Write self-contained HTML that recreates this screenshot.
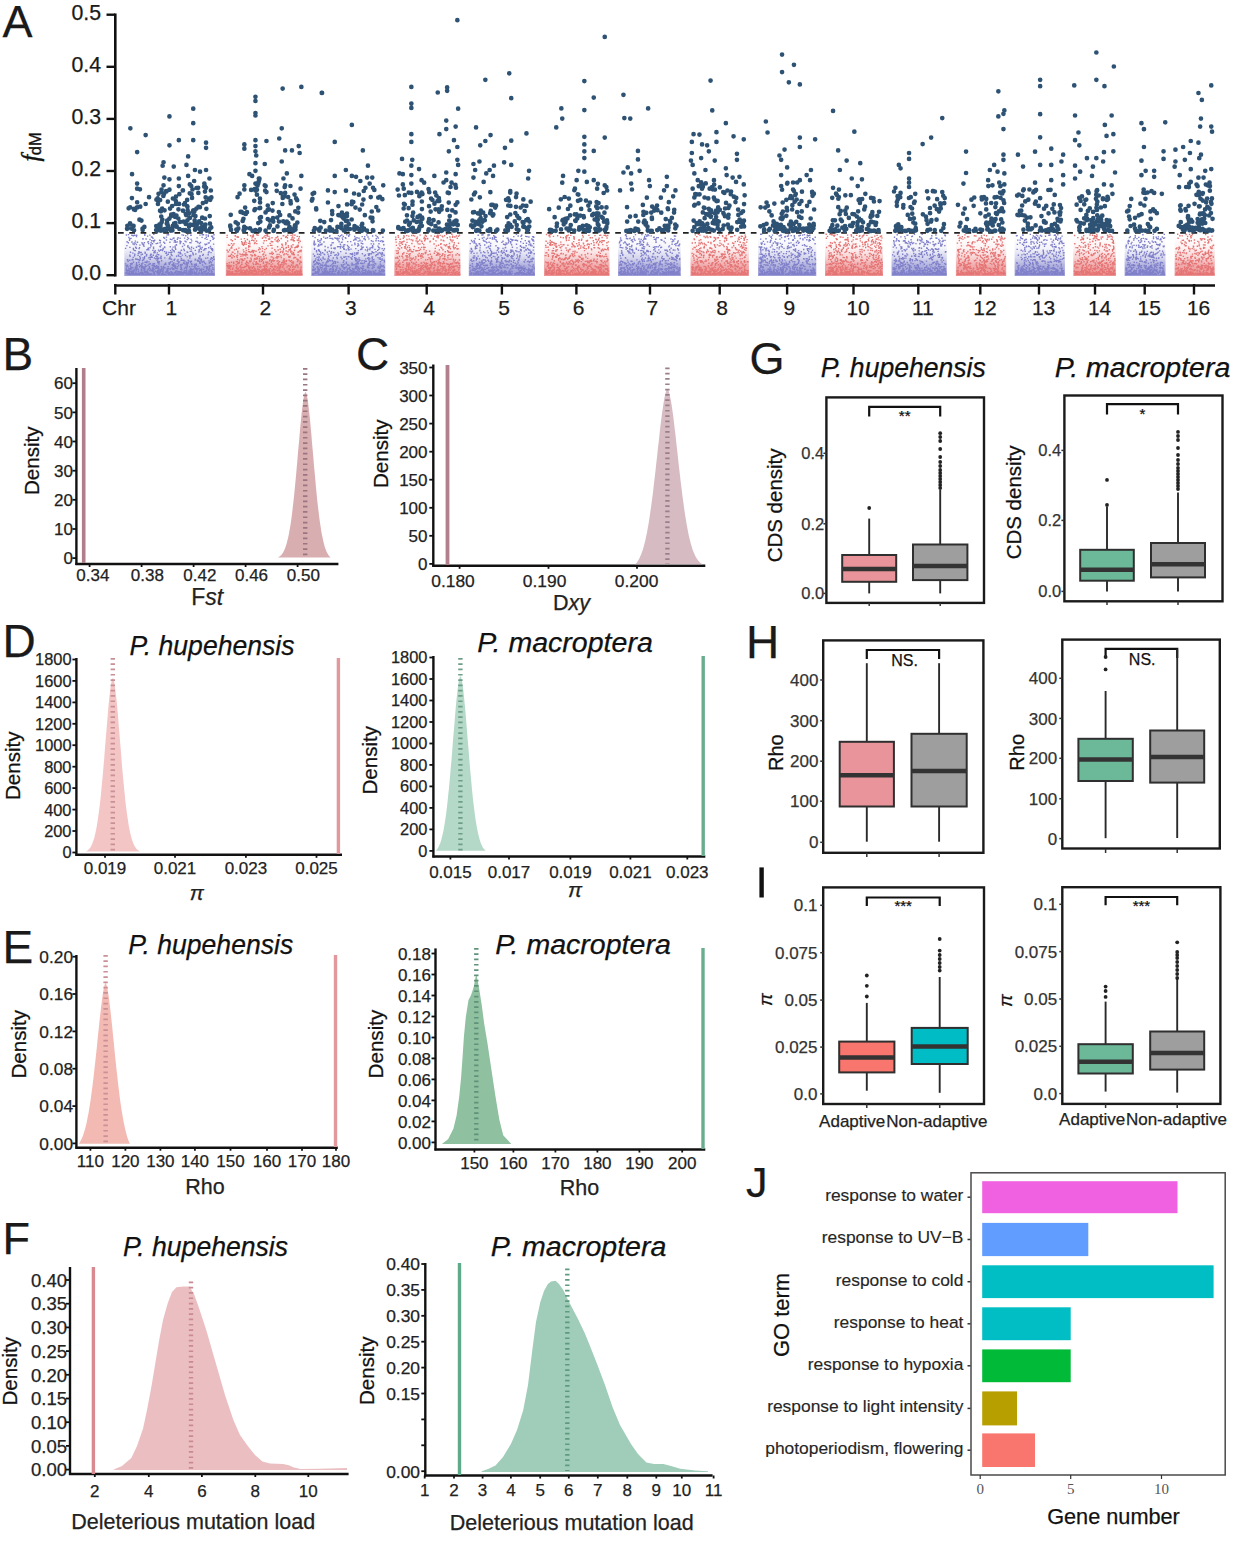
<!DOCTYPE html>
<html><head><meta charset="utf-8"><title>figure</title>
<style>html,body{margin:0;padding:0;background:#fff;width:1234px;height:1563px;overflow:hidden}svg{display:block}text{font-family:"Liberation Sans",sans-serif}</style>
</head><body><svg width="1234" height="1563" viewBox="0 0 1234 1563">
<rect width="1234" height="1563" fill="#fff"/>
<text x="2.5" y="37.0" font-size="45" text-anchor="start" fill="#1a1a1a" stroke="#1a1a1a" stroke-width="0.25">A</text>
<line x1="115.3" y1="13.5" x2="115.3" y2="276.5" stroke="#111" stroke-width="2.6"/>
<line x1="106.5" y1="275.2" x2="115.3" y2="275.2" stroke="#111" stroke-width="2.4"/>
<text x="101.0" y="280.0" font-size="21.3" text-anchor="end" fill="#1a1a1a" stroke="#1a1a1a" stroke-width="0.25">0.0</text>
<line x1="106.5" y1="223.1" x2="115.3" y2="223.1" stroke="#111" stroke-width="2.4"/>
<text x="101.0" y="227.9" font-size="21.3" text-anchor="end" fill="#1a1a1a" stroke="#1a1a1a" stroke-width="0.25">0.1</text>
<line x1="106.5" y1="171.0" x2="115.3" y2="171.0" stroke="#111" stroke-width="2.4"/>
<text x="101.0" y="175.8" font-size="21.3" text-anchor="end" fill="#1a1a1a" stroke="#1a1a1a" stroke-width="0.25">0.2</text>
<line x1="106.5" y1="118.9" x2="115.3" y2="118.9" stroke="#111" stroke-width="2.4"/>
<text x="101.0" y="123.7" font-size="21.3" text-anchor="end" fill="#1a1a1a" stroke="#1a1a1a" stroke-width="0.25">0.3</text>
<line x1="106.5" y1="66.8" x2="115.3" y2="66.8" stroke="#111" stroke-width="2.4"/>
<text x="101.0" y="71.6" font-size="21.3" text-anchor="end" fill="#1a1a1a" stroke="#1a1a1a" stroke-width="0.25">0.4</text>
<line x1="106.5" y1="14.7" x2="115.3" y2="14.7" stroke="#111" stroke-width="2.4"/>
<text x="101.0" y="19.5" font-size="21.3" text-anchor="end" fill="#1a1a1a" stroke="#1a1a1a" stroke-width="0.25">0.5</text>
<text transform="translate(38.5 161.5) rotate(-90)" font-size="25" fill="#111" stroke="#111" stroke-width="0.4"><tspan font-style="italic" font-size="24.5" style='font-family:"Liberation Serif",serif'>f</tspan><tspan font-size="16.5" dy="2" dx="-0.6">dM</tspan></text>
<line x1="114.0" y1="285.5" x2="1215.0" y2="285.5" stroke="#111" stroke-width="2.6"/>
<line x1="115.3" y1="284.0" x2="115.3" y2="294.5" stroke="#111" stroke-width="2.4"/>
<text x="119.0" y="314.8" font-size="21" text-anchor="middle" fill="#1a1a1a" stroke="#1a1a1a" stroke-width="0.25">Chr</text>
<line x1="169.0" y1="284.0" x2="169.0" y2="294.5" stroke="#111" stroke-width="2.4"/>
<text x="171.3" y="314.8" font-size="21" text-anchor="middle" fill="#1a1a1a" stroke="#1a1a1a" stroke-width="0.25">1</text>
<line x1="263.0" y1="284.0" x2="263.0" y2="294.5" stroke="#111" stroke-width="2.4"/>
<text x="265.3" y="314.8" font-size="21" text-anchor="middle" fill="#1a1a1a" stroke="#1a1a1a" stroke-width="0.25">2</text>
<line x1="348.6" y1="284.0" x2="348.6" y2="294.5" stroke="#111" stroke-width="2.4"/>
<text x="350.9" y="314.8" font-size="21" text-anchor="middle" fill="#1a1a1a" stroke="#1a1a1a" stroke-width="0.25">3</text>
<line x1="426.7" y1="284.0" x2="426.7" y2="294.5" stroke="#111" stroke-width="2.4"/>
<text x="429.0" y="314.8" font-size="21" text-anchor="middle" fill="#1a1a1a" stroke="#1a1a1a" stroke-width="0.25">4</text>
<line x1="501.9" y1="284.0" x2="501.9" y2="294.5" stroke="#111" stroke-width="2.4"/>
<text x="504.2" y="314.8" font-size="21" text-anchor="middle" fill="#1a1a1a" stroke="#1a1a1a" stroke-width="0.25">5</text>
<line x1="576.4" y1="284.0" x2="576.4" y2="294.5" stroke="#111" stroke-width="2.4"/>
<text x="578.7" y="314.8" font-size="21" text-anchor="middle" fill="#1a1a1a" stroke="#1a1a1a" stroke-width="0.25">6</text>
<line x1="650.0" y1="284.0" x2="650.0" y2="294.5" stroke="#111" stroke-width="2.4"/>
<text x="652.3" y="314.8" font-size="21" text-anchor="middle" fill="#1a1a1a" stroke="#1a1a1a" stroke-width="0.25">7</text>
<line x1="719.7" y1="284.0" x2="719.7" y2="294.5" stroke="#111" stroke-width="2.4"/>
<text x="722.0" y="314.8" font-size="21" text-anchor="middle" fill="#1a1a1a" stroke="#1a1a1a" stroke-width="0.25">8</text>
<line x1="787.1" y1="284.0" x2="787.1" y2="294.5" stroke="#111" stroke-width="2.4"/>
<text x="789.4" y="314.8" font-size="21" text-anchor="middle" fill="#1a1a1a" stroke="#1a1a1a" stroke-width="0.25">9</text>
<line x1="853.5" y1="284.0" x2="853.5" y2="294.5" stroke="#111" stroke-width="2.4"/>
<text x="858.1" y="314.8" font-size="21" text-anchor="middle" fill="#1a1a1a" stroke="#1a1a1a" stroke-width="0.25">10</text>
<line x1="918.3" y1="284.0" x2="918.3" y2="294.5" stroke="#111" stroke-width="2.4"/>
<text x="922.9" y="314.8" font-size="21" text-anchor="middle" fill="#1a1a1a" stroke="#1a1a1a" stroke-width="0.25">11</text>
<line x1="980.3" y1="284.0" x2="980.3" y2="294.5" stroke="#111" stroke-width="2.4"/>
<text x="984.9" y="314.8" font-size="21" text-anchor="middle" fill="#1a1a1a" stroke="#1a1a1a" stroke-width="0.25">12</text>
<line x1="1039.0" y1="284.0" x2="1039.0" y2="294.5" stroke="#111" stroke-width="2.4"/>
<text x="1043.6" y="314.8" font-size="21" text-anchor="middle" fill="#1a1a1a" stroke="#1a1a1a" stroke-width="0.25">13</text>
<line x1="1095.0" y1="284.0" x2="1095.0" y2="294.5" stroke="#111" stroke-width="2.4"/>
<text x="1099.6" y="314.8" font-size="21" text-anchor="middle" fill="#1a1a1a" stroke="#1a1a1a" stroke-width="0.25">14</text>
<line x1="1144.7" y1="284.0" x2="1144.7" y2="294.5" stroke="#111" stroke-width="2.4"/>
<text x="1149.3" y="314.8" font-size="21" text-anchor="middle" fill="#1a1a1a" stroke="#1a1a1a" stroke-width="0.25">15</text>
<line x1="1194.0" y1="284.0" x2="1194.0" y2="294.5" stroke="#111" stroke-width="2.4"/>
<text x="1198.6" y="314.8" font-size="21" text-anchor="middle" fill="#1a1a1a" stroke="#1a1a1a" stroke-width="0.25">16</text>
<defs><linearGradient id="gb" x1="0" y1="0" x2="0" y2="1"><stop offset="0" stop-color="#8585cc" stop-opacity="0.0"/><stop offset="0.3" stop-color="#8585cc" stop-opacity="0.1"/><stop offset="0.55" stop-color="#8585cc" stop-opacity="0.35"/><stop offset="0.72" stop-color="#8585cc" stop-opacity="0.62"/><stop offset="1" stop-color="#8585cc" stop-opacity="0.82"/></linearGradient><linearGradient id="gr" x1="0" y1="0" x2="0" y2="1"><stop offset="0" stop-color="#e87a7c" stop-opacity="0.0"/><stop offset="0.3" stop-color="#e87a7c" stop-opacity="0.1"/><stop offset="0.55" stop-color="#e87a7c" stop-opacity="0.35"/><stop offset="0.72" stop-color="#e87a7c" stop-opacity="0.62"/><stop offset="1" stop-color="#e87a7c" stop-opacity="0.82"/></linearGradient></defs>
<rect x="124.3" y="236.5" width="90.7" height="39.5" fill="url(#gb)"/>
<path stroke="#7f7fca" stroke-width="1.4" d="M164.9 263.2h1.4M206.8 266.9h1.4M169.8 262h1.4M141.2 265.2h1.4M180.7 250.3h1.4M133.1 271.5h1.4M132.8 249.2h1.4M186.3 274.4h1.4M211.9 237.3h1.4M182.8 260.6h1.4M138.8 274.4h1.4M171.7 274.3h1.4M141.7 272.6h1.4M127.5 267h1.4M163.9 246.9h1.4M170.8 259.4h1.4M169.1 258.2h1.4M165.4 272h1.4M213.3 234.7h1.4M199.3 255.6h1.4M152.8 272.8h1.4M150.4 274.3h1.4M192.8 269h1.4M199.9 269.4h1.4M209.8 246.5h1.4M124.8 273.1h1.4M205.5 266.8h1.4M211.8 269.1h1.4M131.3 259.9h1.4M193.9 272.2h1.4M132.5 270.8h1.4M210.3 252.6h1.4M135.3 272.6h1.4M133.8 274.3h1.4M195.5 273.5h1.4M174.4 267.6h1.4M141.7 254.2h1.4M136.4 259.2h1.4M135.1 268.4h1.4M143.7 272.2h1.4M210.9 249.6h1.4M151.8 243.7h1.4M143.5 269.2h1.4M200.6 259.3h1.4M133.7 235.2h1.4M143.7 272.4h1.4M193.3 270.9h1.4M151.1 274.3h1.4M132.8 262.2h1.4M146.4 261.3h1.4M157.8 267.4h1.4M209.9 266.3h1.4M175.8 245.1h1.4M141 273.7h1.4M205.4 248.6h1.4M146.9 273.4h1.4M190.4 239.4h1.4M142.2 238.6h1.4M203.1 261.2h1.4M162.2 274.1h1.4M128.2 237.5h1.4M145.9 255.8h1.4M147.6 248.2h1.4M177.7 271.7h1.4M140.4 254.9h1.4M130.9 272.8h1.4M174.4 246.2h1.4M179.3 272h1.4M206.2 273.2h1.4M126.3 272.2h1.4M164.3 274.3h1.4M140.4 269.9h1.4M175.6 273.9h1.4M156.9 243.3h1.4M211.8 258.5h1.4M186.1 262.1h1.4M137.2 274.4h1.4M126.4 241.8h1.4M187 237.5h1.4M126.7 259.6h1.4M167.6 254.3h1.4M153.1 234.3h1.4M131.5 263.8h1.4M190.2 242.6h1.4M190.2 255.9h1.4M195.2 241.4h1.4M156 256.9h1.4M204.7 244.8h1.4M161.8 250.5h1.4M201.4 262.6h1.4M180.2 269.6h1.4M176.5 260.9h1.4M131.9 259.4h1.4M212.9 244.1h1.4M189.4 269.4h1.4M190 262.3h1.4M163.9 247.2h1.4M132.2 253.1h1.4M127.4 261.3h1.4M167.5 272.8h1.4M186.7 265.8h1.4M179.3 241h1.4M147.5 274.4h1.4M151.5 257.3h1.4M142.8 273.6h1.4M205.1 258.3h1.4M164 243.2h1.4M153.8 258h1.4M142.4 268.1h1.4M196.3 241.5h1.4M202.9 269.5h1.4M176.5 271.2h1.4M136.9 265.8h1.4M199.1 246.4h1.4M187.9 238.6h1.4M149.4 273.6h1.4M164.8 272.1h1.4M143.8 268.6h1.4M180.3 265.9h1.4M152.8 247.1h1.4M211.9 267.4h1.4M131.4 274.4h1.4M202.2 274.4h1.4M187.7 262.7h1.4M152.2 250.4h1.4M126.5 273.9h1.4M165.1 274.4h1.4M198.4 272.7h1.4M137.3 274.4h1.4M180.6 267.6h1.4M180.7 258.6h1.4M196.4 237.9h1.4M185.5 273.2h1.4M166.9 273.5h1.4M125.8 266.7h1.4M188.1 273.5h1.4M149 270.5h1.4M186.7 264.9h1.4M179.3 252.7h1.4M159.7 250.4h1.4M205.2 274.2h1.4M207.5 254.8h1.4M136.3 267.4h1.4M180.3 241.8h1.4M158.2 262.8h1.4M202.8 250.1h1.4M208.6 267h1.4M182.6 273.2h1.4M188.8 248.6h1.4M181.7 255.1h1.4M143.7 242.6h1.4M211.8 236.3h1.4M172.4 250.5h1.4M153.2 241.8h1.4M200.7 270.5h1.4M132.1 267.8h1.4M173.6 251.9h1.4M168 274.4h1.4M196.6 274.3h1.4M195.7 273.6h1.4M154.5 250.7h1.4M137.3 273.8h1.4M170.6 254.7h1.4M199.3 256.7h1.4M208.7 266h1.4M209 274.2h1.4M144.4 264.6h1.4M150.5 254.4h1.4M181.5 264.8h1.4M199.6 263.2h1.4M152.4 269.6h1.4M199.8 242.5h1.4M143.3 246.3h1.4M210.7 264.7h1.4M175.6 273.2h1.4M172.3 265.5h1.4M178.5 274.4h1.4M210.8 265h1.4M160.3 249.8h1.4M174.7 266h1.4M186.1 274.3h1.4M172.6 268.6h1.4M209.7 240.7h1.4M148.7 266.7h1.4M136.1 268h1.4M197.2 242.5h1.4M167.1 271.2h1.4M141.8 260.5h1.4M206.9 274h1.4M193.9 274.4h1.4M142 272.9h1.4M185.7 271.1h1.4M156.3 260.4h1.4M134.1 254.3h1.4M135.7 265.3h1.4M147 273.3h1.4M171.8 267.9h1.4M158.1 268.7h1.4M171.8 273.7h1.4M142.9 259.8h1.4M181.4 264.5h1.4M200.3 260.8h1.4M200.8 272.8h1.4M190.5 249.1h1.4M204.9 271.2h1.4M152.7 240.8h1.4M144.1 234.4h1.4M203.5 273.9h1.4M146 254.5h1.4M147.8 274.2h1.4M198.6 268.4h1.4M194.9 274h1.4M160.5 256.9h1.4M126.4 273.2h1.4M185.3 241.7h1.4M210.7 274.1h1.4M169.7 252.6h1.4M169.4 256.9h1.4M141.6 274.3h1.4M134.2 274.4h1.4M173.7 265.1h1.4M175.2 273.8h1.4M141.2 273.2h1.4M199.3 235.1h1.4M207 274.2h1.4M130.3 238.4h1.4M165.8 252.2h1.4M153.8 266.9h1.4M170.5 268.1h1.4M178.1 274.4h1.4M187 246.8h1.4M140.9 267.3h1.4M190.4 268.9h1.4M142.1 273.6h1.4M170.3 274.4h1.4M204 249.7h1.4M187.3 245.6h1.4M180.6 268.9h1.4M178 265.5h1.4M212 249.5h1.4M147.7 241.7h1.4M190.8 251.3h1.4M197.1 268.9h1.4M204.3 244.1h1.4M186.4 252h1.4M192.7 268.9h1.4M188.9 274.3h1.4M155.1 266.8h1.4M125.7 270.3h1.4M181.5 260.2h1.4M145.4 239h1.4M183.9 270.7h1.4M183.3 262.8h1.4M172.1 269.4h1.4M213.5 259.3h1.4M187 252.4h1.4M211.7 274.4h1.4M179.4 253.8h1.4M147.6 269h1.4M129.3 273.3h1.4M158.1 274.2h1.4M147.1 242.1h1.4M173.6 265.4h1.4M210.6 262.8h1.4M213.1 259.5h1.4M196.6 274.3h1.4M177.8 252.5h1.4M128.8 240.2h1.4M139 266.7h1.4M139.8 265.8h1.4M179 274.3h1.4M208.6 268.4h1.4M171.5 261.5h1.4M157.2 271.9h1.4M182.9 263.2h1.4M149.9 255.1h1.4M151.1 274.4h1.4M146.5 274.4h1.4M138.7 252.8h1.4M159.4 242.8h1.4M191.2 274.3h1.4M212.5 239h1.4M131.3 242.1h1.4M162.9 266.5h1.4M211.1 272.6h1.4M171.2 239.6h1.4M188.9 266.8h1.4M211.6 248.7h1.4M178.3 274.1h1.4M180.2 267.3h1.4M142.9 274.3h1.4M171.6 274h1.4M164.1 257.9h1.4M165.2 272.3h1.4M176.4 268.5h1.4M193.8 264.4h1.4M213.3 238.3h1.4M189.9 272.7h1.4M134.9 243.1h1.4M194.4 260.1h1.4M156.7 272.1h1.4M185.6 263h1.4M177.3 259.7h1.4M191.6 273.4h1.4M146.9 236.1h1.4M206 244.2h1.4M128.3 274.3h1.4M148.8 268.3h1.4M180.1 274.1h1.4M172.8 274.3h1.4M132.5 257.4h1.4M173.6 259.8h1.4M157.9 266.5h1.4M143.5 270.6h1.4M190.9 247.2h1.4M131.4 274h1.4M196.6 260.2h1.4M193 273.1h1.4M162.4 272.4h1.4M196.6 269.9h1.4M182.8 235.2h1.4M153.7 263.7h1.4M191 240.9h1.4M162.7 269.9h1.4M133.4 244.5h1.4M131.8 274.2h1.4M174.8 266.2h1.4M185.6 271.6h1.4M193.6 274.3h1.4M143.7 258.2h1.4M132 271.5h1.4M189.1 256.4h1.4M149.9 273.8h1.4M156.5 254.6h1.4M157.3 274h1.4M187.7 262.8h1.4M206.3 239.4h1.4M205.8 267.9h1.4M196 271.5h1.4M153 269.1h1.4M207.7 243h1.4M146.8 270.1h1.4M157.2 270.1h1.4M159.9 269.4h1.4M142.1 263h1.4M195.5 264h1.4M199 263.1h1.4M140.5 252.5h1.4M202.9 271.9h1.4M126.8 265.1h1.4M173.1 262.9h1.4M210.5 258.8h1.4M196.1 274.3h1.4M173.3 250.6h1.4M132.3 274.2h1.4M190.2 242.7h1.4M132.3 259.7h1.4M137.6 253.4h1.4M182.4 272.6h1.4M144.4 252.1h1.4M171.1 252.2h1.4M159.8 270.7h1.4M210.7 257.6h1.4M168.6 264.2h1.4M188.7 255.6h1.4M206 268.7h1.4M198.1 258h1.4M200.5 249.4h1.4M198.8 243.5h1.4M209.8 259.4h1.4M171.3 255.5h1.4M196 268.4h1.4M162.1 273.8h1.4M190.5 235.1h1.4M158.1 273.6h1.4M142.9 268.3h1.4M150.7 236.9h1.4M130.1 271.4h1.4M135 259h1.4M193.6 273.5h1.4M130.3 267.2h1.4M176.6 241.9h1.4M128 274.1h1.4M141.2 273h1.4M145.7 255.1h1.4M177.6 272.9h1.4M141.2 271.9h1.4M140.1 252.6h1.4M152.5 263.7h1.4M197.3 266.4h1.4M147.9 243.6h1.4M205.9 270.6h1.4M173.3 238h1.4M167.6 273h1.4M129.2 238.8h1.4M195.9 269.5h1.4M171.6 265h1.4M149.2 235.1h1.4M183.1 272.7h1.4M125.8 266.7h1.4M157.8 250.1h1.4M188.1 261.1h1.4M138.8 273.7h1.4M153.3 272.3h1.4M201.9 265h1.4M181.3 234.9h1.4M148.4 264.3h1.4M138.2 251.8h1.4M124.9 248.4h1.4M199.9 248.3h1.4M132.1 272.2h1.4M188.4 274.2h1.4M167.4 266.8h1.4M209.6 262h1.4M200.8 271.5h1.4M194.8 268.5h1.4M206.1 274.2h1.4M198.1 273.1h1.4M173 264.7h1.4M138.8 247.6h1.4M152.4 271.3h1.4M131.5 271.4h1.4M166.2 255.2h1.4M156.7 256.8h1.4M134.2 269.2h1.4M165.8 237.1h1.4M198.4 258.6h1.4M125.9 269.7h1.4M187.8 272.7h1.4M174.8 267.2h1.4M125.7 235h1.4M195.7 273.1h1.4M179.4 271.8h1.4M158.2 264.1h1.4M151.3 270.7h1.4M159.6 258h1.4M147.5 273.2h1.4M189.7 270.9h1.4M208.6 263.1h1.4M189 270.9h1.4M198.1 274.2h1.4M137.3 274.2h1.4M184.9 255.6h1.4M140.8 269h1.4M199 261.7h1.4M132.8 272.9h1.4M138.7 274h1.4M160.9 274.3h1.4M206.5 268.2h1.4M170.2 259h1.4M192.8 248.4h1.4M159 270.9h1.4M161.4 274.4h1.4M160.3 256.1h1.4M211.9 250.5h1.4M183.4 260.9h1.4M126.4 270.9h1.4M155.2 258.8h1.4M134.2 269.7h1.4M170 250.6h1.4M198 260.8h1.4M138.8 252.1h1.4M204.9 263.7h1.4M156.1 265.7h1.4M137.4 255.3h1.4M212.3 265h1.4M188.3 247.4h1.4M142.3 239h1.4M180.4 273.3h1.4M132.2 272.6h1.4M175.9 256.3h1.4M154 240.3h1.4M156.8 267h1.4M135.8 236.6h1.4M136.8 242.3h1.4M173 263.2h1.4M174.5 272.3h1.4M205.5 235h1.4M197.3 261.3h1.4M135.7 248.2h1.4M150.4 242.8h1.4M146.2 262.6h1.4M198.5 273.4h1.4M173.4 274.3h1.4M127.6 273.5h1.4M212.3 239.4h1.4M183.2 271.4h1.4M184.3 253.9h1.4M158.7 261.7h1.4M196.1 274.4h1.4M142.5 266.9h1.4M137.5 269.4h1.4M175.3 273.5h1.4M170.9 272.3h1.4M175.2 270.9h1.4M181.7 274.4h1.4M184.3 273.8h1.4M209.9 261.4h1.4M166.5 268.7h1.4M180.1 256.7h1.4M192 253h1.4M167.9 234.8h1.4M199.2 246h1.4M161.1 268h1.4M175 242.2h1.4M171.5 264.7h1.4M163.1 242.2h1.4M153.2 274.3h1.4M189.2 242.6h1.4M189.7 261.5h1.4M191.5 271.5h1.4M177.4 274.3h1.4M135.8 267.6h1.4M169.4 269.2h1.4M129.4 256.4h1.4M171.5 272.7h1.4M152 269.2h1.4M145.7 274.3h1.4M205.6 237.2h1.4M183.8 245.1h1.4M162.2 249.5h1.4M144.5 253.3h1.4M175.1 242.3h1.4M133.5 250.4h1.4M135.8 264.2h1.4M209.2 274.4h1.4M146.4 271.6h1.4M153.6 274.3h1.4M204.2 248.8h1.4M160 270.3h1.4M176.7 274.4h1.4M127.6 242.7h1.4M152.1 265.7h1.4M207.6 236.3h1.4M166.7 273.2h1.4M151 240.8h1.4M204.3 273.3h1.4M199.1 270.3h1.4M166.7 273.6h1.4M202.8 234.7h1.4M142.7 259.8h1.4M141.8 244.1h1.4M129.2 274.1h1.4M189.2 271.3h1.4M204.7 244.9h1.4M188.1 273.9h1.4M186.5 239.6h1.4M164.3 274.2h1.4M144.6 271.4h1.4M187.8 273.3h1.4M140.9 272.7h1.4M183.7 250.5h1.4M157.8 258.2h1.4M203.2 261.8h1.4M145.1 271.5h1.4M207 257.9h1.4M149.4 259.4h1.4M132.8 235.8h1.4M163.9 264.5h1.4M171.9 274.4h1.4M178 271.9h1.4M147.1 249.6h1.4M132.5 271.9h1.4M191.8 272.6h1.4M149.6 263.7h1.4M141.3 242.8h1.4M212.4 274.4h1.4M165.7 253.1h1.4M158.9 240.3h1.4M169.1 273.5h1.4M174.1 259.1h1.4M156.7 258.4h1.4M194.3 265h1.4M169.6 246.7h1.4M185.5 264.9h1.4M209.2 273.5h1.4M194 273.6h1.4M178.7 272.7h1.4M163.9 251.6h1.4M194.6 250.4h1.4M145.7 266.1h1.4M144.4 262.3h1.4M169.1 274.4h1.4M177.7 255.2h1.4M175.6 244.7h1.4M140.8 273.8h1.4M126.4 265.8h1.4M163.4 267.8h1.4M148.1 249.9h1.4M131.2 242h1.4M175.3 263.9h1.4M195 272.7h1.4M137.8 271.3h1.4M128.6 271.3h1.4M179.9 264.7h1.4M148.3 261.9h1.4M132.6 248.4h1.4M140 272.4h1.4M139 256.6h1.4M198.5 250.7h1.4M130.2 268.7h1.4M157.1 273h1.4M210.9 274.4h1.4M168.2 252.4h1.4M212.3 273.8h1.4M165.2 253.4h1.4M128.3 272.7h1.4M203.8 273.9h1.4M159.7 271.6h1.4M162.4 274.3h1.4M127.8 234.6h1.4M192.5 254.1h1.4M145.2 272.4h1.4M173.8 272.6h1.4M165.7 240h1.4M157.1 270.7h1.4M211.8 260.8h1.4M128.3 269h1.4M182.4 274.3h1.4M155.2 256.4h1.4M201.5 261.8h1.4M203.4 267h1.4M159.7 246.8h1.4M158.6 251.1h1.4M143.9 270.5h1.4M141.1 263.7h1.4M139.3 273.2h1.4M143.8 266.9h1.4M152.2 267.6h1.4M212.9 257.3h1.4M201.3 273.2h1.4M158.8 274.3h1.4M186.1 270.1h1.4M149.1 274.4h1.4M140.9 272.3h1.4M159.7 240.7h1.4M188.2 272.2h1.4M156.8 273.8h1.4M207.9 270.2h1.4M192.7 254.7h1.4M205.3 274.4h1.4M153.4 269.5h1.4M132.2 243.9h1.4M153.6 251.8h1.4M170.9 274.3h1.4M159.7 272.7h1.4M128.4 273.8h1.4M177.6 274.4h1.4M152.5 268.3h1.4M173.1 273.9h1.4M187.5 272.3h1.4M189.2 258h1.4M137.9 273.2h1.4M149.7 255.4h1.4M160.8 269.4h1.4M201.6 272.9h1.4M150.7 270.5h1.4M143.9 274.4h1.4M127 259.9h1.4M175 249.2h1.4M211.3 271.6h1.4M184.3 241.1h1.4M144 256.7h1.4M183.9 238.1h1.4M201.8 272.7h1.4M180.9 274.2h1.4M162.7 269.3h1.4M130.1 269.5h1.4M153.9 265.8h1.4M149.6 273.7h1.4M160.5 266.6h1.4M139.6 258h1.4M146.1 274.2h1.4M155.1 268.4h1.4M138.2 262.2h1.4M187 263.5h1.4M186.9 274.4h1.4M159.5 270h1.4M130.4 268.9h1.4M129.6 265.8h1.4M176.8 266.8h1.4M153.7 272.4h1.4M126.9 270.5h1.4M203.9 262.9h1.4M148 257.9h1.4M141.3 266.8h1.4M179.4 238.2h1.4M157 262.5h1.4M208.4 251.7h1.4M180.4 260.3h1.4M161.3 268.6h1.4M149.3 247.8h1.4M202.8 269.6h1.4M205.5 274.4h1.4M136.8 265.4h1.4M152.2 270.2h1.4M211.5 273.8h1.4M141.9 272.8h1.4M185.1 272.7h1.4M124.9 263.9h1.4M159.7 272.7h1.4M168.6 258.8h1.4M173.4 260.2h1.4M174.5 247.7h1.4M210.7 270.8h1.4M155.5 243.6h1.4M152.6 255.2h1.4M186.5 256.9h1.4M210.3 248.2h1.4M138.9 260.3h1.4M168.3 263h1.4M157.6 271.9h1.4M191.2 264.3h1.4M145.8 272.5h1.4M153.6 273.5h1.4M170.4 274h1.4M130.4 274.3h1.4M133.9 255.8h1.4M134.8 267.4h1.4M193.3 266.4h1.4M139.2 245.1h1.4M202 274.3h1.4M147.3 265.4h1.4M195.4 269.3h1.4M188.3 272.5h1.4M188.3 271h1.4M154.4 252.5h1.4M199.5 247.9h1.4M175.1 268.4h1.4M187.5 260.2h1.4M198.5 249.8h1.4M135.9 269.7h1.4M184.2 272.8h1.4M141.2 274.4h1.4M176.7 239.3h1.4M210.9 273.9h1.4M185.8 268.5h1.4M180.8 269.2h1.4M207.6 235.3h1.4M129.1 255.3h1.4M135.3 274.4h1.4M150.2 254.3h1.4M212.9 274h1.4M154.1 274.4h1.4M172.9 266.3h1.4M157.9 271.4h1.4M195.8 247.2h1.4M150 269.3h1.4M179.6 252.1h1.4M211.8 269.4h1.4M186.4 263.8h1.4M195.8 273.8h1.4M140.3 274.1h1.4M207.6 272.5h1.4M168.1 274h1.4M153.5 274.4h1.4M175 273.8h1.4M180.3 272.1h1.4M145 266.3h1.4M157.3 272.3h1.4M129.3 274.3h1.4M204 271.4h1.4M131.8 273.4h1.4M167.7 234.5h1.4M142.7 245.1h1.4M167.8 268.6h1.4M196.4 269.2h1.4M129.9 263.6h1.4M183.1 260.2h1.4M149.4 239.5h1.4M201.5 234.8h1.4M164.1 247.5h1.4M189.1 273.5h1.4M127.2 273.6h1.4M135.3 274.3h1.4M156.6 252.9h1.4M152.3 265.1h1.4M125.7 273.1h1.4M209.9 274.4h1.4M171.6 249.2h1.4M195.1 254h1.4M160.2 249.6h1.4M198.2 252h1.4M212.3 274.1h1.4M209.1 269h1.4M187.4 272.5h1.4M205.5 274.4h1.4M176 272.9h1.4M159.3 269.9h1.4M183.1 249.1h1.4M157.1 259.5h1.4M156.2 272h1.4M205.1 271.1h1.4M133.2 270.8h1.4M190.6 273.1h1.4M190.7 263.8h1.4M185.1 273.5h1.4M134.2 273.8h1.4M155.9 268.1h1.4M125.6 265.6h1.4M160.6 271.1h1.4M172.4 238.4h1.4M143 244.1h1.4M153.3 252.8h1.4M134.4 235.4h1.4M163 237.5h1.4M144.3 268.8h1.4M187.4 273.5h1.4M149 257.4h1.4M208.9 271.1h1.4M141.1 270.2h1.4M212.6 273.8h1.4M181.1 269.7h1.4M181.9 273.1h1.4M179.5 243.5h1.4M200.8 260h1.4M169.6 262.9h1.4M134.9 247.2h1.4M186 267.4h1.4M183.8 268.5h1.4M158.9 272.8h1.4M178.1 262.6h1.4M170.5 274.4h1.4M180.4 267.6h1.4M177.4 261.6h1.4M207.4 273.8h1.4M166.4 234.9h1.4M190.3 271.3h1.4M190.1 235.2h1.4M160.5 245.1h1.4M136 235.2h1.4M168.4 272.8h1.4M199.3 258.9h1.4M208 247.8h1.4M195.6 265.2h1.4M212.9 274.3h1.4M202 255.4h1.4M147 249.4h1.4M165.1 264.2h1.4M201.6 273.3h1.4M149.6 259.2h1.4M131.3 263.4h1.4M194.6 266h1.4M146.2 249.8h1.4M200.6 251.8h1.4M173.5 242.1h1.4M195.5 273.8h1.4M157.3 274.1h1.4M128.1 270.5h1.4M201.5 247.5h1.4M135.2 273.5h1.4M159.3 246.4h1.4M179.5 242.4h1.4M131.2 235.3h1.4M143.1 259.9h1.4M202.6 254.5h1.4M142.3 257.9h1.4M163 274.4h1.4M154.9 271.2h1.4M180.7 272h1.4M178.3 256.4h1.4M140.8 274h1.4M186.3 266.9h1.4M136.3 274h1.4M208.3 260.9h1.4M156.5 273.3h1.4M213 256.6h1.4M190.1 270.2h1.4M152.3 268.8h1.4M137.8 259.8h1.4M162.5 248.5h1.4M161.1 267.2h1.4M169.7 239.3h1.4M155.5 255.9h1.4M145.6 262.3h1.4M150.1 244.7h1.4M150.2 246h1.4M184.8 267.3h1.4M207.6 269.4h1.4M190.7 261.3h1.4M164.6 274.3h1.4M162 271.9h1.4M163.9 238.2h1.4M150.8 256.4h1.4M184.4 272.6h1.4M161.3 273.9h1.4M204.2 272.5h1.4M162.1 270.6h1.4M197.6 246.3h1.4M177.2 263.8h1.4M133.6 242.9h1.4M132.6 270.1h1.4M158 254.7h1.4M184.2 270.6h1.4M204.4 238.6h1.4M126.9 259.7h1.4M166.4 270.1h1.4M166 271.2h1.4M184.3 261.1h1.4M210.9 236.3h1.4M212.8 269.2h1.4M198.3 258.9h1.4M187 234.5h1.4M130.7 267.1h1.4M160.4 258.5h1.4M144.1 235.2h1.4M143.4 269.9h1.4M137.5 269.2h1.4M190.6 274.2h1.4M139.6 258.9h1.4M180.1 253.6h1.4M147.3 249.1h1.4M189.6 251.4h1.4M135.4 266.8h1.4M126.2 245.6h1.4M208.6 242.9h1.4M126.9 270.4h1.4M172.3 264.3h1.4M134.7 250.6h1.4M151.5 265.4h1.4M135.9 262.8h1.4M136.3 274.2h1.4M170.2 271.7h1.4M193.8 272.6h1.4M161.5 274.3h1.4M144.1 267.4h1.4M174.3 267.2h1.4M200.3 274.1h1.4M200.2 273.7h1.4M210.9 264.7h1.4M160.9 260.8h1.4M201.4 237.4h1.4M161.5 274.4h1.4M138.4 248.6h1.4M189.9 255.4h1.4M138.7 264.4h1.4M127.3 274.1h1.4M151.5 237.2h1.4M181.8 246.5h1.4M128.9 268.6h1.4M131.7 272.3h1.4M134.7 241.1h1.4M154 266.1h1.4M182.8 243.6h1.4M208.7 262.8h1.4M169.2 242.3h1.4M159.8 271.6h1.4M190.4 272.4h1.4M157.4 268.2h1.4M167.1 270.2h1.4M163 267.4h1.4M129.2 247.4h1.4M130.3 264.6h1.4M173.4 269.1h1.4M144.6 274.2h1.4M157.8 271.3h1.4M167.7 272.8h1.4M191.3 266.1h1.4M125.6 268.9h1.4M210.5 274.4h1.4M177.4 237.7h1.4M157.2 261.5h1.4M157.5 271.5h1.4M178.8 261.9h1.4M152.8 265.8h1.4M170.6 252.9h1.4M129.5 274.2h1.4M147.1 272.1h1.4M195.4 268.3h1.4M201.1 269h1.4M150.1 257.2h1.4M132.4 235.7h1.4M198.6 270.9h1.4M152.9 248.5h1.4M194.7 259.3h1.4M129.8 252.2h1.4M129.1 260.2h1.4M173.8 240.4h1.4M181.5 274.4h1.4M207.7 252.9h1.4M176.2 274.4h1.4M190.2 268.5h1.4M185.1 235.7h1.4M206.1 274.3h1.4M194.1 267.8h1.4M191.5 269.7h1.4M164.5 267.9h1.4M135.3 271.1h1.4M190 274.3h1.4M135.1 247.5h1.4M183.9 263.7h1.4M134.8 274h1.4M152.3 238.2h1.4M174.5 240.8h1.4M143.5 268.6h1.4M172.4 247.1h1.4M135.7 244.6h1.4"/>
<rect x="225.8" y="236.5" width="76.8" height="39.5" fill="url(#gr)"/>
<path stroke="#e57474" stroke-width="1.4" d="M261.6 274.4h1.4M258.6 269.7h1.4M276.7 240.4h1.4M263.2 256.7h1.4M255.3 251.3h1.4M234.2 253.6h1.4M238.8 262h1.4M241.4 270.5h1.4M238.6 270.4h1.4M270.5 264.9h1.4M255.4 262.6h1.4M289.3 270.2h1.4M270 266.4h1.4M299.6 270.9h1.4M278.5 272.8h1.4M245.8 254.3h1.4M269.3 272.4h1.4M231.1 248.1h1.4M254.5 255.1h1.4M258.7 260.5h1.4M268.2 236.4h1.4M294.3 267.3h1.4M262.7 272.8h1.4M282.6 274.1h1.4M249.2 246.5h1.4M228.9 256.2h1.4M268.8 263.6h1.4M251.2 273.8h1.4M297.4 252.2h1.4M286.6 274.2h1.4M284.9 273h1.4M241.2 264.3h1.4M271.9 274h1.4M283.5 262.2h1.4M293.6 240.7h1.4M277.9 270.1h1.4M297.4 255h1.4M248.1 245.8h1.4M280.7 272.2h1.4M244.9 274.4h1.4M266.5 272.4h1.4M248.2 272.5h1.4M236.1 266.2h1.4M246.7 271.9h1.4M247.1 265.3h1.4M291.7 273.7h1.4M290.6 246h1.4M271.9 263.9h1.4M281.2 264.3h1.4M275.7 241.1h1.4M284.3 272.3h1.4M230.4 239.7h1.4M253.4 250.7h1.4M243.8 267.4h1.4M254 254.4h1.4M296.9 265.5h1.4M268.6 270.4h1.4M243.7 238.6h1.4M234.5 239.3h1.4M275.5 274.3h1.4M293.7 274.1h1.4M268.6 274h1.4M300.3 271.4h1.4M291.5 274.3h1.4M276.1 274.3h1.4M228.5 262.7h1.4M299.8 256.9h1.4M290.3 250.9h1.4M265.3 274.3h1.4M265.7 273.4h1.4M265.7 270.3h1.4M263.6 273.3h1.4M279 268.5h1.4M262.6 274.3h1.4M262.7 263.3h1.4M299 263.1h1.4M236.4 271.6h1.4M251.4 256h1.4M296.5 236.4h1.4M297.4 240.6h1.4M290.5 239.8h1.4M227.8 266.1h1.4M270.5 256.9h1.4M272.1 260.7h1.4M296.1 274.2h1.4M265.1 237.8h1.4M228.7 274.1h1.4M291.3 238h1.4M228.1 274.4h1.4M288.4 256.8h1.4M265.2 262.3h1.4M283 249.3h1.4M226.4 274.3h1.4M285.7 236.4h1.4M288.6 268.8h1.4M251.4 270.5h1.4M227.4 251.8h1.4M245.9 262h1.4M265.7 270.8h1.4M276.8 267.3h1.4M243.8 244h1.4M239.4 273.8h1.4M245.3 266.5h1.4M284.9 270.8h1.4M244.1 258.6h1.4M245.8 264.8h1.4M245.4 244.3h1.4M240.1 272.8h1.4M248.9 270.9h1.4M280.6 257.6h1.4M285.4 264.1h1.4M232.2 252.2h1.4M244.6 273h1.4M257.3 235.2h1.4M254 270.3h1.4M294.4 235.1h1.4M255.3 273.9h1.4M285.4 251h1.4M251.6 250.5h1.4M254.7 271.8h1.4M270.7 253.6h1.4M261.9 248.6h1.4M227.3 265.7h1.4M254.8 274.3h1.4M294.7 273.8h1.4M241.7 244.3h1.4M298.1 240.1h1.4M251.9 240.1h1.4M236.9 255.3h1.4M297 273.3h1.4M236.5 257.3h1.4M292.3 254.5h1.4M297.3 267.3h1.4M254.1 274h1.4M246.7 239.5h1.4M231.7 273.4h1.4M252.3 274.3h1.4M249.3 273.4h1.4M235.5 264.6h1.4M266.7 262.9h1.4M283.3 264.6h1.4M297.1 274.2h1.4M243 274.3h1.4M249.4 252.4h1.4M295.4 265.5h1.4M238.3 270.9h1.4M268.8 271.7h1.4M285.6 236.7h1.4M260.7 261.2h1.4M289.6 267h1.4M240.6 239.1h1.4M299.4 274.4h1.4M283.4 269h1.4M230.2 273.7h1.4M239.2 253.9h1.4M242.1 274.4h1.4M242.7 249.9h1.4M263.6 258.7h1.4M261.1 273.4h1.4M227.4 271.5h1.4M229.4 272.3h1.4M272.6 269.9h1.4M261.7 260.2h1.4M250 270.2h1.4M292.4 262.3h1.4M257.5 264.1h1.4M260.7 270.8h1.4M294.6 272.8h1.4M296.3 246.1h1.4M292.3 273.7h1.4M264.4 235.6h1.4M247.9 273.6h1.4M280.4 272.7h1.4M270 273.7h1.4M297.2 271.9h1.4M233.6 256.8h1.4M252.3 263.2h1.4M263.5 240.8h1.4M264.8 269.7h1.4M226.4 265.8h1.4M246.4 262.6h1.4M273.6 267.1h1.4M233 265.8h1.4M262.3 259.3h1.4M298.9 272h1.4M259.4 274.2h1.4M286.1 272.7h1.4M288.3 250h1.4M245.3 242.4h1.4M264 268.3h1.4M267.8 238.9h1.4M262.9 266.3h1.4M248 247h1.4M263.9 270.6h1.4M241 273h1.4M288.7 249.6h1.4M299.5 241.2h1.4M277.5 250h1.4M279.5 249.2h1.4M286.2 273.5h1.4M287.2 271.5h1.4M244.6 241h1.4M228 265.2h1.4M252 250.4h1.4M272 241.7h1.4M296.1 259.1h1.4M231.1 257.9h1.4M234.5 235.8h1.4M291.5 271.3h1.4M240.2 256.4h1.4M283 235.6h1.4M272.9 274h1.4M280.7 274.3h1.4M291.2 251.9h1.4M285 244.6h1.4M268.9 239.1h1.4M274.1 266h1.4M255.1 270.3h1.4M228 273.7h1.4M285.8 272.8h1.4M275.2 251.5h1.4M278.2 265h1.4M249.9 272.1h1.4M240.3 259h1.4M277.6 239.2h1.4M251 240.4h1.4M294.5 271.8h1.4M297.5 260.4h1.4M298.3 251.6h1.4M251.2 272h1.4M265.4 266.1h1.4M228.9 245.4h1.4M266.4 266.7h1.4M282 272.5h1.4M241.2 262.3h1.4M244.4 271h1.4M231.5 274.3h1.4M252.9 264.6h1.4M297.3 259.4h1.4M257.3 268.9h1.4M243.9 266.6h1.4M298 274h1.4M258.7 256.9h1.4M283.3 263.4h1.4M274.3 239.5h1.4M293.8 272.5h1.4M266.8 234.5h1.4M265.8 273.4h1.4M283.6 274.3h1.4M237.5 263.6h1.4M246.7 254.9h1.4M280.7 271.1h1.4M283.7 259h1.4M279.1 267.2h1.4M258.6 274.1h1.4M261.8 238.2h1.4M292.8 274.3h1.4M231.6 272.2h1.4M278.2 267.9h1.4M235.9 268.3h1.4M269.2 253.5h1.4M256.4 258.9h1.4M277.3 260.6h1.4M229.8 255.5h1.4M235.9 274.3h1.4M261.7 274.4h1.4M231.8 269.3h1.4M261.3 274.1h1.4M297.6 246.2h1.4M262.7 261.9h1.4M249.9 235.7h1.4M235.3 271.5h1.4M242.8 245.2h1.4M264.4 268.7h1.4M256.1 243.6h1.4M245.6 250.4h1.4M279.3 267.5h1.4M253.7 267.9h1.4M260.2 271.2h1.4M273 268.7h1.4M249 251.6h1.4M260.3 266.7h1.4M292.1 267.3h1.4M254.4 242.7h1.4M299.3 250.8h1.4M256.3 257.7h1.4M281.7 271.6h1.4M280.5 238.6h1.4M275.4 257.8h1.4M258.8 258.7h1.4M243.2 251.8h1.4M266.6 236h1.4M251.9 255.4h1.4M227.6 268.6h1.4M283.6 272.3h1.4M272.2 273h1.4M256.1 234.8h1.4M241 241.6h1.4M230.8 262.2h1.4M287.7 247.3h1.4M255.6 261.8h1.4M279.6 252.4h1.4M282.1 262.3h1.4M245.1 255.8h1.4M268.3 263.9h1.4M300.1 273.9h1.4M284.7 271h1.4M280.6 238.5h1.4M246.8 262.9h1.4M265.8 265.9h1.4M238.8 260.1h1.4M293.1 258.1h1.4M247.9 249.4h1.4M257.7 273.8h1.4M271.6 267.1h1.4M265.9 235.1h1.4M268.9 238.3h1.4M252.7 252.5h1.4M231.9 271.6h1.4M278.1 256.7h1.4M288.3 269.6h1.4M246.8 270.2h1.4M266.5 274.4h1.4M254.3 258.5h1.4M237.4 271.3h1.4M291.6 239.9h1.4M245 273.5h1.4M235.1 274.2h1.4M285.7 253.8h1.4M246.1 266.1h1.4M278.3 274.4h1.4M287.6 245.6h1.4M242.1 255.9h1.4M278.6 270.7h1.4M292 273h1.4M261.7 271.3h1.4M259.4 249h1.4M268.9 260.9h1.4M300.1 272.9h1.4M243 260.4h1.4M237.5 237.4h1.4M251.8 267.8h1.4M258.6 247.9h1.4M294.8 257.4h1.4M239.1 270.3h1.4M279.1 273h1.4M292.3 244.7h1.4M243.2 270.1h1.4M243.4 255h1.4M229.8 256.3h1.4M231 247h1.4M266.9 262.2h1.4M233.4 274.4h1.4M252.7 235.6h1.4M271.2 245.4h1.4M231 274.1h1.4M227.9 256.3h1.4M239.5 272.1h1.4M276.2 256.4h1.4M250.4 266.9h1.4M247.9 263.1h1.4M252.9 270.2h1.4M244.9 271.7h1.4M245.8 274.4h1.4M249.5 261.7h1.4M246.4 274.1h1.4M289.6 266.8h1.4M264.6 271.3h1.4M292.7 252.8h1.4M272.9 258.3h1.4M278.1 265.7h1.4M257.2 269.3h1.4M264 266.8h1.4M265.9 264.3h1.4M285.3 243.2h1.4M243.1 274.4h1.4M248.8 274.4h1.4M285.9 260.4h1.4M247.7 273.3h1.4M291.3 247.3h1.4M277.4 256.6h1.4M282 267.3h1.4M256 263.5h1.4M292.2 235h1.4M294.9 247.4h1.4M231.9 272.6h1.4M298.9 263.9h1.4M264.8 271.4h1.4M290.8 265h1.4M300.4 274.3h1.4M300.6 274.4h1.4M237.4 269.4h1.4M274.1 274.1h1.4M268.4 239.4h1.4M258.9 252.3h1.4M270.6 262.2h1.4M239.3 267h1.4M293.6 257.5h1.4M242.5 267.6h1.4M267 270.7h1.4M269.5 259.8h1.4M227.6 273h1.4M275.4 273h1.4M231.7 252.3h1.4M251.3 237.9h1.4M268.1 274.1h1.4M273.9 272.3h1.4M287.2 254.7h1.4M283 274.3h1.4M228.9 250h1.4M236.8 273.2h1.4M228.5 273.7h1.4M261.7 237.9h1.4M250.3 272.3h1.4M288.2 273.4h1.4M273.8 260.6h1.4M296.3 274.4h1.4M268.4 269.5h1.4M287.9 272.5h1.4M279.8 273.4h1.4M263.3 237h1.4M244.2 272h1.4M294.9 257.5h1.4M231.2 273.4h1.4M244 271.8h1.4M289.5 256.1h1.4M299.6 257.8h1.4M273.3 269.5h1.4M280 265.9h1.4M230.7 266h1.4M255 264.4h1.4M229.9 274.4h1.4M299.8 269.9h1.4M251 273.8h1.4M270.6 241.4h1.4M239.8 265.7h1.4M263.7 252.1h1.4M268.6 272.7h1.4M240.5 254.6h1.4M232.1 245.3h1.4M228.8 273.4h1.4M261.3 246.8h1.4M272.6 253.4h1.4M283.2 254.8h1.4M230.2 248.1h1.4M237.3 273.7h1.4M229.1 274.4h1.4M291.9 269.6h1.4M232.8 274.4h1.4M289.6 261.3h1.4M294.8 274.4h1.4M234.7 271.8h1.4M240.6 274.1h1.4M241.3 259.4h1.4M238.9 273.6h1.4M266.4 269.7h1.4M237.5 262.8h1.4M264.3 269.4h1.4M261.8 274.4h1.4M272.3 273.3h1.4M251.4 274.4h1.4M292.7 261.9h1.4M255.6 264h1.4M296.6 273.9h1.4M255 255.6h1.4M254.1 255.7h1.4M294.2 274.4h1.4M247.6 271.7h1.4M282.4 250.9h1.4M278.6 240.6h1.4M240.2 269.2h1.4M290.1 252.1h1.4M234.7 236h1.4M281.7 245.2h1.4M253.4 261.1h1.4M298 242.7h1.4M269.5 243.4h1.4M301 247.1h1.4M275.4 237.7h1.4M237.1 268.9h1.4M268.5 273.9h1.4M284.7 274.3h1.4M273.3 272h1.4M250.4 261h1.4M240.6 267.6h1.4M290.4 235.4h1.4M245.9 270h1.4M278.2 273.4h1.4M289.8 273.3h1.4M267.9 270.7h1.4M226.4 274.4h1.4M226.4 270.9h1.4M246.9 235h1.4M274 274.3h1.4M279.9 272.8h1.4M262.3 254.8h1.4M290.4 239.8h1.4M257.8 271.2h1.4M256 271.3h1.4M281.8 267h1.4M277.6 273.8h1.4M284.9 237.2h1.4M241.5 260.6h1.4M238.4 274.4h1.4M257.3 273.4h1.4M281 262.6h1.4M276.8 237.1h1.4M230.7 274.2h1.4M229 267.2h1.4M288 257h1.4M267.3 245.9h1.4M254.1 274.1h1.4M274.3 274.4h1.4M243.5 274.4h1.4M238.4 274.3h1.4M266.1 274h1.4M271.4 248.2h1.4M252.1 274h1.4M276.5 254.4h1.4M292.4 263.5h1.4M269.8 245.4h1.4M277 236.5h1.4M247.8 251.5h1.4M273.6 266.8h1.4M227.1 266.5h1.4M246 261.3h1.4M264.4 265.3h1.4M230.7 273.9h1.4M271.7 257.1h1.4M300.4 250.3h1.4M248 267.3h1.4M264.1 249.6h1.4M255.8 241h1.4M262.5 269.1h1.4M262.2 270.2h1.4M301.1 274.4h1.4M256.2 274.2h1.4M277 273.8h1.4M237.5 268.3h1.4M271.3 252.2h1.4M259.5 271.7h1.4M253.8 243.5h1.4M242.3 274.4h1.4M292.6 266.3h1.4M236.2 273.9h1.4M292.9 253.2h1.4M231.1 257.5h1.4M242.3 267.6h1.4M271.6 274.3h1.4M296.3 270.8h1.4M237.1 251.2h1.4M234.5 274.4h1.4M275.1 266.8h1.4M293.7 250.5h1.4M241.7 274.4h1.4M271.4 266.8h1.4M248.8 241.3h1.4M241.9 259.2h1.4M231.8 240.7h1.4M297.3 260.5h1.4M250.3 254.7h1.4M293.9 250.2h1.4M229.3 265.5h1.4M236.8 263.8h1.4M297.4 245.2h1.4M244.9 263.5h1.4M250 273.6h1.4M281.9 252.5h1.4M251.5 268.4h1.4M278.4 254.5h1.4M261 274h1.4M233.5 273.6h1.4M288.1 265.8h1.4M274.5 270h1.4M253.9 273.5h1.4M299.2 261.1h1.4M235.9 255.9h1.4M271 260.7h1.4M283.9 261h1.4M291.9 236.9h1.4M256.7 258.9h1.4M254.3 268.7h1.4M253.7 259h1.4M252.7 270.4h1.4M289.6 249.9h1.4M276.9 246.8h1.4M255.2 259.2h1.4M245.1 271.2h1.4M233.8 249.9h1.4M295.2 271.5h1.4M254.6 274h1.4M236.9 259.5h1.4M293 274.2h1.4M245.3 252.5h1.4M243.2 244.3h1.4M252.7 266.7h1.4M241.4 271.8h1.4M258.1 272h1.4M280.8 274.4h1.4M274.1 249.7h1.4M250.7 273.3h1.4M235.3 274.3h1.4M285.6 261.2h1.4M227.4 267.4h1.4M271.1 271.1h1.4M228.9 268.4h1.4M252.7 236.7h1.4M253.2 240.8h1.4M291.2 262.6h1.4M235.7 249.3h1.4M233 263.3h1.4M233.6 274.2h1.4M257 273.7h1.4M300.5 262.4h1.4M293.4 238h1.4M283 259.1h1.4M261.7 251.3h1.4M276.4 273.7h1.4M265.9 268.7h1.4M264.9 255.3h1.4M277.8 262.8h1.4M285.3 248.1h1.4M233.2 273.8h1.4M229.8 273.7h1.4M298 271.4h1.4M259.1 266.9h1.4M268.5 272h1.4M284.5 270.9h1.4M289.6 249.6h1.4M226.4 263.7h1.4M233.3 243.8h1.4M231.5 272.2h1.4M283.8 261.8h1.4M276.2 268.7h1.4M265.2 273.2h1.4M260.9 272.4h1.4M276.8 274.1h1.4M236.6 273.3h1.4M266.2 262.2h1.4M226.5 235.4h1.4M288.8 269.6h1.4M238.2 248.1h1.4M299.4 273.5h1.4M282.9 248.6h1.4M296.4 273.1h1.4M235.3 273.6h1.4M243.6 242.6h1.4M294.4 266.6h1.4M235.8 270.4h1.4M244.3 258.9h1.4M280.2 251.4h1.4M259 267.2h1.4M261.3 269.9h1.4M260.3 256.9h1.4M279.5 271h1.4M268.7 273.8h1.4M229.7 269.4h1.4M253.2 274.4h1.4M232.2 268.3h1.4M296.8 247.2h1.4M228.6 271.2h1.4M253.9 271.3h1.4M236.6 261.8h1.4M289.1 269.6h1.4M239.5 274.1h1.4M227.4 252.1h1.4M243.6 254.7h1.4M285.4 274.2h1.4M240.4 271.2h1.4M283.8 253.9h1.4M249 267.4h1.4M252.9 266.7h1.4M285.7 272.3h1.4M286.9 241h1.4M271.3 237.8h1.4M296.5 273.6h1.4M300.5 273.2h1.4M286.5 274h1.4M248.9 267.7h1.4M289.1 257.2h1.4M241.5 242.8h1.4M291 265.3h1.4M230.1 271.9h1.4M248.2 268.5h1.4M296.8 261.6h1.4M287.6 274.3h1.4M244.7 254.2h1.4M251.8 272.9h1.4M231 274.3h1.4M257.1 263.8h1.4M256.2 263h1.4M248.1 274.4h1.4M276.7 270.8h1.4M263.1 269.7h1.4M246.5 274.3h1.4M248.5 271.6h1.4M234.9 274.4h1.4M262.3 274.4h1.4M292 270.2h1.4M259.5 264.7h1.4M228.1 274.1h1.4M285 263.4h1.4M263.2 270.6h1.4M282.5 265.5h1.4M285.6 247.4h1.4M293.2 254.6h1.4M276.7 267.1h1.4M266.2 262.3h1.4M265.6 248.5h1.4M290.5 274.3h1.4M282.6 260.6h1.4M271.1 241.9h1.4M230 266.6h1.4M254.4 238.7h1.4M238.6 263.1h1.4M237.1 252.9h1.4M262.9 254h1.4M249.3 243.9h1.4M226.8 272.9h1.4M281.2 244.2h1.4M284.4 272.1h1.4M232.4 255.6h1.4M281 274.3h1.4M296.2 264.6h1.4M228.8 266.4h1.4M251.6 274.1h1.4M292.5 239.8h1.4M235.6 267.6h1.4M246.8 257.7h1.4M234.5 270.8h1.4M257 266.7h1.4M258.9 261.5h1.4M296.6 240.1h1.4M294.2 247.8h1.4M243.4 272.6h1.4M260.7 259.2h1.4M271.7 270.4h1.4M300.5 271.3h1.4M227.8 274.2h1.4M242 254.3h1.4M289.2 274.4h1.4M244 272.6h1.4M285.1 242.8h1.4M246 274.1h1.4M298.6 236.8h1.4M279.9 266.7h1.4M282.2 252h1.4M264.4 272.1h1.4M265.6 258.2h1.4M250.6 259.4h1.4M237.3 236.8h1.4M242.1 272.9h1.4M298.1 238.6h1.4M295.5 247h1.4M289.8 248.4h1.4M268.7 274.3h1.4M281 247.4h1.4M289 274.4h1.4M230.9 254.3h1.4M262.8 243.1h1.4M300.4 267.6h1.4M276.8 258h1.4M278.2 270h1.4M274.1 274.3h1.4M293.6 254.7h1.4M286.3 267.1h1.4M241.6 267.4h1.4M277.2 263.7h1.4M234.4 274.4h1.4M256.1 272.6h1.4M243.3 272.9h1.4M257.4 256.4h1.4M294.6 257.4h1.4M227.8 245h1.4M271.8 254.2h1.4M272.2 270.3h1.4M251.7 274.3h1.4M276 274.3h1.4M277.2 241.7h1.4M276.3 261.1h1.4M286.7 237.8h1.4M287.1 235.2h1.4M260.7 274.4h1.4M272.3 259.5h1.4M290.9 260.8h1.4M253.5 274.4h1.4M288.4 260.2h1.4M300 261.7h1.4M290.1 251.7h1.4M300.4 267.1h1.4M293.4 269.2h1.4M227.1 271h1.4M252.6 235h1.4M255.8 272.1h1.4M278 274.2h1.4M249.2 269.2h1.4M235.6 261.5h1.4M257.9 249.7h1.4M251.7 236.3h1.4M240.9 264.4h1.4M243.2 274.4h1.4M248.9 242.9h1.4M248.1 266.1h1.4M265.5 272.2h1.4M266.3 274.3h1.4M252.4 271.9h1.4M287.3 251.8h1.4M278.7 261.6h1.4M291.1 253.7h1.4M230.4 273.9h1.4M282.2 247.1h1.4M300.3 251.5h1.4M238.1 262.9h1.4M273 261.1h1.4M236.4 237h1.4M264.5 272.2h1.4M299.7 269.5h1.4M231.5 257.8h1.4M245.7 273h1.4M248.9 261h1.4M250.2 258.1h1.4M294 235.1h1.4M292.8 240.9h1.4M245.2 248.2h1.4M233 262.2h1.4M232 274.2h1.4M297.3 274h1.4M279.9 264.6h1.4M226.4 250.3h1.4M230.8 243.6h1.4M287.5 265.8h1.4M259.7 274.4h1.4M278.7 274.4h1.4M265.7 240.6h1.4M277 274h1.4M280.2 256h1.4M250.9 251.7h1.4M269.6 268.6h1.4M265.6 272h1.4M247.8 243.4h1.4M252.4 251.7h1.4M253.7 273.4h1.4M226.4 237.4h1.4M282.5 235.9h1.4"/>
<rect x="311.3" y="236.5" width="74.0" height="39.5" fill="url(#gb)"/>
<path stroke="#7f7fca" stroke-width="1.4" d="M354.2 274.3h1.4M323.6 274.3h1.4M355.9 260.3h1.4M380.6 271.6h1.4M328.6 272.9h1.4M322.4 274.4h1.4M347.3 268.5h1.4M338.3 238.5h1.4M334.4 248h1.4M350.1 274.1h1.4M313.9 260.9h1.4M374.8 274.3h1.4M362.3 272.8h1.4M361.3 247.6h1.4M364.2 272.6h1.4M323 237.1h1.4M377.7 240.7h1.4M350.8 274.3h1.4M338.4 241.8h1.4M316.6 271.7h1.4M314.8 244.1h1.4M337.3 274.2h1.4M337.4 273.2h1.4M343 260.6h1.4M359.2 274.2h1.4M350.3 274.3h1.4M343.6 249.3h1.4M330.7 248.3h1.4M329.4 269.3h1.4M368.9 274.4h1.4M351.7 264.2h1.4M363.3 238.7h1.4M361.8 272.9h1.4M326.1 266.4h1.4M332.1 263.5h1.4M318.3 256.4h1.4M341.8 274.3h1.4M320.5 239.8h1.4M372.9 244h1.4M339.9 235.6h1.4M324 254.6h1.4M379.6 273.1h1.4M312.1 274h1.4M317.8 249.6h1.4M355.4 266.5h1.4M320 259.2h1.4M321.7 273.9h1.4M354.6 259.2h1.4M369.5 248h1.4M321.7 271.5h1.4M322.2 266h1.4M313.8 245h1.4M360.9 249.3h1.4M347 241.6h1.4M371.9 247.8h1.4M369.8 273h1.4M336.7 274.3h1.4M366.8 266.7h1.4M382.8 271.8h1.4M342.8 245.1h1.4M381.6 252.7h1.4M375.3 240.7h1.4M331.4 260.5h1.4M316.4 257.4h1.4M380.4 265.4h1.4M322.3 262.8h1.4M316.5 267.1h1.4M317.6 268.5h1.4M370.7 253.8h1.4M373.3 267.2h1.4M343.6 274.3h1.4M368.6 262.8h1.4M341.2 273.8h1.4M344.8 274.3h1.4M320.4 274.2h1.4M342.4 273.9h1.4M371.4 260.9h1.4M374.2 263.5h1.4M323.3 272h1.4M372.2 262.1h1.4M358.3 259.8h1.4M315.3 273.2h1.4M342.9 246.8h1.4M379.7 261.8h1.4M330.5 274.4h1.4M352 268.8h1.4M378.8 273.2h1.4M326.5 274.4h1.4M313.9 249.3h1.4M374.5 273.7h1.4M312.9 262.5h1.4M329.5 260.7h1.4M377.4 253.3h1.4M332 261h1.4M332.6 252.5h1.4M330.4 244.9h1.4M360.6 243.2h1.4M336.7 238.2h1.4M353.7 272.4h1.4M358.4 271.3h1.4M320 274.4h1.4M355.8 272.6h1.4M319 251.4h1.4M322 252.8h1.4M331.5 270.1h1.4M378.9 247.9h1.4M371.9 236h1.4M355.3 239.8h1.4M356.6 262.2h1.4M335.1 269.6h1.4M352.8 272.5h1.4M358 245.3h1.4M363.7 272.9h1.4M313.8 270h1.4M343.1 246.6h1.4M351.2 265h1.4M355.4 263.5h1.4M360.6 263.3h1.4M351.6 272.7h1.4M320.7 267.8h1.4M375.6 238.8h1.4M332.9 262.5h1.4M349.1 267.3h1.4M324.6 250.6h1.4M317.9 272.8h1.4M331.9 273.2h1.4M325.7 274.2h1.4M349.5 273.6h1.4M358.1 261.4h1.4M356.8 266.4h1.4M355.9 271.7h1.4M345.2 256.7h1.4M327.3 254.1h1.4M354 236.5h1.4M356.2 263.7h1.4M367.1 271.8h1.4M338.6 268.1h1.4M364.7 255h1.4M325.1 238.2h1.4M382.5 265.8h1.4M383.5 260.3h1.4M339.5 274.2h1.4M313 261.8h1.4M363.5 260.6h1.4M368.2 267.9h1.4M365.2 261.2h1.4M357.5 263.7h1.4M359.8 263.2h1.4M318.3 257.5h1.4M362.5 268.2h1.4M381.6 266.4h1.4M323.8 265.2h1.4M337.6 273.6h1.4M375.8 273.5h1.4M363.1 273.6h1.4M349 234.6h1.4M318.2 245.7h1.4M312.2 236.2h1.4M377.2 267.5h1.4M357.7 267.1h1.4M323.6 270.3h1.4M343.6 244.9h1.4M320 264.1h1.4M345.7 263.5h1.4M368.8 261.4h1.4M335.1 238.2h1.4M354.9 272.1h1.4M351.2 245.1h1.4M315.1 259h1.4M346.9 271.8h1.4M323.3 272.8h1.4M343.3 268.4h1.4M355.1 272.1h1.4M356.4 266.7h1.4M369.1 249.5h1.4M328.9 236.3h1.4M351.1 270.8h1.4M330.1 255.4h1.4M343.2 257h1.4M330.2 245.6h1.4M330.8 244.9h1.4M343.4 269h1.4M353.4 264.8h1.4M351.3 263.2h1.4M380.2 253.5h1.4M318.4 235.3h1.4M312.9 274.3h1.4M370.7 272h1.4M313.9 273.5h1.4M347.5 246.8h1.4M313.2 273.6h1.4M312.7 274.3h1.4M334.5 266h1.4M381.5 258.9h1.4M373.3 261.8h1.4M377.3 257.6h1.4M329.1 269.8h1.4M346.3 274.1h1.4M378.3 266.3h1.4M326.2 266h1.4M369.8 272.1h1.4M354.1 274.2h1.4M329.2 273.4h1.4M348.2 256.8h1.4M328.2 256.7h1.4M354 253h1.4M383.5 270.8h1.4M383.5 267.3h1.4M348.5 273.5h1.4M317.9 259.1h1.4M319.2 274.4h1.4M317.9 264h1.4M325.9 272.3h1.4M367 267.6h1.4M322.4 257.3h1.4M383.4 260.3h1.4M343.8 264.1h1.4M362.4 247.2h1.4M368.4 272.5h1.4M368 274.1h1.4M321 265.4h1.4M325.1 263.1h1.4M332.2 239.1h1.4M343 248.8h1.4M379.8 267.4h1.4M367.1 266h1.4M340.6 274h1.4M359.2 240.9h1.4M361.3 271.2h1.4M349.6 270.3h1.4M340 251.6h1.4M312.3 266.4h1.4M348.7 273.8h1.4M364.5 272.4h1.4M340.8 272.5h1.4M354.8 268.1h1.4M361 268.3h1.4M368.2 263.6h1.4M319.4 266h1.4M330 271.6h1.4M380.1 266.4h1.4M365 273.7h1.4M357.1 274h1.4M327.8 274h1.4M313.6 242h1.4M381.2 270h1.4M312.7 254.1h1.4M359.5 274.4h1.4M367 274.3h1.4M328.6 251.3h1.4M367 272.8h1.4M348.4 249.8h1.4M355.3 264.7h1.4M325.1 274.3h1.4M325.3 264.7h1.4M354.7 267.1h1.4M357.6 263h1.4M358.3 268.7h1.4M372.4 264.4h1.4M375.2 235.5h1.4M371.4 251.7h1.4M361.5 263.5h1.4M329.6 274.1h1.4M359.4 272.5h1.4M355.9 263.7h1.4M355.5 268.2h1.4M329 271.5h1.4M362 243.7h1.4M334.8 271.3h1.4M344 268.2h1.4M357.3 252.7h1.4M367.1 249.2h1.4M364 236.7h1.4M344.1 267.6h1.4M358.7 271.3h1.4M371.5 268.5h1.4M351.9 264.9h1.4M338 274.4h1.4M331.8 266.6h1.4M380.3 273.9h1.4M376.8 236.7h1.4M368.8 272h1.4M313.2 244.1h1.4M316.7 271.6h1.4M379.4 257.6h1.4M371.1 247.5h1.4M324.6 265.5h1.4M318.6 269.7h1.4M347.5 248.7h1.4M332.6 258h1.4M322 272.4h1.4M316 262.3h1.4M354 255.3h1.4M342 239.6h1.4M363.8 262.8h1.4M374.7 273.5h1.4M332.8 263.6h1.4M355 238.1h1.4M360.7 274.4h1.4M379.8 266.9h1.4M326.6 252.3h1.4M357 246h1.4M351.5 272.4h1.4M345.7 266.9h1.4M337.1 262.3h1.4M322.5 272.4h1.4M320.3 274.4h1.4M349.6 253.9h1.4M340.8 242.4h1.4M355.6 258.4h1.4M332.4 242.7h1.4M336.9 246.7h1.4M329.4 238.4h1.4M361 273.5h1.4M364.5 273.7h1.4M339.5 269.7h1.4M335.9 270.1h1.4M323.4 269.1h1.4M318.5 250.1h1.4M337.3 255.4h1.4M342.6 236.5h1.4M375.1 255.8h1.4M372.3 241.5h1.4M378.8 268.7h1.4M354.5 274.3h1.4M338 270.9h1.4M356.6 274.4h1.4M366.1 274.3h1.4M342.2 266.2h1.4M372.4 259.8h1.4M322.4 258h1.4M328.7 260.5h1.4M341.6 238.1h1.4M344.1 272.1h1.4M334.1 237.9h1.4M336.9 272.6h1.4M350.3 257.8h1.4M379.5 274.2h1.4M335.5 254.7h1.4M347.5 256.6h1.4M360.4 274.2h1.4M315.4 273.5h1.4M333.7 273.5h1.4M332.5 274.1h1.4M313.7 264.7h1.4M366.4 273.7h1.4M318.6 254.4h1.4M317.5 273.9h1.4M347.1 271.6h1.4M368.3 265.4h1.4M349.5 269.8h1.4M313.8 248.4h1.4M339.8 248h1.4M319.4 268.1h1.4M350.7 273.7h1.4M317.1 239.8h1.4M379.4 234.3h1.4M351 254.2h1.4M355.1 266.5h1.4M324.2 259.3h1.4M343.7 257.3h1.4M314.8 271.7h1.4M319.9 252.3h1.4M346.3 271.8h1.4M368.1 264.9h1.4M332.7 269.3h1.4M311.9 274.3h1.4M314.4 237.6h1.4M375 263.9h1.4M379.6 264.1h1.4M360.9 274.1h1.4M343.2 260.8h1.4M341.3 258.7h1.4M336.5 258.6h1.4M326.8 266.1h1.4M342.6 264.6h1.4M315.8 272.6h1.4M363.3 273.6h1.4M346.1 234.8h1.4M355.7 254.1h1.4M367.3 237h1.4M339.7 269.2h1.4M366.1 274.4h1.4M345.5 272.1h1.4M351.9 254.2h1.4M373.8 265.4h1.4M361.6 274.2h1.4M359.3 240.2h1.4M356.1 266h1.4M348.6 268.7h1.4M324.7 273.3h1.4M369 265.1h1.4M314.6 260.6h1.4M371.6 258.8h1.4M324.8 238.4h1.4M324.9 265.3h1.4M344.9 273.6h1.4M331 273.4h1.4M323.9 274.4h1.4M358.3 258h1.4M329.9 238.4h1.4M342.3 267.3h1.4M378.6 258.9h1.4M345.3 253.3h1.4M365.1 271.4h1.4M316.8 254.2h1.4M365.7 261.3h1.4M320.2 253.4h1.4M324.4 250h1.4M356.6 259.5h1.4M317.2 270h1.4M364.6 274.1h1.4M314.6 268.7h1.4M373.2 259.9h1.4M328.4 274.2h1.4M372.1 246.9h1.4M362.3 273.1h1.4M365.9 274.4h1.4M324.2 271.1h1.4M380.7 274.4h1.4M323.4 254.1h1.4M366.7 272.2h1.4M317.3 246.1h1.4M381.7 241.9h1.4M352.6 274.2h1.4M365.1 258.9h1.4M371.7 252.5h1.4M348 236.3h1.4M345.1 267.6h1.4M357.7 250.6h1.4M354.1 239.3h1.4M331.4 242.9h1.4M375 270.5h1.4M313.9 261.3h1.4M356.4 237.7h1.4M352 254.7h1.4M366.5 273.6h1.4M359.8 267.9h1.4M327.4 272.1h1.4M337.9 254h1.4M351.5 271.1h1.4M315.8 250.7h1.4M366.1 247.3h1.4M368.4 274.3h1.4M332 267h1.4M333.2 248.2h1.4M326.5 274.4h1.4M344.3 274.3h1.4M313.9 261.1h1.4M355.3 264h1.4M316.9 263.2h1.4M349.4 271.5h1.4M327.9 273.7h1.4M346.6 270h1.4M354 257.6h1.4M331.7 261h1.4M330.4 253.4h1.4M326.5 261.6h1.4M364.8 249.9h1.4M350 241.6h1.4M382.8 250.4h1.4M337.6 272.2h1.4M356.9 274h1.4M324.5 274.2h1.4M358.7 269.4h1.4M378.1 249.4h1.4M350.1 270.6h1.4M334.9 274.3h1.4M319.8 244.7h1.4M333.3 274.4h1.4M382.4 269.6h1.4M367.6 267.4h1.4M381.5 274.2h1.4M345.9 259h1.4M313.6 241.2h1.4M336.2 257.3h1.4M317.5 274.3h1.4M318 250.6h1.4M379.6 241.3h1.4M350 274.2h1.4M367.8 265.4h1.4M368.1 259.7h1.4M352.6 273.6h1.4M322.1 274.2h1.4M342.9 271.8h1.4M380.5 274.3h1.4M366.5 274h1.4M319.2 240.8h1.4M327.6 261.6h1.4M353.9 269.1h1.4M337 273.9h1.4M361.9 269.8h1.4M355.1 248.6h1.4M317.3 268.3h1.4M337.2 240h1.4M356.5 273.3h1.4M344.8 274.4h1.4M348.8 274.3h1.4M321.7 265.3h1.4M350.5 273.1h1.4M353.8 271.3h1.4M362.4 274.3h1.4M372.4 267.5h1.4M324.2 271.7h1.4M357 274.2h1.4M377.5 272.9h1.4M341.4 274.3h1.4M344.6 237.6h1.4M325.3 273.5h1.4M351.2 259.4h1.4M322.1 273h1.4M355.3 272.7h1.4M313.8 256.4h1.4M374.3 249.4h1.4M373.4 273.1h1.4M334.1 261.4h1.4M356.1 260.1h1.4M351.6 272.8h1.4M329 274.2h1.4M315.9 262.2h1.4M318 244.4h1.4M380.8 273.8h1.4M381.3 260.2h1.4M312.2 269.5h1.4M337.8 271.4h1.4M316.6 272.6h1.4M313 267.5h1.4M346.5 272.8h1.4M378.3 243.7h1.4M347.8 249.7h1.4M337.2 252.9h1.4M367.8 270.4h1.4M365.1 270.4h1.4M324.3 268.5h1.4M320 255h1.4M329.9 265.8h1.4M370 261.4h1.4M377.2 254.6h1.4M361.7 253.7h1.4M361.5 241.1h1.4M354.6 258.3h1.4M351.4 264.3h1.4M379.6 271.6h1.4M325.5 265.6h1.4M334.2 255.3h1.4M357.6 274.4h1.4M326.8 260.4h1.4M340.3 257.2h1.4M345.6 274.1h1.4M361.5 236.6h1.4M318.4 260.6h1.4M356 260.7h1.4M348.2 265.4h1.4M383 244.7h1.4M343.1 248.9h1.4M359.9 249.5h1.4M383.7 274.3h1.4M327.1 272.8h1.4M370.7 240.7h1.4M328.1 266.2h1.4M375.8 254.8h1.4M354.1 243.1h1.4M378.3 274.2h1.4M381.3 271.7h1.4M356 252.9h1.4M333 271.4h1.4M377 250.4h1.4M382.1 274.2h1.4M356.9 253.7h1.4M380.7 254.6h1.4M332 274.1h1.4M324.3 272.3h1.4M352.9 271.1h1.4M322.5 274.2h1.4M361.2 248.8h1.4M320.7 265.1h1.4M382.4 270.1h1.4M350.3 249.1h1.4M313.5 244.6h1.4M367.6 253.9h1.4M336.5 266h1.4M379.5 274.3h1.4M317.7 259.4h1.4M380.4 273.8h1.4M325.4 267.1h1.4M368.6 263h1.4M359.3 274.3h1.4M326.2 262h1.4M364 274.2h1.4M318.3 271.3h1.4M341.6 270.8h1.4M324.1 274.3h1.4M358.3 238.3h1.4M357.5 241.1h1.4M320.9 260.6h1.4M338.1 246.6h1.4M354.9 260.7h1.4M377.6 238.1h1.4M321.7 267.9h1.4M317.9 263.2h1.4M327.9 256.2h1.4M337.4 274.4h1.4M375.8 274h1.4M331.1 264.9h1.4M315.9 251.7h1.4M363.4 274h1.4M356.5 274h1.4M350 274.2h1.4M332.1 267.5h1.4M351 258.6h1.4M378.5 270.8h1.4M337 273.1h1.4M364.9 270h1.4M327.1 273.3h1.4M342.1 247.3h1.4M343.3 248.9h1.4M345.7 262.2h1.4M330.2 268.8h1.4M364 274.2h1.4M344.5 272.5h1.4M332.7 270.7h1.4M326.1 262.5h1.4M314.7 272.7h1.4M330.8 273.5h1.4M371.9 256.9h1.4M375.7 273.9h1.4M325.3 271.3h1.4M348.4 247.5h1.4M371.9 245.6h1.4M313 274.4h1.4M336 268.2h1.4M312.3 270.4h1.4M321 244.6h1.4M326.9 271.2h1.4M324.4 246.5h1.4M319.9 267.8h1.4M327.7 272.6h1.4M383.4 255.3h1.4M364.8 270.3h1.4M382.2 237.3h1.4M357.6 272.9h1.4M315.3 263.9h1.4M346.8 245.4h1.4M383.7 248.7h1.4M329.2 235.6h1.4M355.9 274.4h1.4M326.8 237.8h1.4M369.1 253.7h1.4M359.5 274.4h1.4M379.2 271.6h1.4M367.4 264.1h1.4M347 264.6h1.4M377.9 247.4h1.4M340.2 246.2h1.4M324.4 270.4h1.4M334.9 274.4h1.4M340.7 274.4h1.4M381.5 248.6h1.4M346.3 274.3h1.4M330.7 251.7h1.4M332.9 274.2h1.4M342.6 262.4h1.4M320.9 269.7h1.4M351.9 253.4h1.4M341.1 235h1.4M330.2 253.1h1.4M317.5 241.4h1.4M351 273.6h1.4M370.5 243.9h1.4M321.2 243.9h1.4M380.8 270.3h1.4M368.7 254.9h1.4M352.6 269.4h1.4M334.3 248.8h1.4M368.2 238.9h1.4M316.7 262.7h1.4M362.6 273h1.4M313.3 243.1h1.4M368 255.3h1.4M335.8 267.9h1.4M370.3 274.2h1.4M363.8 255.7h1.4M345.1 238.3h1.4M357.3 243.8h1.4M325.8 268.8h1.4M332.8 265.7h1.4M366.1 235h1.4M377.3 246.1h1.4M382 254.1h1.4M364.9 274.2h1.4M341.1 266.1h1.4M319.4 242.5h1.4M338.6 272.6h1.4M317.7 264.2h1.4M336 238.7h1.4M357.5 268.1h1.4M323.1 274.3h1.4M361.3 260.8h1.4M347.4 265.4h1.4M341.4 242.1h1.4M315.8 272.8h1.4M369 271.2h1.4M335.7 268.1h1.4M333.1 252.5h1.4M318.7 263.4h1.4M363.2 270.6h1.4M364.3 270.3h1.4M356.6 274.1h1.4M334.7 263.2h1.4M355.8 267h1.4M314.5 264.1h1.4M374.1 272.1h1.4M326.8 260.3h1.4M328.5 274.1h1.4M317.1 260.1h1.4M375.3 251.7h1.4M354.3 244.5h1.4M372.9 272.2h1.4M339.2 236.6h1.4M379.7 259.3h1.4M357.2 270.6h1.4M318.3 270.9h1.4M328.4 259.8h1.4M359 259.9h1.4M377.4 274.4h1.4M326.6 274.1h1.4M338.4 241.5h1.4M345.5 249.9h1.4M325 270.3h1.4M369.3 271.7h1.4M364.4 261.4h1.4M359 274.4h1.4M337.7 235.6h1.4M338.8 272h1.4M383.8 261.8h1.4M361.9 266.3h1.4M356.7 269.4h1.4M331.6 271.7h1.4M328.2 256.4h1.4M318.1 274h1.4M348.3 235.2h1.4M368.1 257.8h1.4M365.2 273.2h1.4M348.6 274.4h1.4M349.2 274.4h1.4M320.1 274h1.4M336.7 266.6h1.4M327.5 274.3h1.4M320.6 238.6h1.4M382.7 241.5h1.4M321.6 273.2h1.4M375.1 274.4h1.4M322.5 258.9h1.4M381.2 240.6h1.4M372.6 271.2h1.4M364.6 239.7h1.4M376.6 236.8h1.4M366.7 250.7h1.4M362.3 268.4h1.4M353.1 240.2h1.4M353 274.4h1.4M344 244.8h1.4M362.8 266.3h1.4M379.1 252.7h1.4M327.9 256h1.4M374.4 274.4h1.4M379.3 268.1h1.4M372.9 274.4h1.4M334.8 271.5h1.4M327.5 258.4h1.4M369.1 258.9h1.4M377.3 274.1h1.4M332.4 269h1.4M368.9 253.8h1.4M383.1 244.7h1.4M350 253.7h1.4M370.7 264.9h1.4M360.7 246.1h1.4M371.7 273.7h1.4M314 255.7h1.4M370.5 273.4h1.4M373.1 252.7h1.4M323.6 273.7h1.4M359.2 260.2h1.4M323.3 242h1.4M327.3 247.5h1.4M379.9 274h1.4M362.3 263.6h1.4M377.7 267.7h1.4M341.5 272.8h1.4M372.8 271.1h1.4M377.4 274.4h1.4M375.8 274.4h1.4M363.9 238.6h1.4M334.9 261.8h1.4M341.6 274.3h1.4M372.2 265.9h1.4M369.5 274.4h1.4M323.5 272.8h1.4M370.6 274.4h1.4M313.4 269.7h1.4M339.6 246.6h1.4M373.6 272.7h1.4M365.2 270.2h1.4M367 258.3h1.4M316.9 266.8h1.4M342.3 267.2h1.4M351.8 256.6h1.4M340.8 264.9h1.4M371.4 257.2h1.4M325.7 273.9h1.4M331.4 238.5h1.4M339.7 244.2h1.4M381.3 256.2h1.4"/>
<rect x="394.3" y="236.5" width="66.2" height="39.5" fill="url(#gr)"/>
<path stroke="#e57474" stroke-width="1.4" d="M418.5 253.4h1.4M427 238.4h1.4M427 259.6h1.4M438.8 259.9h1.4M406.2 262.8h1.4M422.3 257.2h1.4M444.5 273.2h1.4M418.5 272.4h1.4M456.5 266h1.4M423.7 237.3h1.4M445 245.7h1.4M427.1 274h1.4M418.7 274.2h1.4M420.5 267.4h1.4M425.6 236.2h1.4M429 273.6h1.4M406.3 257.2h1.4M427.9 268.8h1.4M426.5 268.8h1.4M438.3 261.7h1.4M397.9 265.8h1.4M410.9 262.2h1.4M424.5 252.4h1.4M456.7 253.6h1.4M434.5 265.4h1.4M402.1 254.3h1.4M407.4 269.6h1.4M432.3 272.2h1.4M450.2 263.8h1.4M457.2 274.4h1.4M424.6 271.1h1.4M431.7 258.9h1.4M432.7 239.4h1.4M423.1 269.9h1.4M442.9 263.5h1.4M412.1 240.9h1.4M409.3 274.3h1.4M429.3 241.8h1.4M449.7 248.7h1.4M434 265.2h1.4M413.5 273.6h1.4M423.2 247.6h1.4M430.4 235.9h1.4M446.2 263.9h1.4M432.7 268.5h1.4M453 247.6h1.4M406.3 242.4h1.4M438.3 270.2h1.4M442.6 268.4h1.4M439.3 265.5h1.4M435.3 240.9h1.4M452 266.4h1.4M419.7 255.2h1.4M437.6 274.2h1.4M427.5 272h1.4M436.4 273.6h1.4M413.9 272.5h1.4M412.8 262.9h1.4M450.2 259.3h1.4M436.3 252.4h1.4M419.9 268.2h1.4M436.6 273.1h1.4M443.2 240.9h1.4M451.3 274.3h1.4M453.6 272.9h1.4M403.2 260.5h1.4M417.1 273.5h1.4M433.8 264.2h1.4M429.3 265.2h1.4M434.4 251.3h1.4M441.1 255.8h1.4M447.9 266.8h1.4M435.9 274.1h1.4M400 267.4h1.4M438.5 272.7h1.4M456.4 271.8h1.4M426.3 266.8h1.4M457.1 273.7h1.4M411 259.7h1.4M418.1 270.6h1.4M403.3 241.2h1.4M423.2 262.4h1.4M410.5 239.7h1.4M401.6 256.2h1.4M399 264.4h1.4M415.7 238.5h1.4M423 247.1h1.4M396.7 272.7h1.4M458.1 269.9h1.4M397.3 272.3h1.4M418.1 264.6h1.4M419.3 271.5h1.4M425.3 266.8h1.4M406.5 265h1.4M431.8 262.6h1.4M442.3 267.4h1.4M408.5 239.1h1.4M402.4 271.5h1.4M421.6 268.7h1.4M408.3 245.6h1.4M414.2 263.8h1.4M433.9 273.9h1.4M422.5 273.9h1.4M429.6 254.3h1.4M449.6 239.4h1.4M402.1 267.2h1.4M437.6 269.8h1.4M455.4 265.9h1.4M450.6 274.3h1.4M419.8 256.3h1.4M448.6 265.9h1.4M449.9 252.5h1.4M421.3 255.6h1.4M427.9 274.1h1.4M452.5 246.8h1.4M452.1 272.7h1.4M444.7 274.4h1.4M426.9 271.5h1.4M427.2 269.5h1.4M430.1 268h1.4M443.5 258.4h1.4M412.6 273.3h1.4M410.1 271h1.4M422.1 265.5h1.4M443.9 235.8h1.4M411.6 271.7h1.4M428.1 274.4h1.4M435.6 274.4h1.4M432.9 262h1.4M419.4 235.1h1.4M414.8 274.4h1.4M401.7 272.7h1.4M442.2 253.8h1.4M417.5 243.9h1.4M405.3 272.8h1.4M431.5 264.4h1.4M445.5 271.4h1.4M452.7 259.8h1.4M439.1 262.6h1.4M408.4 263h1.4M455.3 274.4h1.4M416 271.4h1.4M411.2 251.7h1.4M436.4 273.9h1.4M440 244.2h1.4M399 274.4h1.4M433.4 244h1.4M430.1 265.4h1.4M420.9 262.9h1.4M453.4 261.5h1.4M442.7 266.9h1.4M451.5 251.9h1.4M427.5 271.5h1.4M414.1 236.1h1.4M435.9 274.3h1.4M428.2 268.2h1.4M433.2 271.9h1.4M452.9 266.3h1.4M448 272.3h1.4M451.8 263.8h1.4M429.8 268h1.4M455.3 263.1h1.4M429.1 270.1h1.4M424.2 272.1h1.4M423.4 272.3h1.4M399.7 270h1.4M396.6 258.1h1.4M400.9 242.2h1.4M415.2 272.1h1.4M430.1 271.7h1.4M441.3 271.5h1.4M453.9 274.4h1.4M398.4 243.9h1.4M439 272.3h1.4M436.1 270.2h1.4M427.4 272.1h1.4M429.5 258.9h1.4M449.1 272.4h1.4M431.4 262.9h1.4M450.9 266.4h1.4M450.3 240.6h1.4M421 268.9h1.4M457 262.3h1.4M428.9 251.3h1.4M433.6 265h1.4M437 272.3h1.4M419.1 274.4h1.4M441.1 248.2h1.4M442.1 236.7h1.4M443.3 274.1h1.4M415.4 240.9h1.4M401.7 244.3h1.4M446 273.8h1.4M408.3 254.2h1.4M436.7 274.4h1.4M428.8 273.4h1.4M449.9 264.2h1.4M395.7 269.2h1.4M395.5 242.1h1.4M451.8 255h1.4M394.9 239.5h1.4M411.7 258.8h1.4M443.8 263.2h1.4M402.2 272.6h1.4M441.7 274h1.4M419 240h1.4M421.1 273.8h1.4M436.5 270.4h1.4M445.5 270h1.4M448 248.1h1.4M406.2 263.8h1.4M423.4 274h1.4M453.4 270.6h1.4M434.1 274.3h1.4M455.8 236h1.4M438.7 273.9h1.4M437.4 266.8h1.4M425.2 273h1.4M404.5 246.7h1.4M433.6 253.3h1.4M442.3 269h1.4M430.1 271.5h1.4M436.9 268.1h1.4M445.1 271.7h1.4M419.3 274.2h1.4M397.3 273h1.4M395.9 268.3h1.4M419.2 244h1.4M397.5 235.6h1.4M400.9 247.8h1.4M417.8 272.6h1.4M434 270.3h1.4M395.8 273.9h1.4M438.4 254.9h1.4M458.6 272.4h1.4M444.2 270.6h1.4M427.9 272h1.4M421.2 241.5h1.4M411 268.3h1.4M453.1 267.4h1.4M447 264.3h1.4M417.3 254.9h1.4M436.7 269.6h1.4M458.9 274.2h1.4M449.4 254.9h1.4M440.4 266.6h1.4M442.9 274.4h1.4M437.8 245.2h1.4M421 253.7h1.4M439.5 265.6h1.4M444.2 266.3h1.4M402.5 264.8h1.4M443.2 273.6h1.4M424.4 247.4h1.4M395.7 245.4h1.4M417.3 270.1h1.4M439.7 262.6h1.4M413.3 273.7h1.4M421.8 243.4h1.4M458.7 255.1h1.4M439.5 256.8h1.4M453.5 273.7h1.4M404.1 246.8h1.4M396.1 264.8h1.4M420.7 241.1h1.4M434.9 272.9h1.4M398.9 266.7h1.4M430.2 266.9h1.4M432.1 274.3h1.4M417.9 247.8h1.4M413.3 273.4h1.4M406.3 239.5h1.4M450.6 268.9h1.4M416 269.9h1.4M451.5 241.9h1.4M455.9 245.9h1.4M438.5 274h1.4M455.3 273.6h1.4M442.3 270.2h1.4M397.2 258.4h1.4M411.2 243.5h1.4M406.4 257.9h1.4M422.8 274.4h1.4M412.9 271.4h1.4M444.6 251.7h1.4M454.9 273.6h1.4M408.4 269.8h1.4M415.4 273.2h1.4M443.1 274.4h1.4M429.3 273.9h1.4M414.9 271.7h1.4M424.5 239.5h1.4M442.1 268.1h1.4M458.3 272.4h1.4M406.9 259.6h1.4M444.2 254.7h1.4M427.4 254.8h1.4M416.2 238.7h1.4M442.3 249.8h1.4M429.5 241.2h1.4M424.9 238.5h1.4M423.3 238.5h1.4M415.2 265h1.4M430.8 263.6h1.4M448.9 246.5h1.4M406.5 255.8h1.4M428.6 268.9h1.4M402.2 241.8h1.4M458.3 254.7h1.4M431.5 274.2h1.4M415.4 270.9h1.4M400.4 269.8h1.4M418.3 268.7h1.4M399.2 273.9h1.4M455.9 263.4h1.4M409.7 267.5h1.4M418.1 266.2h1.4M406.2 253.4h1.4M454.7 260h1.4M456.4 248.8h1.4M429.3 264.8h1.4M439.2 270h1.4M399.7 267.4h1.4M447.2 257.5h1.4M397.4 248h1.4M397.8 264.9h1.4M406.2 271.6h1.4M409.6 260.6h1.4M440.4 243.8h1.4M427.3 274.3h1.4M397.2 274.2h1.4M403 273.5h1.4M413.8 273.8h1.4M449.4 270.2h1.4M425.6 250.9h1.4M406.4 265.6h1.4M397.4 266.2h1.4M454.4 262.9h1.4M414.2 259.7h1.4M427 265.8h1.4M435.7 255.4h1.4M452 236.3h1.4M456.5 249.1h1.4M438.6 249.9h1.4M407.3 273.3h1.4M448.9 268h1.4M396.1 253.4h1.4M403.4 272.1h1.4M453.9 273.4h1.4M447.9 272.2h1.4M445.8 269.6h1.4M430.9 257h1.4M440.9 273.1h1.4M437.9 273.6h1.4M410.5 251.3h1.4M404.6 268.6h1.4M402.1 262.2h1.4M406.1 270.1h1.4M457.6 267.6h1.4M427 274.4h1.4M411.7 274.1h1.4M434.6 273.7h1.4M406.2 273.8h1.4M442.3 258.7h1.4M413.6 271.2h1.4M412.5 263.7h1.4M431.4 273.9h1.4M404.6 260.1h1.4M412.8 258h1.4M406.1 274.2h1.4M399.3 245.8h1.4M429.3 274.4h1.4M417.7 259.8h1.4M408.8 247.6h1.4M395.1 264.6h1.4M431.7 273.4h1.4M458.2 263.8h1.4M403.2 252.8h1.4M396.6 257.1h1.4M448.4 259.4h1.4M396.3 274.3h1.4M448.1 246.6h1.4M412.1 240.3h1.4M447 274.1h1.4M451.6 274.4h1.4M415.6 273.1h1.4M408.3 265.7h1.4M397.7 237.3h1.4M408.3 257.1h1.4M417.4 241.2h1.4M430.8 265.8h1.4M443.6 263.1h1.4M423.7 273.6h1.4M446.1 260h1.4M424.6 235.3h1.4M424.6 253.6h1.4M405.3 270.2h1.4M435.3 272.4h1.4M458.8 235.1h1.4M436.2 255h1.4M412.2 251.7h1.4M450.1 267.2h1.4M431.1 258.6h1.4M410.8 274.4h1.4M406.5 264.7h1.4M435.7 245.9h1.4M412 273.6h1.4M421.7 273.7h1.4M411.4 266.1h1.4M438.8 274.1h1.4M406 266.7h1.4M428.3 273.5h1.4M437.2 263h1.4M456.6 238.2h1.4M435.1 274.2h1.4M428.3 272.1h1.4M412.7 274.3h1.4M439.2 258.5h1.4M412.4 272.8h1.4M458.5 263.5h1.4M439.6 272.6h1.4M455.3 255h1.4M427.5 274.1h1.4M422.8 274.4h1.4M408.3 251.1h1.4M401.9 273.2h1.4M416.7 237.1h1.4M405.4 268.6h1.4M429 274.4h1.4M430.9 274.3h1.4M415.3 271.1h1.4M458.8 267.9h1.4M414 270.9h1.4M414.1 273.7h1.4M415.1 256.6h1.4M417.4 272.8h1.4M397.3 250.7h1.4M413.9 272.1h1.4M449.2 237h1.4M430.1 274.3h1.4M448.5 252.3h1.4M395.9 271.8h1.4M448.4 266.6h1.4M406.1 235.6h1.4M408.4 273.5h1.4M439.4 235.4h1.4M440.2 274.4h1.4M396.1 273h1.4M437.5 237.8h1.4M402.2 257.9h1.4M438.1 274.4h1.4M452.8 271.3h1.4M418.8 250.4h1.4M429.7 260.1h1.4M398.5 260.3h1.4M404.4 248.2h1.4M444.5 258.9h1.4M436.2 236.3h1.4M448 255.2h1.4M417.9 274.4h1.4M459 274.3h1.4M397.6 261.6h1.4M458.5 267.6h1.4M408.2 274.4h1.4M405.2 270.1h1.4M417.2 272.2h1.4M451.2 234.3h1.4M457.6 273.3h1.4M439.6 273.6h1.4M424.5 265.7h1.4M415 250.9h1.4M408.9 249.7h1.4M444 259.9h1.4M399.7 274h1.4M446.6 237.8h1.4M410.2 258h1.4M443.5 244.9h1.4M403.5 273.2h1.4M398.8 256.5h1.4M417.8 256.2h1.4M405.4 259.5h1.4M412.3 267.9h1.4M432.7 238.5h1.4M407.1 251h1.4M398 273.5h1.4M439.5 274.2h1.4M448.8 243.5h1.4M408.9 255.7h1.4M436.5 236.2h1.4M426.6 269.9h1.4M451.2 272.2h1.4M453.4 270.1h1.4M420.9 247.4h1.4M443.4 273.4h1.4M437.1 235.3h1.4M420.5 263.3h1.4M436.9 254.9h1.4M419.9 269.6h1.4M406.2 260.1h1.4M416 250.7h1.4M397.6 252.5h1.4M405.1 245h1.4M447.6 270.3h1.4M401.2 273.1h1.4M408.1 236.1h1.4M446.6 274.4h1.4M395.4 263.2h1.4M424 263.5h1.4M448.8 247.2h1.4M403.5 237h1.4M424.3 266.8h1.4M404.5 272.7h1.4M406.8 271.9h1.4M429.7 272.4h1.4M412.1 274.1h1.4M399.2 241.7h1.4M423 267.4h1.4M403.2 235.7h1.4M395.6 250.9h1.4M397.6 271.8h1.4M426 267.3h1.4M440 262.7h1.4M439.9 274.3h1.4M413.6 272.1h1.4M425.7 268.5h1.4M401.7 274h1.4M398.7 274.3h1.4M436.3 237.4h1.4M432.9 273.3h1.4M434 265.9h1.4M413 249.6h1.4M411.7 271.4h1.4M397.7 272.6h1.4M454 266.4h1.4M441.6 266.1h1.4M411.8 270.3h1.4M427.5 271.4h1.4M427.9 274.4h1.4M419.7 274.1h1.4M425.5 264.5h1.4M453.3 244.7h1.4M452.2 267.6h1.4M413.7 246.5h1.4M402.4 269.6h1.4M398.8 249h1.4M442.6 240.5h1.4M406.7 247.3h1.4M439.6 263.9h1.4M423.3 249.5h1.4M425.2 238.9h1.4M454.2 270h1.4M429.4 268.1h1.4M452.7 246.1h1.4M420.5 270h1.4M415.2 258.1h1.4M437.5 260.3h1.4M428.3 257.7h1.4M395.2 266.5h1.4M439.3 254.4h1.4M447.1 272.9h1.4M454.3 237h1.4M434.6 248.4h1.4M407.4 273.4h1.4M408.8 264.3h1.4M452.2 270.4h1.4M454.7 247.7h1.4M397.6 274.4h1.4M458.9 265.7h1.4M444.8 245.5h1.4M414.3 274.4h1.4M450.4 240.1h1.4M420.4 258.3h1.4M395.5 239.4h1.4M434 236.2h1.4M439 270.2h1.4M406.3 265.1h1.4M450.3 264.3h1.4M429.4 273h1.4M404.2 272.7h1.4M414.3 266.7h1.4M455.3 272.1h1.4M409.5 253.7h1.4M455 272.7h1.4M414 268.6h1.4M398.7 274.2h1.4M430.2 272.6h1.4M409.8 249.5h1.4M425.7 263h1.4M436.9 253.6h1.4M453.9 236.9h1.4M402 253.7h1.4M396.4 274h1.4M411.2 274h1.4M404.6 272.8h1.4M447 250.7h1.4M427 263.6h1.4M442.8 261.8h1.4M399.8 267.1h1.4M407.8 266.8h1.4M457.6 273.3h1.4M415.5 262.2h1.4M437.1 271.4h1.4M420.2 265.7h1.4M454.5 274.3h1.4M452 263.3h1.4M453.6 269.3h1.4M436.6 274.4h1.4M409.1 258.9h1.4M416 265h1.4M457.9 263.2h1.4M437.8 263h1.4M411 235.5h1.4M419.2 274.4h1.4M422.1 268.6h1.4M408 268.2h1.4M399.5 239.3h1.4M428.2 271.8h1.4M430 261.8h1.4M419.8 249.2h1.4M424 240.8h1.4M444 256.5h1.4M405.2 255.9h1.4M457.7 248.9h1.4M397.6 271.9h1.4M394.9 258h1.4M451.7 256.9h1.4M437.4 264h1.4M441.7 263.8h1.4M446.1 273.7h1.4M425 259.9h1.4M399.2 263.1h1.4M453.6 274.2h1.4M441.9 255h1.4M451.9 237.2h1.4M435.7 261.5h1.4M425.3 267.8h1.4M433.4 270.7h1.4M446.1 263.8h1.4M422.7 265.1h1.4M440.3 247.3h1.4M447.1 255.6h1.4M410.5 274.4h1.4M402.5 274.2h1.4M427.4 274.3h1.4M425.2 252.7h1.4M423.1 244.6h1.4M417.9 266.2h1.4M411.8 273.9h1.4M431.9 274h1.4M404.3 271.8h1.4M441.5 236.1h1.4M408.7 272.7h1.4M457 262.3h1.4M445.9 234.4h1.4M437.1 272.5h1.4M457.8 243.2h1.4M395 237.1h1.4M436.4 272.8h1.4M425.2 271.5h1.4M444.5 269.1h1.4M400.3 243.4h1.4M416.1 273.5h1.4M439.7 273.9h1.4M433.6 267.7h1.4M402.6 238.2h1.4M439.3 274.3h1.4M452.6 259.1h1.4M447.6 251.7h1.4M405.7 271.3h1.4M405.9 249.1h1.4M455.6 262.6h1.4M437.6 236.3h1.4M428.2 267.8h1.4M412.8 235.5h1.4M402.6 273.4h1.4M449.4 274.4h1.4M407.5 264.5h1.4M410 269.5h1.4M396.4 257.9h1.4M399.6 271.8h1.4M401.3 256.3h1.4M408.8 263.4h1.4M396.9 262.9h1.4M416.8 242h1.4M407.2 271.6h1.4M450.6 274.3h1.4M426.3 266.2h1.4M413.5 273.6h1.4M426.8 274.4h1.4M395.4 271.8h1.4M419.1 272.4h1.4M440.4 268.6h1.4M433.9 261.8h1.4M440.4 240h1.4M430.8 256.4h1.4M430.5 274.3h1.4M448.4 264.5h1.4M397.3 253.5h1.4M427 238.8h1.4M421.6 266.7h1.4M452.3 240.3h1.4M444.3 267.7h1.4M422.5 254h1.4M452.4 267.2h1.4M439.9 263.1h1.4M430.2 273.1h1.4M412.9 272.4h1.4M458 274.4h1.4M408.9 273.2h1.4M447.2 257.7h1.4M414.6 274.1h1.4M438 253.3h1.4M436 255.2h1.4M433.2 274.4h1.4M445.9 244.8h1.4M405.5 269.5h1.4M457.9 236.3h1.4M447.2 246.9h1.4M404.9 244.5h1.4M447.6 273.2h1.4M453.4 248.9h1.4M453.6 242.7h1.4M400.8 273.6h1.4M446.5 273.6h1.4M417.2 250.6h1.4M448.1 269.1h1.4M421.3 256.3h1.4M458.7 260h1.4"/>
<rect x="468.8" y="236.5" width="66.2" height="39.5" fill="url(#gb)"/>
<path stroke="#7f7fca" stroke-width="1.4" d="M491.6 272.7h1.4M481.3 260.8h1.4M515.5 272.9h1.4M517.1 261.1h1.4M506.1 264.6h1.4M495.7 274.4h1.4M503.8 258.2h1.4M526.3 236.6h1.4M510.9 273.7h1.4M524.4 268.6h1.4M531.1 239h1.4M475.1 274.3h1.4M472.5 257.5h1.4M500.9 260.2h1.4M490.2 261.7h1.4M475.4 273.2h1.4M516.4 272.8h1.4M476.6 258.9h1.4M532.4 239.8h1.4M525.9 255.3h1.4M469.8 273.7h1.4M506.7 264.4h1.4M523 274.4h1.4M509.5 274.3h1.4M517.8 274.2h1.4M500.5 251.7h1.4M532.5 250.1h1.4M519.5 271.6h1.4M510.3 264h1.4M501.1 261.6h1.4M497.9 269.7h1.4M518.3 259h1.4M531.9 240.5h1.4M520.7 274.1h1.4M501.6 265.8h1.4M520 241.8h1.4M481.9 274.4h1.4M525.1 236.4h1.4M491 261.3h1.4M494 269.5h1.4M510.2 256.6h1.4M527.1 270h1.4M501 267.5h1.4M532.6 265h1.4M528.2 237h1.4M471.1 251.7h1.4M476.5 265.8h1.4M509.7 274.3h1.4M506.4 256.6h1.4M491.6 264.1h1.4M494.7 273.8h1.4M485.7 239.3h1.4M510.2 264h1.4M521 247.3h1.4M517.8 269h1.4M504 271.1h1.4M473.4 240.6h1.4M474.5 269.8h1.4M524 271.3h1.4M527.8 274.4h1.4M478.9 267.6h1.4M510.1 250.3h1.4M526.8 248.5h1.4M481.2 235h1.4M472.3 266.9h1.4M491.7 274.4h1.4M482.3 234.8h1.4M531.6 270.6h1.4M533.5 253.8h1.4M471.4 261.2h1.4M482.5 272h1.4M515.4 273.1h1.4M491.9 274.4h1.4M489.9 271.5h1.4M476.6 274.2h1.4M495.4 274.2h1.4M529.4 272.4h1.4M492.9 274.3h1.4M521.4 273.4h1.4M474.2 269.9h1.4M527.9 241.2h1.4M499.3 262.3h1.4M474 242.3h1.4M517.7 272.6h1.4M523.2 273.7h1.4M500.3 271.8h1.4M505.7 272.5h1.4M504.2 272.4h1.4M470.3 274.1h1.4M519.9 267.6h1.4M502.2 258.3h1.4M485.7 273.4h1.4M495.5 253h1.4M516.3 267.1h1.4M508.3 272.4h1.4M530.2 259.4h1.4M520.9 269.9h1.4M506.5 255.5h1.4M503.5 252.4h1.4M486.8 250.9h1.4M489.7 265.1h1.4M478.5 268.9h1.4M526.2 274.4h1.4M481.4 264h1.4M511.5 256.8h1.4M513.4 254.9h1.4M508 273.7h1.4M504.2 271.9h1.4M469.7 265.4h1.4M531.9 266.9h1.4M518.1 260.2h1.4M471.7 263.7h1.4M532.8 258.7h1.4M488.4 242.2h1.4M512.3 240h1.4M523.8 262.1h1.4M499.3 264.5h1.4M489.8 246.1h1.4M477.5 235.2h1.4M491.1 267.8h1.4M508.4 271.3h1.4M508.3 274.3h1.4M525.1 274.1h1.4M525.4 245.7h1.4M519.8 253.1h1.4M481.3 262.8h1.4M473.3 253.4h1.4M519.9 273.1h1.4M497.7 274.2h1.4M512.2 256.2h1.4M473.1 260.7h1.4M525.7 273.5h1.4M527.6 272.1h1.4M470.4 274.2h1.4M517.9 273.3h1.4M524.5 268h1.4M474.6 248.7h1.4M490.3 273.9h1.4M469.5 271.5h1.4M498.9 265.8h1.4M506.7 274.2h1.4M469.5 243.6h1.4M496.6 254.7h1.4M526.7 261.6h1.4M516.9 273h1.4M482.9 265.2h1.4M532.6 236.8h1.4M484.2 259.7h1.4M487.9 270.2h1.4M487.4 234.7h1.4M493.9 267h1.4M474.8 246.5h1.4M474.8 247.8h1.4M484.7 272.7h1.4M472 270.3h1.4M530.7 270.1h1.4M490.6 253.5h1.4M484.1 252.6h1.4M531.4 245.9h1.4M471.9 251.1h1.4M520 250.2h1.4M506.4 274.1h1.4M512.7 262.3h1.4M500.5 252h1.4M481 269.7h1.4M509.9 242.8h1.4M532.9 243.6h1.4M486.2 268.4h1.4M503 267.1h1.4M474.4 270h1.4M529.1 269.7h1.4M525.8 243.2h1.4M502.3 241.3h1.4M532 274.4h1.4M507.2 238.2h1.4M489.2 270.1h1.4M479 244h1.4M505.5 261.7h1.4M507.6 242.8h1.4M502.5 263.6h1.4M498 270.8h1.4M531.5 259h1.4M501 274.2h1.4M510.3 274.4h1.4M499.6 273.1h1.4M494.5 272.9h1.4M483.7 267.9h1.4M477 272.5h1.4M515.5 274.1h1.4M523.6 268.7h1.4M482.9 251.7h1.4M493.5 270h1.4M469.4 273.5h1.4M529.5 265.9h1.4M497.2 261.8h1.4M475 273.8h1.4M524.7 259.8h1.4M489.8 245.4h1.4M488 267.6h1.4M519.7 246.2h1.4M487.3 235.8h1.4M482.8 272.2h1.4M502.3 263.1h1.4M504 266.9h1.4M519.3 272.5h1.4M497.2 257.5h1.4M526.5 272.4h1.4M492.1 266.8h1.4M486.5 265.2h1.4M529.7 272.8h1.4M522.6 243.4h1.4M500.7 270.4h1.4M476.9 263.7h1.4M523.5 269.6h1.4M485.7 247.9h1.4M479.4 263h1.4M518.5 265.3h1.4M488.1 261.4h1.4M490.9 257.8h1.4M520.4 249.7h1.4M519 274h1.4M486.6 257.9h1.4M510.1 243.1h1.4M497.6 274.3h1.4M474 274.3h1.4M503.9 271h1.4M471.7 241.9h1.4M473.5 270.5h1.4M519 257h1.4M483.3 237.5h1.4M498 248.3h1.4M496.4 259h1.4M530.7 274.3h1.4M505.7 261.8h1.4M531.4 261.3h1.4M486.1 273.9h1.4M504.8 273.6h1.4M491.8 237.8h1.4M481 273.2h1.4M512.3 265.5h1.4M527.6 271h1.4M518 268.6h1.4M533.1 241.1h1.4M481.7 269.9h1.4M499.7 266.8h1.4M507.3 256.6h1.4M478.9 258.9h1.4M522.2 268.7h1.4M486.6 272.5h1.4M508.3 274h1.4M482.9 271.5h1.4M513.5 253.6h1.4M504.2 273.8h1.4M492 274.3h1.4M533.3 267.1h1.4M523.1 272.6h1.4M487 273.8h1.4M494.2 256.9h1.4M504.7 271.1h1.4M477.5 272.1h1.4M518.7 273.5h1.4M533 247.2h1.4M480.2 274.4h1.4M522.2 274.4h1.4M512.3 265.6h1.4M495.8 262.2h1.4M470.4 253.1h1.4M523.3 274.4h1.4M487.4 247.1h1.4M481.9 273.8h1.4M521 235.2h1.4M532.7 273.3h1.4M477.8 274.4h1.4M476.9 270.9h1.4M530.9 252.8h1.4M480.9 269.2h1.4M504.5 273.7h1.4M473 273.3h1.4M488.5 274.4h1.4M531.9 236.6h1.4M499.6 268h1.4M504.9 247.5h1.4M495.7 241h1.4M530.7 272h1.4M506.4 238.1h1.4M488.8 235h1.4M501.4 257.7h1.4M475.4 269.2h1.4M511.4 273.2h1.4M531.6 269.2h1.4M505.7 251.3h1.4M489.4 256h1.4M516.3 251.5h1.4M489.7 270.7h1.4M506.7 267.6h1.4M499.6 262.9h1.4M518 273.8h1.4M482.9 274h1.4M502.6 273.2h1.4M529 273.2h1.4M498 252h1.4M487.5 274.2h1.4M484.1 255.8h1.4M491.7 239h1.4M479.3 271.5h1.4M501 270.8h1.4M488.3 274.1h1.4M501.8 253.2h1.4M493 235.7h1.4M509.2 270.1h1.4M492.8 272h1.4M475.4 266.7h1.4M503.6 250.1h1.4M474.3 274.4h1.4M527.6 270.1h1.4M515.8 244.3h1.4M487.3 273.5h1.4M519.4 271.5h1.4M501.5 274.4h1.4M506.7 267.8h1.4M482.7 273.3h1.4M528.8 242.7h1.4M489.2 271.2h1.4M491.1 270.5h1.4M493.9 237.7h1.4M470.4 270.1h1.4M504.5 260.8h1.4M490.7 254.9h1.4M496.8 273.8h1.4M527.8 273.1h1.4M514.5 240.2h1.4M480.2 252.7h1.4M519.3 270.5h1.4M528.1 273.9h1.4M502.6 236.1h1.4M503 244.4h1.4M495.1 259h1.4M500.5 255.5h1.4M516.5 255h1.4M518.1 273.1h1.4M511.2 250.2h1.4M517.2 273.5h1.4M504.6 274.4h1.4M531.6 258.9h1.4M485.1 261.3h1.4M489.4 263.3h1.4M519.8 245.8h1.4M532.4 258.4h1.4M503.8 265.1h1.4M479 274.4h1.4M526.4 236.6h1.4M522.6 273.4h1.4M509.5 273.3h1.4M490 250.5h1.4M529.1 274.4h1.4M519.3 255.5h1.4M514.1 273.8h1.4M491.8 253.4h1.4M482.4 273.6h1.4M500 273.6h1.4M486.2 273.7h1.4M482.9 274.1h1.4M495.8 270.7h1.4M478.3 273.5h1.4M495.2 274.3h1.4M488.4 274.4h1.4M516.7 274h1.4M499.4 273.9h1.4M513.1 236.6h1.4M514.5 274.2h1.4M481.8 273.6h1.4M526.1 274.2h1.4M518.3 251.8h1.4M522.8 268.3h1.4M496.1 270.4h1.4M511.2 266.3h1.4M514.6 267.9h1.4M523.4 261.4h1.4M486.7 268.4h1.4M484.2 241.3h1.4M472.3 269h1.4M496.9 261.1h1.4M475.9 257.7h1.4M477.9 272h1.4M489.4 274.3h1.4M533.4 274.3h1.4M527.3 256.9h1.4M529 261.7h1.4M504.5 267.6h1.4M504.6 270.9h1.4M480.6 262.1h1.4M520.3 236.3h1.4M527.6 261.1h1.4M482.4 263.2h1.4M479.7 245.6h1.4M517.8 269.7h1.4M490 243.4h1.4M497.3 274.3h1.4M512.2 268.4h1.4M476.8 245.9h1.4M482.8 273.3h1.4M503.2 272.5h1.4M490.7 267.5h1.4M529 261.8h1.4M497 247.7h1.4M528.8 241.3h1.4M470.9 249.5h1.4M519.1 255.4h1.4M516 258.4h1.4M482.6 240.1h1.4M520.3 272.7h1.4M503.5 273.4h1.4M484.4 260.1h1.4M478.3 274.4h1.4M509 260.6h1.4M527.6 274.4h1.4M489.2 274h1.4M528 249.5h1.4M479.1 266.7h1.4M513.5 260.4h1.4M500.3 264.1h1.4M482.8 274.3h1.4M479.4 265.4h1.4M478.5 243.8h1.4M488.1 274.4h1.4M510.8 258.1h1.4M517.1 267.6h1.4M528.1 257.4h1.4M529.3 250.2h1.4M486.9 268.1h1.4M482.6 259.8h1.4M494.2 267.1h1.4M492.8 273.5h1.4M507.2 254.6h1.4M491.7 274h1.4M508.8 260.2h1.4M504.5 247.9h1.4M529.7 252.3h1.4M507.7 239.5h1.4M505.5 265h1.4M482.5 271.1h1.4M492.7 272.2h1.4M486.9 273.4h1.4M476 263.4h1.4M497.3 249.6h1.4M515.8 240.3h1.4M527.7 274.1h1.4M511.6 240.5h1.4M474.6 273.9h1.4M470.6 273.5h1.4M530.1 244.2h1.4M478.5 274.4h1.4M476.2 245.2h1.4M490 262.8h1.4M492.4 268.4h1.4M510.1 239.3h1.4M473.5 268.4h1.4M515.1 250.7h1.4M509.6 271.9h1.4M471 272.8h1.4M505.3 243h1.4M507.1 261.5h1.4M493.9 253.1h1.4M531.6 266.6h1.4M510.6 264.4h1.4M485.6 242.1h1.4M474.1 268.4h1.4M528.6 262.6h1.4M494.3 273.1h1.4M493.2 253.2h1.4M513.1 260.4h1.4M530.3 269.9h1.4M487.6 260.3h1.4M529 255.7h1.4M524.3 247.9h1.4M470.7 259.5h1.4M485.1 257.2h1.4M519.8 249.5h1.4M481.6 269.8h1.4M479.4 247.9h1.4M514.5 263.2h1.4M504.5 253.9h1.4M498.4 273.5h1.4M530.5 251.6h1.4M501.1 263.1h1.4M482.6 272.8h1.4M472.8 258.1h1.4M521.5 272.3h1.4M481.8 268.1h1.4M487.5 252.7h1.4M485.2 272.3h1.4M495.3 245.7h1.4M515 274h1.4M478.3 274.3h1.4M512.2 258.6h1.4M480 271.9h1.4M524 274.3h1.4M516.3 247.9h1.4M511.3 271.2h1.4M516.8 240.8h1.4M505.1 260.3h1.4M507.9 240.3h1.4M531.8 258.1h1.4M500.6 274h1.4M500.6 268.3h1.4M512.9 266.2h1.4M484.8 273.2h1.4M517.4 262.7h1.4M518.7 273.3h1.4M497.9 274h1.4M480.4 270.4h1.4M486.9 238.3h1.4M476.1 265.2h1.4M475.3 243.7h1.4M475.9 245.9h1.4M489.6 270.2h1.4M475.6 260.1h1.4M473.9 257.9h1.4M503.5 272.1h1.4M511 255.6h1.4M473.5 241.6h1.4M525.5 250h1.4M528.6 270.6h1.4M477.6 268.1h1.4M528.2 257.3h1.4M476.3 253.1h1.4M521.2 267.1h1.4M510.9 244.8h1.4M496.5 250.6h1.4M505.9 250.8h1.4M523.7 273.8h1.4M481.4 262h1.4M491.6 271.6h1.4M469.3 267.7h1.4M533.4 268.8h1.4M483.1 269.8h1.4M507.8 274.4h1.4M480.2 264.7h1.4M492.7 256.4h1.4M477.6 274.3h1.4M527.9 253h1.4M510.6 261.2h1.4M481.6 273.8h1.4M497.9 257h1.4M499 265.7h1.4M474.4 238.7h1.4M484.7 269.4h1.4M521 238.8h1.4M492.9 267.4h1.4M523.2 266.1h1.4M476.9 273h1.4M491 274.4h1.4M473.4 243.1h1.4M522.8 247.9h1.4M488.8 270.5h1.4M529.5 274.3h1.4M497.1 270.1h1.4M517 256.9h1.4M533.1 237.2h1.4M508.3 241.2h1.4M507.7 273.2h1.4M501.9 272.2h1.4M527.7 249.7h1.4M475.9 258.9h1.4M510.7 251.8h1.4M478.7 262.2h1.4M476.3 268.2h1.4M492.5 270.3h1.4M495.5 265.1h1.4M476.4 264.6h1.4M474.1 256.1h1.4M471.6 266.3h1.4M469.5 251.1h1.4M529.8 253.4h1.4M498.6 267h1.4M517.8 274.3h1.4M492.1 266.4h1.4M480.4 267.2h1.4M491.8 273.9h1.4M507.1 267.9h1.4M477.4 264.3h1.4M483.8 262.8h1.4M489.8 255h1.4M507.7 274.4h1.4M490.9 252.6h1.4M490.9 251.8h1.4M524.6 240.6h1.4M517.6 268.3h1.4M500.1 274.2h1.4M488.2 272.3h1.4M520.5 250.9h1.4M509.8 252.2h1.4M496.9 259.4h1.4M492.2 274.4h1.4M502.9 244.3h1.4M501.2 242.4h1.4M494.1 272.4h1.4M479.5 268.1h1.4M489.2 274.1h1.4M489.4 238.3h1.4M519.4 268.4h1.4M484.4 265.8h1.4M490.7 260.4h1.4M487.3 260.3h1.4M518.5 272h1.4M483.5 262.9h1.4M506.1 244h1.4M521.5 267.1h1.4M501 250.7h1.4M506.2 274h1.4M493.8 274.1h1.4M512.3 251.2h1.4M510.1 274.3h1.4M495.3 274.4h1.4M513.2 252.9h1.4M482.2 255.2h1.4M472.5 273.8h1.4M528.8 273h1.4M511 239.8h1.4M518.5 267.3h1.4M496.8 269h1.4M479.2 250.8h1.4M502.7 252.2h1.4M500.1 272.7h1.4M485.9 274h1.4M515.5 265.6h1.4M494 236.4h1.4M492.7 270.3h1.4M483.6 272h1.4M485.2 265.2h1.4M496.2 266.8h1.4M522.9 270.4h1.4M508.3 265.2h1.4M530.1 261.5h1.4M529.1 270.1h1.4M481.7 273.1h1.4M521.9 274.1h1.4M487.9 246.5h1.4M473.3 255.9h1.4M494.5 272.9h1.4M530 245.6h1.4M483 273.9h1.4M504.9 274.3h1.4M530 271h1.4M489.6 274.3h1.4M500.7 263.2h1.4M477.4 256.1h1.4M502.3 248.4h1.4M528.3 244.8h1.4M497.5 270.5h1.4M510.2 268.8h1.4M498.5 272.6h1.4M478.9 274.1h1.4M510 241.6h1.4M532.4 272.2h1.4M482.5 274.2h1.4M476 248.4h1.4M491.5 269.9h1.4M481.9 256.1h1.4M481.6 238.3h1.4M470.8 240.5h1.4M495.6 267.7h1.4M501.5 272.7h1.4M528.1 264.9h1.4M504.3 244.7h1.4M511.7 247.2h1.4M476.9 271.6h1.4M482.9 265.2h1.4M486.1 242.8h1.4M482.7 269.4h1.4M495.3 271.2h1.4M514.8 265.9h1.4M520.4 270.4h1.4M523 247.5h1.4M495.2 239.6h1.4M528.9 272.9h1.4M504.7 244.8h1.4M484 245h1.4M488.8 248.4h1.4M493.5 239h1.4M525.6 269.6h1.4M470.1 260.4h1.4M505.7 271.6h1.4M528.1 268.5h1.4M503.3 272.9h1.4M516.2 264.3h1.4M478.7 239.4h1.4M487.1 273.9h1.4M515.7 268.4h1.4M521 268.3h1.4M504.9 255h1.4M525.4 273.7h1.4M476.5 266.4h1.4M479.2 250.2h1.4M491.2 270.3h1.4M474.8 272.1h1.4M492.6 272.2h1.4M482.9 271.9h1.4M515.8 274h1.4M501.7 258.9h1.4M470.7 248.5h1.4M517.9 272.6h1.4M473.1 274.3h1.4M525.4 274.4h1.4M508.3 262h1.4M511.6 267.5h1.4M498.2 267h1.4M517.9 274.1h1.4M486.5 265.9h1.4M496 260.8h1.4M494.5 237.1h1.4M483 240.9h1.4M470.4 248.9h1.4M475.9 271.8h1.4M496.6 241.8h1.4M477.8 265.3h1.4M520.1 266.1h1.4M515.7 234.4h1.4M520.8 272.5h1.4M490.2 263.7h1.4M517.5 236h1.4M523.7 251.1h1.4M508.4 255.4h1.4M525.2 249.8h1.4M480.3 272.9h1.4M495.4 237.4h1.4M489.5 248.9h1.4M488.2 255.6h1.4"/>
<rect x="544.0" y="236.5" width="65.5" height="39.5" fill="url(#gr)"/>
<path stroke="#e57474" stroke-width="1.4" d="M599.9 235.2h1.4M580.8 261.6h1.4M555.2 246.3h1.4M557.9 274h1.4M599.2 264.8h1.4M573.8 273.3h1.4M603.1 256.9h1.4M599.4 269.3h1.4M575 265.2h1.4M550.3 274.4h1.4M582.2 270.2h1.4M598 252.3h1.4M587 262.5h1.4M559.8 262.2h1.4M586.8 272.4h1.4M574 274.3h1.4M587.2 268.1h1.4M558.3 255.5h1.4M595.2 273h1.4M545 262.1h1.4M604.9 274.2h1.4M595.5 261.1h1.4M589.3 274.4h1.4M569.7 274.4h1.4M604.7 235.3h1.4M589.7 261.6h1.4M593.7 273.9h1.4M607 269.5h1.4M571.7 274.4h1.4M549.6 240.5h1.4M556.9 265.6h1.4M590.6 254.3h1.4M572.5 256.6h1.4M597.5 273.2h1.4M569 262.5h1.4M588.5 262.8h1.4M546.5 272.6h1.4M567.2 245.2h1.4M583.7 272.1h1.4M580.5 271.6h1.4M605.9 256.4h1.4M600.3 269.3h1.4M552.8 250.6h1.4M556 246.2h1.4M593.3 245.3h1.4M580.8 259.2h1.4M546.3 272h1.4M552.1 274.3h1.4M578.3 274.3h1.4M575.9 273.7h1.4M556.5 249.8h1.4M607.2 259.8h1.4M583.5 273.5h1.4M571.5 243.3h1.4M549.1 269.7h1.4M559.9 272.9h1.4M554 254.1h1.4M566 235.6h1.4M564.9 255.6h1.4M567.6 251.8h1.4M548.3 235.7h1.4M560.2 253.7h1.4M565 274.4h1.4M578.7 274h1.4M594.2 273h1.4M547.7 264.1h1.4M581.7 259.3h1.4M589.8 274.3h1.4M602 249.3h1.4M591.9 274.4h1.4M563 273.2h1.4M600.5 272.2h1.4M569.7 273.1h1.4M590.9 274h1.4M574.1 252.9h1.4M567.5 272.9h1.4M577 273.4h1.4M590.7 248.9h1.4M559.4 274.3h1.4M568.2 274.4h1.4M598.4 238.3h1.4M582.1 264.8h1.4M581.9 270.1h1.4M578.8 260.7h1.4M598.3 271.7h1.4M553.8 267.7h1.4M547.6 271.3h1.4M576.9 246h1.4M581.9 235.4h1.4M594.3 235.6h1.4M600.5 270.9h1.4M555.9 256.2h1.4M591.4 268.8h1.4M596.6 259.1h1.4M596.5 274.4h1.4M597.8 244.2h1.4M559.3 247.1h1.4M561.2 246.4h1.4M597.4 247.8h1.4M550.5 273.3h1.4M579.3 272.7h1.4M568.6 237.8h1.4M602.4 273.7h1.4M555.2 251.2h1.4M580.6 274.4h1.4M605.5 273.4h1.4M549.9 243.7h1.4M597 274.1h1.4M581.1 239.1h1.4M607.7 241.9h1.4M597.8 239.7h1.4M569.8 255.5h1.4M598.8 248.5h1.4M582.4 247.1h1.4M592.6 240.8h1.4M602.1 244.6h1.4M556.3 270.7h1.4M575.9 274.4h1.4M562.5 244.7h1.4M606.4 266h1.4M577.3 274.1h1.4M578.6 240h1.4M564.1 258.5h1.4M596.4 267.3h1.4M571.9 255.3h1.4M555.8 270.7h1.4M559.2 274.3h1.4M560 247.7h1.4M592 269h1.4M551.8 265.2h1.4M562.7 259.9h1.4M598.9 270.1h1.4M565.3 248h1.4M598.9 256.5h1.4M565.8 240.5h1.4M548.5 235.3h1.4M590.4 274.3h1.4M555.3 250.1h1.4M603.8 274.2h1.4M583.8 245.8h1.4M586.8 240.4h1.4M600.2 273.5h1.4M549.9 243.1h1.4M560.2 244.4h1.4M605.2 269.4h1.4M593.2 273.1h1.4M577 274h1.4M584.3 273.9h1.4M571.5 274.4h1.4M606.6 260.6h1.4M566 272.9h1.4M594.3 266h1.4M580.4 274.4h1.4M567.7 266.9h1.4M597.9 273.2h1.4M547.6 264.1h1.4M558.3 274.4h1.4M551.4 266.4h1.4M571.6 272.2h1.4M589.2 274.3h1.4M563.1 265.8h1.4M560 237.2h1.4M566 267.3h1.4M604.8 264.9h1.4M559.3 266.6h1.4M607.4 247.7h1.4M564.2 274.3h1.4M603.3 271.6h1.4M549.6 268.5h1.4M593 269.9h1.4M595.5 239.6h1.4M587.2 244h1.4M581.9 274.2h1.4M587.5 272.4h1.4M595.8 242.8h1.4M574.1 255.8h1.4M547.6 262.5h1.4M586.4 241.1h1.4M548.9 273.3h1.4M592.8 260.7h1.4M573.1 236.8h1.4M549 244.8h1.4M551.6 272.6h1.4M586.3 274.3h1.4M593.1 271.4h1.4M595.1 261.3h1.4M560.7 250.4h1.4M602.8 250.5h1.4M550.4 267.7h1.4M548.8 267.5h1.4M562.4 264.5h1.4M599.6 253.4h1.4M594.9 274.3h1.4M575.3 268.6h1.4M590.6 243.6h1.4M545 245.4h1.4M565.5 274.4h1.4M583.8 264.3h1.4M605.5 249.6h1.4M574.3 251.2h1.4M601 265h1.4M564.7 258.7h1.4M598.5 255.4h1.4M583.8 273.7h1.4M590.8 261.4h1.4M590.4 267.2h1.4M546.9 272.4h1.4M582.1 273.7h1.4M565.2 268.8h1.4M553.6 271.9h1.4M573 241.6h1.4M590.2 274.1h1.4M569.3 249.2h1.4M544.5 255.6h1.4M590.1 272.5h1.4M545.4 271.4h1.4M565.3 258.1h1.4M549.3 273.6h1.4M590.3 274.4h1.4M582.3 269.9h1.4M565.8 268.8h1.4M566.1 250.2h1.4M602.6 262.8h1.4M588 246.8h1.4M551.4 266.8h1.4M546.2 252.7h1.4M601.3 273.9h1.4M571.3 260.3h1.4M578.3 274.3h1.4M570.4 270.7h1.4M582.8 243.1h1.4M549.5 264h1.4M573.8 269.4h1.4M556.7 267.4h1.4M552 257.5h1.4M563.2 244.7h1.4M560 273.1h1.4M556.4 254.5h1.4M597.9 245h1.4M577.3 259.5h1.4M567.1 264.2h1.4M551.7 244.7h1.4M571.5 266.4h1.4M551 265.1h1.4M556.9 235.7h1.4M549.2 270.3h1.4M549.5 273.2h1.4M576.4 274.3h1.4M584.7 261.4h1.4M593.1 270.6h1.4M584.9 270.7h1.4M588.2 235.4h1.4M555.8 257.2h1.4M595.1 272.5h1.4M547.7 265.2h1.4M576.9 260.8h1.4M592.8 270.8h1.4M595.7 255.4h1.4M560.1 272.8h1.4M573.2 245.8h1.4M600.1 264.4h1.4M578.1 265.9h1.4M592 274.4h1.4M589.5 265h1.4M580.2 246h1.4M551.4 265.2h1.4M604.9 272.6h1.4M583.6 272h1.4M593.3 259.4h1.4M553.3 273.9h1.4M566.5 267.7h1.4M595.1 239.2h1.4M579.6 274.2h1.4M573.6 239h1.4M549.5 267.8h1.4M561.4 259h1.4M557.9 274.4h1.4M556.3 264.7h1.4M571.3 246.8h1.4M558 258.8h1.4M603.3 274.4h1.4M575.7 273.1h1.4M569 272.4h1.4M592.7 272.4h1.4M606.9 273.1h1.4M563.2 259.4h1.4M552.4 273.6h1.4M565.7 258.1h1.4M596.6 261.8h1.4M562.7 263h1.4M606.9 269.9h1.4M551.7 274.4h1.4M573.3 238.6h1.4M604.3 256.4h1.4M559.2 269.7h1.4M558 267.8h1.4M593.5 274.4h1.4M577.6 273h1.4M583.8 250.6h1.4M593.1 270.5h1.4M601.5 274.4h1.4M563.3 273.8h1.4M587.9 266.3h1.4M582.8 274.3h1.4M551.1 253.1h1.4M585.7 241h1.4M572 261.5h1.4M571.7 244.4h1.4M563.3 266h1.4M594.5 269.8h1.4M572 274.2h1.4M605.6 265.6h1.4M574.4 273.6h1.4M570.5 270.4h1.4M556.3 270.1h1.4M567 259.3h1.4M549.2 234.9h1.4M598.1 274.4h1.4M573.3 254.1h1.4M547.1 243.3h1.4M606 274.3h1.4M565 237h1.4M562.6 253.9h1.4M595.4 274.4h1.4M574.9 270.9h1.4M596.8 274.2h1.4M587 274.4h1.4M583 266.6h1.4M603.4 235.4h1.4M596.7 256.2h1.4M568.4 261.8h1.4M571.4 253.6h1.4M606.5 258.4h1.4M553.9 263.6h1.4M578.3 242.8h1.4M564.9 269.2h1.4M588.6 261.1h1.4M575.8 261.3h1.4M559 274.2h1.4M572.2 264.5h1.4M590.8 269.1h1.4M565.8 237.8h1.4M602.2 273.1h1.4M598.8 270.6h1.4M547.8 250.1h1.4M578 240.1h1.4M572.1 274.4h1.4M569.4 256.3h1.4M559.3 258.4h1.4M559 257.9h1.4M545.2 255.6h1.4M557.5 269.4h1.4M606 274.1h1.4M549.3 236.9h1.4M596.1 262.9h1.4M577.9 267.1h1.4M585.4 248.7h1.4M553.2 270.2h1.4M576.4 273.7h1.4M551.4 259.2h1.4M607 248.8h1.4M564.6 270.7h1.4M607.2 248.4h1.4M582.3 274.2h1.4M552.8 253.2h1.4M567.8 258.3h1.4M554.9 257h1.4M577.1 274.1h1.4M552.7 272.5h1.4M569.5 264.1h1.4M604.6 273.4h1.4M556.8 264.4h1.4M558.7 274.4h1.4M576.6 268.7h1.4M585.9 265.3h1.4M549.2 267.8h1.4M550.3 274.3h1.4M599 242.1h1.4M605.2 254.2h1.4M583.4 265.5h1.4M577.7 271.2h1.4M599.9 267h1.4M602.5 270.1h1.4M560.4 259.5h1.4M589.2 266.2h1.4M558.5 274.2h1.4M584.6 273.9h1.4M598.2 267.1h1.4M590.4 272.1h1.4M602.1 272.6h1.4M607.5 274.3h1.4M591.3 271.6h1.4M604.1 261.2h1.4M591.1 263.8h1.4M593.1 271.9h1.4M568.5 258.2h1.4M548.3 271.8h1.4M557 273.5h1.4M560.6 274.4h1.4M579.9 268.4h1.4M591.5 237.7h1.4M582.4 258.4h1.4M601.4 237.5h1.4M572.6 245.3h1.4M571.6 267.1h1.4M560.7 253.5h1.4M560.5 271.2h1.4M572.7 274.4h1.4M596.5 274.4h1.4M553 242.8h1.4M593.7 274.4h1.4M558.5 268.7h1.4M545.7 272.8h1.4M566.4 236h1.4M547.8 256.2h1.4M557.9 260.1h1.4M545.2 252.9h1.4M603.2 274.3h1.4M606.3 245.6h1.4M564.1 266.3h1.4M544.8 273.5h1.4M548.1 270.6h1.4M560.4 274.3h1.4M548.5 273.4h1.4M548.2 273.9h1.4M597.7 268.3h1.4M550.1 245.2h1.4M555.4 272.9h1.4M547.3 247.2h1.4M572.9 262.3h1.4M577 246.1h1.4M601.8 249.8h1.4M578.3 256.3h1.4M558.3 245.4h1.4M577.3 274.4h1.4M565.5 238.8h1.4M563 274h1.4M607.1 268.2h1.4M581 270.1h1.4M561 271.1h1.4M603.7 266.1h1.4M589.7 260.7h1.4M560.1 242.1h1.4M602.8 273.9h1.4M547.6 254.6h1.4M554.1 245.1h1.4M575.4 265h1.4M562 263.4h1.4M564.3 274.4h1.4M578.5 244.7h1.4M586.8 266.9h1.4M598.4 274.3h1.4M558 270h1.4M545.9 274.2h1.4M595.3 266.8h1.4M586.1 273.4h1.4M602.3 240.8h1.4M566 273.3h1.4M566.4 271.9h1.4M568.8 257h1.4M593.2 242.6h1.4M583.6 248.3h1.4M585.7 274.2h1.4M555.5 272.7h1.4M551.3 272.3h1.4M587 253.5h1.4M573 263.8h1.4M585.2 257h1.4M571.7 270.1h1.4M577.6 262.2h1.4M553.2 267.1h1.4M576.3 252.4h1.4M562.6 237.8h1.4M590.4 260.3h1.4M576.3 273.6h1.4M566.1 271.4h1.4M574.7 274.3h1.4M545.8 234.5h1.4M545 271.6h1.4M570.1 235.4h1.4M566.2 271.8h1.4M575.3 260h1.4M600.1 256.7h1.4M549.3 242.4h1.4M602.1 274.1h1.4M596.6 241.5h1.4M597.9 240.1h1.4M564 259.6h1.4M593.9 247.6h1.4M582.8 243.8h1.4M586.4 269.5h1.4M604.6 268.7h1.4M551.1 241.6h1.4M568.1 250.2h1.4M600.8 251.1h1.4M588.3 271h1.4M576.7 269.2h1.4M595.8 271.3h1.4M572.4 251.5h1.4M551.7 250.7h1.4M579.7 257.3h1.4M587.7 272.6h1.4M600.9 260.4h1.4M567.2 274.1h1.4M557.6 274.4h1.4M563 273.9h1.4M546.4 274.3h1.4M551 273h1.4M550.6 271.4h1.4M551.3 273.7h1.4M581.4 269.7h1.4M587.9 272.8h1.4M585.9 271.9h1.4M571.7 272.4h1.4M550.3 234.4h1.4M560.9 274.4h1.4M583.6 274.3h1.4M551 272.9h1.4M557.4 269.8h1.4M565.8 271.4h1.4M593.9 269.6h1.4M601.6 256h1.4M600.7 268.1h1.4M565.9 262.3h1.4M607.9 274.2h1.4M587.8 248.1h1.4M579.6 274h1.4M607.9 271h1.4M603 266.6h1.4M552 264.3h1.4M563.2 271.4h1.4M601.1 242.5h1.4M581 258.5h1.4M586.7 267.5h1.4M593.2 261h1.4M607.5 249.7h1.4M600.8 274.4h1.4M574.2 273.8h1.4M563.9 274.3h1.4M599.7 267.3h1.4M579.9 248h1.4M593.4 245h1.4M546.8 274.1h1.4M574.6 262h1.4M607 270.4h1.4M553.3 272.6h1.4M552.5 253.3h1.4M579.1 272.5h1.4M592.5 269.5h1.4M557 274.3h1.4M593.9 247.8h1.4M589.6 237.8h1.4M605.7 274.4h1.4M553 265.6h1.4M577.3 270.3h1.4M558.2 272.2h1.4M606.4 265.9h1.4M571.2 253.7h1.4M591 249.9h1.4M594.3 271.4h1.4M560 265.6h1.4M591.4 272.2h1.4M602.1 274h1.4M559.3 269.5h1.4M555.8 273.9h1.4M564.3 274.4h1.4M582.7 263.7h1.4M553.6 253.7h1.4M570.7 263.7h1.4M600.7 265.7h1.4M551.4 270.8h1.4M554.2 243.5h1.4M559.6 274.3h1.4M573.1 270.8h1.4M594.2 274.4h1.4M558.7 271.2h1.4M551.4 265.1h1.4M601.3 240.8h1.4M581.7 274.4h1.4M585 273.8h1.4M578.5 260.4h1.4M604.6 262.9h1.4M560.6 274.2h1.4M592.3 270.3h1.4M564.4 264h1.4M587.1 261.1h1.4M545.3 247.3h1.4M586.5 244.9h1.4M587 258.4h1.4M561.7 270.5h1.4M603.8 271.3h1.4M602.3 272.3h1.4M573.5 237.4h1.4M585.1 264.9h1.4M545.1 269.2h1.4M552.8 262.9h1.4M606.6 272.3h1.4M603.5 240.7h1.4M555.5 243.7h1.4M589.7 273.6h1.4M553.6 260.7h1.4M599.8 271.5h1.4M593.4 259.3h1.4M552.6 255.8h1.4M562.9 273.6h1.4M573.6 274.4h1.4M600 274.4h1.4M607 235.5h1.4M601 261.6h1.4M607.2 274.4h1.4M568 266.6h1.4M554.8 256.8h1.4M596.5 267.6h1.4M548 270.9h1.4M599 235.4h1.4M568.9 274.4h1.4M599.7 255.8h1.4M547.1 265.6h1.4M567.6 235.1h1.4M580.8 240.2h1.4M571 270.5h1.4M578.1 274.2h1.4M570.2 271.3h1.4M555.7 247.3h1.4M580.9 255h1.4M582.9 272.9h1.4M562.2 273.4h1.4M584.4 271.4h1.4M552.8 248.4h1.4M552.8 236.4h1.4M565.3 257.6h1.4M607 272.6h1.4M600.3 270.9h1.4M578.5 267.4h1.4M578.8 257h1.4M593.2 269.6h1.4M588.6 244.5h1.4M576.9 266.8h1.4M573.9 273.4h1.4M583.1 272.3h1.4M568.2 240.2h1.4M562.8 270.8h1.4M586.3 261.2h1.4M598.4 274h1.4M561.1 273.5h1.4M553.5 269.2h1.4M593.3 247.6h1.4M557 255.6h1.4M556.5 267.4h1.4M552.6 272.7h1.4M596.2 255h1.4M575.9 243.6h1.4M551.6 271.6h1.4M587.4 274h1.4M572.9 268.2h1.4M555.7 272h1.4M561.1 263.9h1.4M566 262.8h1.4M565.4 254.9h1.4M600.2 260.6h1.4M597.5 267h1.4M549.9 242.8h1.4M557.1 274.3h1.4M591.9 274.2h1.4M576.9 268.2h1.4M547.8 267.4h1.4M551.7 256.1h1.4M598 268.5h1.4M580 269.3h1.4M582.5 237h1.4M559.5 261.5h1.4M545.4 241.3h1.4M548.1 268.2h1.4M567.8 263.8h1.4M560.4 273.5h1.4M578 248.8h1.4M606 268.7h1.4M560 271.1h1.4M552 244.6h1.4M595.5 273.9h1.4M602.4 265.8h1.4M582.2 259.8h1.4M592 273.1h1.4M567.1 263.6h1.4M584.5 254.8h1.4M558.8 273.3h1.4M587.4 268.3h1.4M606.4 238h1.4M605.5 236h1.4M600.7 250.2h1.4M547.8 250h1.4M597.8 273.6h1.4M551.5 242.4h1.4M555.5 274.3h1.4M567.1 270.4h1.4M563.7 273.4h1.4M573.5 246.8h1.4M546.7 266.4h1.4M604.1 249.3h1.4M546.3 262.8h1.4M556.8 273.7h1.4M599.5 241.4h1.4M607.8 274.4h1.4M545.5 270.7h1.4M568.2 274.1h1.4M602.5 266.9h1.4M607.1 274.4h1.4M574.2 274.1h1.4M606.2 242.8h1.4M551.9 270.3h1.4M606.2 261.6h1.4M569.9 260.9h1.4M574.4 246.7h1.4M550.3 262.5h1.4M602.4 274.4h1.4M564.2 268.5h1.4M582.5 247.6h1.4M578.9 274.2h1.4M605.1 273.4h1.4M595.7 274.1h1.4"/>
<rect x="618.0" y="236.5" width="62.8" height="39.5" fill="url(#gb)"/>
<path stroke="#7f7fca" stroke-width="1.4" d="M624.9 258.1h1.4M642.8 246.6h1.4M622.2 274.1h1.4M623.5 267.6h1.4M628.7 273.7h1.4M646.1 251.3h1.4M666.6 269.1h1.4M639.6 272.3h1.4M660.5 269.8h1.4M661.3 274.1h1.4M632.1 263.8h1.4M618.8 242.8h1.4M669.6 268h1.4M624.6 269.7h1.4M639.5 270.3h1.4M645.1 273.8h1.4M622.2 274.3h1.4M627.1 273.3h1.4M643.8 273.8h1.4M627.4 262.3h1.4M652.9 272h1.4M661.4 264.4h1.4M631.1 245.4h1.4M653.1 273.9h1.4M648.8 274.4h1.4M637.2 243.6h1.4M642.3 265.7h1.4M620.5 267.8h1.4M671.5 241.8h1.4M646.5 235.6h1.4M677.9 274.1h1.4M668.4 272.5h1.4M655.2 266.5h1.4M632 273.3h1.4M678.5 244.9h1.4M643.5 248.7h1.4M661 269.7h1.4M668.1 246.9h1.4M639.2 241.3h1.4M640.2 273h1.4M672.6 250h1.4M631.9 264.6h1.4M628.1 251.8h1.4M625.1 234.7h1.4M673.5 270.1h1.4M673.9 267.4h1.4M655.4 242h1.4M619.9 274.4h1.4M637.5 264.1h1.4M663.3 273.2h1.4M622.8 274.4h1.4M618.8 273.2h1.4M675.9 268.5h1.4M634.6 273.4h1.4M645.3 272.6h1.4M631.4 267.3h1.4M644 236.5h1.4M644.2 274.4h1.4M622.1 255.2h1.4M650.6 261.7h1.4M676.8 271.6h1.4M629.4 268.7h1.4M676.5 243.1h1.4M652.9 253.5h1.4M637.1 267.2h1.4M631.3 261.4h1.4M666.2 263.2h1.4M670.7 272.7h1.4M666.5 255.6h1.4M671.1 263.6h1.4M637 269.5h1.4M662.2 271.7h1.4M677.7 256h1.4M679.1 268.5h1.4M649.6 251.6h1.4M677.5 274.1h1.4M672.1 239.8h1.4M641 270.1h1.4M624.8 257.6h1.4M644.7 269.9h1.4M630.8 246.8h1.4M620.8 240.5h1.4M626.8 267.8h1.4M634.6 274.3h1.4M622.7 274.1h1.4M619.6 272.6h1.4M637.5 263.3h1.4M673.7 265.2h1.4M670.9 268.8h1.4M669.5 272.7h1.4M641.7 272.9h1.4M641.4 266h1.4M678.3 252.9h1.4M643.2 271.9h1.4M663 259.6h1.4M677.5 240.9h1.4M622.9 243.1h1.4M623.9 271.2h1.4M637.1 272.7h1.4M641.9 273.1h1.4M647.6 272.1h1.4M650.5 235.9h1.4M621.7 274.1h1.4M628.2 273.1h1.4M677 248.8h1.4M647.3 234.4h1.4M621.2 274.4h1.4M629.3 249.7h1.4M668.1 270.7h1.4M673 269.1h1.4M654.7 251.3h1.4M664.6 263.1h1.4M638.9 273.6h1.4M643.8 237.7h1.4M678.9 244.3h1.4M662.6 274.4h1.4M648.1 235.6h1.4M649.5 259.1h1.4M655.4 263.1h1.4M658.2 265.9h1.4M643.9 238.6h1.4M641.7 260.3h1.4M676.4 271.7h1.4M626.5 274.4h1.4M625.1 272.8h1.4M648.1 274.4h1.4M673.4 262.8h1.4M657.6 237.6h1.4M636.6 268.4h1.4M677 242.1h1.4M666.7 271.9h1.4M673.2 274.4h1.4M625.5 263.8h1.4M621.1 274h1.4M677.9 270.5h1.4M626.7 245.3h1.4M629.1 246.6h1.4M641.5 272.3h1.4M668.4 272.8h1.4M677 274.3h1.4M622.1 273.8h1.4M676.2 272.2h1.4M633.1 270h1.4M620.1 261.5h1.4M643.9 246.9h1.4M670 265.2h1.4M655.3 238.9h1.4M640.5 239.5h1.4M651.1 274.3h1.4M629 252.3h1.4M678.8 274.4h1.4M627.2 251.4h1.4M669.7 273.8h1.4M641.8 261.5h1.4M653.8 268.8h1.4M653.7 239.4h1.4M673 271.7h1.4M678.2 271.9h1.4M638.2 267.9h1.4M669.9 274.3h1.4M674.2 250.1h1.4M648.2 267.9h1.4M664.2 250.1h1.4M655.1 274.3h1.4M646 271.4h1.4M646.7 243.1h1.4M629.5 238.1h1.4M642.4 255.1h1.4M659.7 251.9h1.4M664.3 272.6h1.4M658.2 270h1.4M677 274h1.4M623.8 273.9h1.4M620.5 274.1h1.4M643.6 261.4h1.4M645.9 274.3h1.4M626.2 274.4h1.4M655.7 271.9h1.4M651.6 270.7h1.4M671.2 267h1.4M632 250.3h1.4M648.1 260.8h1.4M674.6 274.3h1.4M639.4 270.5h1.4M636.4 274.4h1.4M640.5 253.4h1.4M678.2 245.8h1.4M671.4 273.3h1.4M622 261.8h1.4M677.6 274.4h1.4M646.1 269.9h1.4M666.2 250.1h1.4M664.9 250.3h1.4M619.6 255.7h1.4M670.3 271.2h1.4M620.7 247.6h1.4M673 274.4h1.4M652.5 271.6h1.4M661.7 266.1h1.4M670.4 248.2h1.4M630.5 261.2h1.4M627.6 274.1h1.4M660.5 268.6h1.4M672.9 241.1h1.4M668.1 266.7h1.4M626.8 270.9h1.4M619.1 265.3h1.4M666.9 274.4h1.4M676.7 274.4h1.4M677.7 271.3h1.4M634.3 240.4h1.4M647.5 266.8h1.4M674.9 236.1h1.4M620.2 258.2h1.4M624.1 262.8h1.4M643.1 252.2h1.4M662.2 258.8h1.4M668.9 267.5h1.4M637.3 274.3h1.4M643.8 253.8h1.4M620.4 271.9h1.4M678.9 270.2h1.4M677 255.3h1.4M630.5 272.4h1.4M667.4 256.1h1.4M635.8 265.2h1.4M661 258h1.4M668.8 268.8h1.4M675.2 259.8h1.4M653.4 237.2h1.4M654.3 264.9h1.4M621.5 274.3h1.4M672.6 265.1h1.4M641.9 273.6h1.4M628.5 269.4h1.4M647.5 258.7h1.4M627 273h1.4M641.3 274.3h1.4M654 247h1.4M673.3 259.9h1.4M632.2 241.7h1.4M654.2 248.7h1.4M629.2 274.3h1.4M626.4 274.4h1.4M651.2 265.1h1.4M671.5 259.4h1.4M649.1 274.4h1.4M673.4 267.2h1.4M620.7 261.2h1.4M673.6 274.3h1.4M659.4 262.8h1.4M618.5 272.4h1.4M625.6 266.7h1.4M647.3 271.5h1.4M660.8 247.2h1.4M619.7 269.4h1.4M632.8 264.7h1.4M641 255.1h1.4M642.5 273.7h1.4M665.2 272h1.4M642.7 251.2h1.4M641.2 273.8h1.4M644 274h1.4M651.8 274.4h1.4M629.1 248.8h1.4M654 267.5h1.4M672.8 274h1.4M634.4 272.2h1.4M664.3 269.5h1.4M620.6 270.9h1.4M621.9 274h1.4M643 242.2h1.4M639 261.5h1.4M648 265.7h1.4M668.9 273.5h1.4M626.9 272.9h1.4M640.1 271.8h1.4M632.1 273.3h1.4M655.2 270.1h1.4M656.8 273.5h1.4M639.3 273.3h1.4M668.8 272.1h1.4M636.8 274h1.4M652.8 272.1h1.4M659.9 269.3h1.4M655 264.7h1.4M674.7 272.5h1.4M670.3 273.4h1.4M652.2 257h1.4M619.8 271.4h1.4M643.3 273.7h1.4M664.2 274.1h1.4M644.1 273.3h1.4M661.6 256.4h1.4M666.6 264.6h1.4M655.3 242.2h1.4M643.8 238.8h1.4M636.2 268.6h1.4M672.3 274.2h1.4M645.6 254.9h1.4M654.2 274.4h1.4M641.4 248h1.4M645.2 271h1.4M633.7 253.2h1.4M621.3 252.5h1.4M635.7 266.3h1.4M669 249.8h1.4M665.3 273.6h1.4M627 244.7h1.4M652.7 271.9h1.4M643 269.4h1.4M669.6 252.3h1.4M645 253.1h1.4M667.3 272h1.4M630.2 265h1.4M622 254.5h1.4M639.5 268.6h1.4M672.3 272.8h1.4M625.8 244h1.4M619.2 241.5h1.4M653.6 274.3h1.4M665.8 272.2h1.4M640 242h1.4M623.8 270.6h1.4M674.9 266.3h1.4M653.5 274.4h1.4M678.9 259.6h1.4M670.9 274.1h1.4M627.3 272.2h1.4M665.9 274.3h1.4M675.2 243.6h1.4M640.7 269.3h1.4M656.3 262.6h1.4M629.1 268.2h1.4M625.3 235.3h1.4M631.2 245.7h1.4M649.8 266.2h1.4M641.4 245h1.4M644.6 273.8h1.4M642.4 274.2h1.4M637.2 272.4h1.4M676.7 267.1h1.4M664.4 274.4h1.4M637.8 250.2h1.4M656.1 237.6h1.4M642.5 244.7h1.4M628.6 263.9h1.4M649.8 267.5h1.4M674.1 239h1.4M654.7 239.4h1.4M636.5 270.6h1.4M678 271.2h1.4M678.4 274.3h1.4M636.2 259.9h1.4M671.7 274.4h1.4M630.7 274.4h1.4M629.6 264.9h1.4M632.9 274h1.4M659.5 273.9h1.4M677.5 245.6h1.4M672.9 240.9h1.4M674.1 244.4h1.4M634.9 274.4h1.4M624 274.4h1.4M640.1 268.1h1.4M661.8 269.1h1.4M623.7 268.9h1.4M659.7 261.2h1.4M620.1 268.4h1.4M662.2 273.5h1.4M640.1 250.6h1.4M669.8 271.9h1.4M623 272.8h1.4M665.3 253.2h1.4M627.2 270.8h1.4M644.1 266.1h1.4M639.5 274.4h1.4M642.2 263.9h1.4M674.2 274.4h1.4M667.4 268.7h1.4M631 249.8h1.4M618.9 273.1h1.4M646.1 271.3h1.4M664.2 274.4h1.4M650 274.1h1.4M620.1 273.1h1.4M624.7 274h1.4M641.2 234.6h1.4M678.2 272.4h1.4M633.2 269.2h1.4M630.2 253.5h1.4M647.6 260.4h1.4M644.7 273h1.4M626.9 273.7h1.4M642.2 266.3h1.4M620.5 268.4h1.4M632.6 256.7h1.4M675.5 268.1h1.4M622.3 262.6h1.4M654.4 268.6h1.4M652.8 247.4h1.4M633 270.1h1.4M663.9 274.3h1.4M660.3 273.6h1.4M635.7 249.4h1.4M665.4 268.6h1.4M663.5 273.5h1.4M655.4 263.1h1.4M675.2 245.5h1.4M650.3 272.7h1.4M629.1 238.6h1.4M624.8 272.1h1.4M652.8 274.3h1.4M675.3 256.6h1.4M670.7 267.4h1.4M659 274.4h1.4M668.7 245.9h1.4M648.5 258.4h1.4M631.8 271.7h1.4M642.7 252.3h1.4M677 273.5h1.4M676 257.7h1.4M627.1 250.6h1.4M636.3 274.4h1.4M643.2 274.1h1.4M673.1 273.3h1.4M633.2 274.3h1.4M647.9 265.3h1.4M632.5 255.4h1.4M674.9 273.7h1.4M634.4 273.3h1.4M644 268.1h1.4M639.9 263.5h1.4M673.7 262.7h1.4M626 265.6h1.4M651.1 265.7h1.4M634 269.6h1.4M638.3 262h1.4M678.6 267.7h1.4M639.9 274.3h1.4M627 272.5h1.4M652.3 259.6h1.4M642.1 248.3h1.4M678.4 270.2h1.4M670 265h1.4M632.7 273.9h1.4M648.1 257.4h1.4M641.7 258.1h1.4M662.2 274.4h1.4M641 259.5h1.4M667.5 274h1.4M658.2 271h1.4M676.4 263.9h1.4M677.7 250h1.4M651 271.2h1.4M634.7 272.2h1.4M624.8 235.1h1.4M668.9 258.5h1.4M627 238.8h1.4M650 260.3h1.4M631.7 241.5h1.4M620.8 268.7h1.4M644.5 238.7h1.4M652.8 263.6h1.4M644.8 258h1.4M619.9 244.9h1.4M673.7 267h1.4M645.9 264.9h1.4M653.2 249.7h1.4M665.6 270.4h1.4M631.5 239.8h1.4M628.3 253h1.4M650.7 272.4h1.4M633.6 273.9h1.4M654 263.9h1.4M624.1 263.7h1.4M625.7 238.6h1.4M670.6 272.7h1.4M658.2 268.2h1.4M626.8 260.1h1.4M676.6 255.8h1.4M675.9 260.8h1.4M665.7 274h1.4M622.8 273.9h1.4M664.7 242.9h1.4M629.4 267.5h1.4M670.9 257.2h1.4M643.1 239.2h1.4M665.7 274.3h1.4M654.4 264.9h1.4M654.4 263.3h1.4M666.8 251.3h1.4M624.7 242.5h1.4M647.6 251.6h1.4M631.6 270h1.4M645 234.6h1.4M676 255.2h1.4M637.4 268.5h1.4M631.7 249.4h1.4M656.7 252.5h1.4M643.3 274.4h1.4M639.9 272h1.4M641.8 271.2h1.4M639.5 245.3h1.4M620.9 270.7h1.4M652.5 271.6h1.4M658.4 253.4h1.4M640.2 256.4h1.4M636.8 268.1h1.4M667.8 274.1h1.4M651.5 265.7h1.4M664.9 272.9h1.4M658.5 263.9h1.4M671.4 244.3h1.4M668 264h1.4M635.6 248.3h1.4M643.5 271.2h1.4M639 243.3h1.4M626.9 245.4h1.4M659.7 252h1.4M657.4 246.8h1.4M620.8 265.1h1.4M661.7 271.7h1.4M674 274h1.4M644.5 273.7h1.4M658.1 249.9h1.4M628.5 244h1.4M646.3 244.9h1.4M652.5 253.8h1.4M637.5 268.8h1.4M642.1 240.7h1.4M633.8 252.9h1.4M660.4 239.8h1.4M670.1 262.6h1.4M619.9 238h1.4M671.6 258.1h1.4M639 274.4h1.4M655.1 240.1h1.4M630.9 273.9h1.4M636.1 244.1h1.4M670.3 239h1.4M659.3 262h1.4M652.9 264.5h1.4M647.2 244.7h1.4M626.5 248.3h1.4M647.4 250.9h1.4M672.2 273.3h1.4M622.1 247.9h1.4M619.4 262.5h1.4M627.3 269h1.4M658.9 245.5h1.4M664.3 269.2h1.4M671 259.4h1.4M667.5 260.5h1.4M619.7 245.2h1.4M648.9 264.3h1.4M664.5 238.2h1.4M646.1 264.8h1.4M652.7 269.9h1.4M625.3 247.3h1.4M630.5 274.1h1.4M620.8 253.3h1.4M647.5 255.9h1.4M654.3 257.1h1.4M667.8 274.4h1.4M635.2 272.3h1.4M642.1 274.3h1.4M673.4 271.2h1.4M656.7 274.2h1.4M654.8 258.7h1.4M620.8 274.2h1.4M644.6 252.9h1.4M627.4 265.5h1.4M619.5 264.4h1.4M676.2 273.7h1.4M649.7 268h1.4M623.8 274h1.4M656.8 269.7h1.4M654.4 272.4h1.4M639.2 273.5h1.4M663.4 241.5h1.4M673.7 271.4h1.4M625.8 236.7h1.4M677.2 269.1h1.4M663.4 258.9h1.4M676.2 257.1h1.4M622.1 268h1.4M619.5 247.3h1.4M664.3 274.1h1.4M646.4 250.4h1.4M639.8 264.1h1.4M620.8 264.3h1.4M620.1 239.9h1.4M672.3 267.3h1.4M678.3 273.1h1.4M679 258.7h1.4M645.1 239h1.4M671.5 253.3h1.4M634.7 274.2h1.4M671 264.6h1.4M654.1 270h1.4M657.3 272.4h1.4M665.4 260.6h1.4M667.8 268.5h1.4M657.2 271.5h1.4M620.6 272h1.4M643.2 273.2h1.4M646.8 268h1.4M621.6 274.4h1.4M646.3 261.1h1.4M624.4 273.2h1.4M638 266.7h1.4M624.2 242h1.4M632.1 252h1.4M660 247.6h1.4M655.1 267.3h1.4M650.9 273.3h1.4M671.7 274.2h1.4M651.8 267.6h1.4M668.4 267.6h1.4M651.8 256.5h1.4M634.8 234.6h1.4M668.1 273.4h1.4M659.2 272.9h1.4M630.6 240.4h1.4M670.5 272.9h1.4M633 236.9h1.4M654.8 267.1h1.4M655.6 273.2h1.4M652.9 237.4h1.4M637.5 271.7h1.4M656.9 256.7h1.4M661.6 260.8h1.4M648.7 246.4h1.4M670.4 273.9h1.4M627.2 273.3h1.4M676.4 272h1.4M671.1 272.6h1.4M631.7 271.3h1.4M620.9 250.7h1.4M657 272.7h1.4M643.3 259.8h1.4M674 259.3h1.4M652.1 274.1h1.4M655.5 246.7h1.4M670.5 271.6h1.4M624.1 273.2h1.4M675 256.7h1.4M676.4 258.2h1.4M633.6 263.2h1.4M660 264.1h1.4M675.1 272.6h1.4M642.3 244.4h1.4M640.8 268.3h1.4M663.1 272.2h1.4M664.7 261h1.4M672.2 257.8h1.4M633.5 239h1.4M649.1 274.4h1.4M640.7 244.2h1.4M626 274.4h1.4M651.5 256.9h1.4M660.6 274.1h1.4M661.2 240.3h1.4M638.3 239h1.4M629.9 270.8h1.4M641.2 250.4h1.4M654.6 273.4h1.4M672.3 274.4h1.4M669.3 264.2h1.4M664.8 265.6h1.4M673.7 236h1.4M625.6 249.1h1.4M654.4 274.4h1.4M636.9 274h1.4M625.1 272.9h1.4M622.5 271.8h1.4M643.1 267.7h1.4M659.1 264.8h1.4M673.8 274.2h1.4M646.1 236.3h1.4M633.9 274.2h1.4M650.5 262.1h1.4M650 273.4h1.4M672.5 258.9h1.4M656.3 273.8h1.4M666.1 254.5h1.4M671.9 271.2h1.4M625.4 249.1h1.4M659.3 272.9h1.4"/>
<rect x="690.5" y="236.5" width="58.4" height="39.5" fill="url(#gr)"/>
<path stroke="#e57474" stroke-width="1.4" d="M728.1 271.5h1.4M701 242.7h1.4M724.3 257.1h1.4M700.5 274.4h1.4M736.1 261.8h1.4M743.7 271.5h1.4M744.2 273.4h1.4M714.2 252.8h1.4M729.9 273.5h1.4M721.8 258.8h1.4M698.1 252.4h1.4M741.2 271h1.4M700.3 274.4h1.4M724.1 272.9h1.4M735.2 269.8h1.4M731.1 266.3h1.4M725.1 271.7h1.4M699.9 273.3h1.4M717.8 272.8h1.4M738.6 237.2h1.4M732.4 257.8h1.4M694.3 262.8h1.4M696.4 273.8h1.4M713.7 244.6h1.4M723.8 274.3h1.4M718.8 257.3h1.4M725.9 240.3h1.4M746.4 239.6h1.4M696.1 236.6h1.4M738.4 239.5h1.4M691.4 253.4h1.4M707.6 242.2h1.4M698 265.2h1.4M721.7 266.7h1.4M746.2 273.4h1.4M718.4 245.9h1.4M731.4 274.3h1.4M738.1 273.6h1.4M739.3 242.1h1.4M713.5 270.4h1.4M700.2 248h1.4M739.6 255.7h1.4M743.9 270h1.4M696.5 252.1h1.4M722 270.4h1.4M734.5 264.9h1.4M721.4 255.1h1.4M700.8 255.3h1.4M694.5 274h1.4M707.8 259.7h1.4M715.9 257.6h1.4M699.2 250.7h1.4M726.9 263.2h1.4M709.2 271.1h1.4M746.6 274.2h1.4M747.1 270.7h1.4M706.1 251.7h1.4M713.2 274.1h1.4M713.8 271.1h1.4M711.5 270.2h1.4M720.6 274.4h1.4M693.5 239h1.4M744.1 268.9h1.4M708.7 271.3h1.4M695.1 270.1h1.4M737.6 238.9h1.4M704.5 266.6h1.4M700.5 262h1.4M714.6 267.6h1.4M729.1 250.6h1.4M694.5 247.6h1.4M743.8 252.7h1.4M732.3 273.1h1.4M743.7 261.1h1.4M724.4 273h1.4M727.4 272h1.4M742.5 242.7h1.4M728.1 254.6h1.4M741.5 258.6h1.4M700.8 254.5h1.4M703.2 247.7h1.4M707.2 237.5h1.4M738.2 252.7h1.4M742.6 272.8h1.4M741 246.2h1.4M738.4 250.2h1.4M736.2 249.8h1.4M717.6 237.7h1.4M712.4 252.3h1.4M734.6 273.4h1.4M700.5 242.5h1.4M728.3 271.8h1.4M733.7 265.9h1.4M730 267.1h1.4M741.7 247.3h1.4M697 251.2h1.4M721.8 274.3h1.4M710.1 248.4h1.4M715.9 273.6h1.4M719 274.1h1.4M697.1 272.4h1.4M691.2 267.3h1.4M736.4 252.6h1.4M731.4 247.5h1.4M747.3 270.9h1.4M723.2 258.5h1.4M702.8 257.5h1.4M713.9 273.3h1.4M709.5 236.6h1.4M714 259.2h1.4M731.7 271.9h1.4M700.1 239.7h1.4M691.6 269.5h1.4M742.5 265.2h1.4M730.3 264.8h1.4M724.6 273.9h1.4M735.3 272.2h1.4M731.5 236.6h1.4M695.6 249.9h1.4M693.7 273.9h1.4M726.2 249.2h1.4M727.5 273.3h1.4M738.3 272.8h1.4M716.6 237.9h1.4M713.4 272.7h1.4M707.4 272.9h1.4M741.3 271.4h1.4M693.1 274.4h1.4M733.5 261.7h1.4M719.5 273.1h1.4M731.9 243h1.4M747.2 272.4h1.4M730.5 269.8h1.4M719.2 272.2h1.4M697.4 249.6h1.4M704.8 274.4h1.4M702.9 272.1h1.4M697.1 261.5h1.4M705.5 269h1.4M723.8 240.9h1.4M700.5 270.8h1.4M711.4 264.4h1.4M724.6 274.4h1.4M731.6 274.1h1.4M743.7 267.1h1.4M712 268.5h1.4M719.6 266h1.4M720.7 271.6h1.4M721.7 253.9h1.4M718.1 251.8h1.4M734.6 268.8h1.4M724 251.9h1.4M710.2 251.9h1.4M740.2 268.5h1.4M694.2 272.2h1.4M727.5 244h1.4M728.7 256.7h1.4M725.1 269h1.4M734.7 247.8h1.4M745 245.4h1.4M725.3 261.3h1.4M712 257.1h1.4M730.1 236.8h1.4M714.3 269.7h1.4M720 265.2h1.4M696 256.4h1.4M714.3 259.6h1.4M732.6 274.3h1.4M744 243.1h1.4M741.9 272h1.4M729 253.6h1.4M695 274h1.4M743 247.5h1.4M743.9 260.7h1.4M717.7 261.6h1.4M744.3 270.7h1.4M699.6 243.9h1.4M692.2 256h1.4M709.4 247.8h1.4M738.5 274h1.4M715.7 263.2h1.4M693.5 247.4h1.4M717.5 269.8h1.4M711.9 273.7h1.4M740.5 238.4h1.4M738.7 274.1h1.4M739 274.1h1.4M710.7 252.5h1.4M727.5 273.8h1.4M696.5 262.6h1.4M741.8 263.9h1.4M709.1 272.5h1.4M728.3 263.4h1.4M724.4 265.1h1.4M722.9 254.2h1.4M710.2 269.3h1.4M721.1 267.1h1.4M728.7 268.9h1.4M720.2 265.9h1.4M747 273.6h1.4M713.5 250.4h1.4M735.4 274.4h1.4M721.7 256.1h1.4M692.2 249h1.4M705.6 245.1h1.4M745 264.6h1.4M726.4 260.7h1.4M730.9 272.9h1.4M738.7 268.5h1.4M739.2 254.7h1.4M713.9 245h1.4M717.5 268.7h1.4M692.8 273.7h1.4M695.5 261.6h1.4M733.5 274.4h1.4M747.2 261.8h1.4M697 266.2h1.4M713 271.9h1.4M744.5 235.1h1.4M736.9 241.2h1.4M728.3 273.9h1.4M693.5 274h1.4M725.9 249.1h1.4M731.8 272.9h1.4M715.5 274.4h1.4M705.3 260.2h1.4M698.5 274.2h1.4M710 255.3h1.4M692.1 266.8h1.4M709.1 274.2h1.4M697.4 257.9h1.4M710.9 268.1h1.4M733.1 272.9h1.4M708.8 271.9h1.4M745.7 248.3h1.4M717.7 273.9h1.4M730.5 260.3h1.4M741.3 255.3h1.4M718.2 274.3h1.4M707.9 272.5h1.4M727.1 251.6h1.4M743.3 274.4h1.4M714.3 261.2h1.4M734.5 253.2h1.4M701.4 273.9h1.4M740 268.8h1.4M724.2 274.4h1.4M738.4 270.5h1.4M730.5 274.3h1.4M731.6 271.8h1.4M701.8 269.4h1.4M746.6 261.7h1.4M691.4 274.3h1.4M736.2 266.2h1.4M713 241.3h1.4M744.9 236.7h1.4M693.5 270.3h1.4M741.2 252.4h1.4M704.3 244.6h1.4M743.2 238.2h1.4M734.6 274.3h1.4M694.6 242.7h1.4M714 270.4h1.4M732.5 261.6h1.4M709.7 269.2h1.4M713.5 237.5h1.4M698.9 267.2h1.4M716.7 244.9h1.4M728.7 250.3h1.4M716.1 271.7h1.4M705.2 237.1h1.4M699 248.7h1.4M693.8 272.7h1.4M704.8 237.6h1.4M730.8 265.1h1.4M746.3 274.1h1.4M733.7 262.6h1.4M720.9 272h1.4M713.3 274.1h1.4M693.2 258h1.4M741.1 273.8h1.4M717.1 259.6h1.4M733.4 273h1.4M712.3 267.9h1.4M745.9 273.6h1.4M737.6 251.1h1.4M705.7 261.1h1.4M713.6 274.2h1.4M710.7 274.2h1.4M727.9 250.4h1.4M695.3 269.1h1.4M740.4 261.4h1.4M741.5 274.4h1.4M724.4 237.8h1.4M702.5 252h1.4M707.8 251.5h1.4M714.6 265h1.4M730.8 264.9h1.4M741.3 267.5h1.4M700.7 269.4h1.4M726.4 269.6h1.4M725.8 274.4h1.4M694 247.5h1.4M717.4 273.3h1.4M724 274.4h1.4M695.6 267.7h1.4M708.6 271.8h1.4M695.5 266.7h1.4M708.4 254.7h1.4M742.8 251.8h1.4M697.3 266.1h1.4M699.4 271h1.4M726.7 274.3h1.4M697.7 234.3h1.4M710.1 237.3h1.4M691.9 272.5h1.4M699.7 253.5h1.4M702.6 274.1h1.4M742.3 252.8h1.4M716.3 256.7h1.4M745.2 255.1h1.4M740.3 273.5h1.4M732.1 274.4h1.4M741.6 236.4h1.4M729.4 258.7h1.4M703.7 243.4h1.4M727.7 234.5h1.4M745.7 273.5h1.4M715.1 274.4h1.4M733.1 274.3h1.4M717.5 274.2h1.4M725 273h1.4M698.1 270h1.4M698.6 257.4h1.4M703.6 247.7h1.4M694.6 273.8h1.4M714.9 239.2h1.4M744.8 274.1h1.4M720.9 254.5h1.4M720.3 269.1h1.4M744.3 274.4h1.4M726.6 274.4h1.4M743.5 240.4h1.4M738.7 268h1.4M707.5 265.6h1.4M719.8 269h1.4M711.1 248.8h1.4M701.2 271.9h1.4M705.8 268.2h1.4M715.5 260.3h1.4M714.5 238h1.4M725.2 272.5h1.4M747.1 261.6h1.4M740.9 272.5h1.4M708.7 267.9h1.4M725.5 271.5h1.4M742.9 273.2h1.4M720.4 256.7h1.4M743.7 249.5h1.4M714.5 251h1.4M726.9 272.5h1.4M691.6 243h1.4M714.8 263.8h1.4M706.4 236.1h1.4M741.1 274h1.4M721.2 274.1h1.4M712 268.8h1.4M740.6 236.2h1.4M705.3 273.8h1.4M705.2 268.7h1.4M692 269.2h1.4M710.1 265.5h1.4M726 270.4h1.4M712.7 274.4h1.4M723.3 273.6h1.4M703.4 266.5h1.4M727.4 266.5h1.4M721 260.9h1.4M702.5 273.6h1.4M730.3 262.1h1.4M713.3 255.2h1.4M698.7 268.8h1.4M691.6 270.1h1.4M729.4 265.7h1.4M734.8 274.4h1.4M723.8 263h1.4M715.8 259.9h1.4M704.3 261.4h1.4M736 274.4h1.4M694.4 272h1.4M719.3 243.1h1.4M726.1 246.6h1.4M711.9 255.4h1.4M745.2 250.2h1.4M699.6 269.7h1.4M703.6 246.4h1.4M730.7 273.7h1.4M724.4 254.3h1.4M733 245.8h1.4M738.2 244.8h1.4M722.9 257.6h1.4M725.7 273.5h1.4M706.8 250h1.4M710.3 271.8h1.4M710.2 248.3h1.4M711.6 274.4h1.4M725 257.4h1.4M733.2 260.2h1.4M695.2 274.1h1.4M718.7 235.1h1.4M740.3 262.7h1.4M703.2 252.6h1.4M728 274.4h1.4M693 254.3h1.4M742.1 252.3h1.4M707.6 273.9h1.4M700.2 267.5h1.4M744.4 270.1h1.4M726.3 274.1h1.4M698.6 267.2h1.4M714.2 271.5h1.4M728.8 273.1h1.4M704.2 269.7h1.4M729.9 269.9h1.4M699.2 235.1h1.4M723.2 270.4h1.4M711.1 274.4h1.4M724.4 274.3h1.4M735.4 258.1h1.4M709.2 254.3h1.4M707.7 266.5h1.4M728.6 273.5h1.4M716.4 262.9h1.4M734.1 235.6h1.4M708.6 255.8h1.4M696.4 267.2h1.4M716.2 270.3h1.4M720.2 271.6h1.4M700 260.6h1.4M714 245.8h1.4M743.3 245h1.4M704.8 270h1.4M705.6 270.9h1.4M704.1 272.7h1.4M694.6 234.9h1.4M731.3 272.5h1.4M736.7 267.4h1.4M722.9 258.2h1.4M736.6 274.1h1.4M735 269.3h1.4M692.9 268h1.4M731.7 270.6h1.4M730.1 274.2h1.4M731.8 259.4h1.4M692.1 273.4h1.4M695.9 246.1h1.4M723.7 256.1h1.4M696.5 273.7h1.4M741.7 274.4h1.4M701 260.8h1.4M719.4 264h1.4M727 249.8h1.4M712.2 262.8h1.4M698.4 243h1.4M740.3 274.3h1.4M706.2 274.2h1.4M720.8 274.1h1.4M723.6 269.7h1.4M696.8 274.4h1.4M701.8 261.7h1.4M697.4 270.1h1.4M711 265.2h1.4M746 242.1h1.4M725.6 235.8h1.4M696.5 259.5h1.4M736.6 274.4h1.4M744.4 257.2h1.4M744.4 272.7h1.4M700.1 257.4h1.4M700 262.4h1.4M709 273.7h1.4M702 243.9h1.4M699.7 274.2h1.4M713.5 273h1.4M720.7 253.9h1.4M743.6 257.6h1.4M708.4 272.3h1.4M715.6 271.8h1.4M722.4 267.7h1.4M740.1 251.3h1.4M725.6 238.1h1.4M741.5 272.1h1.4M739.6 242.3h1.4M734.6 241.6h1.4M693.8 239.6h1.4M728 273.4h1.4M733.1 243.5h1.4M724.2 238.6h1.4M729.4 262h1.4M738.3 237.1h1.4M737.6 263.7h1.4M729.9 272.5h1.4M701.6 274.1h1.4M712 251.2h1.4M728.4 249.6h1.4M707.1 271.2h1.4M740.5 274h1.4M741.5 248.3h1.4M709.3 248.3h1.4M744.2 262.3h1.4M734.6 273.9h1.4M744.6 274.4h1.4M727 252.8h1.4M732 272.6h1.4M725.3 273.2h1.4M705.9 252.9h1.4M737.4 273.1h1.4M736.2 262.5h1.4M717.4 269.7h1.4M726.7 261.9h1.4M698.5 240.5h1.4M739.5 258.9h1.4M723.4 246.5h1.4M724.4 256.6h1.4M713.6 273.8h1.4M743.6 239.1h1.4M731.7 254.4h1.4M696.1 251.7h1.4M736.7 271.1h1.4M709.9 274.3h1.4M719.2 240.6h1.4M737.6 266.4h1.4M743.5 261.9h1.4M700.2 269.2h1.4M737.6 260.7h1.4M700.8 273.1h1.4M729.4 264.5h1.4M704.1 273.1h1.4M698 245.2h1.4M735.4 249.3h1.4M731.8 274.3h1.4M695.3 255.4h1.4M726.6 247.9h1.4M734.5 268.3h1.4M726 238.5h1.4M693.5 260.3h1.4M720.8 265.7h1.4M728 268.9h1.4M698.9 253.9h1.4M744.2 266.4h1.4M739.7 246.9h1.4M722.5 245h1.4M710.3 269.8h1.4M718.6 267.1h1.4M699.2 274.2h1.4M725.2 273.1h1.4M720.6 270.6h1.4M714.2 270.2h1.4M742.8 274.4h1.4M697.8 274.4h1.4M699.4 260.8h1.4M714 240.6h1.4M701.6 270.2h1.4M744 265.9h1.4M711.8 262.7h1.4M744.8 247.9h1.4M714.8 247.3h1.4M745.9 270.6h1.4M710.2 242.5h1.4M714 274.3h1.4M708.7 254.9h1.4M702.8 263h1.4M696.8 267.9h1.4M728.3 274.3h1.4M723.6 272.7h1.4M715.7 257.2h1.4M691.7 267.7h1.4M721.8 235.8h1.4M720.8 244.1h1.4M740.8 244.9h1.4M720.2 273.8h1.4M706.8 274.2h1.4M694.9 267.8h1.4M731.3 255.8h1.4M734.5 273.2h1.4M698.7 274.4h1.4M719.3 271.7h1.4M733 252.7h1.4M709.4 272.3h1.4M719.4 245.6h1.4M741.1 254h1.4M731.1 257.9h1.4M692.5 256.1h1.4M691.7 274.4h1.4M704.2 271.6h1.4M734.2 256.1h1.4M703.4 236.5h1.4M692.2 264.6h1.4M737.5 274.1h1.4M727 272h1.4M722 274.4h1.4M732.9 262.1h1.4M715.4 273.7h1.4M698.2 269.7h1.4M712.4 270.5h1.4M704.9 267.1h1.4M708.5 257.6h1.4M712.7 274.4h1.4M699.2 274.4h1.4M713.8 266.9h1.4M708.2 263.2h1.4M732.2 267.1h1.4M724 241.6h1.4M691.2 272.3h1.4M696.9 263.5h1.4M737.5 261.3h1.4M734.4 269h1.4M744 256.9h1.4M738.7 273.8h1.4M702.9 255.8h1.4M703.3 255.1h1.4M722.1 236.5h1.4M717.6 264.7h1.4M710.3 243.6h1.4M701.9 274.1h1.4M744.6 237.5h1.4M709.2 273.6h1.4M713.4 272.8h1.4M716.8 259.1h1.4M715.8 263h1.4M711.8 256.1h1.4M713.8 272h1.4M715 265.4h1.4M728.2 234.3h1.4M711.3 263.5h1.4M700.8 251.5h1.4M734.8 266h1.4M704.5 274h1.4M713.9 272.7h1.4M739.5 268.2h1.4M742.9 247.2h1.4M721.3 274.2h1.4"/>
<rect x="758.0" y="236.5" width="58.3" height="39.5" fill="url(#gb)"/>
<path stroke="#7f7fca" stroke-width="1.4" d="M799.4 270.2h1.4M814.8 259.6h1.4M796.4 267.5h1.4M762.2 274h1.4M782.6 273.1h1.4M758.6 247h1.4M783.3 256.8h1.4M814 254.9h1.4M780.6 270.8h1.4M775.3 269.8h1.4M763.3 274.2h1.4M776.7 270.7h1.4M803.8 273.7h1.4M806.5 273h1.4M759.4 262.5h1.4M773.7 272.9h1.4M791.9 272.8h1.4M768.3 251.5h1.4M803.7 244.8h1.4M773.3 269.4h1.4M784.4 271.9h1.4M774.6 265.7h1.4M765.1 265h1.4M780.6 235.5h1.4M779.6 274.4h1.4M791 260.2h1.4M808.6 259.2h1.4M770.6 271.2h1.4M774.1 254.9h1.4M789.5 268.4h1.4M803.5 252.9h1.4M781.3 273.6h1.4M769 269.8h1.4M777.1 273h1.4M760.7 262.8h1.4M784.1 263.5h1.4M812.4 239.3h1.4M780.1 270.5h1.4M798.7 271.5h1.4M771.3 261.3h1.4M770.4 265h1.4M800.6 272.1h1.4M758.6 268.6h1.4M764.4 257.3h1.4M762.1 274.2h1.4M799.6 238.5h1.4M795.2 274.3h1.4M776.1 271.4h1.4M797.3 270.5h1.4M806.2 262.8h1.4M761.9 269.9h1.4M768 250.4h1.4M762 256.3h1.4M772.6 243.4h1.4M765.6 274.3h1.4M796 273.7h1.4M765.9 248.2h1.4M806.7 249.4h1.4M805 253.5h1.4M779.7 243.4h1.4M771.4 245.1h1.4M808.3 241h1.4M779.3 239.1h1.4M789.2 270.1h1.4M768.8 261.8h1.4M805.6 258.8h1.4M765.6 274.4h1.4M811.7 256.6h1.4M765.3 250.8h1.4M800.8 274.4h1.4M766.8 241.9h1.4M795.7 242.5h1.4M773.5 273.6h1.4M798.9 255.1h1.4M779.9 269h1.4M779.5 257.8h1.4M811.3 274.4h1.4M793.6 235.8h1.4M772.3 274.2h1.4M768.6 251.6h1.4M804.1 274.4h1.4M769.9 257.2h1.4M774.2 257.9h1.4M803.8 234.6h1.4M769.8 247.1h1.4M771.9 262.7h1.4M771.6 274.1h1.4M781.1 274.4h1.4M792.8 249.7h1.4M778.7 257.6h1.4M761.4 266.9h1.4M806.4 262.3h1.4M778.5 272.1h1.4M795.9 245.4h1.4M780.9 237.6h1.4M779 274.4h1.4M770.7 256.6h1.4M792.2 254.3h1.4M774.3 241.8h1.4M793.5 246h1.4M800.4 273.7h1.4M760.1 265.3h1.4M772.9 256.7h1.4M792.6 239.7h1.4M806.6 248.8h1.4M793 273.4h1.4M759.9 247.3h1.4M769.4 267.3h1.4M778.8 259.5h1.4M802.2 239h1.4M794.2 255.5h1.4M763.7 271.9h1.4M762.9 255.5h1.4M794.1 238.4h1.4M786.4 269.4h1.4M792.1 240.3h1.4M801.7 264.9h1.4M770.9 274.4h1.4M783.3 248.4h1.4M812.9 268.8h1.4M763.7 274.4h1.4M803 249.5h1.4M800.1 270.6h1.4M797.4 255.6h1.4M798.2 261.6h1.4M810.8 251.9h1.4M781.3 263.7h1.4M812.1 263.6h1.4M813.7 274.1h1.4M781.8 274.4h1.4M761.3 272.6h1.4M800.8 274.2h1.4M765.5 249.2h1.4M785.2 270.2h1.4M813.2 270.7h1.4M772.4 249.1h1.4M803 265.4h1.4M795.9 269.8h1.4M780.4 274.4h1.4M807.1 274.2h1.4M791.6 254.7h1.4M814.6 273.1h1.4M797.3 274.4h1.4M814.1 252.7h1.4M808.1 273.4h1.4M806.5 263.6h1.4M766.9 272.7h1.4M793.3 274.2h1.4M770.3 240.3h1.4M814.3 258.2h1.4M809.2 246.7h1.4M771.1 263h1.4M776.7 273.5h1.4M812.4 268h1.4M804.2 237.8h1.4M774.6 274.3h1.4M795.2 264.9h1.4M782 274.4h1.4M771.2 274.4h1.4M787.8 234.9h1.4M764.3 273.1h1.4M766.3 262.4h1.4M814.4 243.7h1.4M760 234.3h1.4M800.7 264.9h1.4M772.8 264.6h1.4M761 247.3h1.4M779.7 267.7h1.4M794.8 251.4h1.4M811.7 250.3h1.4M810.5 252.5h1.4M802.9 266h1.4M767.4 250.4h1.4M802.2 274.3h1.4M794.9 249.7h1.4M811.3 259.6h1.4M780.6 262.3h1.4M777.7 274.3h1.4M783.5 265.3h1.4M786 251.6h1.4M773.4 273.3h1.4M785.8 268h1.4M760.9 234.3h1.4M792.7 240.1h1.4M812 264.5h1.4M775.1 274.3h1.4M772.9 272.6h1.4M781.5 264.2h1.4M809.2 249h1.4M793 265.7h1.4M808.6 239.6h1.4M798.4 260.4h1.4M769.4 272.7h1.4M808.5 257h1.4M777.8 253.6h1.4M765.7 274.4h1.4M788.3 243.3h1.4M786.9 236.2h1.4M768 273.5h1.4M773.5 269h1.4M813.7 264.9h1.4M768.5 251.8h1.4M809.2 237.5h1.4M767.9 253.9h1.4M807.3 260.2h1.4M759 274.4h1.4M813.2 274.4h1.4M787.8 264h1.4M769.4 271.2h1.4M759.5 265.6h1.4M805.4 272.8h1.4M774.2 274.4h1.4M780.6 251.9h1.4M776.5 245.2h1.4M758.7 258.1h1.4M760.7 274h1.4M801.8 245.4h1.4M799.8 265.5h1.4M814.3 273.3h1.4M782 267.1h1.4M814.5 264.5h1.4M782.9 253.6h1.4M762.3 261.8h1.4M812 238.8h1.4M782.7 266.5h1.4M784.1 267.3h1.4M772.8 271.9h1.4M759.2 273.7h1.4M793.7 268.9h1.4M761.8 272.7h1.4M795.3 274.4h1.4M777.4 266.6h1.4M777.2 268.5h1.4M759.4 254.1h1.4M776.5 274.2h1.4M794.8 248.9h1.4M760.4 259.3h1.4M773 262.3h1.4M803.4 259.1h1.4M799.3 274.1h1.4M809.6 264.6h1.4M773.5 271.2h1.4M789.9 273.1h1.4M761.9 266.7h1.4M811.6 273.7h1.4M785.8 265.2h1.4M807.7 248.6h1.4M773.5 273.7h1.4M761.2 274.4h1.4M768.6 253.8h1.4M792.2 271.7h1.4M808.2 264h1.4M775.1 239.2h1.4M807.9 253.1h1.4M771.1 271.7h1.4M763.6 255.5h1.4M792 268.9h1.4M759.3 269.2h1.4M781 270.2h1.4M804.3 269.2h1.4M783.1 273.4h1.4M760.8 271.7h1.4M797.8 243.2h1.4M795.7 256.8h1.4M799.9 268.1h1.4M803 258.6h1.4M770.8 260.5h1.4M799.1 268.9h1.4M771.4 245.8h1.4M797.8 262.8h1.4M814.7 263.6h1.4M790.7 255.3h1.4M807 250.2h1.4M777.6 257.9h1.4M797.6 259.6h1.4M773.3 267.2h1.4M781.5 244.4h1.4M768 274h1.4M813.4 273.3h1.4M786.9 246.8h1.4M769.9 240.8h1.4M796.5 264.2h1.4M806.4 258.6h1.4M796.5 272.1h1.4M791.2 272.3h1.4M800 254.5h1.4M781.2 269.3h1.4M800.4 268.8h1.4M778.2 269.8h1.4M802.3 239.8h1.4M764.9 262h1.4M778.6 273.3h1.4M771 238.4h1.4M799.6 235.2h1.4M763.8 274.4h1.4M787.3 236.3h1.4M761.6 272.9h1.4M797.2 273.6h1.4M777.7 272.4h1.4M758.7 268.5h1.4M788.6 272.5h1.4M787.5 266.4h1.4M812.8 269.5h1.4M804.4 245.8h1.4M760 239.1h1.4M788.5 272.2h1.4M786.6 264.6h1.4M777.6 253.6h1.4M763.3 270.3h1.4M796.3 269.3h1.4M777.5 255h1.4M785.4 262.1h1.4M786.2 274.2h1.4M767.4 269.4h1.4M760.3 271.7h1.4M794.5 265.1h1.4M781.1 273.2h1.4M761 271h1.4M759.3 270.8h1.4M793.5 264.8h1.4M761 259.9h1.4M806.7 274.3h1.4M763 274h1.4M786.4 273.9h1.4M794.4 271.6h1.4M801.7 268.3h1.4M810.7 271.8h1.4M807.4 260.7h1.4M776.5 243.5h1.4M760.2 257.3h1.4M761.7 254.4h1.4M764.2 273.7h1.4M763.7 247.9h1.4M785.5 265.5h1.4M788.5 251.5h1.4M775.2 272.4h1.4M811.4 270.2h1.4M772.3 265.3h1.4M801.7 273.9h1.4M773.9 257.7h1.4M768.4 274.4h1.4M772.3 274h1.4M773 264.7h1.4M760.5 258.3h1.4M780.6 246.2h1.4M761.5 274.4h1.4M784 240.9h1.4M802 235.1h1.4M770.5 236.6h1.4M760.7 254h1.4M798.1 273.5h1.4M762.2 249.8h1.4M796.8 259.5h1.4M810.2 272.7h1.4M762.7 241.4h1.4M769.7 273.3h1.4M804.5 269h1.4M768.5 263.4h1.4M792.4 273.5h1.4M811.5 274.1h1.4M763.8 256.1h1.4M760.9 266.6h1.4M773 260.2h1.4M765.5 272.6h1.4M810.7 254.9h1.4M788.3 255.8h1.4M769.4 267.2h1.4M797.1 274.2h1.4M787.7 273.8h1.4M775.1 260h1.4M814.5 237.3h1.4M804 274.4h1.4M804.5 272.5h1.4M799.4 273.5h1.4M799.4 273.5h1.4M806.4 262.3h1.4M759.5 258.4h1.4M794.2 250.2h1.4M796.6 252.4h1.4M772.6 243.3h1.4M774.1 272.9h1.4M808.7 274.4h1.4M760.8 247h1.4M786 263.8h1.4M787.9 264.3h1.4M771.3 262.1h1.4M803.7 272.9h1.4M768.4 274.1h1.4M788.1 273.2h1.4M768.7 235.9h1.4M806.3 271.3h1.4M809.2 266.6h1.4M788.6 272.9h1.4M776.5 234.3h1.4M760.2 274.3h1.4M805.7 261.5h1.4M784.9 236.5h1.4M814.1 272.7h1.4M782.5 272.1h1.4M776.5 261.2h1.4M773 272.5h1.4M790.5 247.1h1.4M782.1 271.5h1.4M792.2 266.8h1.4M788.9 262.6h1.4M792.1 244.7h1.4M766.7 271.4h1.4M763.9 244.3h1.4M762.1 257.8h1.4M794.6 267.3h1.4M766.6 262.8h1.4M779 260.9h1.4M769.9 274.1h1.4M796.9 241h1.4M788.7 261.5h1.4M812 272h1.4M808 251.2h1.4M760.1 252h1.4M792.6 273h1.4M807.6 260.6h1.4M786.6 264.7h1.4M812.1 273.3h1.4M774.5 266.1h1.4M773.5 274.4h1.4M765.3 238.8h1.4M794.1 261.7h1.4M782.3 263.2h1.4M811 273.2h1.4M798.9 272.7h1.4M770.2 269.1h1.4M790.5 257.3h1.4M761.6 271.7h1.4M791.4 274.4h1.4M790.5 235.6h1.4M792.7 274.2h1.4M789.6 271.6h1.4M800.4 265.7h1.4M777.9 274.4h1.4M773.2 274.4h1.4M769.5 242.3h1.4M780.1 235h1.4M771.1 272.9h1.4M779.1 274.2h1.4M787.6 274.3h1.4M760.4 243.1h1.4M778.8 255.9h1.4M798.9 267.6h1.4M781.8 255.9h1.4M772.2 273.2h1.4M793 244.5h1.4M775.2 273.5h1.4M775.5 261.5h1.4M799.5 268.7h1.4M766.3 271.3h1.4M763.8 274h1.4M783.7 257.2h1.4M798.9 256.3h1.4M800.3 274.4h1.4M780.1 270.5h1.4M795.4 264.6h1.4M760.8 261.2h1.4M765.7 255.8h1.4M770.5 259.5h1.4M787.6 245.9h1.4M809.6 240.4h1.4M789 247.5h1.4M794.4 271.3h1.4M796.9 273.5h1.4M809.7 274.4h1.4M811.8 273.1h1.4M781 274.1h1.4M788.8 267h1.4M807.9 273.3h1.4M812.1 270.2h1.4M774.6 274.4h1.4M760.2 274.4h1.4M786.6 248.5h1.4M809.1 235.2h1.4M793.6 272.1h1.4M804.4 269.2h1.4M794.7 274h1.4M786.7 257.6h1.4M759.5 263.4h1.4M797.1 274.4h1.4M797.9 254h1.4M772.7 273.1h1.4M793.7 236.8h1.4M771.5 252.1h1.4M760.7 259.1h1.4M777.2 242.9h1.4M800.7 271.9h1.4M778.8 253.2h1.4M772.9 270.4h1.4M782.9 266.1h1.4M778.4 263.6h1.4M781.6 247h1.4M789.6 270.3h1.4M778.7 247.2h1.4M785.3 274.4h1.4M791.3 271.4h1.4M796.9 274.4h1.4M778.9 274.3h1.4M763.4 264.6h1.4M762.9 274.4h1.4M780 264.9h1.4M790.5 260.6h1.4M806.1 239.8h1.4M784.9 274.3h1.4M769.3 268.9h1.4M771.8 235.1h1.4M793.4 269.6h1.4M782.6 270h1.4M761.6 260.1h1.4M774.4 273.1h1.4M768.3 255.1h1.4M785.6 253.6h1.4M760.5 265.5h1.4M781.8 260.9h1.4M782 273.8h1.4M813.2 240.1h1.4M777.7 272.5h1.4M781.7 270.9h1.4M782.7 268.4h1.4M779.7 235.8h1.4M760 267.4h1.4M760.2 248h1.4M801.1 272.2h1.4M804.3 273.8h1.4M798.3 235.7h1.4M767.3 273.7h1.4M805.5 261h1.4M800.6 251.8h1.4M810 270.2h1.4M793.8 263.9h1.4M780.2 267.6h1.4M794.7 257.5h1.4M806.1 246.2h1.4M786.1 274.3h1.4M776.2 271.2h1.4M782.9 274h1.4M773.7 251.8h1.4M769.6 260.7h1.4M806.5 270.4h1.4M777.1 274.4h1.4M798.9 253.5h1.4M801.9 274.1h1.4M808.2 274.1h1.4M804.3 266.6h1.4M788.1 266.9h1.4M807.5 270.3h1.4M795.3 265.1h1.4M784.3 237.1h1.4M797.9 250.6h1.4M761.9 274.2h1.4M761.4 243h1.4M762 267.9h1.4M759.8 249.2h1.4M761.5 272.1h1.4M797.1 257h1.4M763.1 260.3h1.4M810.7 247.8h1.4M784.1 236.7h1.4M787.9 238.7h1.4M792.3 261.8h1.4M790.3 242.9h1.4M786.7 256.7h1.4M784.8 271.6h1.4M778.6 235.7h1.4M760.7 254.4h1.4M768.9 255.9h1.4M786.3 268.6h1.4M806.6 235.2h1.4M764.1 272.8h1.4M777.1 272.8h1.4M806.9 273.5h1.4M810.9 273.8h1.4M762.6 267.3h1.4M775.4 243h1.4M779.2 274h1.4M774.5 264.9h1.4M793.7 268h1.4M803.6 254h1.4M774.2 272.9h1.4M808.4 241h1.4M790.5 253.1h1.4M767.7 269.1h1.4M776.1 261.3h1.4M780.9 272h1.4M773.9 249.6h1.4M764.8 248.9h1.4M797.8 253h1.4M794.5 273.2h1.4M793.6 269h1.4M778.8 273.3h1.4M764.9 253.9h1.4M806.5 237.2h1.4M770.2 237.4h1.4M764.5 260.2h1.4M814 270h1.4M796.3 273.9h1.4M790.5 273.9h1.4M776.2 251.7h1.4M767.3 265.2h1.4M760.2 250.2h1.4M809.7 264.6h1.4M768.1 271.4h1.4M781.4 259.5h1.4M802.3 274.1h1.4M759.6 258.9h1.4M772.8 270.5h1.4M797.3 257.6h1.4M766.6 258.7h1.4M781.7 273.5h1.4M770.6 274.3h1.4M760.1 266.7h1.4M766.3 265.1h1.4M777.6 274h1.4M788.6 274.3h1.4M810.4 256.3h1.4M813.7 271.9h1.4M782.4 274.1h1.4M797.7 253.7h1.4M764.2 260.1h1.4M797.7 263.3h1.4M776.9 244.3h1.4M792 267.2h1.4M807.8 235.8h1.4M792.8 258.9h1.4M798.4 242.4h1.4M802.1 262.8h1.4M784.2 260.1h1.4M782.4 268.5h1.4M776.4 247.9h1.4M784.1 264.9h1.4M778.4 248.9h1.4M788 248h1.4M805 274.3h1.4M798 274.1h1.4M781.3 273.6h1.4M760.9 244.4h1.4M807.2 272.5h1.4"/>
<rect x="825.0" y="236.5" width="58.0" height="39.5" fill="url(#gr)"/>
<path stroke="#e57474" stroke-width="1.4" d="M852.1 271.3h1.4M842.7 248.3h1.4M839.4 253h1.4M840.8 263.7h1.4M845.5 239.4h1.4M851.4 263.9h1.4M858 274.4h1.4M874.5 264.8h1.4M870.6 254.5h1.4M848.7 252.6h1.4M876.2 251.9h1.4M877.7 273.2h1.4M827.8 250.9h1.4M880 246.8h1.4M879.1 244.2h1.4M829.2 245.5h1.4M847.5 248.4h1.4M837.1 269h1.4M856.8 270.8h1.4M845.1 243h1.4M867.6 239.6h1.4M827.9 270.9h1.4M880.8 236h1.4M876.8 273.3h1.4M850.5 234.7h1.4M844.2 269.9h1.4M867.9 240.8h1.4M840.2 269.4h1.4M832.5 257.2h1.4M864.1 263h1.4M871.2 266.8h1.4M880.7 259.2h1.4M829.7 270.1h1.4M829.9 267.8h1.4M829.9 273.8h1.4M863.5 250.5h1.4M847.6 243.4h1.4M847.9 271.8h1.4M855 246.7h1.4M832.1 234.9h1.4M829.2 271.7h1.4M836.5 239.4h1.4M852.6 265.8h1.4M866.2 235.4h1.4M838.1 266.1h1.4M863.3 265.6h1.4M878.4 255.6h1.4M863.7 274.1h1.4M845.1 274.3h1.4M829.8 267.4h1.4M877.5 237.7h1.4M878.5 274.3h1.4M876.4 235.4h1.4M839.6 268h1.4M852.1 272.5h1.4M836.2 273.7h1.4M869.7 266.6h1.4M870.7 237.4h1.4M859.9 264.2h1.4M843.6 274.4h1.4M829.3 234.3h1.4M839.5 274.3h1.4M829.2 252.9h1.4M867 246.1h1.4M851.1 241.5h1.4M881.3 264.6h1.4M826.8 236.4h1.4M849.4 262.7h1.4M845.5 251.5h1.4M860.7 274.1h1.4M839.5 254.8h1.4M846.6 245h1.4M830.1 245.4h1.4M839.1 267.4h1.4M862.4 271h1.4M874 246.1h1.4M874.6 273.4h1.4M851.6 274.3h1.4M842.5 257.4h1.4M862.2 262.7h1.4M852.7 261h1.4M826.4 274.4h1.4M869.1 267.2h1.4M835.8 268.6h1.4M854.7 257.3h1.4M868.3 274.4h1.4M859.1 269.3h1.4M844.4 244.4h1.4M859.5 253.9h1.4M852.1 255.5h1.4M848.1 264.6h1.4M837 274.1h1.4M826 271.9h1.4M850.3 274.2h1.4M875.4 261.6h1.4M840.7 250.1h1.4M836.9 258.9h1.4M871.2 248.4h1.4M865 262.1h1.4M879.7 274.4h1.4M829 271.4h1.4M842 262.8h1.4M861.5 242.2h1.4M829.7 267.1h1.4M873.5 266.3h1.4M832.5 268.5h1.4M833.3 274.4h1.4M842.1 273.9h1.4M846.4 244.6h1.4M860.8 260.6h1.4M881.4 262.5h1.4M852.2 253.6h1.4M847.1 272.8h1.4M853.7 264.4h1.4M841.5 249.5h1.4M846.1 256.8h1.4M829.3 267.6h1.4M843.3 273.3h1.4M845 259.9h1.4M847.2 240h1.4M861.9 273.2h1.4M838 248.7h1.4M839.7 242.1h1.4M841.2 274.1h1.4M853.2 260.8h1.4M866.3 273.8h1.4M856.6 257.6h1.4M835.5 271.2h1.4M874.1 236.1h1.4M829.9 242.8h1.4M839.6 260.4h1.4M869.4 253.4h1.4M871.9 255.4h1.4M872.4 257.7h1.4M848.7 244.9h1.4M861.6 272.1h1.4M825.9 247.5h1.4M880.4 253h1.4M867.1 244.1h1.4M878.8 260.4h1.4M876.6 264.5h1.4M851.8 245.8h1.4M871.5 237.4h1.4M846.1 249.5h1.4M879.7 251.9h1.4M835.9 272.9h1.4M870.9 264.8h1.4M834.5 242.7h1.4M833 274.4h1.4M846.6 271.4h1.4M875.7 270.9h1.4M859.7 240.9h1.4M828.7 273.6h1.4M866 241.6h1.4M845.9 239.9h1.4M860.4 259.8h1.4M833.6 252.2h1.4M850.1 273.8h1.4M833 272.8h1.4M852.6 274.1h1.4M836.3 251.4h1.4M869.6 247.9h1.4M860.2 260.5h1.4M835.3 250.5h1.4M871.1 261.8h1.4M855.6 274.3h1.4M827.7 270.4h1.4M876.9 270.6h1.4M876.4 239.4h1.4M840.4 266.9h1.4M873.1 259.1h1.4M857.9 272.4h1.4M832.7 263.2h1.4M854.9 255h1.4M837.8 267.1h1.4M835.6 257.4h1.4M862.4 271.9h1.4M834.7 274.3h1.4M825.7 238.2h1.4M866.2 267.6h1.4M871.8 274h1.4M879.9 273.2h1.4M861 262.9h1.4M854 273.2h1.4M855.9 235.4h1.4M866.8 260.2h1.4M877.1 272.8h1.4M828.5 272.9h1.4M842.2 260.9h1.4M872.8 256h1.4M866 259.5h1.4M855.4 273.3h1.4M857 273.6h1.4M835.8 264.1h1.4M834.8 266.6h1.4M858.4 272.5h1.4M876.8 266.2h1.4M827.5 274h1.4M835.4 261.7h1.4M869.7 273.8h1.4M843.2 245.2h1.4M873 254.5h1.4M862.6 235.7h1.4M867.8 273.2h1.4M852.8 237.3h1.4M839.4 246.1h1.4M868.1 258.1h1.4M831.8 274.4h1.4M861.3 249.7h1.4M854.3 273.2h1.4M875.8 262.3h1.4M837.7 251h1.4M861.1 257.1h1.4M847.5 271.6h1.4M846.4 257.9h1.4M860.6 269.9h1.4M835.7 270.3h1.4M856.3 274.1h1.4M835.5 245h1.4M844.7 268.7h1.4M830.4 264.6h1.4M834.4 274.4h1.4M855 266.4h1.4M858.7 269.2h1.4M838.6 244.7h1.4M873.1 274h1.4M875.4 255.4h1.4M875 264.6h1.4M838 244.6h1.4M866 272.9h1.4M842 273.6h1.4M846.9 235.1h1.4M850 265.3h1.4M873.2 268.5h1.4M841.8 266.4h1.4M844.7 272h1.4M860.1 274.4h1.4M835.8 274.3h1.4M841.8 266.6h1.4M836.3 274.4h1.4M859.1 235.7h1.4M832 268.4h1.4M837.4 263.7h1.4M854.3 247.7h1.4M833.3 267.3h1.4M831 261.7h1.4M840.3 259.6h1.4M857.9 272.1h1.4M879.9 250.8h1.4M876.8 254h1.4M839.7 269.3h1.4M854.1 252.6h1.4M856.4 239.1h1.4M855.1 274.4h1.4M874.3 259.4h1.4M879.6 251.6h1.4M850.8 266.6h1.4M833.5 267.2h1.4M872.6 268.8h1.4M847.1 237.8h1.4M835.8 274.2h1.4M831.7 258.2h1.4M862.1 244.2h1.4M859.6 238.6h1.4M826.5 273.6h1.4M867.5 270.4h1.4M869.1 274.2h1.4M840.7 273.6h1.4M839.3 273.4h1.4M840.9 261h1.4M880.2 249.1h1.4M873.5 274.4h1.4M842.9 264.2h1.4M868.3 238.1h1.4M830 259.7h1.4M852.6 257.3h1.4M847.9 274.2h1.4M839.5 236.9h1.4M835.5 238.6h1.4M879.4 266.3h1.4M833.7 242.1h1.4M845.7 273h1.4M832.3 269.8h1.4M871.4 244.2h1.4M832.6 256h1.4M840.9 251.2h1.4M838.7 242.9h1.4M834.8 273.1h1.4M831.2 270.8h1.4M877.8 256.9h1.4M860.6 268.9h1.4M878.2 268.3h1.4M874.5 273.7h1.4M857.8 269.6h1.4M866.5 273.8h1.4M829.5 256.2h1.4M828.2 272.2h1.4M867.4 250.1h1.4M867.5 272.7h1.4M880.6 272h1.4M868.7 253.5h1.4M829.4 271.7h1.4M855.2 239.1h1.4M849.4 271.6h1.4M879.6 236.5h1.4M830.3 245.5h1.4M864.5 264.8h1.4M849.9 271.2h1.4M841.1 272.8h1.4M826.2 274.3h1.4M840 273.9h1.4M853.5 273.7h1.4M849.3 271.5h1.4M833.9 266.9h1.4M866.7 272.2h1.4M845.5 271.6h1.4M849.5 273.3h1.4M836.1 270h1.4M844.3 252.4h1.4M847.5 248.3h1.4M836.9 260.5h1.4M845.3 273.9h1.4M857.9 271.1h1.4M851.9 254.3h1.4M842.4 261.7h1.4M877.1 243.1h1.4M828.5 257.5h1.4M862.4 246.5h1.4M869.2 274.3h1.4M877.8 264h1.4M875.2 241.4h1.4M837.1 274.2h1.4M829.8 246.2h1.4M844.7 272.5h1.4M832.7 273.2h1.4M860.8 273h1.4M860.5 254.7h1.4M835.4 272.2h1.4M844.6 267.4h1.4M857.1 263.3h1.4M863.5 266.2h1.4M850.9 266.4h1.4M853 274.3h1.4M866.9 271.1h1.4M879.8 262.5h1.4M834.1 235.3h1.4M878.3 262h1.4M825.5 234.3h1.4M874.6 267.8h1.4M854.4 244.3h1.4M827 274h1.4M830.3 253h1.4M836.1 239.5h1.4M842 272.4h1.4M879.6 267.5h1.4M836.4 258.5h1.4M851.4 258.2h1.4M835.9 266.7h1.4M834.8 273.5h1.4M836 247.4h1.4M839.7 274.2h1.4M842.4 269.2h1.4M864.4 254.7h1.4M856.8 264.4h1.4M856.5 267.4h1.4M837.1 274.4h1.4M843.6 257.6h1.4M828.1 270.7h1.4M881 268.4h1.4M837.7 263.4h1.4M827.7 273.7h1.4M855.3 258.3h1.4M846.1 268.9h1.4M835.1 274.2h1.4M850.7 253.5h1.4M836.3 254.4h1.4M871.9 239.7h1.4M833.1 235.8h1.4M828.4 264.2h1.4M865.1 267.5h1.4M839.8 259.7h1.4M829.2 273.4h1.4M870.1 270.6h1.4M851.4 246.5h1.4M853.1 266.4h1.4M877.8 264.4h1.4M852.4 268.6h1.4M856 273.9h1.4M881.2 274.3h1.4M835.6 246.7h1.4M863.3 234.9h1.4M865 247.5h1.4M845.9 251.3h1.4M852.6 274.4h1.4M842.1 267.8h1.4M874.7 241.1h1.4M881.2 266.2h1.4M859 246.1h1.4M836.1 274.3h1.4M846.3 261.8h1.4M843.2 274h1.4M854.1 264.4h1.4M875.5 239h1.4M879.4 274.3h1.4M832 268.6h1.4M828.1 267.9h1.4M847.7 241.4h1.4M878.3 239.9h1.4M845.3 273.1h1.4M852.3 259.5h1.4M827.1 274.3h1.4M840.5 269.2h1.4M840.5 259.6h1.4M863.6 272.6h1.4M831.7 263.4h1.4M859.4 249.6h1.4M840.4 271.2h1.4M862.1 274.3h1.4M840.5 260.5h1.4M855.5 246.2h1.4M848.6 269.4h1.4M831.6 243.3h1.4M876 274.3h1.4M879.9 263.5h1.4M846 269.5h1.4M833.4 262.9h1.4M855.3 256.6h1.4M846.5 274.3h1.4M868.9 265.9h1.4M859.4 251.8h1.4M845.6 239.7h1.4M868.1 246.7h1.4M852 269.8h1.4M834.7 248.6h1.4M874 261.7h1.4M872 266.3h1.4M879.8 274.2h1.4M877.9 252.7h1.4M830.7 255h1.4M861.1 249.5h1.4M834.6 273.8h1.4M850.4 261.7h1.4M847.2 239.5h1.4M849.2 269.8h1.4M843.9 270.9h1.4M871.8 250.5h1.4M828.8 273.9h1.4M845.6 268.3h1.4M835 265.7h1.4M851.6 246.5h1.4M852.4 274.4h1.4M828.3 245.9h1.4M877.6 258.6h1.4M864.3 272h1.4M858.5 274.4h1.4M877.2 260.8h1.4M878.3 257.9h1.4M879.7 243.8h1.4M848.6 273.5h1.4M867.2 273.8h1.4M831.2 264.9h1.4M874.4 251.2h1.4M872.6 241.8h1.4M875.3 274h1.4M847.5 271.7h1.4M858 268.5h1.4M845.1 260.3h1.4M826.3 264.8h1.4M871.2 274h1.4M831.3 256.2h1.4M863.1 268.4h1.4M875.9 250.2h1.4M834.6 259.1h1.4M850.8 257h1.4M834.4 260.9h1.4M878.1 250.6h1.4M832 271.5h1.4M828.3 255.8h1.4M872.5 262.9h1.4M827.9 273.8h1.4M871.5 262.9h1.4M849.7 273.4h1.4M843.7 261.5h1.4M880.1 269.9h1.4M828.6 253.7h1.4M831 271.7h1.4M878.7 242.7h1.4M830.3 259.7h1.4M845.7 267.7h1.4M867.4 273.7h1.4M844.2 274.3h1.4M862.8 271.7h1.4M829.4 274.4h1.4M860.9 269h1.4M857.8 267.9h1.4M829.7 263.6h1.4M852.3 272.2h1.4M841.7 274.2h1.4M870.1 250.3h1.4M850.7 265.1h1.4M841.4 270.4h1.4M864.3 245.1h1.4M830.8 234.7h1.4M841.4 254.9h1.4M862.8 271.4h1.4M871.2 240.6h1.4M861.4 252h1.4M876.2 245.1h1.4M831.9 274.4h1.4M833.2 273.8h1.4M828.9 264.2h1.4M848.9 274.1h1.4M834 272.4h1.4M880.7 260h1.4M865.6 241.8h1.4M879.9 272.9h1.4M874.8 260.9h1.4M866.7 273.5h1.4M861.8 260.2h1.4M866 273.7h1.4M830.2 267.1h1.4M878.1 271.4h1.4M880.3 272.9h1.4M858.6 256.6h1.4M839.7 272.7h1.4M844.4 239.8h1.4M868.3 273.3h1.4M873.2 274.2h1.4M869.1 256.2h1.4M830.9 271.9h1.4M881.2 237.9h1.4M836.7 252.5h1.4M844.5 265.9h1.4M873.6 273.4h1.4M842.3 237.4h1.4M837.5 271.3h1.4M870.1 245.1h1.4M869.5 274.4h1.4M830.6 247.5h1.4M853 267.2h1.4M852.5 239.9h1.4M840.5 263.9h1.4M875.3 257.2h1.4M880 273.9h1.4M836.8 274.4h1.4M839.8 262.7h1.4M840.1 237h1.4M855.3 243.9h1.4M865.7 273h1.4M858.7 236.4h1.4M868.9 271h1.4M880.3 240.5h1.4M870.8 267.5h1.4M844.5 246.1h1.4M853 267.9h1.4M825.6 273.9h1.4M833.6 255.2h1.4M840 270.5h1.4M828 259.4h1.4M878 246h1.4M878.3 248.3h1.4M834.5 271.5h1.4M836.6 234.6h1.4M839.4 263.3h1.4M851.2 247.8h1.4M862.1 235.9h1.4M845.9 257.9h1.4M873.9 274.4h1.4M865.7 269h1.4M851.5 271h1.4M850.8 236h1.4M859.3 274.4h1.4M843.2 261.2h1.4M841.9 265.6h1.4M850.9 264.7h1.4M830.1 271.4h1.4M866.3 265.9h1.4M874.9 243h1.4M833.6 236.1h1.4M846.9 267.1h1.4M875.1 247.3h1.4M842.8 247.4h1.4M833.1 249.5h1.4M858.7 274.2h1.4M864.7 242h1.4M839.4 245.5h1.4M836.4 261.8h1.4M865.9 267.2h1.4M864.6 244.4h1.4M864.1 242.8h1.4M838.8 252.5h1.4M849 274.2h1.4M871.6 274.4h1.4M844.8 274.1h1.4M852.5 244.1h1.4M851.8 248.2h1.4M851.3 259.4h1.4M836.8 273.9h1.4M855.9 272.9h1.4M868.3 273.7h1.4M845.7 261.3h1.4M847.3 274.1h1.4M863.2 271.8h1.4M878.5 247.8h1.4M833.6 274.3h1.4M832.6 271h1.4M851.1 258.2h1.4M854.5 267.2h1.4M870.8 241.7h1.4M831.6 267.6h1.4M845.9 245.9h1.4M877.6 263.7h1.4M847.7 262.1h1.4M864.8 242.4h1.4M848.6 272.6h1.4M877.4 258.7h1.4M856.4 274.4h1.4M861.9 274.4h1.4M829.2 268.6h1.4M873.2 243h1.4M876 259.5h1.4M851.5 270.1h1.4M835.3 263.6h1.4M850.4 268.2h1.4M874.3 252h1.4M880.9 248h1.4M856.1 246.7h1.4M879.9 271h1.4M831 269.2h1.4M866.3 256.7h1.4M870.4 263.1h1.4M831.7 271.7h1.4M839.3 274h1.4M873.2 272.9h1.4M861.4 237.1h1.4M839.7 245.9h1.4M861.1 271.5h1.4M852.6 270.2h1.4"/>
<rect x="891.5" y="236.5" width="55.3" height="39.5" fill="url(#gb)"/>
<path stroke="#7f7fca" stroke-width="1.4" d="M911.6 274.4h1.4M932.4 241.7h1.4M916.9 240.5h1.4M935.8 271.5h1.4M903.6 272.4h1.4M918.4 253.8h1.4M926.6 273.9h1.4M930.3 238.4h1.4M900.3 274h1.4M918.5 272.7h1.4M923.8 273.6h1.4M939.7 272.9h1.4M893.8 237.2h1.4M915.6 259.4h1.4M935.3 238h1.4M939.1 268.4h1.4M927.4 274.2h1.4M920.7 253.6h1.4M930.2 274.4h1.4M919.7 263.5h1.4M932.1 267.8h1.4M893.7 268h1.4M943.2 268.4h1.4M903.4 258.3h1.4M942.5 273.9h1.4M908.1 271.6h1.4M934.1 273.3h1.4M910.7 270.6h1.4M918.7 271.9h1.4M933.8 245h1.4M943.2 266.8h1.4M910.5 267.4h1.4M908.4 274.4h1.4M898.9 266.5h1.4M901.5 273.4h1.4M923.6 264.3h1.4M943.9 269.4h1.4M909.5 258.8h1.4M895 259.1h1.4M905.2 258.1h1.4M929.4 269.6h1.4M935.6 274.3h1.4M936.5 271.6h1.4M945.1 251.8h1.4M899.4 266.4h1.4M944.2 235.3h1.4M909.3 273.7h1.4M896.4 271.5h1.4M902.3 259.2h1.4M897.5 252.8h1.4M920 240.7h1.4M924 269.4h1.4M907.1 243.5h1.4M935.2 263.6h1.4M902.5 269.8h1.4M892 254.9h1.4M930.3 270.1h1.4M930.6 274.4h1.4M923.8 254.5h1.4M896.2 240h1.4M911.9 243.5h1.4M936.9 249.4h1.4M906.6 274.3h1.4M920.7 237.9h1.4M908.8 266.7h1.4M914.3 273.6h1.4M935.4 262.1h1.4M914.9 256.2h1.4M899.9 266.3h1.4M931.4 272.3h1.4M911.7 236.3h1.4M918.4 248.1h1.4M932.7 250.3h1.4M907.2 273.9h1.4M937.1 271h1.4M921.9 272.8h1.4M944.6 274.4h1.4M921.5 234.3h1.4M923.1 272.1h1.4M935.7 267.6h1.4M918.8 247.7h1.4M900.7 271.9h1.4M896 261h1.4M904.8 266.7h1.4M935 244h1.4M893 240.8h1.4M930.3 274h1.4M929.1 264.9h1.4M938.8 272.3h1.4M934.2 255.6h1.4M897.4 264.6h1.4M896.2 264.7h1.4M893.3 271.8h1.4M901.3 265.9h1.4M933.5 262.3h1.4M898.9 274.3h1.4M893.5 242.1h1.4M922.2 262.6h1.4M905.6 242.6h1.4M942.5 270.9h1.4M910.3 263h1.4M902.5 274.1h1.4M917.3 274h1.4M898 240.6h1.4M936.4 273.5h1.4M930.6 258.8h1.4M935.8 263.9h1.4M938.7 274.2h1.4M900.9 262.6h1.4M899.7 272.8h1.4M932 254h1.4M903.6 264.9h1.4M892.3 267.9h1.4M940 245h1.4M894.2 263.2h1.4M900.7 273.9h1.4M941.5 244.2h1.4M894.8 261.6h1.4M924.9 274.4h1.4M919.4 270.2h1.4M897.8 267.8h1.4M906.6 262.5h1.4M916.7 274.3h1.4M941.3 257.4h1.4M903.4 270.9h1.4M896.9 254.3h1.4M911.9 243.5h1.4M909.9 265.9h1.4M910.6 274.1h1.4M910.4 239.8h1.4M906.2 249.1h1.4M898.8 268.2h1.4M921.8 251.8h1.4M894.3 269.3h1.4M904.6 250.9h1.4M937.5 274.1h1.4M930.1 271.4h1.4M900.4 273.9h1.4M923.7 274.4h1.4M906.5 274.4h1.4M944.9 271.3h1.4M926.6 270.7h1.4M927.6 274h1.4M936.5 272.8h1.4M906.9 254.9h1.4M928.7 258.8h1.4M920.9 273.5h1.4M905.6 273.5h1.4M897.6 272.8h1.4M911.1 248.5h1.4M923 273.2h1.4M905.4 274h1.4M932.3 262.6h1.4M939 257.2h1.4M919.1 268.7h1.4M900.2 274.4h1.4M924.5 270.2h1.4M922.6 271.9h1.4M900.6 271.2h1.4M898.1 261h1.4M921.1 240h1.4M915.9 267.8h1.4M916.2 265.9h1.4M941.9 257.6h1.4M905.7 269h1.4M922.8 270.4h1.4M942.6 269.6h1.4M937.8 257.4h1.4M897.7 273.3h1.4M921.8 257.3h1.4M912 272.3h1.4M917.3 273.8h1.4M910.4 242.6h1.4M895.3 268.5h1.4M914.5 274.3h1.4M918.4 256.5h1.4M921.4 239.2h1.4M905 250.1h1.4M898.6 260.2h1.4M892.6 247.1h1.4M942.2 271.2h1.4M893.7 273.5h1.4M919.1 240h1.4M940.8 245.7h1.4M902 254.2h1.4M909.6 274.3h1.4M927.6 269.1h1.4M944.7 269h1.4M909.5 269.1h1.4M898.9 267.5h1.4M944.3 240.4h1.4M934.8 273.7h1.4M908.7 270.5h1.4M894.9 273.1h1.4M940.5 266.6h1.4M913.7 273.8h1.4M931.1 235.8h1.4M902.2 269.5h1.4M929.6 250.1h1.4M893.7 260.4h1.4M899.2 274.3h1.4M934.2 272.8h1.4M910.2 273.7h1.4M923.1 272.9h1.4M943.8 273.5h1.4M932 273.7h1.4M941.4 262h1.4M924.9 244h1.4M937 274.4h1.4M900.8 274.3h1.4M901.4 251h1.4M928.8 274h1.4M911 256.2h1.4M919 236.8h1.4M939.2 240.6h1.4M917.1 272.6h1.4M899.4 264.3h1.4M912.6 273.7h1.4M941.8 274.2h1.4M937.1 273.9h1.4M906.7 274.4h1.4M940.8 269.7h1.4M904.2 274.4h1.4M914.3 273.9h1.4M909.6 273.5h1.4M907 274.2h1.4M922.5 274.1h1.4M926.1 242.4h1.4M898.5 241.2h1.4M909.1 271.8h1.4M917 239.5h1.4M930.2 266.9h1.4M899.8 262.2h1.4M913.4 274.2h1.4M932.4 263.4h1.4M927.8 242.3h1.4M922.9 270.1h1.4M926.2 265.9h1.4M899.6 274.4h1.4M929.8 274.4h1.4M928.4 271.6h1.4M944.7 252h1.4M902.4 268.9h1.4M920.5 261.5h1.4M942.2 271.6h1.4M899.2 267.7h1.4M904.8 264.2h1.4M944.9 264.3h1.4M898.3 256.5h1.4M930.9 264.5h1.4M902.1 272.2h1.4M926 253.2h1.4M900.7 270.8h1.4M896.3 274.4h1.4M923.9 273.5h1.4M938.2 239.5h1.4M912.4 263.8h1.4M892.1 273.1h1.4M912 274.1h1.4M942.9 274.4h1.4M922.3 270.4h1.4M944.3 235h1.4M944.7 235.8h1.4M901 273.5h1.4M915.4 272h1.4M937.4 263.7h1.4M927.7 268.2h1.4M941.9 270.2h1.4M897.6 266.1h1.4M922.9 272.4h1.4M913 242.9h1.4M934.7 272.6h1.4M899.3 273.4h1.4M935.7 264.7h1.4M893.5 272.4h1.4M895.2 261h1.4M920.7 252.5h1.4M916.7 260.3h1.4M909 274.3h1.4M938.8 241.5h1.4M901.9 257.8h1.4M931 274.4h1.4M934.2 268.7h1.4M901.1 263.1h1.4M937.7 266.6h1.4M942.3 273.3h1.4M934.3 273.7h1.4M941.5 241.6h1.4M906.1 253.9h1.4M903.2 274.4h1.4M893.8 256.2h1.4M893.8 263.9h1.4M917.1 273.9h1.4M921.7 271.9h1.4M937 273.2h1.4M919.4 243.4h1.4M934.9 272.9h1.4M929.4 273.4h1.4M941.7 273.8h1.4M895.6 266.6h1.4M917.9 267.8h1.4M913.2 274.4h1.4M931.8 259.6h1.4M907.6 247h1.4M908.6 273.9h1.4M898.6 274.4h1.4M928.2 274.4h1.4M897.5 252.3h1.4M929.6 274.2h1.4M911.1 236.6h1.4M938.8 266.8h1.4M927.2 241.4h1.4M916.7 264.7h1.4M931.2 270.5h1.4M943.9 263.6h1.4M919.1 260.9h1.4M907.1 235.1h1.4M899.9 246.9h1.4M900.7 265.8h1.4M938.9 255.9h1.4M922.2 272.6h1.4M912.9 273h1.4M916.1 259.9h1.4M894.2 273.1h1.4M942.6 241.1h1.4M905.7 256.1h1.4M935.6 249.2h1.4M917.3 274.3h1.4M925.5 267.2h1.4M914.9 254.5h1.4M908.8 268.2h1.4M940.6 254.7h1.4M935 272.8h1.4M914.7 267.7h1.4M940.3 267.5h1.4M904.7 242.8h1.4M904 273.8h1.4M903.4 270.2h1.4M914 272.2h1.4M932.6 256.2h1.4M901.1 248.2h1.4M940.2 274.3h1.4M935.5 264.5h1.4M910.9 242.3h1.4M943.5 274.1h1.4M938 274.4h1.4M916.3 273.8h1.4M895.5 260.3h1.4M897.1 273.9h1.4M916.2 268.3h1.4M930.4 274.3h1.4M926.9 244.5h1.4M937.4 263.9h1.4M904.4 241.3h1.4M934.4 266.9h1.4M913.2 273.6h1.4M934.7 248.7h1.4M894.6 274.4h1.4M910 271.1h1.4M934.4 273.7h1.4M932.3 249.8h1.4M911.7 259.8h1.4M900.2 248.9h1.4M938.6 254.6h1.4M896.7 252.9h1.4M926 240.7h1.4M932.5 244.4h1.4M893.9 270.1h1.4M908.6 265.3h1.4M910.3 272.9h1.4M921.3 242h1.4M923.8 244h1.4M910.8 274.1h1.4M922.1 256.1h1.4M934.2 268.7h1.4M919 243.9h1.4M904.5 273.9h1.4M902.3 265.7h1.4M933.4 245.9h1.4M902.4 270.8h1.4M903.6 261.1h1.4M938.8 274.1h1.4M926.1 252.6h1.4M900.7 258.7h1.4M935.3 274.2h1.4M924.3 274.3h1.4M931.7 272.6h1.4M901.9 274.3h1.4M893.5 244h1.4M930.9 274.3h1.4M917.9 270.7h1.4M910 259.4h1.4M914 265.6h1.4M940.2 246h1.4M912 249.7h1.4M905.6 243.1h1.4M932.5 268.3h1.4M941.5 258.6h1.4M899 258.5h1.4M893.1 252.1h1.4M930.2 258h1.4M914.9 268.2h1.4M938 249h1.4M923.5 274.4h1.4M929.6 238.9h1.4M914.3 267.1h1.4M896.9 273.2h1.4M936.5 261.3h1.4M923.3 246.2h1.4M939.6 243.1h1.4M930.3 271.3h1.4M937.2 255.5h1.4M929.5 255.5h1.4M893.5 274.2h1.4M926 274.2h1.4M929.4 273.1h1.4M895.9 238.6h1.4M893.6 272.1h1.4M913.7 255.7h1.4M896.8 273.9h1.4M903.4 262.1h1.4M942.3 240.4h1.4M892.1 274.1h1.4M924.6 274.4h1.4M912.9 270.8h1.4M902.8 241h1.4M918.5 250.9h1.4M906.4 235.3h1.4M939.3 274.4h1.4M926.7 255h1.4M924.3 244.5h1.4M901 247h1.4M919.2 237.1h1.4M910.7 272.8h1.4M922.9 242.4h1.4M902.1 264.9h1.4M929.5 242.9h1.4M908.1 270.8h1.4M926.6 272.8h1.4M893.6 274.2h1.4M912.9 248.5h1.4M936.9 269.7h1.4M898.1 251.1h1.4M896.5 234.7h1.4M933.2 272.6h1.4M900.1 273.9h1.4M938.3 271.9h1.4M924.2 251.3h1.4M902.8 271.1h1.4M906.6 268.1h1.4M937.2 273.7h1.4M936.5 273.7h1.4M921.4 271h1.4M905 273.4h1.4M930.9 238.2h1.4M901 273.1h1.4M920.4 274.2h1.4M926 248h1.4M894.3 269.4h1.4M939.7 271.8h1.4M893.8 269h1.4M921 254.5h1.4M916.7 274.3h1.4M925.8 261.1h1.4M919.1 268.1h1.4M898.4 268.7h1.4M898.8 244.9h1.4M932.1 272.1h1.4M928.7 271.2h1.4M926.2 270.3h1.4M931.4 259.8h1.4M907.9 241.5h1.4M913.8 234.4h1.4M916.6 274.3h1.4M924.9 274.1h1.4M940.3 272h1.4M919 273.1h1.4M919.8 273.8h1.4M897.5 273.3h1.4M932.6 256.1h1.4M902.2 263.3h1.4M912.6 273.1h1.4M900.6 263.2h1.4M894.7 272h1.4M938.1 265h1.4M941.9 271.9h1.4M927.6 249.7h1.4M917.7 266.2h1.4M920.8 248.2h1.4M919.4 272.9h1.4M917.3 265h1.4M917.1 270.9h1.4M936.9 262h1.4M894.9 274.2h1.4M935.2 235h1.4M938.6 270.4h1.4M944.9 272.9h1.4M936.2 274.2h1.4M903.9 240.6h1.4M917 273.1h1.4M903.5 249.8h1.4M908.2 273.4h1.4M914.3 260.6h1.4M929.6 254.5h1.4M907.4 273.9h1.4M924.1 267.7h1.4M928.2 273.2h1.4M935.5 268.4h1.4M938.5 270.8h1.4M941.3 238.2h1.4M939.2 264.4h1.4M936 274.3h1.4M929.2 268.7h1.4M902.3 268.3h1.4M926.6 248.4h1.4M940.4 245.9h1.4M916.1 267.9h1.4M904.3 255.7h1.4M904.8 256.1h1.4M895.4 273.9h1.4M915.2 258.6h1.4M915.3 243.6h1.4M894.4 245.3h1.4M894.3 268.8h1.4M916.7 269.4h1.4M914.5 250h1.4M921.5 271h1.4M909.7 244.8h1.4M905.5 273.9h1.4M915.9 274.3h1.4M926.9 268.1h1.4M909 260.4h1.4M918.4 274.1h1.4M894 245.7h1.4M943.8 269.8h1.4M900.9 266.2h1.4M907.4 264.5h1.4M936.2 238.2h1.4M895.4 241.1h1.4M900.2 236.9h1.4M894.3 270h1.4M940.4 260h1.4M919.7 254.4h1.4M938 270.2h1.4M937.9 254h1.4M907.4 246h1.4M908.5 269.2h1.4M921.4 262h1.4M937.7 243.3h1.4M930.1 257.7h1.4M932.1 257.5h1.4M924.8 272.1h1.4M917.6 266.9h1.4M944 270.7h1.4M908.5 247h1.4M942.8 260.4h1.4M932.9 274h1.4M924 274.3h1.4M931.3 248.7h1.4M917.7 256.4h1.4M914.1 272.6h1.4M912.8 251h1.4M934.7 272.8h1.4M908.2 273.1h1.4M917 274.2h1.4M892.7 269.5h1.4M936.9 268.4h1.4M945.3 274.2h1.4M904.1 236.6h1.4M941.6 274.2h1.4M909.6 260.8h1.4M921.8 261.7h1.4M937.4 251.4h1.4M921.2 268.5h1.4M898.9 260.8h1.4M936.3 272.3h1.4M896.9 254.2h1.4M895.7 247.9h1.4M912.7 272.8h1.4M909.1 243h1.4M931.2 249.3h1.4M913.4 271.5h1.4M906.2 272h1.4M922.7 273.1h1.4M941.4 273.2h1.4M934.1 270h1.4M903.5 261.1h1.4M904.7 238.5h1.4M925.6 250.6h1.4M932.2 251.8h1.4M917 273.4h1.4M919.9 270.8h1.4M914 256.1h1.4M933.4 252.3h1.4M941.3 266.6h1.4M934.1 244.4h1.4M913.1 253.5h1.4M897.4 264.9h1.4M915.4 270.2h1.4M944.1 245.6h1.4M940.6 272.8h1.4M909.3 273.5h1.4M911.7 260.7h1.4M944 268.5h1.4M931 257.1h1.4M900.8 272.7h1.4M930.1 273.7h1.4M924.6 273.9h1.4"/>
<rect x="955.9" y="236.5" width="50.3" height="39.5" fill="url(#gr)"/>
<path stroke="#e57474" stroke-width="1.4" d="M957.2 235.6h1.4M975.1 254.1h1.4M991.9 253.8h1.4M1001.5 237.9h1.4M975.5 274.2h1.4M1003.5 259.5h1.4M1002.6 254.5h1.4M988 272.9h1.4M984.2 272.3h1.4M1003 250.4h1.4M960.6 274.2h1.4M990.8 274.3h1.4M1003.4 274.2h1.4M982.5 240.9h1.4M976.7 240.7h1.4M987.1 273.9h1.4M999.3 255.8h1.4M986.8 261.5h1.4M959.2 273.8h1.4M970.7 272.9h1.4M999.8 245.7h1.4M994.4 272.8h1.4M972.6 274.4h1.4M988.3 240.1h1.4M1001.9 268h1.4M998.5 265.1h1.4M956.4 271.1h1.4M1001.8 265.3h1.4M987.1 256h1.4M968.9 273.8h1.4M976.8 267.8h1.4M996 262.2h1.4M978.1 274.2h1.4M961.5 272.5h1.4M984.9 274.2h1.4M963.3 267.2h1.4M968.4 263.1h1.4M997.9 271.2h1.4M957.7 270.9h1.4M963.5 263.8h1.4M961.8 262.4h1.4M957.1 250.8h1.4M986.5 256.3h1.4M985.9 235.7h1.4M986.2 273.4h1.4M969.1 267.7h1.4M965.7 258.1h1.4M996.2 272.7h1.4M963.2 268.2h1.4M981.2 265.5h1.4M998.2 273.3h1.4M958.5 249.4h1.4M1003.1 270.5h1.4M992 249h1.4M972.9 272h1.4M983.3 274h1.4M983.2 243.1h1.4M992.3 274.4h1.4M984.1 272.9h1.4M962.9 265.2h1.4M964.6 261.1h1.4M975.6 263.1h1.4M1003.1 274.1h1.4M966 272.6h1.4M971.7 242.8h1.4M968.2 258.1h1.4M980.2 271.3h1.4M991.5 259.6h1.4M996.8 245.9h1.4M1003.7 272.7h1.4M997.1 270.3h1.4M968.6 274.1h1.4M979.2 272.5h1.4M994.8 271.7h1.4M966.9 273.5h1.4M991.7 260.9h1.4M986.8 271.4h1.4M994.6 265.7h1.4M997.3 263.2h1.4M995.1 261.4h1.4M970.5 274.2h1.4M969.7 246.3h1.4M991.3 252.4h1.4M968.5 260h1.4M978.6 272.2h1.4M966.2 272.4h1.4M968.4 267.4h1.4M980.3 268.2h1.4M982.4 266.3h1.4M982.9 255.2h1.4M971.7 247h1.4M967.9 242.4h1.4M969.1 274.3h1.4M964.3 265.5h1.4M984.1 271.8h1.4M1001.8 262.2h1.4M992.7 259.4h1.4M983 260.8h1.4M981.6 274h1.4M998.1 248.9h1.4M991.6 273.7h1.4M972.3 274.4h1.4M985.3 265.7h1.4M975.2 236h1.4M972.2 252.4h1.4M984.9 261.8h1.4M976.4 255.2h1.4M975.4 274.4h1.4M980.6 237.6h1.4M996.3 273.8h1.4M1000.8 274.1h1.4M960.2 259.2h1.4M983.7 262.5h1.4M995.2 269.9h1.4M965.8 273.4h1.4M977.8 273.9h1.4M972.9 273.1h1.4M980.8 236h1.4M991.3 273.7h1.4M998.1 244.2h1.4M994.5 267h1.4M982.1 258.6h1.4M981.8 250.2h1.4M958.5 238.4h1.4M994.3 255.5h1.4M982.7 240.9h1.4M978.8 264.7h1.4M983.6 260.6h1.4M1001.3 238.3h1.4M960.9 270.4h1.4M1000.8 236.2h1.4M984.1 273h1.4M1003 274.1h1.4M958.4 260.3h1.4M978.3 268.4h1.4M957.6 254.1h1.4M969.5 268.5h1.4M976.5 272.3h1.4M958.1 261.5h1.4M967.7 267.6h1.4M958.3 252.2h1.4M1003.1 239.1h1.4M979.2 260.3h1.4M967.8 271.5h1.4M958.6 240.5h1.4M966.7 270.5h1.4M981.1 257.8h1.4M969.1 263.8h1.4M960 272h1.4M996.3 272.9h1.4M981.8 268.7h1.4M969.1 274h1.4M1003.1 271.6h1.4M993.6 264.2h1.4M996.7 241h1.4M988.3 274h1.4M973 268.3h1.4M967.3 245h1.4M992.9 263h1.4M1003.2 260.9h1.4M965.9 253h1.4M960 249.1h1.4M974.7 271.2h1.4M994.8 252.5h1.4M978.9 272.9h1.4M1001.3 269.4h1.4M992.2 237.1h1.4M1000.3 237.9h1.4M967.2 251.5h1.4M974.9 254.5h1.4M983.2 271h1.4M981.4 262h1.4M965.6 274.1h1.4M957 270.4h1.4M982.1 264.8h1.4M986.1 240.6h1.4M972.1 272.4h1.4M981.2 273.1h1.4M1001.9 273.4h1.4M973.5 271.1h1.4M965.7 272.6h1.4M980.9 268.7h1.4M997.1 271.6h1.4M964.2 268.9h1.4M976.1 266.9h1.4M967.5 260.7h1.4M981.6 252.4h1.4M963.8 261.5h1.4M958.9 274.4h1.4M970.4 252.4h1.4M963.4 268.9h1.4M997 270.6h1.4M958.6 255h1.4M997.3 264.4h1.4M961 255.9h1.4M1000.8 259.8h1.4M981.7 241.7h1.4M993.8 269.8h1.4M990.8 256.5h1.4M992.8 273.3h1.4M977.8 269.4h1.4M973.8 260.7h1.4M985.1 274.1h1.4M969.7 249.6h1.4M963.5 274.2h1.4M989.2 274.1h1.4M980.6 247.6h1.4M957.6 257.9h1.4M963.1 272.7h1.4M995.4 261.9h1.4M1003.5 273.4h1.4M965.3 273.4h1.4M996.7 273.9h1.4M987.2 257.1h1.4M960.5 238.6h1.4M998.4 237h1.4M982.9 274.2h1.4M974.6 271.3h1.4M985.4 262.1h1.4M997.1 259.4h1.4M982.9 270.3h1.4M957.6 272.8h1.4M990.9 274.2h1.4M969.7 274.2h1.4M999.5 239.4h1.4M993.5 256.1h1.4M998 236.8h1.4M968.6 272.5h1.4M957.3 274.2h1.4M987.9 274.4h1.4M979.9 256.7h1.4M971.3 253.4h1.4M965.3 273.7h1.4M968.8 272h1.4M990.2 271.7h1.4M989.9 274.1h1.4M965.4 272.4h1.4M996.6 271.7h1.4M961.2 274.2h1.4M984.8 273.8h1.4M989.7 274h1.4M972.5 249.6h1.4M986.1 274.3h1.4M986.3 248.7h1.4M975.1 260.3h1.4M969.5 266.5h1.4M984.8 273.6h1.4M970.2 246.9h1.4M974.6 272h1.4M973.3 246.9h1.4M970.1 274.3h1.4M999.4 255.2h1.4M967.6 263.9h1.4M1004.5 273.6h1.4M971.9 253.1h1.4M997.5 254.8h1.4M964.1 274.2h1.4M964.9 267.7h1.4M995.6 261.5h1.4M989.6 263.4h1.4M990.3 252.4h1.4M995.8 258.9h1.4M978.7 263.2h1.4M961.8 273.1h1.4M993.2 256.2h1.4M960.4 265.3h1.4M1001 264.5h1.4M990 269.4h1.4M999.1 260.5h1.4M966.4 258.1h1.4M978.9 238.1h1.4M968.4 271.1h1.4M977.6 274.3h1.4M985.6 256.6h1.4M957.9 235.4h1.4M986.9 273.2h1.4M957.3 272.9h1.4M988.9 268.2h1.4M969.4 249.7h1.4M998.2 254.7h1.4M996.8 244.4h1.4M985.9 257h1.4M966.5 273.3h1.4M980.8 249.3h1.4M968.3 273.1h1.4M979.8 270.8h1.4M960.6 264.1h1.4M985.8 274.3h1.4M1000.2 240.6h1.4M976.2 273.8h1.4M959.6 265.7h1.4M962.2 273.8h1.4M975.5 265h1.4M985.5 251.6h1.4M978.2 273.2h1.4M984.8 243.7h1.4M981 270.2h1.4M987.7 247h1.4M959.3 263.7h1.4M989.9 273.8h1.4M1002.8 272.1h1.4M983.8 260.7h1.4M965.2 272.7h1.4M957.9 263.2h1.4M1001.1 246.3h1.4M971.8 252.9h1.4M970 263.3h1.4M977.7 240h1.4M967 242.6h1.4M1000.1 250.8h1.4M987.9 259h1.4M959.3 237.5h1.4M967.6 262.9h1.4M996.5 241.5h1.4M997.8 256.3h1.4M957.5 267.8h1.4M989.6 272.8h1.4M967.5 266.8h1.4M997.6 274.1h1.4M1004 258.4h1.4M990.5 256.9h1.4M985.6 267.4h1.4M973.1 249.6h1.4M971.6 242.8h1.4M967.4 257.2h1.4M995.1 260.7h1.4M994.5 265.7h1.4M972.3 241.8h1.4M964 237.9h1.4M992.3 273.5h1.4M987.4 274.4h1.4M961.4 253.3h1.4M964.1 274.3h1.4M983.5 235.2h1.4M977.7 252.5h1.4M963 273.7h1.4M956.5 274.4h1.4M960.2 274h1.4M1001 273.3h1.4M957.3 274.4h1.4M979.2 250.6h1.4M984.4 254.9h1.4M968.2 257.1h1.4M977 273.6h1.4M1004.2 266.2h1.4M1001.7 242.1h1.4M1000.3 273.8h1.4M962.8 250.7h1.4M1002.7 274.3h1.4M999.7 272.5h1.4M983.3 248.5h1.4M983.2 268.9h1.4M957.7 251h1.4M984.2 272.3h1.4M957.3 267.5h1.4M961.6 236.8h1.4M958.3 274.3h1.4M991 239.2h1.4M976.2 273.9h1.4M970.6 254.8h1.4M970.3 272.7h1.4M1000.8 272.4h1.4M978.9 273.5h1.4M966.1 274h1.4M983.3 249.8h1.4M957.4 249.8h1.4M984.2 238.9h1.4M1000.4 272.9h1.4M963 269h1.4M985 240h1.4M994.7 260.7h1.4M998.2 274h1.4M995.3 269.3h1.4M978.4 238.2h1.4M971.8 274.4h1.4M968.4 274h1.4M982.9 267.4h1.4M979.9 271.7h1.4M995.1 244.1h1.4M958.6 260.8h1.4M957.7 273.6h1.4M983.9 269.6h1.4M979.1 265.8h1.4M1001.3 244.1h1.4M978.8 274.3h1.4M971.5 274.3h1.4M963.2 249.8h1.4M993.6 270.7h1.4M994.8 269.6h1.4M957.2 249.7h1.4M986 241.9h1.4M970.8 274.4h1.4M997.7 268.1h1.4M986.6 252.2h1.4M1002.6 272.5h1.4M965.2 264.9h1.4M972.2 249.3h1.4M997.1 265.9h1.4M995.6 268.6h1.4M997.5 272.2h1.4M1004.1 238.3h1.4M975.6 249.6h1.4M962.2 239.1h1.4M993.1 252.8h1.4M977.7 271.4h1.4M1003.4 272.9h1.4M995 260.6h1.4M997.8 267.1h1.4M964 266.2h1.4M968 236.9h1.4M994.9 271.7h1.4M976.2 273.5h1.4M958.9 265.9h1.4M983.9 274h1.4M970.7 270.7h1.4M990.9 274h1.4M995.8 247.5h1.4M979.2 267.9h1.4M969.4 273h1.4M969.9 245.9h1.4M992.1 250h1.4M994.3 258.5h1.4M974.7 273.9h1.4M990 253.7h1.4M962.9 262.9h1.4M990.2 274.4h1.4M994 268.6h1.4M961.2 274.2h1.4M1004.5 256.7h1.4M1001.3 239.1h1.4M998.8 274.1h1.4M981.6 242.1h1.4M993.1 254.9h1.4M966.8 274.4h1.4M991.7 274.4h1.4M983.8 263.8h1.4M983.3 259.6h1.4M1000.9 265.2h1.4M1000.3 252.7h1.4M984.4 266.9h1.4M963.1 251.7h1.4M958.8 274.4h1.4M996.7 274.2h1.4M968.6 245.5h1.4M992.6 268.5h1.4M984.7 265.8h1.4M997.8 258.9h1.4M958.3 259.1h1.4M989.3 273.9h1.4M974.9 272.7h1.4M970.8 272h1.4M967.4 255.8h1.4M993.2 272.9h1.4M965.5 273.6h1.4M966.2 245.9h1.4M1003.2 261.2h1.4M989.1 250.4h1.4M988.5 239.1h1.4M962.8 274.1h1.4M977.4 250.4h1.4M984.6 264.7h1.4M970.8 268.5h1.4M991 264.1h1.4M1001.8 268.4h1.4M973.7 235.8h1.4M996.1 239.8h1.4M978.7 251h1.4M978.8 274.1h1.4M975.9 274.1h1.4M984.5 245.7h1.4M987.2 268.1h1.4M984.4 261.1h1.4M973.7 252.7h1.4M960.5 271.6h1.4M981.7 238.3h1.4M980.8 264.6h1.4M992.1 273h1.4M976.4 269.5h1.4M960.7 245.9h1.4M981.3 267.8h1.4M976.5 258.2h1.4M982.4 255h1.4M980 264.5h1.4M976.5 267.4h1.4M1000.7 238.1h1.4M997.9 262h1.4M993.6 256.1h1.4M994.4 253.8h1.4M964.3 234.9h1.4M979.7 260.8h1.4M986.1 260.9h1.4M984.1 265.8h1.4M971.4 243.7h1.4M967.5 273.6h1.4M995 257.5h1.4M984.6 270.6h1.4M1001.2 251.8h1.4M990.7 261.4h1.4M965.2 272.9h1.4M983.9 257.6h1.4M966.5 264.8h1.4M986.4 259.6h1.4M964.9 267.1h1.4M996.9 266.9h1.4M972.3 269.9h1.4M1002.3 263.9h1.4M1002 261.4h1.4M991.7 274.1h1.4M986.6 239.4h1.4M993.1 274h1.4M983.7 274.2h1.4M964.1 254.8h1.4M985.2 268h1.4M994.4 249.1h1.4M969.6 253.1h1.4M987.2 274.4h1.4M977.4 255.6h1.4M998.6 255.7h1.4M997.1 268.9h1.4M974.2 242.1h1.4M997 266.5h1.4M983.6 250.7h1.4M982.8 252.6h1.4M990.8 271h1.4M1002.4 245.3h1.4M965.3 258.6h1.4M996.7 271.4h1.4M999.5 272.1h1.4M976.1 262.9h1.4M966.8 236.7h1.4M965.4 266.9h1.4M976.5 267.5h1.4M966.2 267.6h1.4M996 244.1h1.4M979.5 255.5h1.4M976 265.6h1.4M1001.2 273.1h1.4M972 273.1h1.4M993.4 242.2h1.4M956.7 243.1h1.4M990.3 268.9h1.4M961 274.4h1.4M1003.6 266.5h1.4M958.7 274.2h1.4M963.9 274.2h1.4M964.6 259.7h1.4M960.4 242.9h1.4M979.5 240.3h1.4M963.7 256.7h1.4M985.1 261.7h1.4M980.1 267.4h1.4M957.1 256h1.4M966.1 269h1.4"/>
<rect x="1014.6" y="236.5" width="50.3" height="39.5" fill="url(#gb)"/>
<path stroke="#7f7fca" stroke-width="1.4" d="M1038.8 272.7h1.4M1043.4 272.4h1.4M1061.4 271.5h1.4M1054.4 274.3h1.4M1040 274.3h1.4M1051.5 254h1.4M1052.9 265.2h1.4M1016.6 263.4h1.4M1055.7 237.6h1.4M1048.1 267.7h1.4M1020.7 270h1.4M1026.7 271.4h1.4M1018 268h1.4M1034.1 273.2h1.4M1053.4 251h1.4M1062.7 258.4h1.4M1048.1 274.2h1.4M1046.5 251.1h1.4M1056.9 260.6h1.4M1021.7 274.4h1.4M1052.8 240.3h1.4M1017.2 272.5h1.4M1055.3 270.4h1.4M1041.3 271.3h1.4M1036.3 248.2h1.4M1015.7 272.9h1.4M1038.2 254.3h1.4M1041.9 274.2h1.4M1032.6 273.3h1.4M1044.8 272.8h1.4M1025.6 239.5h1.4M1025.2 239.5h1.4M1024.6 274.4h1.4M1033.1 274.4h1.4M1061.6 273h1.4M1037.4 267.5h1.4M1059.7 241.3h1.4M1033.5 248.2h1.4M1055.8 252.2h1.4M1033.5 247.8h1.4M1021.5 266.7h1.4M1033 269.2h1.4M1052.2 242.1h1.4M1024.2 242.6h1.4M1020.9 273.7h1.4M1030.1 239.5h1.4M1058.2 247.7h1.4M1017.2 273.5h1.4M1020 237.2h1.4M1029.7 273.6h1.4M1039.3 274.3h1.4M1041 242.2h1.4M1050.6 271.7h1.4M1041.3 261.3h1.4M1051.1 272h1.4M1058 274.4h1.4M1045.5 272.3h1.4M1020.6 268.4h1.4M1032.5 274.3h1.4M1048 253.5h1.4M1058.1 252.1h1.4M1025.6 246.3h1.4M1022 268.1h1.4M1055.1 274h1.4M1024.5 272.4h1.4M1031.7 263.9h1.4M1042.3 243.9h1.4M1019.4 272h1.4M1059.9 274.3h1.4M1038.3 268.5h1.4M1032.9 267.4h1.4M1033.2 270.7h1.4M1015.8 235.8h1.4M1053.9 246.7h1.4M1047.9 265.8h1.4M1042.5 250.1h1.4M1033.4 247.1h1.4M1034.5 268.6h1.4M1030.7 272.1h1.4M1021.2 269.7h1.4M1033.5 259.8h1.4M1024 240.3h1.4M1063 243.4h1.4M1038 270.8h1.4M1039.4 268.7h1.4M1053.5 261.4h1.4M1057.2 266.1h1.4M1018.3 265.5h1.4M1053.5 249.1h1.4M1054.3 273.5h1.4M1044.6 263.1h1.4M1051 274.3h1.4M1023.6 266h1.4M1030 242.1h1.4M1050.8 250.6h1.4M1032.7 259.6h1.4M1047.3 271.3h1.4M1031.1 271h1.4M1053.5 259.2h1.4M1044.7 272h1.4M1030.1 255h1.4M1026.8 274.1h1.4M1043.1 240.3h1.4M1061.5 273.1h1.4M1023.8 274.4h1.4M1033.4 267.7h1.4M1062.9 273.7h1.4M1055.3 247.3h1.4M1055.5 236.6h1.4M1032.4 253.8h1.4M1062.8 271h1.4M1062.9 255.2h1.4M1032.4 269.5h1.4M1037.3 268.9h1.4M1047 267.6h1.4M1020.7 269.7h1.4M1020 270h1.4M1041.4 274.4h1.4M1050.3 239.1h1.4M1023.8 262.6h1.4M1016.2 273.9h1.4M1030.3 274.4h1.4M1015.4 270.6h1.4M1034.1 256.7h1.4M1048.1 269.1h1.4M1038.2 268.9h1.4M1022.2 271.3h1.4M1032.9 242.1h1.4M1062.2 250.5h1.4M1037 240.5h1.4M1016.2 274.1h1.4M1028.4 271.2h1.4M1053.6 235.4h1.4M1034.9 246.2h1.4M1031.5 249h1.4M1038 267h1.4M1042.5 273.9h1.4M1043.8 246.3h1.4M1045.4 271.7h1.4M1032.5 274.2h1.4M1017.6 255.2h1.4M1051.1 274.2h1.4M1029.7 250.7h1.4M1050 258.7h1.4M1046.8 269.9h1.4M1026 268.5h1.4M1059.2 272.9h1.4M1034.9 272.1h1.4M1043.4 258h1.4M1061.4 259.4h1.4M1038.1 274.3h1.4M1044.1 244.2h1.4M1056 239.4h1.4M1017 273.7h1.4M1052.1 246.7h1.4M1047.3 272.6h1.4M1052.3 271.6h1.4M1060 256.4h1.4M1034.9 251.6h1.4M1022.7 273.4h1.4M1015.1 273.9h1.4M1019.4 240.1h1.4M1036.9 268.4h1.4M1016.9 273.9h1.4M1028.9 265.3h1.4M1052.4 268.3h1.4M1062.9 274.4h1.4M1029.9 273.7h1.4M1047.4 262.2h1.4M1024 249.5h1.4M1041.6 274.4h1.4M1033.8 273.9h1.4M1055.9 261.5h1.4M1049.2 273.9h1.4M1022.8 274.3h1.4M1041.8 257.7h1.4M1047.3 264.5h1.4M1035.3 274.3h1.4M1058.2 260.4h1.4M1049.5 272.3h1.4M1044.8 236.3h1.4M1042.9 252.6h1.4M1039.5 274.4h1.4M1017.4 269h1.4M1051.9 254h1.4M1022.1 251.1h1.4M1020.5 250.2h1.4M1045.2 269.6h1.4M1023.1 272.5h1.4M1055.7 274.3h1.4M1054.2 261h1.4M1051.8 268h1.4M1047.2 274.1h1.4M1042.2 273.9h1.4M1016.4 235.6h1.4M1045 269.1h1.4M1016.1 262.8h1.4M1021.5 269.6h1.4M1058.9 253h1.4M1045.2 256h1.4M1049 274.4h1.4M1045.9 255.2h1.4M1037.5 274.4h1.4M1061 270h1.4M1027.5 273.7h1.4M1032.6 272.6h1.4M1037.3 269.9h1.4M1024.6 254.8h1.4M1055.7 274.3h1.4M1061 268.8h1.4M1023.8 263h1.4M1048.8 273.4h1.4M1027.6 260.6h1.4M1023.8 271.6h1.4M1053.8 274.3h1.4M1054.3 234.9h1.4M1026.8 258.8h1.4M1037.2 263.3h1.4M1035.8 235.1h1.4M1053.9 271.9h1.4M1058.4 261.4h1.4M1047.8 272h1.4M1054.2 271.6h1.4M1017.2 267.1h1.4M1052.9 250.6h1.4M1025.5 265.3h1.4M1044.1 274.4h1.4M1024.4 272.9h1.4M1062.6 252.9h1.4M1039.1 274h1.4M1038 248h1.4M1049.3 235h1.4M1035.6 263.7h1.4M1034.7 260.9h1.4M1036.9 254.9h1.4M1062.4 258.6h1.4M1017.8 274.4h1.4M1036.9 235.9h1.4M1042.8 254.5h1.4M1060.6 264.2h1.4M1044.2 261.3h1.4M1017.9 269.8h1.4M1038.9 245h1.4M1016.8 270.8h1.4M1042 267h1.4M1040.6 269.3h1.4M1025.4 261.1h1.4M1041.8 274.3h1.4M1038.8 257.5h1.4M1058.5 243.4h1.4M1049.5 252.5h1.4M1039.5 259.3h1.4M1049.2 250.8h1.4M1058.1 274.3h1.4M1059.4 273.9h1.4M1043.7 273.7h1.4M1037.2 273.3h1.4M1062.6 274.2h1.4M1054.9 238.4h1.4M1040.1 266.2h1.4M1024.5 251.3h1.4M1050.1 245.1h1.4M1025.9 242.2h1.4M1029.1 264.6h1.4M1055.4 260.2h1.4M1060 237.9h1.4M1053 273.7h1.4M1034.9 273.6h1.4M1044.2 274.4h1.4M1045.1 273h1.4M1042.7 272.4h1.4M1036.7 252.1h1.4M1027.1 274.4h1.4M1059.5 239h1.4M1053.6 273.8h1.4M1051.3 245.9h1.4M1016.5 249.4h1.4M1028.7 269.5h1.4M1027.2 271.8h1.4M1057.9 238.5h1.4M1048.4 265.4h1.4M1018.3 274.3h1.4M1023.6 260.9h1.4M1045.1 271h1.4M1020.5 257.4h1.4M1038.2 269.9h1.4M1037.5 265.4h1.4M1025.8 271.7h1.4M1046.4 273.4h1.4M1032.6 236h1.4M1057.8 255.5h1.4M1047.1 272.9h1.4M1036.4 261.7h1.4M1054 261.4h1.4M1019.4 242.7h1.4M1036.7 274.2h1.4M1044.2 257.4h1.4M1060.6 271.7h1.4M1033.1 256.9h1.4M1042.6 272.1h1.4M1059.2 261.9h1.4M1062.3 274.2h1.4M1031.2 273.8h1.4M1061.4 236.1h1.4M1034.2 236.7h1.4M1051.4 241.9h1.4M1054.5 274.4h1.4M1025.6 265.2h1.4M1036.9 239.8h1.4M1061.5 268.1h1.4M1043.2 270.8h1.4M1057.1 272.2h1.4M1034.3 237.3h1.4M1028.4 273.8h1.4M1041.5 255.4h1.4M1055.6 271.7h1.4M1030.1 270.8h1.4M1061.3 247.8h1.4M1038.6 238.9h1.4M1028.6 264.8h1.4M1052 268.9h1.4M1061.6 274.3h1.4M1024.6 273.9h1.4M1045 274.2h1.4M1019 274.2h1.4M1055.1 239.4h1.4M1059.5 261.8h1.4M1028.8 246.6h1.4M1052.4 272h1.4M1031.5 274h1.4M1042.6 251.2h1.4M1029.5 271.8h1.4M1031.5 266.9h1.4M1063.2 252.8h1.4M1020.7 274.1h1.4M1039.1 271.7h1.4M1021 273.1h1.4M1034.4 259.8h1.4M1042.1 261.3h1.4M1040.1 256h1.4M1019.9 274.3h1.4M1015.7 274.4h1.4M1020.3 271.4h1.4M1062.5 270.7h1.4M1053.6 272.2h1.4M1021.9 234.9h1.4M1058 262.1h1.4M1038.5 246.5h1.4M1036 239h1.4M1025.3 257.1h1.4M1017.1 240.1h1.4M1036.7 243.4h1.4M1022.9 265.7h1.4M1035.5 262.7h1.4M1041.6 256.3h1.4M1053 255.4h1.4M1029.4 273.4h1.4M1037.2 274.4h1.4M1051.5 274.4h1.4M1045.7 273.4h1.4M1046.8 266.6h1.4M1020.9 259.6h1.4M1031.2 270.1h1.4M1059.3 268.1h1.4M1032.6 246.9h1.4M1036.2 264.9h1.4M1046.2 274.4h1.4M1035.3 262.4h1.4M1024.1 247.8h1.4M1036.4 267.5h1.4M1056.2 257.8h1.4M1040.9 236.3h1.4M1024.4 259.6h1.4M1039.5 266.1h1.4M1048.8 235.2h1.4M1035.5 274.2h1.4M1021.7 258.9h1.4M1049.2 262.1h1.4M1031.2 241.7h1.4M1063 273h1.4M1055.3 274.1h1.4M1034.3 238.5h1.4M1059.9 261.6h1.4M1017.1 273.8h1.4M1042 274.4h1.4M1048.9 257.3h1.4M1045.3 243.9h1.4M1025 273.9h1.4M1047.2 274.1h1.4M1026.1 271.4h1.4M1032 238h1.4M1038.6 256.8h1.4M1054.7 273.7h1.4M1052.2 273.9h1.4M1061 241.2h1.4M1027.9 273.2h1.4M1056.4 273.6h1.4M1016.1 273.6h1.4M1020.3 268.2h1.4M1052.1 273.8h1.4M1046.2 240.2h1.4M1032 273.7h1.4M1027.8 246.2h1.4M1032 262.7h1.4M1043 267h1.4M1060.5 272.9h1.4M1054.9 272.2h1.4M1030.3 271.4h1.4M1042.7 274.1h1.4M1028.5 268h1.4M1040.4 273h1.4M1058 272.1h1.4M1041.9 273.2h1.4M1021.2 254.9h1.4M1025.6 261.1h1.4M1026.1 272.6h1.4M1050.3 268.3h1.4M1055 256.3h1.4M1052.8 267.4h1.4M1030.3 259.8h1.4M1034.5 272.5h1.4M1015.9 273.1h1.4M1036 271h1.4M1050.8 262.3h1.4M1017.9 273.9h1.4M1016.4 271.7h1.4M1053.2 256.5h1.4M1047.9 266.9h1.4M1023.1 242.5h1.4M1056.6 271h1.4M1042.5 274.2h1.4M1035.8 274.3h1.4M1020.5 274.1h1.4M1042.4 260.6h1.4M1035.6 237.7h1.4M1019.3 242.7h1.4M1057.3 270.4h1.4M1060 273.8h1.4M1018.3 273.8h1.4M1046.3 269.3h1.4M1055.8 264.6h1.4M1060.7 268.4h1.4M1026.1 268h1.4M1029.1 268.5h1.4M1053.8 244.3h1.4M1058.4 243.7h1.4M1049.1 274.3h1.4M1025.2 272.6h1.4M1056.3 271.1h1.4M1044.3 239.6h1.4M1028.3 252h1.4M1040.9 271.9h1.4M1033.5 243.6h1.4M1032.5 264.2h1.4M1015.8 271.2h1.4M1041.8 273.6h1.4M1051.2 273.8h1.4M1029.6 234.4h1.4M1054.7 269h1.4M1061.7 243.5h1.4M1017.1 274.4h1.4M1016.7 244.4h1.4M1016.6 274.4h1.4M1042.8 253.1h1.4M1054.7 235.2h1.4M1039 267h1.4M1030.2 247.9h1.4M1019.1 274.1h1.4M1023.3 254.1h1.4M1053.5 269h1.4M1027.1 266.4h1.4M1017.9 272.7h1.4M1021.8 238.8h1.4M1035.5 238h1.4M1023.1 269.7h1.4M1039.8 235.5h1.4M1022.4 235.3h1.4M1057 240.3h1.4M1028.7 262.2h1.4M1055.6 254.1h1.4M1046.4 268.5h1.4M1028 256.8h1.4M1037.4 274h1.4M1058 274.2h1.4M1036.9 255.2h1.4M1063.1 258h1.4M1021.8 244.3h1.4M1034 253.9h1.4M1059.5 259.5h1.4M1026.1 274h1.4M1017.3 266h1.4M1025.8 246.7h1.4M1055.9 274.3h1.4M1042.9 274.4h1.4M1023.8 264.2h1.4M1033 272.5h1.4M1030.7 271.5h1.4M1032.5 265.9h1.4M1063.2 245.6h1.4M1057.4 274.3h1.4M1055.2 246.5h1.4M1061.1 242.6h1.4M1026.3 274.4h1.4M1058.3 274.2h1.4M1046.9 272.8h1.4M1053.9 268.2h1.4M1024.2 272.8h1.4M1022.9 268.9h1.4M1023.6 274.4h1.4M1060.5 266h1.4M1050.7 271h1.4M1022.9 245.3h1.4M1036 255h1.4M1024.3 269.7h1.4M1021.7 270.8h1.4M1057.1 234.8h1.4M1029.8 256.7h1.4M1024.9 269.9h1.4M1023.9 257.8h1.4M1029.6 263.3h1.4M1026.5 253.7h1.4M1026.5 271.4h1.4M1031.1 256.9h1.4M1030.4 244h1.4M1020.4 238.3h1.4M1051.4 244.4h1.4M1039.1 242.4h1.4M1058.9 243h1.4M1056.7 269.9h1.4M1047.1 252.9h1.4M1040.7 274.1h1.4M1048.2 235.2h1.4M1038.5 273.3h1.4M1034.3 271.1h1.4M1044 268.5h1.4M1034.6 252.3h1.4M1048.3 274.2h1.4M1023.9 240.5h1.4M1045.2 274h1.4M1059 248.9h1.4M1043 266.4h1.4M1031.9 260.6h1.4M1038.4 237.5h1.4M1056 269.5h1.4M1025.6 270.6h1.4M1049.8 261.5h1.4M1025.4 267.8h1.4M1041.4 269h1.4M1020.1 272.3h1.4M1035.9 242.1h1.4M1048.2 267.3h1.4M1059.6 251.3h1.4M1035.2 274.1h1.4"/>
<rect x="1073.3" y="236.5" width="42.6" height="39.5" fill="url(#gr)"/>
<path stroke="#e57474" stroke-width="1.4" d="M1078.7 255.5h1.4M1088.7 264.6h1.4M1087.8 248.2h1.4M1100.6 238.9h1.4M1105.2 257.7h1.4M1113.1 248.2h1.4M1110.5 239.1h1.4M1113.3 269.1h1.4M1105.4 269.6h1.4M1077.6 274.1h1.4M1073.9 235.5h1.4M1111 273.2h1.4M1112.4 267.1h1.4M1113.6 274.4h1.4M1081.9 274.3h1.4M1104.3 263.2h1.4M1111.6 269.1h1.4M1099 262.1h1.4M1081.5 274.4h1.4M1111.3 267.5h1.4M1089.3 269.5h1.4M1078.9 253.8h1.4M1092.2 241.5h1.4M1112.5 274.4h1.4M1084.6 245.2h1.4M1082 268.2h1.4M1095.6 258.6h1.4M1080 263.4h1.4M1074 266.2h1.4M1113.2 252.7h1.4M1096 272.9h1.4M1113.2 256.3h1.4M1093.2 262h1.4M1087.4 260.2h1.4M1081.8 274.3h1.4M1105.4 251h1.4M1094.7 263.3h1.4M1090.3 267.5h1.4M1109 274.2h1.4M1074.8 274.4h1.4M1093.1 253.8h1.4M1110.3 267.9h1.4M1095.1 272.9h1.4M1076.3 272.2h1.4M1094.3 273h1.4M1102 256h1.4M1096.3 250.8h1.4M1078.9 249.8h1.4M1086.7 238.1h1.4M1101 261.3h1.4M1098.4 239.8h1.4M1075.5 267.7h1.4M1105.1 267.8h1.4M1109.2 262.4h1.4M1094.9 240.5h1.4M1083.4 261.7h1.4M1087.5 244.3h1.4M1112.8 246.1h1.4M1107.3 265.8h1.4M1104.8 273h1.4M1093.7 235.8h1.4M1079 272.5h1.4M1077.2 251.3h1.4M1092.5 247.7h1.4M1113.4 274.4h1.4M1106 271.5h1.4M1101.6 261.4h1.4M1107.8 258.6h1.4M1081.1 272.7h1.4M1087.1 271.6h1.4M1085.3 270.5h1.4M1081.8 266.8h1.4M1083.7 274.4h1.4M1090.1 269h1.4M1075.4 263.7h1.4M1110.9 267.5h1.4M1098.9 256.4h1.4M1094.5 267.7h1.4M1096.6 266.2h1.4M1108.9 274.4h1.4M1092.3 268.7h1.4M1105.7 263.5h1.4M1077.1 237.6h1.4M1107.3 264.4h1.4M1088 265.9h1.4M1112.9 243.2h1.4M1089.7 244.6h1.4M1086.7 268.1h1.4M1095.7 271.6h1.4M1101.8 264.2h1.4M1108 253.7h1.4M1085.3 273.7h1.4M1097.8 273.7h1.4M1083.9 270h1.4M1092.3 272.3h1.4M1114 264.2h1.4M1093.1 262h1.4M1094.3 236.3h1.4M1081 272.2h1.4M1106.8 268.4h1.4M1079 264.2h1.4M1075.8 274.4h1.4M1102.3 268.1h1.4M1104.8 273.6h1.4M1079.3 258.4h1.4M1084.5 247.3h1.4M1082.7 239.5h1.4M1080.1 247h1.4M1094.5 253h1.4M1112.8 248.9h1.4M1097.9 248.1h1.4M1102.3 272.6h1.4M1101.9 246.5h1.4M1101 270.5h1.4M1082.2 250h1.4M1083 271.2h1.4M1086.2 274.4h1.4M1094.7 269.2h1.4M1110.1 268.5h1.4M1107.1 254.1h1.4M1114.3 273.6h1.4M1108.6 272.4h1.4M1086.3 274.2h1.4M1112.6 241.3h1.4M1082.3 238.1h1.4M1077.9 274.3h1.4M1109.7 245.9h1.4M1097.8 259.6h1.4M1111.6 239.2h1.4M1103.5 272.5h1.4M1075.8 274.1h1.4M1096.3 272.6h1.4M1113.6 271.9h1.4M1101 264.8h1.4M1109.4 234.7h1.4M1094.6 274.4h1.4M1088.1 272.7h1.4M1094.7 244h1.4M1093.8 265.6h1.4M1088.6 274.2h1.4M1094.1 250.4h1.4M1101.4 274.3h1.4M1099.1 272.4h1.4M1077 247.8h1.4M1084.4 274.3h1.4M1111.5 268.1h1.4M1091.3 261.1h1.4M1087.2 272.3h1.4M1105.4 256.4h1.4M1112.4 265h1.4M1074 265.1h1.4M1113.2 263h1.4M1097.8 263.6h1.4M1082.8 238.7h1.4M1104 254.4h1.4M1079.1 273.1h1.4M1081.3 274h1.4M1094.9 273.5h1.4M1101.1 265.8h1.4M1102.3 271.6h1.4M1090.4 255h1.4M1097.3 239.9h1.4M1077 264h1.4M1084.3 267.6h1.4M1108.5 245.1h1.4M1094.8 274.3h1.4M1100.8 254.3h1.4M1104.3 247.5h1.4M1097.8 271.8h1.4M1085.3 272.6h1.4M1085.6 272.2h1.4M1078.6 263.9h1.4M1098.9 255.2h1.4M1085.3 258h1.4M1077.1 260.5h1.4M1094.3 268.7h1.4M1087.4 272.9h1.4M1108.1 244.8h1.4M1094.6 265.6h1.4M1095.3 236.3h1.4M1099 274.4h1.4M1107.9 268.8h1.4M1076.1 252.4h1.4M1091.3 273.5h1.4M1076.5 274.4h1.4M1087.7 256.8h1.4M1107.2 273.7h1.4M1082.7 272.2h1.4M1103.6 257.9h1.4M1092 260.7h1.4M1082.7 273.9h1.4M1101.2 268.1h1.4M1075 254.5h1.4M1085.1 259.3h1.4M1088.2 253.4h1.4M1091.9 241.1h1.4M1099.3 273.7h1.4M1074.5 261.9h1.4M1077.2 267.5h1.4M1081.2 239.3h1.4M1084.8 267.9h1.4M1110.2 273.1h1.4M1092.7 274.4h1.4M1084.2 242.4h1.4M1087.2 271h1.4M1108.2 271.8h1.4M1093.4 268.7h1.4M1087.3 272.7h1.4M1084.8 267.6h1.4M1091 254.5h1.4M1085.4 271.8h1.4M1085.8 272h1.4M1109.6 274.4h1.4M1108.2 271.9h1.4M1112.6 274.4h1.4M1101.9 264.9h1.4M1095.1 237.9h1.4M1112.5 240.8h1.4M1082.5 271.7h1.4M1110.3 267.7h1.4M1101.8 265.5h1.4M1097.6 257.4h1.4M1107.2 266.8h1.4M1075.4 273h1.4M1107.3 237.2h1.4M1097.3 267h1.4M1086.6 261.7h1.4M1093.9 268.5h1.4M1077.4 271.7h1.4M1101.1 270h1.4M1103.4 271.4h1.4M1108.1 260.3h1.4M1080.1 240h1.4M1089.2 239.4h1.4M1089.4 235h1.4M1109.9 264.5h1.4M1107.2 254.5h1.4M1101.4 269.9h1.4M1111.9 251h1.4M1101.7 253.4h1.4M1084.4 274.2h1.4M1112.8 271.1h1.4M1082.7 243.3h1.4M1100.3 274.2h1.4M1089.9 274.3h1.4M1111.9 274.2h1.4M1085.2 258h1.4M1097.7 273.3h1.4M1089.7 269.4h1.4M1098.8 274.4h1.4M1093.2 260.2h1.4M1102.3 260.5h1.4M1099.3 270.9h1.4M1087.4 251.4h1.4M1086.4 258.8h1.4M1098 239.7h1.4M1078.2 261.4h1.4M1081.5 259.5h1.4M1080.8 262.8h1.4M1087.5 273.4h1.4M1102.2 269.9h1.4M1097.6 258.8h1.4M1078.7 245.6h1.4M1096.4 268.5h1.4M1074.7 274.3h1.4M1089.9 261.7h1.4M1101.3 269.6h1.4M1091.4 255.5h1.4M1104.2 244.5h1.4M1107.7 271.3h1.4M1099 265.4h1.4M1092.7 238.7h1.4M1111.8 263.8h1.4M1106.2 274.4h1.4M1082.6 247.1h1.4M1111.8 249.7h1.4M1112.5 242.8h1.4M1074.8 274.3h1.4M1107.4 236.3h1.4M1088 269.4h1.4M1099.9 268.9h1.4M1101.4 273.1h1.4M1105.8 244.4h1.4M1078.6 245.7h1.4M1111.7 253.6h1.4M1108.4 270.8h1.4M1112.1 262.7h1.4M1083 235.8h1.4M1085.8 273.4h1.4M1112.8 272.6h1.4M1089.7 272.9h1.4M1098.6 273.7h1.4M1092.8 268.5h1.4M1076.9 273.1h1.4M1099.4 244.2h1.4M1107.3 274.4h1.4M1081.2 269h1.4M1109 269.7h1.4M1091.7 270.6h1.4M1081.5 270.5h1.4M1079.7 271.6h1.4M1093.6 238h1.4M1096.4 235.9h1.4M1099.3 245.7h1.4M1105.3 256.6h1.4M1113.1 247.4h1.4M1090.9 274.4h1.4M1109.2 271.8h1.4M1111.7 242.6h1.4M1110.8 255h1.4M1090.4 265.5h1.4M1110.8 236.2h1.4M1106.3 248h1.4M1093 238.8h1.4M1107 273.8h1.4M1113.8 274.4h1.4M1091.7 274.4h1.4M1095.1 273.9h1.4M1106.5 239.3h1.4M1083.5 250.8h1.4M1078.7 249.7h1.4M1076.8 251.4h1.4M1102 237h1.4M1095.6 271.9h1.4M1081 271.6h1.4M1094 269.7h1.4M1091.8 235.2h1.4M1113.9 274.2h1.4M1084.8 269.9h1.4M1092.6 272.3h1.4M1088.9 271.2h1.4M1108.6 249.8h1.4M1095.8 261.1h1.4M1091.4 273.2h1.4M1105.8 273.5h1.4M1077.1 261h1.4M1096 273.3h1.4M1081.6 257.8h1.4M1108.1 268.7h1.4M1086.1 266.2h1.4M1081.4 267.6h1.4M1099.8 269.9h1.4M1082.4 274.4h1.4M1109.4 272.4h1.4M1114.2 260.5h1.4M1095 264.3h1.4M1085.3 245.9h1.4M1100.4 262.5h1.4M1079.5 273.9h1.4M1100.8 273.9h1.4M1086.8 271.7h1.4M1111 274.3h1.4M1096.2 238.6h1.4M1094.8 246.8h1.4M1098.4 263.8h1.4M1089.1 271.8h1.4M1112.1 263.7h1.4M1091 265.5h1.4M1105.4 255.6h1.4M1089.6 250h1.4M1105.5 263.3h1.4M1114 270.4h1.4M1077.5 260.5h1.4M1100.5 237.1h1.4M1102.9 260.2h1.4M1081.7 266h1.4M1081 270.4h1.4M1083.5 253.6h1.4M1111.8 237.1h1.4M1085.4 252.1h1.4M1101 256.5h1.4M1082.6 254.6h1.4M1082.3 260h1.4M1093.1 254.6h1.4M1088.1 246.3h1.4M1084.4 259.2h1.4M1085.3 267.8h1.4M1108.5 270.4h1.4M1107.9 273.3h1.4M1081.4 274.2h1.4M1082.7 265.3h1.4M1073.8 271.3h1.4M1087.9 252.8h1.4M1091.9 255.4h1.4M1103.7 265.7h1.4M1097.5 262.7h1.4M1075.9 267.1h1.4M1112.5 263h1.4M1094.1 274.2h1.4M1080.1 259.5h1.4M1085.5 263.5h1.4M1080.9 242.4h1.4M1107.3 273.8h1.4M1082.7 271h1.4M1112.4 273.1h1.4M1099.5 243h1.4M1110.6 273.2h1.4M1110.1 256.3h1.4M1083.9 256.7h1.4M1111.6 274h1.4M1081.1 237.1h1.4M1111.4 273.4h1.4M1105.9 259.8h1.4M1106.8 235.2h1.4M1090.3 266.3h1.4M1113.3 274.2h1.4M1097 252.6h1.4M1084.9 272.5h1.4M1103.7 249.7h1.4M1078.4 251.7h1.4M1106.8 251h1.4M1099.5 274.4h1.4M1101.3 266.3h1.4M1083.1 274.4h1.4M1081 269.6h1.4M1108.4 269.5h1.4M1098.7 250.9h1.4M1095.1 274.4h1.4M1085.1 264.5h1.4M1104.8 273.4h1.4M1105.3 246.1h1.4M1097.9 267.8h1.4M1104 269.6h1.4M1075.7 267.5h1.4M1085.1 270.2h1.4M1074.1 243.8h1.4M1096.4 274.4h1.4M1096.8 247.1h1.4M1082.3 274.2h1.4M1075.8 271.7h1.4M1108 273.3h1.4M1095.9 274.4h1.4M1110.3 261.2h1.4M1093.1 272.7h1.4M1096.7 273.2h1.4M1085.9 273.4h1.4M1099.5 263.2h1.4M1105.9 271.6h1.4M1106 262.7h1.4M1075.4 247.6h1.4M1096.1 234.4h1.4M1086 268.9h1.4M1113.1 262h1.4M1096.1 236.9h1.4M1075.2 274.3h1.4M1088.9 273.6h1.4M1089.3 242.1h1.4M1110.3 273.7h1.4M1109.1 236.7h1.4M1078.4 261.3h1.4M1114.1 258.8h1.4M1110.6 271.6h1.4M1112.8 274.3h1.4M1078.7 274h1.4M1080.6 261.7h1.4M1101.2 258h1.4M1103.9 267.4h1.4M1113.4 270.7h1.4M1086.7 262.5h1.4M1080.8 253h1.4M1105.8 274.4h1.4M1085.7 259.9h1.4M1075.1 272.2h1.4M1080.2 263.6h1.4M1112.9 249.3h1.4M1074 273.5h1.4M1101.7 271.2h1.4M1109.4 258.1h1.4"/>
<rect x="1124.6" y="236.5" width="40.9" height="39.5" fill="url(#gb)"/>
<path stroke="#7f7fca" stroke-width="1.4" d="M1136.1 274h1.4M1153.9 274.1h1.4M1161.3 272.8h1.4M1127.6 240.8h1.4M1131.7 273.9h1.4M1157.7 236.9h1.4M1142.5 270.3h1.4M1133.6 270.5h1.4M1126.2 272.6h1.4M1159.8 263.6h1.4M1130.4 273.6h1.4M1162.6 272.2h1.4M1134.6 249.7h1.4M1125.9 259.2h1.4M1140.1 271.4h1.4M1135.6 252.6h1.4M1159 267.8h1.4M1126.9 256h1.4M1129.5 263.1h1.4M1163.2 272.1h1.4M1151.5 241.1h1.4M1161.9 251.2h1.4M1131.8 265.3h1.4M1131 268.2h1.4M1130.9 265.1h1.4M1156 270.6h1.4M1147.9 241.7h1.4M1159.7 262.4h1.4M1151.5 271.1h1.4M1141.1 251.2h1.4M1159.4 270.4h1.4M1138.7 265h1.4M1125.9 274.4h1.4M1135.4 272.6h1.4M1151.7 267.9h1.4M1143.7 273.5h1.4M1150.9 267.2h1.4M1146.2 270.2h1.4M1129.9 270.9h1.4M1132.7 255.9h1.4M1145.6 266h1.4M1143.9 252.2h1.4M1154.5 241.7h1.4M1156.9 263.2h1.4M1153.1 274.2h1.4M1133.3 245.4h1.4M1135.8 245.5h1.4M1149.5 259.6h1.4M1160.5 254h1.4M1158.9 245.5h1.4M1130.5 269.5h1.4M1143.4 246.4h1.4M1146 274.3h1.4M1135 271h1.4M1126.9 264.7h1.4M1135.6 274.2h1.4M1142.6 238.4h1.4M1143.1 270.7h1.4M1133.3 272h1.4M1140 259h1.4M1127.9 240.4h1.4M1143.5 253.9h1.4M1142.2 244.6h1.4M1155.9 267.5h1.4M1137.2 274.2h1.4M1144.8 266.5h1.4M1152.6 261h1.4M1135.5 274.4h1.4M1132.9 267.3h1.4M1125.4 268h1.4M1146.6 251.4h1.4M1133.1 240.1h1.4M1138.8 266h1.4M1153 262.6h1.4M1127.4 252.3h1.4M1150.2 269.8h1.4M1134.6 235.8h1.4M1139.9 274h1.4M1148.5 255h1.4M1132.4 272.6h1.4M1130.7 272.5h1.4M1163 274.4h1.4M1138.7 271.8h1.4M1162.1 272.1h1.4M1127.8 267.4h1.4M1154.3 266.2h1.4M1149.3 267.6h1.4M1159.6 265.3h1.4M1126 273.3h1.4M1148.4 274.4h1.4M1127.3 264.5h1.4M1160.2 255.4h1.4M1146 239.3h1.4M1153.5 260.8h1.4M1147 268.1h1.4M1140 271.1h1.4M1150.4 262.5h1.4M1151.7 255.2h1.4M1139.7 273.7h1.4M1138.6 263.7h1.4M1145.6 273h1.4M1140.6 265.7h1.4M1163 273.7h1.4M1138 245.1h1.4M1132.7 264.8h1.4M1146.5 247.3h1.4M1160.8 262.4h1.4M1144 241.5h1.4M1131.1 269.3h1.4M1148.8 270.2h1.4M1147.4 273.9h1.4M1163.3 273.9h1.4M1154.3 274.3h1.4M1157.7 273.9h1.4M1146.8 269.2h1.4M1146.3 271h1.4M1161.5 257.3h1.4M1127.2 274.4h1.4M1149.5 266.5h1.4M1161.8 262.7h1.4M1142.2 274.2h1.4M1152.6 271.6h1.4M1162.6 246.2h1.4M1157.5 273.6h1.4M1146.9 273.5h1.4M1152.8 270.3h1.4M1155.6 274.4h1.4M1131.2 242.4h1.4M1148 269.2h1.4M1125.8 272.8h1.4M1137.3 265.8h1.4M1150.2 273.9h1.4M1154.9 274.4h1.4M1159.9 268.4h1.4M1152.8 257.3h1.4M1138.7 254.3h1.4M1159.5 244.1h1.4M1155.5 270.9h1.4M1154.1 266.9h1.4M1153.4 274.3h1.4M1148.4 271.8h1.4M1145.9 253.4h1.4M1133.6 271.8h1.4M1154.2 269.4h1.4M1149.5 270.9h1.4M1152.3 259.6h1.4M1144.8 270.5h1.4M1139.1 252.5h1.4M1155.9 271.3h1.4M1138.3 270.7h1.4M1152.8 237h1.4M1130.1 251h1.4M1133.1 251.2h1.4M1150.8 267h1.4M1159.3 272.4h1.4M1145.5 273.6h1.4M1140.8 267.6h1.4M1150.5 257h1.4M1129.7 274.3h1.4M1138.5 272.8h1.4M1135.5 259.6h1.4M1153.5 257.9h1.4M1154.6 266h1.4M1145.6 274.2h1.4M1156.2 269.6h1.4M1131.4 274.3h1.4M1130 271.2h1.4M1161.6 237h1.4M1162 271.3h1.4M1133.1 273.8h1.4M1133.5 262.2h1.4M1144.4 272.2h1.4M1157.1 265.4h1.4M1158.9 244.5h1.4M1146.3 269.1h1.4M1162.1 268.2h1.4M1139.2 272.3h1.4M1144.3 261.8h1.4M1151 269.5h1.4M1128.2 250.1h1.4M1145.1 274.4h1.4M1152.5 252.5h1.4M1144.1 272h1.4M1140.1 239.9h1.4M1145.3 265.6h1.4M1162.4 271h1.4M1132.6 255h1.4M1146.2 272.5h1.4M1162.6 254.9h1.4M1127.8 260h1.4M1128.5 273.6h1.4M1143.7 245h1.4M1128.3 274.2h1.4M1153.8 274h1.4M1142.2 248.5h1.4M1133.2 265.2h1.4M1128.1 271.7h1.4M1133 271.7h1.4M1139.6 273.4h1.4M1155.9 260.5h1.4M1128.6 257.6h1.4M1131.9 273.9h1.4M1157.9 258.2h1.4M1129.6 236.8h1.4M1133.4 274.3h1.4M1145.9 273.4h1.4M1142.7 271.1h1.4M1159 271.8h1.4M1144.2 248h1.4M1152.8 254.3h1.4M1141.6 269.8h1.4M1150.7 256.1h1.4M1135.1 258.8h1.4M1126.6 274.2h1.4M1139.1 274.4h1.4M1129.3 266.3h1.4M1149 272.8h1.4M1126.3 271h1.4M1129.3 246.8h1.4M1151.7 274h1.4M1142.4 272.5h1.4M1135.6 254.7h1.4M1157 248.7h1.4M1154.9 266.1h1.4M1155.2 253.8h1.4M1161.6 272.3h1.4M1158.1 258h1.4M1145.8 260.7h1.4M1125.4 274.2h1.4M1156.6 272h1.4M1154.6 274.3h1.4M1161.4 274.2h1.4M1145.4 254.8h1.4M1160.3 239.9h1.4M1159.5 264.8h1.4M1154.5 273.2h1.4M1149.8 252.6h1.4M1137.2 265.4h1.4M1161.2 241.8h1.4M1144.6 238.9h1.4M1155.5 249.3h1.4M1157.5 238.8h1.4M1156.6 272.7h1.4M1161.8 271.5h1.4M1130.5 267.4h1.4M1134.1 265.5h1.4M1137.3 273.7h1.4M1135.9 256.9h1.4M1149.2 243.2h1.4M1139.7 267h1.4M1132 254.8h1.4M1155.7 249.6h1.4M1145.2 262.7h1.4M1131.3 273.5h1.4M1152.7 274.3h1.4M1157.7 273.3h1.4M1139.6 269.5h1.4M1148.1 274.4h1.4M1140.9 241h1.4M1139.4 272.5h1.4M1135.7 271.1h1.4M1143.6 274.1h1.4M1163.7 274.4h1.4M1145.2 268.3h1.4M1152.3 255.7h1.4M1142.5 270.2h1.4M1163.6 234.4h1.4M1149.2 253.9h1.4M1163.9 254.9h1.4M1125.5 247.9h1.4M1133.2 238.6h1.4M1128.9 265.2h1.4M1138.2 245.6h1.4M1151.4 248.1h1.4M1128.5 270.5h1.4M1163.5 246.1h1.4M1136 262.6h1.4M1126.3 268.6h1.4M1127.4 258.3h1.4M1147.7 263.4h1.4M1159.9 267.2h1.4M1136 254.2h1.4M1134.5 237.5h1.4M1126.5 272.7h1.4M1148.1 267.2h1.4M1142.4 255.4h1.4M1128.8 260.4h1.4M1128.5 264.6h1.4M1129 247.4h1.4M1141.5 271h1.4M1150.2 246.8h1.4M1148.9 268.4h1.4M1155.9 244.3h1.4M1154.3 270.7h1.4M1149.6 255.9h1.4M1125.4 246.4h1.4M1152.6 234.3h1.4M1135.5 257.8h1.4M1160.1 238.8h1.4M1125.5 269.8h1.4M1127.9 257.7h1.4M1144.6 256.2h1.4M1132.8 256.8h1.4M1142.4 274.3h1.4M1141.6 261.5h1.4M1151.3 245.9h1.4M1126.7 274.1h1.4M1145.9 272.4h1.4M1155.1 242.4h1.4M1136.3 238.6h1.4M1126.1 259.5h1.4M1152.5 242.3h1.4M1146.2 272.8h1.4M1144.6 257.3h1.4M1152.7 272.4h1.4M1137.4 273.7h1.4M1137.9 265.6h1.4M1163.9 237.9h1.4M1149.6 247h1.4M1150.8 265.2h1.4M1137.5 258.8h1.4M1162.7 253h1.4M1131.6 246.1h1.4M1158.6 271.9h1.4M1147.9 273.8h1.4M1140.3 271.1h1.4M1127.5 258.6h1.4M1150 265.6h1.4M1153.5 265h1.4M1142.2 247.9h1.4M1140.6 252.4h1.4M1150.5 273.1h1.4M1137.9 267.4h1.4M1147.8 268.1h1.4M1144.8 267.8h1.4M1144.7 244.9h1.4M1129.9 257.8h1.4M1142.2 234.7h1.4M1136.1 268.7h1.4M1161.3 267.8h1.4M1137.9 268.2h1.4M1159.4 239.8h1.4M1136.8 274h1.4M1131.8 268.1h1.4M1139.1 242.6h1.4M1140.7 238.6h1.4M1133 257.5h1.4M1147 272.5h1.4M1142.1 255.7h1.4M1155.9 264.9h1.4M1139.3 274.2h1.4M1150.7 252.3h1.4M1127.3 242.1h1.4M1135.8 251.9h1.4M1144.2 267.5h1.4M1140 242.2h1.4M1130.5 257.1h1.4M1160.3 274.4h1.4M1139.7 274.4h1.4M1149 256.5h1.4M1155.2 264h1.4M1139.2 261.3h1.4M1143.6 262.3h1.4M1126.6 260.5h1.4M1153.3 268.4h1.4M1131 272.6h1.4M1125.8 268.8h1.4M1131.9 259.3h1.4M1157.2 263.2h1.4M1143.6 265.5h1.4M1135.1 257.4h1.4M1159 250.9h1.4M1151.5 272h1.4M1151.3 245.6h1.4M1134.6 272.9h1.4M1155.7 258.2h1.4M1129.7 271.2h1.4M1139.1 274.4h1.4M1162.4 269h1.4M1150.8 272.7h1.4M1138.1 247.3h1.4M1151.4 257.2h1.4M1146.9 245.9h1.4M1125.7 245.3h1.4M1157.7 248.2h1.4M1127.9 256.9h1.4M1161.5 273.4h1.4M1150.4 274.1h1.4M1127.8 273.9h1.4M1162.9 238.3h1.4M1125.6 273.1h1.4M1142.2 272.6h1.4M1133.9 274.2h1.4M1140.4 261h1.4M1146.7 273.7h1.4M1147.5 256h1.4M1140.9 246.8h1.4M1161.5 273.1h1.4M1145.3 274.1h1.4M1154.1 270h1.4M1148.9 273.7h1.4M1133.9 270.6h1.4M1157.6 252.1h1.4M1127.4 253.4h1.4M1131.5 247.8h1.4M1130.9 273.4h1.4M1149.5 273.7h1.4M1135.6 270.7h1.4M1145.5 259.9h1.4M1135 273.1h1.4M1156.2 238.8h1.4M1152.8 238.6h1.4M1139 270.2h1.4M1131 273h1.4M1154.4 254.5h1.4M1127.6 243.6h1.4M1162.9 246.8h1.4M1150 274.4h1.4M1129.9 274.2h1.4M1129.3 266.9h1.4M1126.6 273.2h1.4M1129.1 258.1h1.4M1139.7 247.3h1.4M1135.4 251.1h1.4M1133.2 273.9h1.4M1149.5 271.9h1.4M1153.9 260.8h1.4M1128.4 241.2h1.4M1162.5 270.6h1.4M1151.2 272.7h1.4M1138 240.8h1.4M1141.6 271.8h1.4M1155.5 237.2h1.4M1135.1 270.8h1.4M1130.5 243.7h1.4M1138.1 237.4h1.4M1156.5 253h1.4M1140 256.9h1.4M1126.6 272.8h1.4M1162.7 265.7h1.4M1127.5 262.6h1.4M1136.2 258.2h1.4M1157.7 244.8h1.4M1128.7 237.6h1.4M1155.5 274.4h1.4M1149.1 272.9h1.4M1146.4 274.1h1.4M1156.9 244.7h1.4M1140.2 272.8h1.4"/>
<rect x="1174.6" y="236.5" width="40.2" height="39.5" fill="url(#gr)"/>
<path stroke="#e57474" stroke-width="1.4" d="M1206 261.1h1.4M1207.5 266h1.4M1177.4 271.1h1.4M1189.4 268.9h1.4M1177.7 267.6h1.4M1206.7 274.1h1.4M1207.9 268.1h1.4M1191.2 262.9h1.4M1209.6 274.1h1.4M1212.4 272.3h1.4M1178.8 273.1h1.4M1180.3 259.3h1.4M1209.2 274.4h1.4M1208.2 264.1h1.4M1187.6 274.3h1.4M1199.5 268.6h1.4M1188.1 273.6h1.4M1198.3 274.4h1.4M1204.9 274.4h1.4M1207 240.1h1.4M1175.5 254.6h1.4M1187.5 267.6h1.4M1195.3 274.4h1.4M1211.1 272.9h1.4M1213.2 274.2h1.4M1193.5 274.4h1.4M1211.1 252.8h1.4M1180.4 255.2h1.4M1192.9 246.4h1.4M1204.3 245h1.4M1185.6 272h1.4M1186.7 268.3h1.4M1180.9 270.8h1.4M1183.4 270.8h1.4M1204.9 234.5h1.4M1193.3 274.2h1.4M1207.7 263h1.4M1186.4 268.3h1.4M1190.7 274.4h1.4M1193 273.8h1.4M1192.5 266h1.4M1175.8 274.2h1.4M1207.1 253.2h1.4M1193.3 249.1h1.4M1192.2 260.7h1.4M1210.9 255.5h1.4M1189.4 260.1h1.4M1204.3 242.2h1.4M1177.4 268.8h1.4M1207.6 274.2h1.4M1212.6 257h1.4M1212.8 245.2h1.4M1194.4 269.7h1.4M1211.5 268.7h1.4M1185.5 273.9h1.4M1198.5 245.9h1.4M1210.1 258.6h1.4M1200.8 257h1.4M1207.4 257.9h1.4M1196.6 267h1.4M1192 273.7h1.4M1185.2 245.6h1.4M1209.8 252.7h1.4M1179.6 258.8h1.4M1176.3 274.2h1.4M1210.4 252h1.4M1178.5 247.1h1.4M1210.8 263.7h1.4M1196.4 271h1.4M1197.4 265.7h1.4M1209.5 266.6h1.4M1208.6 256.3h1.4M1198 261.8h1.4M1175.4 259.3h1.4M1212.2 274.3h1.4M1202.9 273.4h1.4M1203.3 257.3h1.4M1179.2 255.3h1.4M1195.7 254h1.4M1200.6 273.8h1.4M1208.3 274h1.4M1200.2 249.1h1.4M1204 239.3h1.4M1186.9 236.5h1.4M1188.9 269.4h1.4M1202.6 271.9h1.4M1182 272.9h1.4M1208.2 250.1h1.4M1210.9 270.4h1.4M1188.9 272.9h1.4M1181.4 268.8h1.4M1176.3 273.5h1.4M1212.3 272.8h1.4M1193.8 243h1.4M1204.8 252.2h1.4M1186.8 274.2h1.4M1186.6 238.7h1.4M1208.2 254.5h1.4M1206.7 274.3h1.4M1187.2 273.1h1.4M1211.7 246.1h1.4M1177.2 274.3h1.4M1210.8 269.5h1.4M1182.9 250.8h1.4M1187.2 265.9h1.4M1196.5 252.9h1.4M1180.8 273.8h1.4M1203.2 270.2h1.4M1199.5 248.4h1.4M1201.2 267.1h1.4M1191 235.8h1.4M1180.4 271.4h1.4M1185 274.1h1.4M1188.8 272.1h1.4M1179.2 235.8h1.4M1188.8 274.3h1.4M1208.9 266.9h1.4M1201.3 257.5h1.4M1187 257.6h1.4M1185.4 234.5h1.4M1211.7 248.1h1.4M1212.3 269.8h1.4M1206.9 273.7h1.4M1207.8 257.7h1.4M1188.4 266.1h1.4M1175.4 248.8h1.4M1199.8 238.8h1.4M1193.1 270.3h1.4M1176.9 274.3h1.4M1210.9 248.6h1.4M1201.9 274.1h1.4M1202.3 274h1.4M1206.6 272.7h1.4M1195.6 250.3h1.4M1179.7 274.2h1.4M1189 274.2h1.4M1201.5 267.4h1.4M1193.7 240h1.4M1198.2 242.1h1.4M1182.6 256.4h1.4M1182.9 260.4h1.4M1195.8 263.8h1.4M1193 273.8h1.4M1206.5 258.7h1.4M1204.3 274.4h1.4M1182.7 240.2h1.4M1198.8 274.1h1.4M1208.7 239.5h1.4M1201 266.4h1.4M1187.9 274.3h1.4M1188.9 234.5h1.4M1198.6 270.9h1.4M1192.1 263.7h1.4M1181.5 235.9h1.4M1188.2 240.4h1.4M1191.6 269.9h1.4M1194.4 263.4h1.4M1177.3 252.1h1.4M1211.4 263.2h1.4M1177.7 274.3h1.4M1206.4 274.4h1.4M1192.7 246.3h1.4M1192.1 272.1h1.4M1195.1 260.7h1.4M1185.5 243h1.4M1177.5 274.1h1.4M1197.1 267.3h1.4M1206 273.1h1.4M1200.4 269.2h1.4M1185.3 262.1h1.4M1207.4 258.5h1.4M1181.1 243.6h1.4M1200.1 248.9h1.4M1186.6 263.6h1.4M1175.2 256.3h1.4M1198.4 267.3h1.4M1191.2 260.6h1.4M1206.3 273.3h1.4M1212.1 270.1h1.4M1196.1 267.5h1.4M1205.3 265.1h1.4M1187.1 274.3h1.4M1197.1 241.4h1.4M1211.5 273.4h1.4M1200.6 240.1h1.4M1210.1 274.2h1.4M1202.9 244.9h1.4M1176.4 272.4h1.4M1190.9 274.4h1.4M1205.6 260.2h1.4M1198.5 258.8h1.4M1190.2 271.4h1.4M1175.7 265.3h1.4M1178.7 272.3h1.4M1206.6 269.5h1.4M1181.1 264.1h1.4M1192.7 247h1.4M1179.4 274h1.4M1194.6 269.9h1.4M1182.5 262.4h1.4M1207.9 242.5h1.4M1178.2 247.6h1.4M1180.3 242.1h1.4M1185 271.2h1.4M1196.2 260.1h1.4M1175.3 274h1.4M1206.5 266h1.4M1190 261.5h1.4M1206.6 273.6h1.4M1179.8 253h1.4M1184.6 245.7h1.4M1205.8 270.5h1.4M1209.9 239h1.4M1186.9 274.3h1.4M1187.2 260.3h1.4M1183.9 267h1.4M1203.6 273.8h1.4M1186.2 270.9h1.4M1178.4 270.2h1.4M1176.3 248h1.4M1185.4 245.8h1.4M1182 252.6h1.4M1188 272.9h1.4M1175.8 258.5h1.4M1184.6 263.8h1.4M1193.2 274.1h1.4M1198.9 274.3h1.4M1188.9 251.1h1.4M1191.8 254.1h1.4M1199.5 272.8h1.4M1196.6 246.2h1.4M1204.1 247.9h1.4M1204.7 254.3h1.4M1180.5 272.7h1.4M1178.9 248.3h1.4M1189.6 264.7h1.4M1202.1 259.1h1.4M1212.4 267.3h1.4M1182 273.8h1.4M1188.5 263h1.4M1207.5 267.2h1.4M1199.6 266.9h1.4M1205.4 267.4h1.4M1177.4 238.2h1.4M1185.8 273.5h1.4M1183.2 274.1h1.4M1194.3 257.5h1.4M1201 274.4h1.4M1188.1 272.2h1.4M1188.6 240.5h1.4M1187.9 247.1h1.4M1203.2 255.3h1.4M1190.2 256.5h1.4M1207.3 243h1.4M1188.7 265.4h1.4M1201.2 268.9h1.4M1175.4 263.4h1.4M1198.5 244.1h1.4M1206.6 268.8h1.4M1210.4 247.9h1.4M1181.7 273.4h1.4M1211.3 273.7h1.4M1193.7 270.5h1.4M1191.8 234.4h1.4M1180.4 260.4h1.4M1209 263.8h1.4M1185.8 252.9h1.4M1210.2 272.3h1.4M1207.3 237h1.4M1183.5 263.7h1.4M1209.5 274.2h1.4M1209.7 247h1.4M1182.9 270.5h1.4M1198.6 253.8h1.4M1211 271.1h1.4M1204.2 267.7h1.4M1190 236.3h1.4M1175.2 268.9h1.4M1191.6 256.2h1.4M1177.9 249.5h1.4M1199.9 274.3h1.4M1197.7 274.2h1.4M1181.3 274.3h1.4M1188.1 263.7h1.4M1201.1 239.7h1.4M1201.9 258.9h1.4M1207.2 274.4h1.4M1182.8 263.3h1.4M1178.9 264.6h1.4M1176.5 268.5h1.4M1201.4 238.7h1.4M1178.3 257.8h1.4M1202.8 271.8h1.4M1194.5 258.3h1.4M1211.1 274.4h1.4M1209.2 273.6h1.4M1190.1 257.7h1.4M1200.8 261.9h1.4M1185.3 271.7h1.4M1184.4 242h1.4M1188.6 241.3h1.4M1181.6 262.6h1.4M1179.7 273.8h1.4M1180 269.3h1.4M1212.7 268.7h1.4M1181.1 274.3h1.4M1194.8 273.2h1.4M1203 247.5h1.4M1197.2 273.6h1.4M1189.9 268.1h1.4M1205.7 270.7h1.4M1183.6 252.9h1.4M1198.2 252.7h1.4M1207.2 270h1.4M1201.1 274.2h1.4M1190 274.4h1.4M1184.3 268.5h1.4M1204.8 272.6h1.4M1211.6 269.3h1.4M1206.8 274h1.4M1186.8 270.7h1.4M1209.8 255.8h1.4M1190.8 269.3h1.4M1198.4 245.7h1.4M1210.5 274.2h1.4M1190.9 273.1h1.4M1190.4 237.7h1.4M1191.9 273.4h1.4M1179.5 274h1.4M1211.1 271h1.4M1211.4 236.1h1.4M1201.9 254.2h1.4M1199 273.5h1.4M1176 272.7h1.4M1179.9 271.2h1.4M1210.7 260.4h1.4M1185.1 271.4h1.4M1187.2 274.3h1.4M1201.2 268.9h1.4M1190.1 273.7h1.4M1182.9 272h1.4M1209.9 268.2h1.4M1200.6 268.1h1.4M1194.2 253.5h1.4M1205.9 274.4h1.4M1207.9 269.4h1.4M1191.5 248.6h1.4M1205.5 253.4h1.4M1183.1 261h1.4M1178 264.3h1.4M1200.8 265.3h1.4M1197.2 273.1h1.4M1197 274h1.4M1179.3 252.3h1.4M1189.6 272.7h1.4M1204.5 253h1.4M1206.9 265.9h1.4M1190.7 273.9h1.4M1197.3 260.2h1.4M1186.2 269.8h1.4M1210.9 273.7h1.4M1184.7 274.2h1.4M1177.1 252.9h1.4M1184.1 269.8h1.4M1210.4 273.5h1.4M1188.2 264.4h1.4M1198.7 260h1.4M1206.1 273.7h1.4M1178.6 274.4h1.4M1186.1 267.7h1.4M1181.6 243.4h1.4M1190.9 261.7h1.4M1199.5 273.5h1.4M1196.7 270.1h1.4M1199.9 252h1.4M1190.5 272.7h1.4M1183.9 249.9h1.4M1203.7 274.3h1.4M1190.3 237.8h1.4M1184 258.6h1.4M1203.1 254.5h1.4M1179.7 252.6h1.4M1178.7 247.6h1.4M1197.3 255.3h1.4M1185.5 253.6h1.4M1188.5 265.1h1.4M1177 234.3h1.4M1182.2 260.7h1.4M1187.1 273.8h1.4M1202.8 274.3h1.4M1189.4 249h1.4M1186.6 257.9h1.4M1177.6 259.8h1.4M1197.9 266.3h1.4M1202.9 248.2h1.4M1199.2 271.3h1.4M1210.3 248.4h1.4M1207.8 252.9h1.4M1203.3 273.6h1.4M1211.5 269.7h1.4M1175.6 274.3h1.4M1180.4 274.4h1.4M1181.3 271.3h1.4M1180.6 269.5h1.4M1180.1 274.3h1.4M1190.5 266.2h1.4M1196.4 273.5h1.4M1207 273.4h1.4M1194 263.7h1.4M1204.4 266.1h1.4M1205.5 258.6h1.4M1194.4 250.8h1.4M1209.5 256.6h1.4M1182.3 274.4h1.4M1210.8 240.5h1.4M1190.6 240.7h1.4M1211.9 272.1h1.4M1202 265.5h1.4M1176 274.2h1.4M1203.6 263.4h1.4M1190.4 274.2h1.4M1179.6 273.9h1.4M1200.9 261h1.4M1184.5 268.4h1.4M1203.7 265.8h1.4M1186.7 263.8h1.4M1202.1 258.5h1.4M1181.6 240.4h1.4M1188 248.6h1.4M1202 268.4h1.4M1183.7 244.5h1.4M1201.1 273.2h1.4M1198.3 274h1.4M1207.7 251.5h1.4M1201.4 251.2h1.4M1210.2 269.1h1.4M1190.7 258.1h1.4M1188.9 262.2h1.4M1203.2 238.6h1.4M1208 241.5h1.4M1207.4 273.5h1.4M1210.5 270.8h1.4"/>
<line x1="118.0" y1="232.8" x2="1214.0" y2="232.8" stroke="#222" stroke-width="1.8" stroke-dasharray="5.7 5.6"/>
<path fill="#2d5274" d="M132.7 208.8a2.35 2.35 0 1 0 4.7 0a2.35 2.35 0 1 0 -4.7 0zM129.6 198.1a2.35 2.35 0 1 0 4.7 0a2.35 2.35 0 1 0 -4.7 0zM131.6 209.5a2.35 2.35 0 1 0 4.7 0a2.35 2.35 0 1 0 -4.7 0zM128.9 228.4a2.35 2.35 0 1 0 4.7 0a2.35 2.35 0 1 0 -4.7 0zM139.1 220.6a2.35 2.35 0 1 0 4.7 0a2.35 2.35 0 1 0 -4.7 0zM131.7 208.8a2.35 2.35 0 1 0 4.7 0a2.35 2.35 0 1 0 -4.7 0zM142.0 226.9a2.35 2.35 0 1 0 4.7 0a2.35 2.35 0 1 0 -4.7 0zM137.1 219.7a2.35 2.35 0 1 0 4.7 0a2.35 2.35 0 1 0 -4.7 0zM137.6 189.3a2.35 2.35 0 1 0 4.7 0a2.35 2.35 0 1 0 -4.7 0zM127.8 207.3a2.35 2.35 0 1 0 4.7 0a2.35 2.35 0 1 0 -4.7 0zM132.7 210.0a2.35 2.35 0 1 0 4.7 0a2.35 2.35 0 1 0 -4.7 0zM140.3 230.0a2.35 2.35 0 1 0 4.7 0a2.35 2.35 0 1 0 -4.7 0zM127.9 223.8a2.35 2.35 0 1 0 4.7 0a2.35 2.35 0 1 0 -4.7 0zM125.0 225.8a2.35 2.35 0 1 0 4.7 0a2.35 2.35 0 1 0 -4.7 0zM131.7 230.3a2.35 2.35 0 1 0 4.7 0a2.35 2.35 0 1 0 -4.7 0zM137.9 206.7a2.35 2.35 0 1 0 4.7 0a2.35 2.35 0 1 0 -4.7 0zM131.2 225.9a2.35 2.35 0 1 0 4.7 0a2.35 2.35 0 1 0 -4.7 0zM127.7 223.3a2.35 2.35 0 1 0 4.7 0a2.35 2.35 0 1 0 -4.7 0zM129.9 229.0a2.35 2.35 0 1 0 4.7 0a2.35 2.35 0 1 0 -4.7 0zM140.2 228.7a2.35 2.35 0 1 0 4.7 0a2.35 2.35 0 1 0 -4.7 0zM124.7 228.8a2.35 2.35 0 1 0 4.7 0a2.35 2.35 0 1 0 -4.7 0zM154.1 199.7a2.35 2.35 0 1 0 4.7 0a2.35 2.35 0 1 0 -4.7 0zM173.9 226.7a2.35 2.35 0 1 0 4.7 0a2.35 2.35 0 1 0 -4.7 0zM176.7 203.9a2.35 2.35 0 1 0 4.7 0a2.35 2.35 0 1 0 -4.7 0zM163.8 230.4a2.35 2.35 0 1 0 4.7 0a2.35 2.35 0 1 0 -4.7 0zM174.1 215.6a2.35 2.35 0 1 0 4.7 0a2.35 2.35 0 1 0 -4.7 0zM159.2 189.6a2.35 2.35 0 1 0 4.7 0a2.35 2.35 0 1 0 -4.7 0zM162.4 229.2a2.35 2.35 0 1 0 4.7 0a2.35 2.35 0 1 0 -4.7 0zM165.5 201.7a2.35 2.35 0 1 0 4.7 0a2.35 2.35 0 1 0 -4.7 0zM157.0 224.7a2.35 2.35 0 1 0 4.7 0a2.35 2.35 0 1 0 -4.7 0zM161.7 194.1a2.35 2.35 0 1 0 4.7 0a2.35 2.35 0 1 0 -4.7 0zM177.6 221.9a2.35 2.35 0 1 0 4.7 0a2.35 2.35 0 1 0 -4.7 0zM157.7 210.7a2.35 2.35 0 1 0 4.7 0a2.35 2.35 0 1 0 -4.7 0zM174.3 226.3a2.35 2.35 0 1 0 4.7 0a2.35 2.35 0 1 0 -4.7 0zM158.6 211.3a2.35 2.35 0 1 0 4.7 0a2.35 2.35 0 1 0 -4.7 0zM156.0 201.3a2.35 2.35 0 1 0 4.7 0a2.35 2.35 0 1 0 -4.7 0zM153.8 230.0a2.35 2.35 0 1 0 4.7 0a2.35 2.35 0 1 0 -4.7 0zM170.5 225.8a2.35 2.35 0 1 0 4.7 0a2.35 2.35 0 1 0 -4.7 0zM155.6 204.0a2.35 2.35 0 1 0 4.7 0a2.35 2.35 0 1 0 -4.7 0zM159.4 222.1a2.35 2.35 0 1 0 4.7 0a2.35 2.35 0 1 0 -4.7 0zM160.0 219.5a2.35 2.35 0 1 0 4.7 0a2.35 2.35 0 1 0 -4.7 0zM164.1 191.5a2.35 2.35 0 1 0 4.7 0a2.35 2.35 0 1 0 -4.7 0zM158.5 230.7a2.35 2.35 0 1 0 4.7 0a2.35 2.35 0 1 0 -4.7 0zM160.9 230.1a2.35 2.35 0 1 0 4.7 0a2.35 2.35 0 1 0 -4.7 0zM169.5 228.3a2.35 2.35 0 1 0 4.7 0a2.35 2.35 0 1 0 -4.7 0zM156.1 228.9a2.35 2.35 0 1 0 4.7 0a2.35 2.35 0 1 0 -4.7 0zM158.3 224.6a2.35 2.35 0 1 0 4.7 0a2.35 2.35 0 1 0 -4.7 0zM166.0 228.8a2.35 2.35 0 1 0 4.7 0a2.35 2.35 0 1 0 -4.7 0zM162.2 210.3a2.35 2.35 0 1 0 4.7 0a2.35 2.35 0 1 0 -4.7 0zM172.8 216.9a2.35 2.35 0 1 0 4.7 0a2.35 2.35 0 1 0 -4.7 0zM176.0 218.6a2.35 2.35 0 1 0 4.7 0a2.35 2.35 0 1 0 -4.7 0zM176.1 209.3a2.35 2.35 0 1 0 4.7 0a2.35 2.35 0 1 0 -4.7 0zM168.9 230.3a2.35 2.35 0 1 0 4.7 0a2.35 2.35 0 1 0 -4.7 0zM155.0 230.3a2.35 2.35 0 1 0 4.7 0a2.35 2.35 0 1 0 -4.7 0zM173.6 196.7a2.35 2.35 0 1 0 4.7 0a2.35 2.35 0 1 0 -4.7 0zM168.4 230.6a2.35 2.35 0 1 0 4.7 0a2.35 2.35 0 1 0 -4.7 0zM165.7 228.6a2.35 2.35 0 1 0 4.7 0a2.35 2.35 0 1 0 -4.7 0zM167.7 208.6a2.35 2.35 0 1 0 4.7 0a2.35 2.35 0 1 0 -4.7 0zM157.5 230.3a2.35 2.35 0 1 0 4.7 0a2.35 2.35 0 1 0 -4.7 0zM156.2 193.8a2.35 2.35 0 1 0 4.7 0a2.35 2.35 0 1 0 -4.7 0zM167.1 189.7a2.35 2.35 0 1 0 4.7 0a2.35 2.35 0 1 0 -4.7 0zM168.8 216.1a2.35 2.35 0 1 0 4.7 0a2.35 2.35 0 1 0 -4.7 0zM167.1 218.6a2.35 2.35 0 1 0 4.7 0a2.35 2.35 0 1 0 -4.7 0zM161.2 230.3a2.35 2.35 0 1 0 4.7 0a2.35 2.35 0 1 0 -4.7 0zM154.3 230.8a2.35 2.35 0 1 0 4.7 0a2.35 2.35 0 1 0 -4.7 0zM168.9 214.6a2.35 2.35 0 1 0 4.7 0a2.35 2.35 0 1 0 -4.7 0zM168.5 229.1a2.35 2.35 0 1 0 4.7 0a2.35 2.35 0 1 0 -4.7 0zM158.6 229.4a2.35 2.35 0 1 0 4.7 0a2.35 2.35 0 1 0 -4.7 0zM158.1 226.8a2.35 2.35 0 1 0 4.7 0a2.35 2.35 0 1 0 -4.7 0zM171.2 214.1a2.35 2.35 0 1 0 4.7 0a2.35 2.35 0 1 0 -4.7 0zM173.7 203.9a2.35 2.35 0 1 0 4.7 0a2.35 2.35 0 1 0 -4.7 0zM158.9 216.6a2.35 2.35 0 1 0 4.7 0a2.35 2.35 0 1 0 -4.7 0zM164.4 223.6a2.35 2.35 0 1 0 4.7 0a2.35 2.35 0 1 0 -4.7 0zM170.5 198.5a2.35 2.35 0 1 0 4.7 0a2.35 2.35 0 1 0 -4.7 0zM157.5 224.3a2.35 2.35 0 1 0 4.7 0a2.35 2.35 0 1 0 -4.7 0zM171.7 225.6a2.35 2.35 0 1 0 4.7 0a2.35 2.35 0 1 0 -4.7 0zM170.1 230.3a2.35 2.35 0 1 0 4.7 0a2.35 2.35 0 1 0 -4.7 0zM169.8 206.0a2.35 2.35 0 1 0 4.7 0a2.35 2.35 0 1 0 -4.7 0zM171.7 223.6a2.35 2.35 0 1 0 4.7 0a2.35 2.35 0 1 0 -4.7 0zM177.1 229.0a2.35 2.35 0 1 0 4.7 0a2.35 2.35 0 1 0 -4.7 0zM164.8 220.6a2.35 2.35 0 1 0 4.7 0a2.35 2.35 0 1 0 -4.7 0zM173.0 223.2a2.35 2.35 0 1 0 4.7 0a2.35 2.35 0 1 0 -4.7 0zM153.9 226.1a2.35 2.35 0 1 0 4.7 0a2.35 2.35 0 1 0 -4.7 0zM177.0 194.2a2.35 2.35 0 1 0 4.7 0a2.35 2.35 0 1 0 -4.7 0zM159.8 208.5a2.35 2.35 0 1 0 4.7 0a2.35 2.35 0 1 0 -4.7 0zM159.1 191.8a2.35 2.35 0 1 0 4.7 0a2.35 2.35 0 1 0 -4.7 0zM173.5 201.1a2.35 2.35 0 1 0 4.7 0a2.35 2.35 0 1 0 -4.7 0zM155.3 198.4a2.35 2.35 0 1 0 4.7 0a2.35 2.35 0 1 0 -4.7 0zM157.8 200.0a2.35 2.35 0 1 0 4.7 0a2.35 2.35 0 1 0 -4.7 0zM161.0 195.9a2.35 2.35 0 1 0 4.7 0a2.35 2.35 0 1 0 -4.7 0zM165.5 225.4a2.35 2.35 0 1 0 4.7 0a2.35 2.35 0 1 0 -4.7 0zM164.8 223.1a2.35 2.35 0 1 0 4.7 0a2.35 2.35 0 1 0 -4.7 0zM165.5 226.5a2.35 2.35 0 1 0 4.7 0a2.35 2.35 0 1 0 -4.7 0zM180.8 230.2a2.35 2.35 0 1 0 4.7 0a2.35 2.35 0 1 0 -4.7 0zM190.6 211.2a2.35 2.35 0 1 0 4.7 0a2.35 2.35 0 1 0 -4.7 0zM185.1 206.7a2.35 2.35 0 1 0 4.7 0a2.35 2.35 0 1 0 -4.7 0zM181.3 221.7a2.35 2.35 0 1 0 4.7 0a2.35 2.35 0 1 0 -4.7 0zM180.4 190.5a2.35 2.35 0 1 0 4.7 0a2.35 2.35 0 1 0 -4.7 0zM207.8 228.3a2.35 2.35 0 1 0 4.7 0a2.35 2.35 0 1 0 -4.7 0zM189.2 194.2a2.35 2.35 0 1 0 4.7 0a2.35 2.35 0 1 0 -4.7 0zM183.8 215.1a2.35 2.35 0 1 0 4.7 0a2.35 2.35 0 1 0 -4.7 0zM182.9 230.4a2.35 2.35 0 1 0 4.7 0a2.35 2.35 0 1 0 -4.7 0zM197.6 207.2a2.35 2.35 0 1 0 4.7 0a2.35 2.35 0 1 0 -4.7 0zM192.7 229.7a2.35 2.35 0 1 0 4.7 0a2.35 2.35 0 1 0 -4.7 0zM186.6 230.9a2.35 2.35 0 1 0 4.7 0a2.35 2.35 0 1 0 -4.7 0zM183.4 224.0a2.35 2.35 0 1 0 4.7 0a2.35 2.35 0 1 0 -4.7 0zM196.8 221.3a2.35 2.35 0 1 0 4.7 0a2.35 2.35 0 1 0 -4.7 0zM203.3 197.4a2.35 2.35 0 1 0 4.7 0a2.35 2.35 0 1 0 -4.7 0zM207.4 216.1a2.35 2.35 0 1 0 4.7 0a2.35 2.35 0 1 0 -4.7 0zM202.6 191.6a2.35 2.35 0 1 0 4.7 0a2.35 2.35 0 1 0 -4.7 0zM187.9 224.7a2.35 2.35 0 1 0 4.7 0a2.35 2.35 0 1 0 -4.7 0zM198.8 223.0a2.35 2.35 0 1 0 4.7 0a2.35 2.35 0 1 0 -4.7 0zM202.5 226.0a2.35 2.35 0 1 0 4.7 0a2.35 2.35 0 1 0 -4.7 0zM195.3 228.2a2.35 2.35 0 1 0 4.7 0a2.35 2.35 0 1 0 -4.7 0zM203.0 224.7a2.35 2.35 0 1 0 4.7 0a2.35 2.35 0 1 0 -4.7 0zM192.3 220.3a2.35 2.35 0 1 0 4.7 0a2.35 2.35 0 1 0 -4.7 0zM188.9 186.1a2.35 2.35 0 1 0 4.7 0a2.35 2.35 0 1 0 -4.7 0zM200.2 229.1a2.35 2.35 0 1 0 4.7 0a2.35 2.35 0 1 0 -4.7 0zM199.0 230.8a2.35 2.35 0 1 0 4.7 0a2.35 2.35 0 1 0 -4.7 0zM191.1 210.3a2.35 2.35 0 1 0 4.7 0a2.35 2.35 0 1 0 -4.7 0zM187.5 217.9a2.35 2.35 0 1 0 4.7 0a2.35 2.35 0 1 0 -4.7 0zM199.2 227.0a2.35 2.35 0 1 0 4.7 0a2.35 2.35 0 1 0 -4.7 0zM195.8 187.8a2.35 2.35 0 1 0 4.7 0a2.35 2.35 0 1 0 -4.7 0zM202.6 218.5a2.35 2.35 0 1 0 4.7 0a2.35 2.35 0 1 0 -4.7 0zM193.6 227.1a2.35 2.35 0 1 0 4.7 0a2.35 2.35 0 1 0 -4.7 0zM187.1 217.8a2.35 2.35 0 1 0 4.7 0a2.35 2.35 0 1 0 -4.7 0zM201.8 186.6a2.35 2.35 0 1 0 4.7 0a2.35 2.35 0 1 0 -4.7 0zM208.5 190.5a2.35 2.35 0 1 0 4.7 0a2.35 2.35 0 1 0 -4.7 0zM194.0 224.4a2.35 2.35 0 1 0 4.7 0a2.35 2.35 0 1 0 -4.7 0zM180.6 210.7a2.35 2.35 0 1 0 4.7 0a2.35 2.35 0 1 0 -4.7 0zM200.5 203.1a2.35 2.35 0 1 0 4.7 0a2.35 2.35 0 1 0 -4.7 0zM206.7 230.4a2.35 2.35 0 1 0 4.7 0a2.35 2.35 0 1 0 -4.7 0zM198.0 229.1a2.35 2.35 0 1 0 4.7 0a2.35 2.35 0 1 0 -4.7 0zM202.7 186.4a2.35 2.35 0 1 0 4.7 0a2.35 2.35 0 1 0 -4.7 0zM202.4 227.8a2.35 2.35 0 1 0 4.7 0a2.35 2.35 0 1 0 -4.7 0zM203.8 201.8a2.35 2.35 0 1 0 4.7 0a2.35 2.35 0 1 0 -4.7 0zM199.8 217.7a2.35 2.35 0 1 0 4.7 0a2.35 2.35 0 1 0 -4.7 0zM207.9 199.8a2.35 2.35 0 1 0 4.7 0a2.35 2.35 0 1 0 -4.7 0zM184.7 206.1a2.35 2.35 0 1 0 4.7 0a2.35 2.35 0 1 0 -4.7 0zM204.4 230.7a2.35 2.35 0 1 0 4.7 0a2.35 2.35 0 1 0 -4.7 0zM183.4 213.8a2.35 2.35 0 1 0 4.7 0a2.35 2.35 0 1 0 -4.7 0zM183.6 223.7a2.35 2.35 0 1 0 4.7 0a2.35 2.35 0 1 0 -4.7 0zM209.0 197.4a2.35 2.35 0 1 0 4.7 0a2.35 2.35 0 1 0 -4.7 0zM182.6 203.2a2.35 2.35 0 1 0 4.7 0a2.35 2.35 0 1 0 -4.7 0zM186.7 226.7a2.35 2.35 0 1 0 4.7 0a2.35 2.35 0 1 0 -4.7 0zM206.6 198.5a2.35 2.35 0 1 0 4.7 0a2.35 2.35 0 1 0 -4.7 0zM207.6 223.7a2.35 2.35 0 1 0 4.7 0a2.35 2.35 0 1 0 -4.7 0zM182.9 230.1a2.35 2.35 0 1 0 4.7 0a2.35 2.35 0 1 0 -4.7 0zM192.0 211.6a2.35 2.35 0 1 0 4.7 0a2.35 2.35 0 1 0 -4.7 0zM189.7 197.9a2.35 2.35 0 1 0 4.7 0a2.35 2.35 0 1 0 -4.7 0zM186.7 213.3a2.35 2.35 0 1 0 4.7 0a2.35 2.35 0 1 0 -4.7 0zM191.1 215.2a2.35 2.35 0 1 0 4.7 0a2.35 2.35 0 1 0 -4.7 0zM184.8 199.9a2.35 2.35 0 1 0 4.7 0a2.35 2.35 0 1 0 -4.7 0zM187.4 193.3a2.35 2.35 0 1 0 4.7 0a2.35 2.35 0 1 0 -4.7 0zM196.1 206.9a2.35 2.35 0 1 0 4.7 0a2.35 2.35 0 1 0 -4.7 0zM201.9 229.1a2.35 2.35 0 1 0 4.7 0a2.35 2.35 0 1 0 -4.7 0zM204.0 208.8a2.35 2.35 0 1 0 4.7 0a2.35 2.35 0 1 0 -4.7 0zM186.6 230.9a2.35 2.35 0 1 0 4.7 0a2.35 2.35 0 1 0 -4.7 0zM198.1 230.3a2.35 2.35 0 1 0 4.7 0a2.35 2.35 0 1 0 -4.7 0zM192.4 222.3a2.35 2.35 0 1 0 4.7 0a2.35 2.35 0 1 0 -4.7 0zM193.9 227.2a2.35 2.35 0 1 0 4.7 0a2.35 2.35 0 1 0 -4.7 0zM190.4 225.0a2.35 2.35 0 1 0 4.7 0a2.35 2.35 0 1 0 -4.7 0zM194.1 208.6a2.35 2.35 0 1 0 4.7 0a2.35 2.35 0 1 0 -4.7 0zM193.1 216.1a2.35 2.35 0 1 0 4.7 0a2.35 2.35 0 1 0 -4.7 0zM180.6 190.4a2.35 2.35 0 1 0 4.7 0a2.35 2.35 0 1 0 -4.7 0zM185.3 210.3a2.35 2.35 0 1 0 4.7 0a2.35 2.35 0 1 0 -4.7 0zM194.5 224.6a2.35 2.35 0 1 0 4.7 0a2.35 2.35 0 1 0 -4.7 0zM194.2 188.0a2.35 2.35 0 1 0 4.7 0a2.35 2.35 0 1 0 -4.7 0zM181.6 204.5a2.35 2.35 0 1 0 4.7 0a2.35 2.35 0 1 0 -4.7 0zM208.9 227.4a2.35 2.35 0 1 0 4.7 0a2.35 2.35 0 1 0 -4.7 0zM185.1 220.3a2.35 2.35 0 1 0 4.7 0a2.35 2.35 0 1 0 -4.7 0zM198.3 229.9a2.35 2.35 0 1 0 4.7 0a2.35 2.35 0 1 0 -4.7 0zM183.1 230.8a2.35 2.35 0 1 0 4.7 0a2.35 2.35 0 1 0 -4.7 0zM242.8 207.6a2.35 2.35 0 1 0 4.7 0a2.35 2.35 0 1 0 -4.7 0zM241.8 230.6a2.35 2.35 0 1 0 4.7 0a2.35 2.35 0 1 0 -4.7 0zM237.2 193.7a2.35 2.35 0 1 0 4.7 0a2.35 2.35 0 1 0 -4.7 0zM238.2 211.9a2.35 2.35 0 1 0 4.7 0a2.35 2.35 0 1 0 -4.7 0zM244.6 212.2a2.35 2.35 0 1 0 4.7 0a2.35 2.35 0 1 0 -4.7 0zM240.9 213.0a2.35 2.35 0 1 0 4.7 0a2.35 2.35 0 1 0 -4.7 0zM240.3 221.0a2.35 2.35 0 1 0 4.7 0a2.35 2.35 0 1 0 -4.7 0zM239.2 211.8a2.35 2.35 0 1 0 4.7 0a2.35 2.35 0 1 0 -4.7 0zM241.1 218.8a2.35 2.35 0 1 0 4.7 0a2.35 2.35 0 1 0 -4.7 0zM241.9 226.9a2.35 2.35 0 1 0 4.7 0a2.35 2.35 0 1 0 -4.7 0zM247.6 228.3a2.35 2.35 0 1 0 4.7 0a2.35 2.35 0 1 0 -4.7 0zM228.4 214.8a2.35 2.35 0 1 0 4.7 0a2.35 2.35 0 1 0 -4.7 0zM243.5 228.1a2.35 2.35 0 1 0 4.7 0a2.35 2.35 0 1 0 -4.7 0zM234.6 230.8a2.35 2.35 0 1 0 4.7 0a2.35 2.35 0 1 0 -4.7 0zM228.0 226.8a2.35 2.35 0 1 0 4.7 0a2.35 2.35 0 1 0 -4.7 0zM234.0 229.5a2.35 2.35 0 1 0 4.7 0a2.35 2.35 0 1 0 -4.7 0zM233.3 222.3a2.35 2.35 0 1 0 4.7 0a2.35 2.35 0 1 0 -4.7 0zM228.7 229.9a2.35 2.35 0 1 0 4.7 0a2.35 2.35 0 1 0 -4.7 0zM243.4 213.9a2.35 2.35 0 1 0 4.7 0a2.35 2.35 0 1 0 -4.7 0zM235.5 223.8a2.35 2.35 0 1 0 4.7 0a2.35 2.35 0 1 0 -4.7 0zM241.3 230.2a2.35 2.35 0 1 0 4.7 0a2.35 2.35 0 1 0 -4.7 0zM227.9 225.5a2.35 2.35 0 1 0 4.7 0a2.35 2.35 0 1 0 -4.7 0zM235.9 228.4a2.35 2.35 0 1 0 4.7 0a2.35 2.35 0 1 0 -4.7 0zM252.1 210.2a2.35 2.35 0 1 0 4.7 0a2.35 2.35 0 1 0 -4.7 0zM251.9 200.8a2.35 2.35 0 1 0 4.7 0a2.35 2.35 0 1 0 -4.7 0zM254.6 194.7a2.35 2.35 0 1 0 4.7 0a2.35 2.35 0 1 0 -4.7 0zM252.8 209.1a2.35 2.35 0 1 0 4.7 0a2.35 2.35 0 1 0 -4.7 0zM253.1 230.0a2.35 2.35 0 1 0 4.7 0a2.35 2.35 0 1 0 -4.7 0zM249.8 175.9a2.35 2.35 0 1 0 4.7 0a2.35 2.35 0 1 0 -4.7 0zM258.0 221.6a2.35 2.35 0 1 0 4.7 0a2.35 2.35 0 1 0 -4.7 0zM258.6 217.2a2.35 2.35 0 1 0 4.7 0a2.35 2.35 0 1 0 -4.7 0zM255.9 183.4a2.35 2.35 0 1 0 4.7 0a2.35 2.35 0 1 0 -4.7 0zM257.1 178.7a2.35 2.35 0 1 0 4.7 0a2.35 2.35 0 1 0 -4.7 0zM257.1 208.2a2.35 2.35 0 1 0 4.7 0a2.35 2.35 0 1 0 -4.7 0zM256.8 180.0a2.35 2.35 0 1 0 4.7 0a2.35 2.35 0 1 0 -4.7 0zM257.6 198.7a2.35 2.35 0 1 0 4.7 0a2.35 2.35 0 1 0 -4.7 0zM252.3 189.2a2.35 2.35 0 1 0 4.7 0a2.35 2.35 0 1 0 -4.7 0zM257.1 230.6a2.35 2.35 0 1 0 4.7 0a2.35 2.35 0 1 0 -4.7 0zM257.5 217.9a2.35 2.35 0 1 0 4.7 0a2.35 2.35 0 1 0 -4.7 0zM254.6 189.8a2.35 2.35 0 1 0 4.7 0a2.35 2.35 0 1 0 -4.7 0zM256.4 181.4a2.35 2.35 0 1 0 4.7 0a2.35 2.35 0 1 0 -4.7 0zM257.8 207.9a2.35 2.35 0 1 0 4.7 0a2.35 2.35 0 1 0 -4.7 0zM255.9 223.1a2.35 2.35 0 1 0 4.7 0a2.35 2.35 0 1 0 -4.7 0zM255.1 185.7a2.35 2.35 0 1 0 4.7 0a2.35 2.35 0 1 0 -4.7 0zM248.8 189.9a2.35 2.35 0 1 0 4.7 0a2.35 2.35 0 1 0 -4.7 0zM257.7 202.5a2.35 2.35 0 1 0 4.7 0a2.35 2.35 0 1 0 -4.7 0zM257.6 229.4a2.35 2.35 0 1 0 4.7 0a2.35 2.35 0 1 0 -4.7 0zM250.2 230.9a2.35 2.35 0 1 0 4.7 0a2.35 2.35 0 1 0 -4.7 0zM263.2 230.7a2.35 2.35 0 1 0 4.7 0a2.35 2.35 0 1 0 -4.7 0zM274.0 184.6a2.35 2.35 0 1 0 4.7 0a2.35 2.35 0 1 0 -4.7 0zM270.7 218.0a2.35 2.35 0 1 0 4.7 0a2.35 2.35 0 1 0 -4.7 0zM289.2 229.7a2.35 2.35 0 1 0 4.7 0a2.35 2.35 0 1 0 -4.7 0zM291.0 230.8a2.35 2.35 0 1 0 4.7 0a2.35 2.35 0 1 0 -4.7 0zM293.8 198.4a2.35 2.35 0 1 0 4.7 0a2.35 2.35 0 1 0 -4.7 0zM274.9 217.6a2.35 2.35 0 1 0 4.7 0a2.35 2.35 0 1 0 -4.7 0zM281.6 230.3a2.35 2.35 0 1 0 4.7 0a2.35 2.35 0 1 0 -4.7 0zM271.2 230.9a2.35 2.35 0 1 0 4.7 0a2.35 2.35 0 1 0 -4.7 0zM290.2 218.4a2.35 2.35 0 1 0 4.7 0a2.35 2.35 0 1 0 -4.7 0zM280.9 221.3a2.35 2.35 0 1 0 4.7 0a2.35 2.35 0 1 0 -4.7 0zM288.2 201.2a2.35 2.35 0 1 0 4.7 0a2.35 2.35 0 1 0 -4.7 0zM285.6 229.9a2.35 2.35 0 1 0 4.7 0a2.35 2.35 0 1 0 -4.7 0zM292.1 227.5a2.35 2.35 0 1 0 4.7 0a2.35 2.35 0 1 0 -4.7 0zM262.8 190.7a2.35 2.35 0 1 0 4.7 0a2.35 2.35 0 1 0 -4.7 0zM270.9 221.6a2.35 2.35 0 1 0 4.7 0a2.35 2.35 0 1 0 -4.7 0zM267.6 225.4a2.35 2.35 0 1 0 4.7 0a2.35 2.35 0 1 0 -4.7 0zM282.7 230.2a2.35 2.35 0 1 0 4.7 0a2.35 2.35 0 1 0 -4.7 0zM265.4 205.5a2.35 2.35 0 1 0 4.7 0a2.35 2.35 0 1 0 -4.7 0zM270.4 203.1a2.35 2.35 0 1 0 4.7 0a2.35 2.35 0 1 0 -4.7 0zM293.1 229.6a2.35 2.35 0 1 0 4.7 0a2.35 2.35 0 1 0 -4.7 0zM278.5 193.2a2.35 2.35 0 1 0 4.7 0a2.35 2.35 0 1 0 -4.7 0zM269.4 220.1a2.35 2.35 0 1 0 4.7 0a2.35 2.35 0 1 0 -4.7 0zM276.5 212.1a2.35 2.35 0 1 0 4.7 0a2.35 2.35 0 1 0 -4.7 0zM265.3 210.1a2.35 2.35 0 1 0 4.7 0a2.35 2.35 0 1 0 -4.7 0zM288.4 203.4a2.35 2.35 0 1 0 4.7 0a2.35 2.35 0 1 0 -4.7 0zM280.4 197.9a2.35 2.35 0 1 0 4.7 0a2.35 2.35 0 1 0 -4.7 0zM292.9 211.4a2.35 2.35 0 1 0 4.7 0a2.35 2.35 0 1 0 -4.7 0zM286.7 228.1a2.35 2.35 0 1 0 4.7 0a2.35 2.35 0 1 0 -4.7 0zM287.9 229.7a2.35 2.35 0 1 0 4.7 0a2.35 2.35 0 1 0 -4.7 0zM263.3 186.0a2.35 2.35 0 1 0 4.7 0a2.35 2.35 0 1 0 -4.7 0zM287.3 227.2a2.35 2.35 0 1 0 4.7 0a2.35 2.35 0 1 0 -4.7 0zM285.8 197.1a2.35 2.35 0 1 0 4.7 0a2.35 2.35 0 1 0 -4.7 0zM285.9 223.2a2.35 2.35 0 1 0 4.7 0a2.35 2.35 0 1 0 -4.7 0zM285.8 223.7a2.35 2.35 0 1 0 4.7 0a2.35 2.35 0 1 0 -4.7 0zM277.8 215.0a2.35 2.35 0 1 0 4.7 0a2.35 2.35 0 1 0 -4.7 0zM266.7 227.4a2.35 2.35 0 1 0 4.7 0a2.35 2.35 0 1 0 -4.7 0zM271.5 229.9a2.35 2.35 0 1 0 4.7 0a2.35 2.35 0 1 0 -4.7 0zM266.6 209.3a2.35 2.35 0 1 0 4.7 0a2.35 2.35 0 1 0 -4.7 0zM265.4 219.1a2.35 2.35 0 1 0 4.7 0a2.35 2.35 0 1 0 -4.7 0zM282.4 230.1a2.35 2.35 0 1 0 4.7 0a2.35 2.35 0 1 0 -4.7 0zM267.4 220.6a2.35 2.35 0 1 0 4.7 0a2.35 2.35 0 1 0 -4.7 0zM283.3 223.2a2.35 2.35 0 1 0 4.7 0a2.35 2.35 0 1 0 -4.7 0zM287.1 215.4a2.35 2.35 0 1 0 4.7 0a2.35 2.35 0 1 0 -4.7 0zM276.6 221.6a2.35 2.35 0 1 0 4.7 0a2.35 2.35 0 1 0 -4.7 0zM293.2 225.9a2.35 2.35 0 1 0 4.7 0a2.35 2.35 0 1 0 -4.7 0zM282.1 196.4a2.35 2.35 0 1 0 4.7 0a2.35 2.35 0 1 0 -4.7 0zM280.5 196.6a2.35 2.35 0 1 0 4.7 0a2.35 2.35 0 1 0 -4.7 0zM295.8 212.6a2.35 2.35 0 1 0 4.7 0a2.35 2.35 0 1 0 -4.7 0zM295.0 222.6a2.35 2.35 0 1 0 4.7 0a2.35 2.35 0 1 0 -4.7 0zM280.0 204.0a2.35 2.35 0 1 0 4.7 0a2.35 2.35 0 1 0 -4.7 0zM275.1 226.4a2.35 2.35 0 1 0 4.7 0a2.35 2.35 0 1 0 -4.7 0zM296.0 207.8a2.35 2.35 0 1 0 4.7 0a2.35 2.35 0 1 0 -4.7 0zM293.1 227.3a2.35 2.35 0 1 0 4.7 0a2.35 2.35 0 1 0 -4.7 0zM270.1 210.6a2.35 2.35 0 1 0 4.7 0a2.35 2.35 0 1 0 -4.7 0zM282.3 187.1a2.35 2.35 0 1 0 4.7 0a2.35 2.35 0 1 0 -4.7 0zM294.8 200.2a2.35 2.35 0 1 0 4.7 0a2.35 2.35 0 1 0 -4.7 0zM274.4 190.8a2.35 2.35 0 1 0 4.7 0a2.35 2.35 0 1 0 -4.7 0zM265.6 210.0a2.35 2.35 0 1 0 4.7 0a2.35 2.35 0 1 0 -4.7 0zM292.6 225.4a2.35 2.35 0 1 0 4.7 0a2.35 2.35 0 1 0 -4.7 0zM263.2 212.4a2.35 2.35 0 1 0 4.7 0a2.35 2.35 0 1 0 -4.7 0zM288.1 186.0a2.35 2.35 0 1 0 4.7 0a2.35 2.35 0 1 0 -4.7 0zM284.5 221.6a2.35 2.35 0 1 0 4.7 0a2.35 2.35 0 1 0 -4.7 0zM329.8 230.7a2.35 2.35 0 1 0 4.7 0a2.35 2.35 0 1 0 -4.7 0zM328.7 220.1a2.35 2.35 0 1 0 4.7 0a2.35 2.35 0 1 0 -4.7 0zM321.9 222.1a2.35 2.35 0 1 0 4.7 0a2.35 2.35 0 1 0 -4.7 0zM323.5 230.6a2.35 2.35 0 1 0 4.7 0a2.35 2.35 0 1 0 -4.7 0zM317.9 220.8a2.35 2.35 0 1 0 4.7 0a2.35 2.35 0 1 0 -4.7 0zM334.1 230.9a2.35 2.35 0 1 0 4.7 0a2.35 2.35 0 1 0 -4.7 0zM336.0 215.1a2.35 2.35 0 1 0 4.7 0a2.35 2.35 0 1 0 -4.7 0zM342.2 216.5a2.35 2.35 0 1 0 4.7 0a2.35 2.35 0 1 0 -4.7 0zM317.0 230.7a2.35 2.35 0 1 0 4.7 0a2.35 2.35 0 1 0 -4.7 0zM325.6 202.5a2.35 2.35 0 1 0 4.7 0a2.35 2.35 0 1 0 -4.7 0zM338.7 227.3a2.35 2.35 0 1 0 4.7 0a2.35 2.35 0 1 0 -4.7 0zM339.6 212.6a2.35 2.35 0 1 0 4.7 0a2.35 2.35 0 1 0 -4.7 0zM335.1 226.9a2.35 2.35 0 1 0 4.7 0a2.35 2.35 0 1 0 -4.7 0zM346.4 224.2a2.35 2.35 0 1 0 4.7 0a2.35 2.35 0 1 0 -4.7 0zM339.0 223.9a2.35 2.35 0 1 0 4.7 0a2.35 2.35 0 1 0 -4.7 0zM329.8 211.0a2.35 2.35 0 1 0 4.7 0a2.35 2.35 0 1 0 -4.7 0zM312.4 228.1a2.35 2.35 0 1 0 4.7 0a2.35 2.35 0 1 0 -4.7 0zM336.1 206.1a2.35 2.35 0 1 0 4.7 0a2.35 2.35 0 1 0 -4.7 0zM341.5 230.5a2.35 2.35 0 1 0 4.7 0a2.35 2.35 0 1 0 -4.7 0zM316.1 229.4a2.35 2.35 0 1 0 4.7 0a2.35 2.35 0 1 0 -4.7 0zM313.9 209.4a2.35 2.35 0 1 0 4.7 0a2.35 2.35 0 1 0 -4.7 0zM342.3 230.6a2.35 2.35 0 1 0 4.7 0a2.35 2.35 0 1 0 -4.7 0zM311.5 230.5a2.35 2.35 0 1 0 4.7 0a2.35 2.35 0 1 0 -4.7 0zM347.6 229.0a2.35 2.35 0 1 0 4.7 0a2.35 2.35 0 1 0 -4.7 0zM341.5 218.6a2.35 2.35 0 1 0 4.7 0a2.35 2.35 0 1 0 -4.7 0zM329.8 229.6a2.35 2.35 0 1 0 4.7 0a2.35 2.35 0 1 0 -4.7 0zM318.3 227.7a2.35 2.35 0 1 0 4.7 0a2.35 2.35 0 1 0 -4.7 0zM343.3 226.6a2.35 2.35 0 1 0 4.7 0a2.35 2.35 0 1 0 -4.7 0zM339.0 228.2a2.35 2.35 0 1 0 4.7 0a2.35 2.35 0 1 0 -4.7 0zM313.8 208.4a2.35 2.35 0 1 0 4.7 0a2.35 2.35 0 1 0 -4.7 0zM329.9 214.1a2.35 2.35 0 1 0 4.7 0a2.35 2.35 0 1 0 -4.7 0zM327.3 227.4a2.35 2.35 0 1 0 4.7 0a2.35 2.35 0 1 0 -4.7 0zM346.0 229.5a2.35 2.35 0 1 0 4.7 0a2.35 2.35 0 1 0 -4.7 0zM327.6 230.6a2.35 2.35 0 1 0 4.7 0a2.35 2.35 0 1 0 -4.7 0zM338.3 215.6a2.35 2.35 0 1 0 4.7 0a2.35 2.35 0 1 0 -4.7 0zM342.6 215.2a2.35 2.35 0 1 0 4.7 0a2.35 2.35 0 1 0 -4.7 0zM340.4 217.5a2.35 2.35 0 1 0 4.7 0a2.35 2.35 0 1 0 -4.7 0zM345.0 221.2a2.35 2.35 0 1 0 4.7 0a2.35 2.35 0 1 0 -4.7 0zM352.1 229.7a2.35 2.35 0 1 0 4.7 0a2.35 2.35 0 1 0 -4.7 0zM356.2 229.0a2.35 2.35 0 1 0 4.7 0a2.35 2.35 0 1 0 -4.7 0zM357.4 209.6a2.35 2.35 0 1 0 4.7 0a2.35 2.35 0 1 0 -4.7 0zM349.7 201.6a2.35 2.35 0 1 0 4.7 0a2.35 2.35 0 1 0 -4.7 0zM343.6 190.7a2.35 2.35 0 1 0 4.7 0a2.35 2.35 0 1 0 -4.7 0zM369.4 211.5a2.35 2.35 0 1 0 4.7 0a2.35 2.35 0 1 0 -4.7 0zM352.2 226.1a2.35 2.35 0 1 0 4.7 0a2.35 2.35 0 1 0 -4.7 0zM368.4 197.1a2.35 2.35 0 1 0 4.7 0a2.35 2.35 0 1 0 -4.7 0zM344.6 213.5a2.35 2.35 0 1 0 4.7 0a2.35 2.35 0 1 0 -4.7 0zM353.1 207.6a2.35 2.35 0 1 0 4.7 0a2.35 2.35 0 1 0 -4.7 0zM359.8 204.5a2.35 2.35 0 1 0 4.7 0a2.35 2.35 0 1 0 -4.7 0zM351.0 202.1a2.35 2.35 0 1 0 4.7 0a2.35 2.35 0 1 0 -4.7 0zM364.6 230.6a2.35 2.35 0 1 0 4.7 0a2.35 2.35 0 1 0 -4.7 0zM351.9 228.2a2.35 2.35 0 1 0 4.7 0a2.35 2.35 0 1 0 -4.7 0zM361.1 199.6a2.35 2.35 0 1 0 4.7 0a2.35 2.35 0 1 0 -4.7 0zM349.3 219.5a2.35 2.35 0 1 0 4.7 0a2.35 2.35 0 1 0 -4.7 0zM344.7 204.4a2.35 2.35 0 1 0 4.7 0a2.35 2.35 0 1 0 -4.7 0zM359.9 223.9a2.35 2.35 0 1 0 4.7 0a2.35 2.35 0 1 0 -4.7 0zM359.4 230.8a2.35 2.35 0 1 0 4.7 0a2.35 2.35 0 1 0 -4.7 0zM349.3 204.2a2.35 2.35 0 1 0 4.7 0a2.35 2.35 0 1 0 -4.7 0zM368.3 217.7a2.35 2.35 0 1 0 4.7 0a2.35 2.35 0 1 0 -4.7 0zM372.0 189.9a2.35 2.35 0 1 0 4.7 0a2.35 2.35 0 1 0 -4.7 0zM374.0 207.1a2.35 2.35 0 1 0 4.7 0a2.35 2.35 0 1 0 -4.7 0zM370.0 217.9a2.35 2.35 0 1 0 4.7 0a2.35 2.35 0 1 0 -4.7 0zM377.5 196.9a2.35 2.35 0 1 0 4.7 0a2.35 2.35 0 1 0 -4.7 0zM361.7 228.7a2.35 2.35 0 1 0 4.7 0a2.35 2.35 0 1 0 -4.7 0zM357.2 229.5a2.35 2.35 0 1 0 4.7 0a2.35 2.35 0 1 0 -4.7 0zM357.1 230.1a2.35 2.35 0 1 0 4.7 0a2.35 2.35 0 1 0 -4.7 0zM357.4 229.5a2.35 2.35 0 1 0 4.7 0a2.35 2.35 0 1 0 -4.7 0zM375.9 210.5a2.35 2.35 0 1 0 4.7 0a2.35 2.35 0 1 0 -4.7 0zM356.5 194.7a2.35 2.35 0 1 0 4.7 0a2.35 2.35 0 1 0 -4.7 0zM380.5 230.6a2.35 2.35 0 1 0 4.7 0a2.35 2.35 0 1 0 -4.7 0zM351.7 193.5a2.35 2.35 0 1 0 4.7 0a2.35 2.35 0 1 0 -4.7 0zM370.5 230.2a2.35 2.35 0 1 0 4.7 0a2.35 2.35 0 1 0 -4.7 0zM370.2 221.3a2.35 2.35 0 1 0 4.7 0a2.35 2.35 0 1 0 -4.7 0zM359.3 225.6a2.35 2.35 0 1 0 4.7 0a2.35 2.35 0 1 0 -4.7 0zM344.6 227.7a2.35 2.35 0 1 0 4.7 0a2.35 2.35 0 1 0 -4.7 0zM361.4 191.0a2.35 2.35 0 1 0 4.7 0a2.35 2.35 0 1 0 -4.7 0zM380.0 199.2a2.35 2.35 0 1 0 4.7 0a2.35 2.35 0 1 0 -4.7 0zM362.5 215.2a2.35 2.35 0 1 0 4.7 0a2.35 2.35 0 1 0 -4.7 0zM362.0 229.5a2.35 2.35 0 1 0 4.7 0a2.35 2.35 0 1 0 -4.7 0zM375.9 197.6a2.35 2.35 0 1 0 4.7 0a2.35 2.35 0 1 0 -4.7 0zM371.0 230.7a2.35 2.35 0 1 0 4.7 0a2.35 2.35 0 1 0 -4.7 0zM343.6 220.9a2.35 2.35 0 1 0 4.7 0a2.35 2.35 0 1 0 -4.7 0zM344.6 216.1a2.35 2.35 0 1 0 4.7 0a2.35 2.35 0 1 0 -4.7 0zM354.6 227.5a2.35 2.35 0 1 0 4.7 0a2.35 2.35 0 1 0 -4.7 0zM404.6 215.3a2.35 2.35 0 1 0 4.7 0a2.35 2.35 0 1 0 -4.7 0zM396.6 195.5a2.35 2.35 0 1 0 4.7 0a2.35 2.35 0 1 0 -4.7 0zM420.0 218.8a2.35 2.35 0 1 0 4.7 0a2.35 2.35 0 1 0 -4.7 0zM401.3 208.5a2.35 2.35 0 1 0 4.7 0a2.35 2.35 0 1 0 -4.7 0zM405.3 230.8a2.35 2.35 0 1 0 4.7 0a2.35 2.35 0 1 0 -4.7 0zM403.7 230.6a2.35 2.35 0 1 0 4.7 0a2.35 2.35 0 1 0 -4.7 0zM396.0 228.2a2.35 2.35 0 1 0 4.7 0a2.35 2.35 0 1 0 -4.7 0zM410.8 212.7a2.35 2.35 0 1 0 4.7 0a2.35 2.35 0 1 0 -4.7 0zM415.2 217.2a2.35 2.35 0 1 0 4.7 0a2.35 2.35 0 1 0 -4.7 0zM411.4 220.3a2.35 2.35 0 1 0 4.7 0a2.35 2.35 0 1 0 -4.7 0zM417.1 195.5a2.35 2.35 0 1 0 4.7 0a2.35 2.35 0 1 0 -4.7 0zM410.2 201.5a2.35 2.35 0 1 0 4.7 0a2.35 2.35 0 1 0 -4.7 0zM417.4 221.5a2.35 2.35 0 1 0 4.7 0a2.35 2.35 0 1 0 -4.7 0zM406.7 224.8a2.35 2.35 0 1 0 4.7 0a2.35 2.35 0 1 0 -4.7 0zM408.1 229.4a2.35 2.35 0 1 0 4.7 0a2.35 2.35 0 1 0 -4.7 0zM404.7 220.5a2.35 2.35 0 1 0 4.7 0a2.35 2.35 0 1 0 -4.7 0zM419.8 217.6a2.35 2.35 0 1 0 4.7 0a2.35 2.35 0 1 0 -4.7 0zM400.2 229.1a2.35 2.35 0 1 0 4.7 0a2.35 2.35 0 1 0 -4.7 0zM402.5 195.2a2.35 2.35 0 1 0 4.7 0a2.35 2.35 0 1 0 -4.7 0zM405.0 230.9a2.35 2.35 0 1 0 4.7 0a2.35 2.35 0 1 0 -4.7 0zM406.3 208.2a2.35 2.35 0 1 0 4.7 0a2.35 2.35 0 1 0 -4.7 0zM417.6 215.7a2.35 2.35 0 1 0 4.7 0a2.35 2.35 0 1 0 -4.7 0zM416.1 230.8a2.35 2.35 0 1 0 4.7 0a2.35 2.35 0 1 0 -4.7 0zM420.1 194.1a2.35 2.35 0 1 0 4.7 0a2.35 2.35 0 1 0 -4.7 0zM417.4 226.5a2.35 2.35 0 1 0 4.7 0a2.35 2.35 0 1 0 -4.7 0zM398.4 228.9a2.35 2.35 0 1 0 4.7 0a2.35 2.35 0 1 0 -4.7 0zM395.9 227.2a2.35 2.35 0 1 0 4.7 0a2.35 2.35 0 1 0 -4.7 0zM419.3 192.5a2.35 2.35 0 1 0 4.7 0a2.35 2.35 0 1 0 -4.7 0zM410.5 227.9a2.35 2.35 0 1 0 4.7 0a2.35 2.35 0 1 0 -4.7 0zM418.4 222.6a2.35 2.35 0 1 0 4.7 0a2.35 2.35 0 1 0 -4.7 0zM416.7 228.9a2.35 2.35 0 1 0 4.7 0a2.35 2.35 0 1 0 -4.7 0zM413.8 230.9a2.35 2.35 0 1 0 4.7 0a2.35 2.35 0 1 0 -4.7 0zM416.3 230.5a2.35 2.35 0 1 0 4.7 0a2.35 2.35 0 1 0 -4.7 0zM410.2 230.8a2.35 2.35 0 1 0 4.7 0a2.35 2.35 0 1 0 -4.7 0zM395.3 189.6a2.35 2.35 0 1 0 4.7 0a2.35 2.35 0 1 0 -4.7 0zM401.2 228.2a2.35 2.35 0 1 0 4.7 0a2.35 2.35 0 1 0 -4.7 0zM410.1 204.7a2.35 2.35 0 1 0 4.7 0a2.35 2.35 0 1 0 -4.7 0zM401.6 203.8a2.35 2.35 0 1 0 4.7 0a2.35 2.35 0 1 0 -4.7 0zM406.4 192.6a2.35 2.35 0 1 0 4.7 0a2.35 2.35 0 1 0 -4.7 0zM410.1 216.1a2.35 2.35 0 1 0 4.7 0a2.35 2.35 0 1 0 -4.7 0zM415.8 216.5a2.35 2.35 0 1 0 4.7 0a2.35 2.35 0 1 0 -4.7 0zM407.6 222.9a2.35 2.35 0 1 0 4.7 0a2.35 2.35 0 1 0 -4.7 0zM414.6 191.9a2.35 2.35 0 1 0 4.7 0a2.35 2.35 0 1 0 -4.7 0zM417.0 196.2a2.35 2.35 0 1 0 4.7 0a2.35 2.35 0 1 0 -4.7 0zM405.0 230.7a2.35 2.35 0 1 0 4.7 0a2.35 2.35 0 1 0 -4.7 0zM419.5 218.0a2.35 2.35 0 1 0 4.7 0a2.35 2.35 0 1 0 -4.7 0zM419.5 201.5a2.35 2.35 0 1 0 4.7 0a2.35 2.35 0 1 0 -4.7 0zM402.5 204.6a2.35 2.35 0 1 0 4.7 0a2.35 2.35 0 1 0 -4.7 0zM419.6 209.1a2.35 2.35 0 1 0 4.7 0a2.35 2.35 0 1 0 -4.7 0zM417.8 194.5a2.35 2.35 0 1 0 4.7 0a2.35 2.35 0 1 0 -4.7 0zM402.9 221.7a2.35 2.35 0 1 0 4.7 0a2.35 2.35 0 1 0 -4.7 0zM419.5 225.8a2.35 2.35 0 1 0 4.7 0a2.35 2.35 0 1 0 -4.7 0zM405.8 230.6a2.35 2.35 0 1 0 4.7 0a2.35 2.35 0 1 0 -4.7 0zM414.3 222.0a2.35 2.35 0 1 0 4.7 0a2.35 2.35 0 1 0 -4.7 0zM405.3 230.6a2.35 2.35 0 1 0 4.7 0a2.35 2.35 0 1 0 -4.7 0zM455.0 202.4a2.35 2.35 0 1 0 4.7 0a2.35 2.35 0 1 0 -4.7 0zM436.9 200.9a2.35 2.35 0 1 0 4.7 0a2.35 2.35 0 1 0 -4.7 0zM426.0 230.6a2.35 2.35 0 1 0 4.7 0a2.35 2.35 0 1 0 -4.7 0zM426.7 206.2a2.35 2.35 0 1 0 4.7 0a2.35 2.35 0 1 0 -4.7 0zM445.4 225.4a2.35 2.35 0 1 0 4.7 0a2.35 2.35 0 1 0 -4.7 0zM449.9 210.4a2.35 2.35 0 1 0 4.7 0a2.35 2.35 0 1 0 -4.7 0zM428.7 198.6a2.35 2.35 0 1 0 4.7 0a2.35 2.35 0 1 0 -4.7 0zM453.3 204.8a2.35 2.35 0 1 0 4.7 0a2.35 2.35 0 1 0 -4.7 0zM428.9 224.1a2.35 2.35 0 1 0 4.7 0a2.35 2.35 0 1 0 -4.7 0zM442.9 229.2a2.35 2.35 0 1 0 4.7 0a2.35 2.35 0 1 0 -4.7 0zM434.0 195.5a2.35 2.35 0 1 0 4.7 0a2.35 2.35 0 1 0 -4.7 0zM426.1 222.1a2.35 2.35 0 1 0 4.7 0a2.35 2.35 0 1 0 -4.7 0zM452.4 230.5a2.35 2.35 0 1 0 4.7 0a2.35 2.35 0 1 0 -4.7 0zM452.0 221.7a2.35 2.35 0 1 0 4.7 0a2.35 2.35 0 1 0 -4.7 0zM435.2 201.0a2.35 2.35 0 1 0 4.7 0a2.35 2.35 0 1 0 -4.7 0zM432.8 192.5a2.35 2.35 0 1 0 4.7 0a2.35 2.35 0 1 0 -4.7 0zM446.1 230.5a2.35 2.35 0 1 0 4.7 0a2.35 2.35 0 1 0 -4.7 0zM428.3 211.6a2.35 2.35 0 1 0 4.7 0a2.35 2.35 0 1 0 -4.7 0zM439.8 230.3a2.35 2.35 0 1 0 4.7 0a2.35 2.35 0 1 0 -4.7 0zM426.4 229.3a2.35 2.35 0 1 0 4.7 0a2.35 2.35 0 1 0 -4.7 0zM445.4 192.7a2.35 2.35 0 1 0 4.7 0a2.35 2.35 0 1 0 -4.7 0zM430.9 230.6a2.35 2.35 0 1 0 4.7 0a2.35 2.35 0 1 0 -4.7 0zM426.9 192.2a2.35 2.35 0 1 0 4.7 0a2.35 2.35 0 1 0 -4.7 0zM453.3 223.8a2.35 2.35 0 1 0 4.7 0a2.35 2.35 0 1 0 -4.7 0zM451.1 230.4a2.35 2.35 0 1 0 4.7 0a2.35 2.35 0 1 0 -4.7 0zM448.2 223.4a2.35 2.35 0 1 0 4.7 0a2.35 2.35 0 1 0 -4.7 0zM436.2 222.4a2.35 2.35 0 1 0 4.7 0a2.35 2.35 0 1 0 -4.7 0zM436.8 228.6a2.35 2.35 0 1 0 4.7 0a2.35 2.35 0 1 0 -4.7 0zM445.0 209.9a2.35 2.35 0 1 0 4.7 0a2.35 2.35 0 1 0 -4.7 0zM430.1 200.0a2.35 2.35 0 1 0 4.7 0a2.35 2.35 0 1 0 -4.7 0zM445.5 230.0a2.35 2.35 0 1 0 4.7 0a2.35 2.35 0 1 0 -4.7 0zM453.1 184.9a2.35 2.35 0 1 0 4.7 0a2.35 2.35 0 1 0 -4.7 0zM441.2 182.5a2.35 2.35 0 1 0 4.7 0a2.35 2.35 0 1 0 -4.7 0zM439.5 206.3a2.35 2.35 0 1 0 4.7 0a2.35 2.35 0 1 0 -4.7 0zM453.2 212.4a2.35 2.35 0 1 0 4.7 0a2.35 2.35 0 1 0 -4.7 0zM446.4 202.6a2.35 2.35 0 1 0 4.7 0a2.35 2.35 0 1 0 -4.7 0zM433.2 209.3a2.35 2.35 0 1 0 4.7 0a2.35 2.35 0 1 0 -4.7 0zM428.0 223.6a2.35 2.35 0 1 0 4.7 0a2.35 2.35 0 1 0 -4.7 0zM453.6 187.7a2.35 2.35 0 1 0 4.7 0a2.35 2.35 0 1 0 -4.7 0zM437.5 230.6a2.35 2.35 0 1 0 4.7 0a2.35 2.35 0 1 0 -4.7 0zM453.7 220.7a2.35 2.35 0 1 0 4.7 0a2.35 2.35 0 1 0 -4.7 0zM426.9 223.0a2.35 2.35 0 1 0 4.7 0a2.35 2.35 0 1 0 -4.7 0zM452.6 223.8a2.35 2.35 0 1 0 4.7 0a2.35 2.35 0 1 0 -4.7 0zM454.5 229.9a2.35 2.35 0 1 0 4.7 0a2.35 2.35 0 1 0 -4.7 0zM434.7 230.5a2.35 2.35 0 1 0 4.7 0a2.35 2.35 0 1 0 -4.7 0zM439.2 230.8a2.35 2.35 0 1 0 4.7 0a2.35 2.35 0 1 0 -4.7 0zM447.4 216.0a2.35 2.35 0 1 0 4.7 0a2.35 2.35 0 1 0 -4.7 0zM447.1 225.3a2.35 2.35 0 1 0 4.7 0a2.35 2.35 0 1 0 -4.7 0zM439.1 229.9a2.35 2.35 0 1 0 4.7 0a2.35 2.35 0 1 0 -4.7 0zM436.5 198.0a2.35 2.35 0 1 0 4.7 0a2.35 2.35 0 1 0 -4.7 0zM453.9 223.6a2.35 2.35 0 1 0 4.7 0a2.35 2.35 0 1 0 -4.7 0zM439.2 209.4a2.35 2.35 0 1 0 4.7 0a2.35 2.35 0 1 0 -4.7 0zM452.9 230.2a2.35 2.35 0 1 0 4.7 0a2.35 2.35 0 1 0 -4.7 0zM448.1 228.7a2.35 2.35 0 1 0 4.7 0a2.35 2.35 0 1 0 -4.7 0zM446.5 193.1a2.35 2.35 0 1 0 4.7 0a2.35 2.35 0 1 0 -4.7 0zM436.2 209.3a2.35 2.35 0 1 0 4.7 0a2.35 2.35 0 1 0 -4.7 0zM450.9 224.3a2.35 2.35 0 1 0 4.7 0a2.35 2.35 0 1 0 -4.7 0zM432.1 203.7a2.35 2.35 0 1 0 4.7 0a2.35 2.35 0 1 0 -4.7 0zM431.2 220.2a2.35 2.35 0 1 0 4.7 0a2.35 2.35 0 1 0 -4.7 0zM444.6 224.7a2.35 2.35 0 1 0 4.7 0a2.35 2.35 0 1 0 -4.7 0zM436.8 211.8a2.35 2.35 0 1 0 4.7 0a2.35 2.35 0 1 0 -4.7 0zM446.9 220.5a2.35 2.35 0 1 0 4.7 0a2.35 2.35 0 1 0 -4.7 0zM455.4 224.9a2.35 2.35 0 1 0 4.7 0a2.35 2.35 0 1 0 -4.7 0zM433.1 226.2a2.35 2.35 0 1 0 4.7 0a2.35 2.35 0 1 0 -4.7 0zM426.8 219.2a2.35 2.35 0 1 0 4.7 0a2.35 2.35 0 1 0 -4.7 0zM454.2 220.8a2.35 2.35 0 1 0 4.7 0a2.35 2.35 0 1 0 -4.7 0zM426.2 189.1a2.35 2.35 0 1 0 4.7 0a2.35 2.35 0 1 0 -4.7 0zM449.2 182.7a2.35 2.35 0 1 0 4.7 0a2.35 2.35 0 1 0 -4.7 0zM468.8 225.4a2.35 2.35 0 1 0 4.7 0a2.35 2.35 0 1 0 -4.7 0zM473.8 230.8a2.35 2.35 0 1 0 4.7 0a2.35 2.35 0 1 0 -4.7 0zM478.5 210.7a2.35 2.35 0 1 0 4.7 0a2.35 2.35 0 1 0 -4.7 0zM495.0 229.7a2.35 2.35 0 1 0 4.7 0a2.35 2.35 0 1 0 -4.7 0zM477.8 213.9a2.35 2.35 0 1 0 4.7 0a2.35 2.35 0 1 0 -4.7 0zM489.0 204.9a2.35 2.35 0 1 0 4.7 0a2.35 2.35 0 1 0 -4.7 0zM473.1 221.8a2.35 2.35 0 1 0 4.7 0a2.35 2.35 0 1 0 -4.7 0zM493.8 230.9a2.35 2.35 0 1 0 4.7 0a2.35 2.35 0 1 0 -4.7 0zM486.2 230.6a2.35 2.35 0 1 0 4.7 0a2.35 2.35 0 1 0 -4.7 0zM479.1 226.3a2.35 2.35 0 1 0 4.7 0a2.35 2.35 0 1 0 -4.7 0zM492.9 207.6a2.35 2.35 0 1 0 4.7 0a2.35 2.35 0 1 0 -4.7 0zM472.0 225.4a2.35 2.35 0 1 0 4.7 0a2.35 2.35 0 1 0 -4.7 0zM472.8 192.6a2.35 2.35 0 1 0 4.7 0a2.35 2.35 0 1 0 -4.7 0zM485.9 230.8a2.35 2.35 0 1 0 4.7 0a2.35 2.35 0 1 0 -4.7 0zM483.2 216.0a2.35 2.35 0 1 0 4.7 0a2.35 2.35 0 1 0 -4.7 0zM470.7 212.4a2.35 2.35 0 1 0 4.7 0a2.35 2.35 0 1 0 -4.7 0zM478.3 218.1a2.35 2.35 0 1 0 4.7 0a2.35 2.35 0 1 0 -4.7 0zM487.8 229.0a2.35 2.35 0 1 0 4.7 0a2.35 2.35 0 1 0 -4.7 0zM487.9 230.5a2.35 2.35 0 1 0 4.7 0a2.35 2.35 0 1 0 -4.7 0zM473.9 230.3a2.35 2.35 0 1 0 4.7 0a2.35 2.35 0 1 0 -4.7 0zM480.8 212.6a2.35 2.35 0 1 0 4.7 0a2.35 2.35 0 1 0 -4.7 0zM477.5 197.3a2.35 2.35 0 1 0 4.7 0a2.35 2.35 0 1 0 -4.7 0zM471.6 194.4a2.35 2.35 0 1 0 4.7 0a2.35 2.35 0 1 0 -4.7 0zM475.4 213.3a2.35 2.35 0 1 0 4.7 0a2.35 2.35 0 1 0 -4.7 0zM488.4 210.9a2.35 2.35 0 1 0 4.7 0a2.35 2.35 0 1 0 -4.7 0zM491.0 214.4a2.35 2.35 0 1 0 4.7 0a2.35 2.35 0 1 0 -4.7 0zM487.0 230.6a2.35 2.35 0 1 0 4.7 0a2.35 2.35 0 1 0 -4.7 0zM471.8 212.1a2.35 2.35 0 1 0 4.7 0a2.35 2.35 0 1 0 -4.7 0zM477.0 230.6a2.35 2.35 0 1 0 4.7 0a2.35 2.35 0 1 0 -4.7 0zM470.1 220.7a2.35 2.35 0 1 0 4.7 0a2.35 2.35 0 1 0 -4.7 0zM482.4 220.2a2.35 2.35 0 1 0 4.7 0a2.35 2.35 0 1 0 -4.7 0zM493.7 205.7a2.35 2.35 0 1 0 4.7 0a2.35 2.35 0 1 0 -4.7 0zM475.5 230.0a2.35 2.35 0 1 0 4.7 0a2.35 2.35 0 1 0 -4.7 0zM470.4 227.1a2.35 2.35 0 1 0 4.7 0a2.35 2.35 0 1 0 -4.7 0zM487.8 213.2a2.35 2.35 0 1 0 4.7 0a2.35 2.35 0 1 0 -4.7 0zM490.4 215.6a2.35 2.35 0 1 0 4.7 0a2.35 2.35 0 1 0 -4.7 0zM485.4 230.6a2.35 2.35 0 1 0 4.7 0a2.35 2.35 0 1 0 -4.7 0zM469.0 199.5a2.35 2.35 0 1 0 4.7 0a2.35 2.35 0 1 0 -4.7 0zM474.4 230.7a2.35 2.35 0 1 0 4.7 0a2.35 2.35 0 1 0 -4.7 0zM477.0 220.1a2.35 2.35 0 1 0 4.7 0a2.35 2.35 0 1 0 -4.7 0zM482.0 220.3a2.35 2.35 0 1 0 4.7 0a2.35 2.35 0 1 0 -4.7 0zM490.4 204.9a2.35 2.35 0 1 0 4.7 0a2.35 2.35 0 1 0 -4.7 0zM488.0 192.2a2.35 2.35 0 1 0 4.7 0a2.35 2.35 0 1 0 -4.7 0zM487.1 230.8a2.35 2.35 0 1 0 4.7 0a2.35 2.35 0 1 0 -4.7 0zM479.9 221.8a2.35 2.35 0 1 0 4.7 0a2.35 2.35 0 1 0 -4.7 0zM476.2 224.1a2.35 2.35 0 1 0 4.7 0a2.35 2.35 0 1 0 -4.7 0zM507.9 192.6a2.35 2.35 0 1 0 4.7 0a2.35 2.35 0 1 0 -4.7 0zM514.8 215.8a2.35 2.35 0 1 0 4.7 0a2.35 2.35 0 1 0 -4.7 0zM503.7 199.8a2.35 2.35 0 1 0 4.7 0a2.35 2.35 0 1 0 -4.7 0zM507.9 214.5a2.35 2.35 0 1 0 4.7 0a2.35 2.35 0 1 0 -4.7 0zM525.0 230.9a2.35 2.35 0 1 0 4.7 0a2.35 2.35 0 1 0 -4.7 0zM525.5 219.1a2.35 2.35 0 1 0 4.7 0a2.35 2.35 0 1 0 -4.7 0zM522.3 211.1a2.35 2.35 0 1 0 4.7 0a2.35 2.35 0 1 0 -4.7 0zM506.2 223.3a2.35 2.35 0 1 0 4.7 0a2.35 2.35 0 1 0 -4.7 0zM516.2 217.9a2.35 2.35 0 1 0 4.7 0a2.35 2.35 0 1 0 -4.7 0zM516.1 230.0a2.35 2.35 0 1 0 4.7 0a2.35 2.35 0 1 0 -4.7 0zM505.9 198.4a2.35 2.35 0 1 0 4.7 0a2.35 2.35 0 1 0 -4.7 0zM525.5 229.2a2.35 2.35 0 1 0 4.7 0a2.35 2.35 0 1 0 -4.7 0zM505.9 205.5a2.35 2.35 0 1 0 4.7 0a2.35 2.35 0 1 0 -4.7 0zM514.4 225.1a2.35 2.35 0 1 0 4.7 0a2.35 2.35 0 1 0 -4.7 0zM513.7 197.1a2.35 2.35 0 1 0 4.7 0a2.35 2.35 0 1 0 -4.7 0zM503.0 230.3a2.35 2.35 0 1 0 4.7 0a2.35 2.35 0 1 0 -4.7 0zM513.6 206.8a2.35 2.35 0 1 0 4.7 0a2.35 2.35 0 1 0 -4.7 0zM512.4 221.4a2.35 2.35 0 1 0 4.7 0a2.35 2.35 0 1 0 -4.7 0zM524.5 228.4a2.35 2.35 0 1 0 4.7 0a2.35 2.35 0 1 0 -4.7 0zM524.0 205.9a2.35 2.35 0 1 0 4.7 0a2.35 2.35 0 1 0 -4.7 0zM508.1 205.9a2.35 2.35 0 1 0 4.7 0a2.35 2.35 0 1 0 -4.7 0zM521.1 223.0a2.35 2.35 0 1 0 4.7 0a2.35 2.35 0 1 0 -4.7 0zM525.5 230.0a2.35 2.35 0 1 0 4.7 0a2.35 2.35 0 1 0 -4.7 0zM505.6 228.7a2.35 2.35 0 1 0 4.7 0a2.35 2.35 0 1 0 -4.7 0zM524.0 220.1a2.35 2.35 0 1 0 4.7 0a2.35 2.35 0 1 0 -4.7 0zM507.8 224.9a2.35 2.35 0 1 0 4.7 0a2.35 2.35 0 1 0 -4.7 0zM522.1 227.0a2.35 2.35 0 1 0 4.7 0a2.35 2.35 0 1 0 -4.7 0zM521.0 226.7a2.35 2.35 0 1 0 4.7 0a2.35 2.35 0 1 0 -4.7 0zM504.6 226.2a2.35 2.35 0 1 0 4.7 0a2.35 2.35 0 1 0 -4.7 0zM527.1 221.6a2.35 2.35 0 1 0 4.7 0a2.35 2.35 0 1 0 -4.7 0zM514.4 229.1a2.35 2.35 0 1 0 4.7 0a2.35 2.35 0 1 0 -4.7 0zM517.0 218.3a2.35 2.35 0 1 0 4.7 0a2.35 2.35 0 1 0 -4.7 0zM513.0 213.0a2.35 2.35 0 1 0 4.7 0a2.35 2.35 0 1 0 -4.7 0zM520.5 205.5a2.35 2.35 0 1 0 4.7 0a2.35 2.35 0 1 0 -4.7 0zM504.8 217.1a2.35 2.35 0 1 0 4.7 0a2.35 2.35 0 1 0 -4.7 0zM520.3 222.0a2.35 2.35 0 1 0 4.7 0a2.35 2.35 0 1 0 -4.7 0zM528.3 201.7a2.35 2.35 0 1 0 4.7 0a2.35 2.35 0 1 0 -4.7 0zM518.3 207.5a2.35 2.35 0 1 0 4.7 0a2.35 2.35 0 1 0 -4.7 0zM505.5 230.4a2.35 2.35 0 1 0 4.7 0a2.35 2.35 0 1 0 -4.7 0zM521.0 199.4a2.35 2.35 0 1 0 4.7 0a2.35 2.35 0 1 0 -4.7 0zM505.5 230.0a2.35 2.35 0 1 0 4.7 0a2.35 2.35 0 1 0 -4.7 0zM514.2 193.6a2.35 2.35 0 1 0 4.7 0a2.35 2.35 0 1 0 -4.7 0zM509.3 226.8a2.35 2.35 0 1 0 4.7 0a2.35 2.35 0 1 0 -4.7 0zM526.9 226.5a2.35 2.35 0 1 0 4.7 0a2.35 2.35 0 1 0 -4.7 0zM507.9 191.1a2.35 2.35 0 1 0 4.7 0a2.35 2.35 0 1 0 -4.7 0zM506.7 200.6a2.35 2.35 0 1 0 4.7 0a2.35 2.35 0 1 0 -4.7 0zM567.8 215.3a2.35 2.35 0 1 0 4.7 0a2.35 2.35 0 1 0 -4.7 0zM568.0 229.0a2.35 2.35 0 1 0 4.7 0a2.35 2.35 0 1 0 -4.7 0zM552.3 217.2a2.35 2.35 0 1 0 4.7 0a2.35 2.35 0 1 0 -4.7 0zM564.2 228.5a2.35 2.35 0 1 0 4.7 0a2.35 2.35 0 1 0 -4.7 0zM553.3 230.8a2.35 2.35 0 1 0 4.7 0a2.35 2.35 0 1 0 -4.7 0zM558.7 229.4a2.35 2.35 0 1 0 4.7 0a2.35 2.35 0 1 0 -4.7 0zM547.6 229.9a2.35 2.35 0 1 0 4.7 0a2.35 2.35 0 1 0 -4.7 0zM550.2 230.9a2.35 2.35 0 1 0 4.7 0a2.35 2.35 0 1 0 -4.7 0zM568.4 225.0a2.35 2.35 0 1 0 4.7 0a2.35 2.35 0 1 0 -4.7 0zM565.1 218.4a2.35 2.35 0 1 0 4.7 0a2.35 2.35 0 1 0 -4.7 0zM563.0 218.9a2.35 2.35 0 1 0 4.7 0a2.35 2.35 0 1 0 -4.7 0zM546.8 209.2a2.35 2.35 0 1 0 4.7 0a2.35 2.35 0 1 0 -4.7 0zM566.7 228.4a2.35 2.35 0 1 0 4.7 0a2.35 2.35 0 1 0 -4.7 0zM554.4 226.3a2.35 2.35 0 1 0 4.7 0a2.35 2.35 0 1 0 -4.7 0zM560.7 219.8a2.35 2.35 0 1 0 4.7 0a2.35 2.35 0 1 0 -4.7 0zM558.5 199.3a2.35 2.35 0 1 0 4.7 0a2.35 2.35 0 1 0 -4.7 0zM561.4 224.3a2.35 2.35 0 1 0 4.7 0a2.35 2.35 0 1 0 -4.7 0zM566.4 230.5a2.35 2.35 0 1 0 4.7 0a2.35 2.35 0 1 0 -4.7 0zM560.1 220.5a2.35 2.35 0 1 0 4.7 0a2.35 2.35 0 1 0 -4.7 0zM565.6 209.0a2.35 2.35 0 1 0 4.7 0a2.35 2.35 0 1 0 -4.7 0zM554.6 223.6a2.35 2.35 0 1 0 4.7 0a2.35 2.35 0 1 0 -4.7 0zM560.8 220.7a2.35 2.35 0 1 0 4.7 0a2.35 2.35 0 1 0 -4.7 0zM568.0 205.7a2.35 2.35 0 1 0 4.7 0a2.35 2.35 0 1 0 -4.7 0zM556.4 207.7a2.35 2.35 0 1 0 4.7 0a2.35 2.35 0 1 0 -4.7 0zM562.3 197.0a2.35 2.35 0 1 0 4.7 0a2.35 2.35 0 1 0 -4.7 0zM548.9 230.2a2.35 2.35 0 1 0 4.7 0a2.35 2.35 0 1 0 -4.7 0zM563.3 221.1a2.35 2.35 0 1 0 4.7 0a2.35 2.35 0 1 0 -4.7 0zM563.0 222.4a2.35 2.35 0 1 0 4.7 0a2.35 2.35 0 1 0 -4.7 0zM566.5 198.6a2.35 2.35 0 1 0 4.7 0a2.35 2.35 0 1 0 -4.7 0zM604.9 223.6a2.35 2.35 0 1 0 4.7 0a2.35 2.35 0 1 0 -4.7 0zM602.7 229.6a2.35 2.35 0 1 0 4.7 0a2.35 2.35 0 1 0 -4.7 0zM584.1 230.9a2.35 2.35 0 1 0 4.7 0a2.35 2.35 0 1 0 -4.7 0zM592.3 219.5a2.35 2.35 0 1 0 4.7 0a2.35 2.35 0 1 0 -4.7 0zM576.7 229.6a2.35 2.35 0 1 0 4.7 0a2.35 2.35 0 1 0 -4.7 0zM603.8 228.7a2.35 2.35 0 1 0 4.7 0a2.35 2.35 0 1 0 -4.7 0zM599.3 207.3a2.35 2.35 0 1 0 4.7 0a2.35 2.35 0 1 0 -4.7 0zM572.0 190.2a2.35 2.35 0 1 0 4.7 0a2.35 2.35 0 1 0 -4.7 0zM587.5 227.3a2.35 2.35 0 1 0 4.7 0a2.35 2.35 0 1 0 -4.7 0zM596.6 230.6a2.35 2.35 0 1 0 4.7 0a2.35 2.35 0 1 0 -4.7 0zM595.4 224.1a2.35 2.35 0 1 0 4.7 0a2.35 2.35 0 1 0 -4.7 0zM599.1 216.8a2.35 2.35 0 1 0 4.7 0a2.35 2.35 0 1 0 -4.7 0zM601.3 193.0a2.35 2.35 0 1 0 4.7 0a2.35 2.35 0 1 0 -4.7 0zM574.9 218.5a2.35 2.35 0 1 0 4.7 0a2.35 2.35 0 1 0 -4.7 0zM583.4 230.0a2.35 2.35 0 1 0 4.7 0a2.35 2.35 0 1 0 -4.7 0zM591.2 213.9a2.35 2.35 0 1 0 4.7 0a2.35 2.35 0 1 0 -4.7 0zM589.9 215.2a2.35 2.35 0 1 0 4.7 0a2.35 2.35 0 1 0 -4.7 0zM593.0 228.8a2.35 2.35 0 1 0 4.7 0a2.35 2.35 0 1 0 -4.7 0zM573.3 220.9a2.35 2.35 0 1 0 4.7 0a2.35 2.35 0 1 0 -4.7 0zM575.4 194.3a2.35 2.35 0 1 0 4.7 0a2.35 2.35 0 1 0 -4.7 0zM604.8 190.5a2.35 2.35 0 1 0 4.7 0a2.35 2.35 0 1 0 -4.7 0zM594.7 216.7a2.35 2.35 0 1 0 4.7 0a2.35 2.35 0 1 0 -4.7 0zM600.4 218.0a2.35 2.35 0 1 0 4.7 0a2.35 2.35 0 1 0 -4.7 0zM577.0 227.3a2.35 2.35 0 1 0 4.7 0a2.35 2.35 0 1 0 -4.7 0zM586.1 227.0a2.35 2.35 0 1 0 4.7 0a2.35 2.35 0 1 0 -4.7 0zM583.6 200.6a2.35 2.35 0 1 0 4.7 0a2.35 2.35 0 1 0 -4.7 0zM571.9 230.7a2.35 2.35 0 1 0 4.7 0a2.35 2.35 0 1 0 -4.7 0zM593.9 206.4a2.35 2.35 0 1 0 4.7 0a2.35 2.35 0 1 0 -4.7 0zM577.9 215.6a2.35 2.35 0 1 0 4.7 0a2.35 2.35 0 1 0 -4.7 0zM596.2 203.1a2.35 2.35 0 1 0 4.7 0a2.35 2.35 0 1 0 -4.7 0zM585.7 229.5a2.35 2.35 0 1 0 4.7 0a2.35 2.35 0 1 0 -4.7 0zM604.9 222.2a2.35 2.35 0 1 0 4.7 0a2.35 2.35 0 1 0 -4.7 0zM593.5 230.1a2.35 2.35 0 1 0 4.7 0a2.35 2.35 0 1 0 -4.7 0zM604.6 220.3a2.35 2.35 0 1 0 4.7 0a2.35 2.35 0 1 0 -4.7 0zM604.0 187.1a2.35 2.35 0 1 0 4.7 0a2.35 2.35 0 1 0 -4.7 0zM578.1 199.8a2.35 2.35 0 1 0 4.7 0a2.35 2.35 0 1 0 -4.7 0zM581.5 217.3a2.35 2.35 0 1 0 4.7 0a2.35 2.35 0 1 0 -4.7 0zM595.5 183.8a2.35 2.35 0 1 0 4.7 0a2.35 2.35 0 1 0 -4.7 0zM596.2 225.3a2.35 2.35 0 1 0 4.7 0a2.35 2.35 0 1 0 -4.7 0zM601.6 221.7a2.35 2.35 0 1 0 4.7 0a2.35 2.35 0 1 0 -4.7 0zM587.6 202.5a2.35 2.35 0 1 0 4.7 0a2.35 2.35 0 1 0 -4.7 0zM575.6 200.8a2.35 2.35 0 1 0 4.7 0a2.35 2.35 0 1 0 -4.7 0zM604.1 227.0a2.35 2.35 0 1 0 4.7 0a2.35 2.35 0 1 0 -4.7 0zM596.1 213.6a2.35 2.35 0 1 0 4.7 0a2.35 2.35 0 1 0 -4.7 0zM595.4 219.8a2.35 2.35 0 1 0 4.7 0a2.35 2.35 0 1 0 -4.7 0zM594.3 202.0a2.35 2.35 0 1 0 4.7 0a2.35 2.35 0 1 0 -4.7 0zM580.4 225.8a2.35 2.35 0 1 0 4.7 0a2.35 2.35 0 1 0 -4.7 0zM594.8 220.7a2.35 2.35 0 1 0 4.7 0a2.35 2.35 0 1 0 -4.7 0zM584.3 230.4a2.35 2.35 0 1 0 4.7 0a2.35 2.35 0 1 0 -4.7 0zM594.6 213.3a2.35 2.35 0 1 0 4.7 0a2.35 2.35 0 1 0 -4.7 0zM586.0 205.6a2.35 2.35 0 1 0 4.7 0a2.35 2.35 0 1 0 -4.7 0zM602.7 230.4a2.35 2.35 0 1 0 4.7 0a2.35 2.35 0 1 0 -4.7 0zM598.1 229.5a2.35 2.35 0 1 0 4.7 0a2.35 2.35 0 1 0 -4.7 0zM584.3 225.4a2.35 2.35 0 1 0 4.7 0a2.35 2.35 0 1 0 -4.7 0zM578.8 208.9a2.35 2.35 0 1 0 4.7 0a2.35 2.35 0 1 0 -4.7 0zM572.5 214.4a2.35 2.35 0 1 0 4.7 0a2.35 2.35 0 1 0 -4.7 0zM579.4 227.9a2.35 2.35 0 1 0 4.7 0a2.35 2.35 0 1 0 -4.7 0zM586.7 230.8a2.35 2.35 0 1 0 4.7 0a2.35 2.35 0 1 0 -4.7 0zM604.8 222.8a2.35 2.35 0 1 0 4.7 0a2.35 2.35 0 1 0 -4.7 0zM572.9 220.5a2.35 2.35 0 1 0 4.7 0a2.35 2.35 0 1 0 -4.7 0zM604.1 207.4a2.35 2.35 0 1 0 4.7 0a2.35 2.35 0 1 0 -4.7 0zM597.0 229.1a2.35 2.35 0 1 0 4.7 0a2.35 2.35 0 1 0 -4.7 0zM602.1 212.7a2.35 2.35 0 1 0 4.7 0a2.35 2.35 0 1 0 -4.7 0zM574.1 214.4a2.35 2.35 0 1 0 4.7 0a2.35 2.35 0 1 0 -4.7 0zM587.2 210.0a2.35 2.35 0 1 0 4.7 0a2.35 2.35 0 1 0 -4.7 0zM577.0 227.3a2.35 2.35 0 1 0 4.7 0a2.35 2.35 0 1 0 -4.7 0zM595.0 208.2a2.35 2.35 0 1 0 4.7 0a2.35 2.35 0 1 0 -4.7 0zM586.1 230.7a2.35 2.35 0 1 0 4.7 0a2.35 2.35 0 1 0 -4.7 0zM586.1 226.0a2.35 2.35 0 1 0 4.7 0a2.35 2.35 0 1 0 -4.7 0zM581.2 229.9a2.35 2.35 0 1 0 4.7 0a2.35 2.35 0 1 0 -4.7 0zM581.2 216.1a2.35 2.35 0 1 0 4.7 0a2.35 2.35 0 1 0 -4.7 0zM585.1 226.3a2.35 2.35 0 1 0 4.7 0a2.35 2.35 0 1 0 -4.7 0zM643.2 224.6a2.35 2.35 0 1 0 4.7 0a2.35 2.35 0 1 0 -4.7 0zM645.4 230.6a2.35 2.35 0 1 0 4.7 0a2.35 2.35 0 1 0 -4.7 0zM643.6 223.0a2.35 2.35 0 1 0 4.7 0a2.35 2.35 0 1 0 -4.7 0zM633.1 228.6a2.35 2.35 0 1 0 4.7 0a2.35 2.35 0 1 0 -4.7 0zM644.0 212.8a2.35 2.35 0 1 0 4.7 0a2.35 2.35 0 1 0 -4.7 0zM626.3 230.5a2.35 2.35 0 1 0 4.7 0a2.35 2.35 0 1 0 -4.7 0zM635.9 221.6a2.35 2.35 0 1 0 4.7 0a2.35 2.35 0 1 0 -4.7 0zM635.9 230.3a2.35 2.35 0 1 0 4.7 0a2.35 2.35 0 1 0 -4.7 0zM642.2 220.6a2.35 2.35 0 1 0 4.7 0a2.35 2.35 0 1 0 -4.7 0zM624.7 207.2a2.35 2.35 0 1 0 4.7 0a2.35 2.35 0 1 0 -4.7 0zM641.1 211.8a2.35 2.35 0 1 0 4.7 0a2.35 2.35 0 1 0 -4.7 0zM641.5 222.4a2.35 2.35 0 1 0 4.7 0a2.35 2.35 0 1 0 -4.7 0zM643.6 222.8a2.35 2.35 0 1 0 4.7 0a2.35 2.35 0 1 0 -4.7 0zM644.5 197.7a2.35 2.35 0 1 0 4.7 0a2.35 2.35 0 1 0 -4.7 0zM640.5 204.9a2.35 2.35 0 1 0 4.7 0a2.35 2.35 0 1 0 -4.7 0zM627.6 230.6a2.35 2.35 0 1 0 4.7 0a2.35 2.35 0 1 0 -4.7 0zM633.3 215.9a2.35 2.35 0 1 0 4.7 0a2.35 2.35 0 1 0 -4.7 0zM641.0 215.0a2.35 2.35 0 1 0 4.7 0a2.35 2.35 0 1 0 -4.7 0zM628.5 230.1a2.35 2.35 0 1 0 4.7 0a2.35 2.35 0 1 0 -4.7 0zM624.0 230.9a2.35 2.35 0 1 0 4.7 0a2.35 2.35 0 1 0 -4.7 0zM632.0 230.9a2.35 2.35 0 1 0 4.7 0a2.35 2.35 0 1 0 -4.7 0zM645.1 226.7a2.35 2.35 0 1 0 4.7 0a2.35 2.35 0 1 0 -4.7 0zM624.8 221.6a2.35 2.35 0 1 0 4.7 0a2.35 2.35 0 1 0 -4.7 0zM627.7 216.6a2.35 2.35 0 1 0 4.7 0a2.35 2.35 0 1 0 -4.7 0zM635.5 229.4a2.35 2.35 0 1 0 4.7 0a2.35 2.35 0 1 0 -4.7 0zM666.5 202.2a2.35 2.35 0 1 0 4.7 0a2.35 2.35 0 1 0 -4.7 0zM673.1 190.4a2.35 2.35 0 1 0 4.7 0a2.35 2.35 0 1 0 -4.7 0zM665.8 230.5a2.35 2.35 0 1 0 4.7 0a2.35 2.35 0 1 0 -4.7 0zM663.4 219.1a2.35 2.35 0 1 0 4.7 0a2.35 2.35 0 1 0 -4.7 0zM665.4 208.3a2.35 2.35 0 1 0 4.7 0a2.35 2.35 0 1 0 -4.7 0zM658.5 197.7a2.35 2.35 0 1 0 4.7 0a2.35 2.35 0 1 0 -4.7 0zM672.9 224.6a2.35 2.35 0 1 0 4.7 0a2.35 2.35 0 1 0 -4.7 0zM661.6 230.0a2.35 2.35 0 1 0 4.7 0a2.35 2.35 0 1 0 -4.7 0zM671.7 212.6a2.35 2.35 0 1 0 4.7 0a2.35 2.35 0 1 0 -4.7 0zM651.9 210.6a2.35 2.35 0 1 0 4.7 0a2.35 2.35 0 1 0 -4.7 0zM657.0 228.4a2.35 2.35 0 1 0 4.7 0a2.35 2.35 0 1 0 -4.7 0zM662.4 225.8a2.35 2.35 0 1 0 4.7 0a2.35 2.35 0 1 0 -4.7 0zM674.1 225.9a2.35 2.35 0 1 0 4.7 0a2.35 2.35 0 1 0 -4.7 0zM671.9 209.8a2.35 2.35 0 1 0 4.7 0a2.35 2.35 0 1 0 -4.7 0zM673.0 228.3a2.35 2.35 0 1 0 4.7 0a2.35 2.35 0 1 0 -4.7 0zM661.7 190.3a2.35 2.35 0 1 0 4.7 0a2.35 2.35 0 1 0 -4.7 0zM668.0 222.3a2.35 2.35 0 1 0 4.7 0a2.35 2.35 0 1 0 -4.7 0zM648.9 212.6a2.35 2.35 0 1 0 4.7 0a2.35 2.35 0 1 0 -4.7 0zM663.3 227.5a2.35 2.35 0 1 0 4.7 0a2.35 2.35 0 1 0 -4.7 0zM665.7 209.2a2.35 2.35 0 1 0 4.7 0a2.35 2.35 0 1 0 -4.7 0zM666.1 227.7a2.35 2.35 0 1 0 4.7 0a2.35 2.35 0 1 0 -4.7 0zM653.6 208.1a2.35 2.35 0 1 0 4.7 0a2.35 2.35 0 1 0 -4.7 0zM647.9 230.8a2.35 2.35 0 1 0 4.7 0a2.35 2.35 0 1 0 -4.7 0zM655.1 210.2a2.35 2.35 0 1 0 4.7 0a2.35 2.35 0 1 0 -4.7 0zM670.8 196.3a2.35 2.35 0 1 0 4.7 0a2.35 2.35 0 1 0 -4.7 0zM659.3 230.2a2.35 2.35 0 1 0 4.7 0a2.35 2.35 0 1 0 -4.7 0zM667.6 220.8a2.35 2.35 0 1 0 4.7 0a2.35 2.35 0 1 0 -4.7 0zM669.5 217.9a2.35 2.35 0 1 0 4.7 0a2.35 2.35 0 1 0 -4.7 0zM666.1 225.7a2.35 2.35 0 1 0 4.7 0a2.35 2.35 0 1 0 -4.7 0zM649.6 218.9a2.35 2.35 0 1 0 4.7 0a2.35 2.35 0 1 0 -4.7 0zM649.4 230.8a2.35 2.35 0 1 0 4.7 0a2.35 2.35 0 1 0 -4.7 0zM664.7 225.9a2.35 2.35 0 1 0 4.7 0a2.35 2.35 0 1 0 -4.7 0zM649.8 206.6a2.35 2.35 0 1 0 4.7 0a2.35 2.35 0 1 0 -4.7 0zM649.5 217.7a2.35 2.35 0 1 0 4.7 0a2.35 2.35 0 1 0 -4.7 0zM658.9 212.7a2.35 2.35 0 1 0 4.7 0a2.35 2.35 0 1 0 -4.7 0zM654.9 230.1a2.35 2.35 0 1 0 4.7 0a2.35 2.35 0 1 0 -4.7 0zM654.7 205.6a2.35 2.35 0 1 0 4.7 0a2.35 2.35 0 1 0 -4.7 0zM663.2 226.6a2.35 2.35 0 1 0 4.7 0a2.35 2.35 0 1 0 -4.7 0zM712.6 189.6a2.35 2.35 0 1 0 4.7 0a2.35 2.35 0 1 0 -4.7 0zM702.1 208.0a2.35 2.35 0 1 0 4.7 0a2.35 2.35 0 1 0 -4.7 0zM711.5 230.6a2.35 2.35 0 1 0 4.7 0a2.35 2.35 0 1 0 -4.7 0zM697.2 194.3a2.35 2.35 0 1 0 4.7 0a2.35 2.35 0 1 0 -4.7 0zM714.5 220.8a2.35 2.35 0 1 0 4.7 0a2.35 2.35 0 1 0 -4.7 0zM695.3 230.3a2.35 2.35 0 1 0 4.7 0a2.35 2.35 0 1 0 -4.7 0zM701.0 230.7a2.35 2.35 0 1 0 4.7 0a2.35 2.35 0 1 0 -4.7 0zM706.3 215.1a2.35 2.35 0 1 0 4.7 0a2.35 2.35 0 1 0 -4.7 0zM697.6 229.6a2.35 2.35 0 1 0 4.7 0a2.35 2.35 0 1 0 -4.7 0zM712.0 223.4a2.35 2.35 0 1 0 4.7 0a2.35 2.35 0 1 0 -4.7 0zM691.3 220.6a2.35 2.35 0 1 0 4.7 0a2.35 2.35 0 1 0 -4.7 0zM692.9 194.0a2.35 2.35 0 1 0 4.7 0a2.35 2.35 0 1 0 -4.7 0zM709.0 211.9a2.35 2.35 0 1 0 4.7 0a2.35 2.35 0 1 0 -4.7 0zM701.5 207.5a2.35 2.35 0 1 0 4.7 0a2.35 2.35 0 1 0 -4.7 0zM715.8 207.4a2.35 2.35 0 1 0 4.7 0a2.35 2.35 0 1 0 -4.7 0zM697.9 228.9a2.35 2.35 0 1 0 4.7 0a2.35 2.35 0 1 0 -4.7 0zM709.8 187.1a2.35 2.35 0 1 0 4.7 0a2.35 2.35 0 1 0 -4.7 0zM705.0 223.9a2.35 2.35 0 1 0 4.7 0a2.35 2.35 0 1 0 -4.7 0zM697.4 221.4a2.35 2.35 0 1 0 4.7 0a2.35 2.35 0 1 0 -4.7 0zM712.2 199.5a2.35 2.35 0 1 0 4.7 0a2.35 2.35 0 1 0 -4.7 0zM711.8 220.4a2.35 2.35 0 1 0 4.7 0a2.35 2.35 0 1 0 -4.7 0zM701.9 226.9a2.35 2.35 0 1 0 4.7 0a2.35 2.35 0 1 0 -4.7 0zM717.5 187.3a2.35 2.35 0 1 0 4.7 0a2.35 2.35 0 1 0 -4.7 0zM694.3 223.0a2.35 2.35 0 1 0 4.7 0a2.35 2.35 0 1 0 -4.7 0zM706.3 228.8a2.35 2.35 0 1 0 4.7 0a2.35 2.35 0 1 0 -4.7 0zM715.2 212.3a2.35 2.35 0 1 0 4.7 0a2.35 2.35 0 1 0 -4.7 0zM706.2 228.1a2.35 2.35 0 1 0 4.7 0a2.35 2.35 0 1 0 -4.7 0zM696.2 203.4a2.35 2.35 0 1 0 4.7 0a2.35 2.35 0 1 0 -4.7 0zM692.4 204.9a2.35 2.35 0 1 0 4.7 0a2.35 2.35 0 1 0 -4.7 0zM710.4 222.9a2.35 2.35 0 1 0 4.7 0a2.35 2.35 0 1 0 -4.7 0zM717.5 209.8a2.35 2.35 0 1 0 4.7 0a2.35 2.35 0 1 0 -4.7 0zM715.3 200.9a2.35 2.35 0 1 0 4.7 0a2.35 2.35 0 1 0 -4.7 0zM716.4 221.6a2.35 2.35 0 1 0 4.7 0a2.35 2.35 0 1 0 -4.7 0zM705.9 198.4a2.35 2.35 0 1 0 4.7 0a2.35 2.35 0 1 0 -4.7 0zM696.4 186.2a2.35 2.35 0 1 0 4.7 0a2.35 2.35 0 1 0 -4.7 0zM702.2 197.5a2.35 2.35 0 1 0 4.7 0a2.35 2.35 0 1 0 -4.7 0zM713.7 210.6a2.35 2.35 0 1 0 4.7 0a2.35 2.35 0 1 0 -4.7 0zM699.1 183.6a2.35 2.35 0 1 0 4.7 0a2.35 2.35 0 1 0 -4.7 0zM713.8 217.1a2.35 2.35 0 1 0 4.7 0a2.35 2.35 0 1 0 -4.7 0zM692.0 197.4a2.35 2.35 0 1 0 4.7 0a2.35 2.35 0 1 0 -4.7 0zM714.1 201.1a2.35 2.35 0 1 0 4.7 0a2.35 2.35 0 1 0 -4.7 0zM698.9 230.6a2.35 2.35 0 1 0 4.7 0a2.35 2.35 0 1 0 -4.7 0zM703.3 230.7a2.35 2.35 0 1 0 4.7 0a2.35 2.35 0 1 0 -4.7 0zM699.9 223.3a2.35 2.35 0 1 0 4.7 0a2.35 2.35 0 1 0 -4.7 0zM700.5 186.7a2.35 2.35 0 1 0 4.7 0a2.35 2.35 0 1 0 -4.7 0zM703.4 183.4a2.35 2.35 0 1 0 4.7 0a2.35 2.35 0 1 0 -4.7 0zM699.5 230.3a2.35 2.35 0 1 0 4.7 0a2.35 2.35 0 1 0 -4.7 0zM717.4 230.0a2.35 2.35 0 1 0 4.7 0a2.35 2.35 0 1 0 -4.7 0zM707.5 229.4a2.35 2.35 0 1 0 4.7 0a2.35 2.35 0 1 0 -4.7 0zM700.7 224.9a2.35 2.35 0 1 0 4.7 0a2.35 2.35 0 1 0 -4.7 0zM715.2 224.9a2.35 2.35 0 1 0 4.7 0a2.35 2.35 0 1 0 -4.7 0zM712.7 213.4a2.35 2.35 0 1 0 4.7 0a2.35 2.35 0 1 0 -4.7 0zM702.3 218.2a2.35 2.35 0 1 0 4.7 0a2.35 2.35 0 1 0 -4.7 0zM694.7 224.2a2.35 2.35 0 1 0 4.7 0a2.35 2.35 0 1 0 -4.7 0zM707.0 213.4a2.35 2.35 0 1 0 4.7 0a2.35 2.35 0 1 0 -4.7 0zM690.3 230.8a2.35 2.35 0 1 0 4.7 0a2.35 2.35 0 1 0 -4.7 0zM698.8 182.3a2.35 2.35 0 1 0 4.7 0a2.35 2.35 0 1 0 -4.7 0zM711.8 184.6a2.35 2.35 0 1 0 4.7 0a2.35 2.35 0 1 0 -4.7 0zM703.6 214.0a2.35 2.35 0 1 0 4.7 0a2.35 2.35 0 1 0 -4.7 0zM700.5 212.4a2.35 2.35 0 1 0 4.7 0a2.35 2.35 0 1 0 -4.7 0zM715.4 228.3a2.35 2.35 0 1 0 4.7 0a2.35 2.35 0 1 0 -4.7 0zM708.3 216.8a2.35 2.35 0 1 0 4.7 0a2.35 2.35 0 1 0 -4.7 0zM710.4 189.3a2.35 2.35 0 1 0 4.7 0a2.35 2.35 0 1 0 -4.7 0zM706.5 208.9a2.35 2.35 0 1 0 4.7 0a2.35 2.35 0 1 0 -4.7 0zM694.5 194.4a2.35 2.35 0 1 0 4.7 0a2.35 2.35 0 1 0 -4.7 0zM691.9 227.2a2.35 2.35 0 1 0 4.7 0a2.35 2.35 0 1 0 -4.7 0zM708.7 210.3a2.35 2.35 0 1 0 4.7 0a2.35 2.35 0 1 0 -4.7 0zM708.6 216.3a2.35 2.35 0 1 0 4.7 0a2.35 2.35 0 1 0 -4.7 0zM709.6 229.9a2.35 2.35 0 1 0 4.7 0a2.35 2.35 0 1 0 -4.7 0zM698.1 224.3a2.35 2.35 0 1 0 4.7 0a2.35 2.35 0 1 0 -4.7 0zM691.8 205.6a2.35 2.35 0 1 0 4.7 0a2.35 2.35 0 1 0 -4.7 0zM711.5 197.7a2.35 2.35 0 1 0 4.7 0a2.35 2.35 0 1 0 -4.7 0zM722.7 208.5a2.35 2.35 0 1 0 4.7 0a2.35 2.35 0 1 0 -4.7 0zM726.4 227.7a2.35 2.35 0 1 0 4.7 0a2.35 2.35 0 1 0 -4.7 0zM739.1 212.8a2.35 2.35 0 1 0 4.7 0a2.35 2.35 0 1 0 -4.7 0zM740.4 223.6a2.35 2.35 0 1 0 4.7 0a2.35 2.35 0 1 0 -4.7 0zM722.6 216.2a2.35 2.35 0 1 0 4.7 0a2.35 2.35 0 1 0 -4.7 0zM726.2 214.8a2.35 2.35 0 1 0 4.7 0a2.35 2.35 0 1 0 -4.7 0zM727.2 228.0a2.35 2.35 0 1 0 4.7 0a2.35 2.35 0 1 0 -4.7 0zM741.6 220.7a2.35 2.35 0 1 0 4.7 0a2.35 2.35 0 1 0 -4.7 0zM738.0 221.9a2.35 2.35 0 1 0 4.7 0a2.35 2.35 0 1 0 -4.7 0zM728.7 191.5a2.35 2.35 0 1 0 4.7 0a2.35 2.35 0 1 0 -4.7 0zM741.7 226.4a2.35 2.35 0 1 0 4.7 0a2.35 2.35 0 1 0 -4.7 0zM721.3 213.7a2.35 2.35 0 1 0 4.7 0a2.35 2.35 0 1 0 -4.7 0zM725.5 224.7a2.35 2.35 0 1 0 4.7 0a2.35 2.35 0 1 0 -4.7 0zM742.3 195.3a2.35 2.35 0 1 0 4.7 0a2.35 2.35 0 1 0 -4.7 0zM733.1 202.1a2.35 2.35 0 1 0 4.7 0a2.35 2.35 0 1 0 -4.7 0zM737.0 220.2a2.35 2.35 0 1 0 4.7 0a2.35 2.35 0 1 0 -4.7 0zM725.1 190.5a2.35 2.35 0 1 0 4.7 0a2.35 2.35 0 1 0 -4.7 0zM735.8 209.6a2.35 2.35 0 1 0 4.7 0a2.35 2.35 0 1 0 -4.7 0zM733.9 197.9a2.35 2.35 0 1 0 4.7 0a2.35 2.35 0 1 0 -4.7 0zM731.5 196.7a2.35 2.35 0 1 0 4.7 0a2.35 2.35 0 1 0 -4.7 0zM734.8 229.8a2.35 2.35 0 1 0 4.7 0a2.35 2.35 0 1 0 -4.7 0zM737.4 219.6a2.35 2.35 0 1 0 4.7 0a2.35 2.35 0 1 0 -4.7 0zM734.9 222.1a2.35 2.35 0 1 0 4.7 0a2.35 2.35 0 1 0 -4.7 0zM721.0 213.1a2.35 2.35 0 1 0 4.7 0a2.35 2.35 0 1 0 -4.7 0zM720.3 229.1a2.35 2.35 0 1 0 4.7 0a2.35 2.35 0 1 0 -4.7 0zM725.9 217.7a2.35 2.35 0 1 0 4.7 0a2.35 2.35 0 1 0 -4.7 0zM740.7 211.3a2.35 2.35 0 1 0 4.7 0a2.35 2.35 0 1 0 -4.7 0zM729.2 227.7a2.35 2.35 0 1 0 4.7 0a2.35 2.35 0 1 0 -4.7 0zM722.0 192.9a2.35 2.35 0 1 0 4.7 0a2.35 2.35 0 1 0 -4.7 0zM736.0 214.9a2.35 2.35 0 1 0 4.7 0a2.35 2.35 0 1 0 -4.7 0zM728.3 230.0a2.35 2.35 0 1 0 4.7 0a2.35 2.35 0 1 0 -4.7 0zM723.7 202.9a2.35 2.35 0 1 0 4.7 0a2.35 2.35 0 1 0 -4.7 0zM727.1 205.7a2.35 2.35 0 1 0 4.7 0a2.35 2.35 0 1 0 -4.7 0zM726.0 208.0a2.35 2.35 0 1 0 4.7 0a2.35 2.35 0 1 0 -4.7 0zM738.8 226.7a2.35 2.35 0 1 0 4.7 0a2.35 2.35 0 1 0 -4.7 0zM721.3 225.6a2.35 2.35 0 1 0 4.7 0a2.35 2.35 0 1 0 -4.7 0zM741.7 204.1a2.35 2.35 0 1 0 4.7 0a2.35 2.35 0 1 0 -4.7 0zM728.4 194.2a2.35 2.35 0 1 0 4.7 0a2.35 2.35 0 1 0 -4.7 0zM767.0 211.3a2.35 2.35 0 1 0 4.7 0a2.35 2.35 0 1 0 -4.7 0zM764.2 223.8a2.35 2.35 0 1 0 4.7 0a2.35 2.35 0 1 0 -4.7 0zM773.2 230.6a2.35 2.35 0 1 0 4.7 0a2.35 2.35 0 1 0 -4.7 0zM775.1 229.3a2.35 2.35 0 1 0 4.7 0a2.35 2.35 0 1 0 -4.7 0zM767.5 228.8a2.35 2.35 0 1 0 4.7 0a2.35 2.35 0 1 0 -4.7 0zM772.0 203.6a2.35 2.35 0 1 0 4.7 0a2.35 2.35 0 1 0 -4.7 0zM761.8 229.4a2.35 2.35 0 1 0 4.7 0a2.35 2.35 0 1 0 -4.7 0zM772.9 230.1a2.35 2.35 0 1 0 4.7 0a2.35 2.35 0 1 0 -4.7 0zM774.4 223.8a2.35 2.35 0 1 0 4.7 0a2.35 2.35 0 1 0 -4.7 0zM772.2 230.7a2.35 2.35 0 1 0 4.7 0a2.35 2.35 0 1 0 -4.7 0zM766.6 230.1a2.35 2.35 0 1 0 4.7 0a2.35 2.35 0 1 0 -4.7 0zM769.3 215.4a2.35 2.35 0 1 0 4.7 0a2.35 2.35 0 1 0 -4.7 0zM770.7 225.4a2.35 2.35 0 1 0 4.7 0a2.35 2.35 0 1 0 -4.7 0zM762.9 207.6a2.35 2.35 0 1 0 4.7 0a2.35 2.35 0 1 0 -4.7 0zM765.5 205.8a2.35 2.35 0 1 0 4.7 0a2.35 2.35 0 1 0 -4.7 0zM761.3 225.1a2.35 2.35 0 1 0 4.7 0a2.35 2.35 0 1 0 -4.7 0zM764.2 202.5a2.35 2.35 0 1 0 4.7 0a2.35 2.35 0 1 0 -4.7 0zM776.2 225.6a2.35 2.35 0 1 0 4.7 0a2.35 2.35 0 1 0 -4.7 0zM772.3 226.2a2.35 2.35 0 1 0 4.7 0a2.35 2.35 0 1 0 -4.7 0zM773.5 225.5a2.35 2.35 0 1 0 4.7 0a2.35 2.35 0 1 0 -4.7 0zM771.2 221.4a2.35 2.35 0 1 0 4.7 0a2.35 2.35 0 1 0 -4.7 0zM774.1 229.8a2.35 2.35 0 1 0 4.7 0a2.35 2.35 0 1 0 -4.7 0zM758.3 207.3a2.35 2.35 0 1 0 4.7 0a2.35 2.35 0 1 0 -4.7 0zM761.8 230.9a2.35 2.35 0 1 0 4.7 0a2.35 2.35 0 1 0 -4.7 0zM758.0 226.3a2.35 2.35 0 1 0 4.7 0a2.35 2.35 0 1 0 -4.7 0zM789.7 198.1a2.35 2.35 0 1 0 4.7 0a2.35 2.35 0 1 0 -4.7 0zM792.4 230.3a2.35 2.35 0 1 0 4.7 0a2.35 2.35 0 1 0 -4.7 0zM789.8 209.5a2.35 2.35 0 1 0 4.7 0a2.35 2.35 0 1 0 -4.7 0zM793.0 228.1a2.35 2.35 0 1 0 4.7 0a2.35 2.35 0 1 0 -4.7 0zM782.2 228.6a2.35 2.35 0 1 0 4.7 0a2.35 2.35 0 1 0 -4.7 0zM779.7 189.7a2.35 2.35 0 1 0 4.7 0a2.35 2.35 0 1 0 -4.7 0zM779.4 213.8a2.35 2.35 0 1 0 4.7 0a2.35 2.35 0 1 0 -4.7 0zM792.3 201.7a2.35 2.35 0 1 0 4.7 0a2.35 2.35 0 1 0 -4.7 0zM781.3 228.2a2.35 2.35 0 1 0 4.7 0a2.35 2.35 0 1 0 -4.7 0zM780.3 202.5a2.35 2.35 0 1 0 4.7 0a2.35 2.35 0 1 0 -4.7 0zM781.3 229.4a2.35 2.35 0 1 0 4.7 0a2.35 2.35 0 1 0 -4.7 0zM790.0 205.2a2.35 2.35 0 1 0 4.7 0a2.35 2.35 0 1 0 -4.7 0zM783.3 230.4a2.35 2.35 0 1 0 4.7 0a2.35 2.35 0 1 0 -4.7 0zM779.7 219.1a2.35 2.35 0 1 0 4.7 0a2.35 2.35 0 1 0 -4.7 0zM780.8 230.9a2.35 2.35 0 1 0 4.7 0a2.35 2.35 0 1 0 -4.7 0zM778.2 228.9a2.35 2.35 0 1 0 4.7 0a2.35 2.35 0 1 0 -4.7 0zM781.9 230.8a2.35 2.35 0 1 0 4.7 0a2.35 2.35 0 1 0 -4.7 0zM782.2 229.2a2.35 2.35 0 1 0 4.7 0a2.35 2.35 0 1 0 -4.7 0zM780.4 217.7a2.35 2.35 0 1 0 4.7 0a2.35 2.35 0 1 0 -4.7 0zM791.3 224.1a2.35 2.35 0 1 0 4.7 0a2.35 2.35 0 1 0 -4.7 0zM793.4 193.9a2.35 2.35 0 1 0 4.7 0a2.35 2.35 0 1 0 -4.7 0zM789.0 228.7a2.35 2.35 0 1 0 4.7 0a2.35 2.35 0 1 0 -4.7 0zM788.4 227.0a2.35 2.35 0 1 0 4.7 0a2.35 2.35 0 1 0 -4.7 0zM790.9 223.9a2.35 2.35 0 1 0 4.7 0a2.35 2.35 0 1 0 -4.7 0zM784.0 215.8a2.35 2.35 0 1 0 4.7 0a2.35 2.35 0 1 0 -4.7 0zM793.9 221.8a2.35 2.35 0 1 0 4.7 0a2.35 2.35 0 1 0 -4.7 0zM785.7 230.6a2.35 2.35 0 1 0 4.7 0a2.35 2.35 0 1 0 -4.7 0zM790.7 182.5a2.35 2.35 0 1 0 4.7 0a2.35 2.35 0 1 0 -4.7 0zM778.3 218.4a2.35 2.35 0 1 0 4.7 0a2.35 2.35 0 1 0 -4.7 0zM794.8 212.2a2.35 2.35 0 1 0 4.7 0a2.35 2.35 0 1 0 -4.7 0zM794.8 182.5a2.35 2.35 0 1 0 4.7 0a2.35 2.35 0 1 0 -4.7 0zM787.8 198.0a2.35 2.35 0 1 0 4.7 0a2.35 2.35 0 1 0 -4.7 0zM797.1 204.0a2.35 2.35 0 1 0 4.7 0a2.35 2.35 0 1 0 -4.7 0zM797.2 228.6a2.35 2.35 0 1 0 4.7 0a2.35 2.35 0 1 0 -4.7 0zM796.7 216.7a2.35 2.35 0 1 0 4.7 0a2.35 2.35 0 1 0 -4.7 0zM778.5 224.9a2.35 2.35 0 1 0 4.7 0a2.35 2.35 0 1 0 -4.7 0zM781.2 227.0a2.35 2.35 0 1 0 4.7 0a2.35 2.35 0 1 0 -4.7 0zM786.9 224.5a2.35 2.35 0 1 0 4.7 0a2.35 2.35 0 1 0 -4.7 0zM790.6 229.2a2.35 2.35 0 1 0 4.7 0a2.35 2.35 0 1 0 -4.7 0zM788.4 196.1a2.35 2.35 0 1 0 4.7 0a2.35 2.35 0 1 0 -4.7 0zM784.8 230.8a2.35 2.35 0 1 0 4.7 0a2.35 2.35 0 1 0 -4.7 0zM785.1 182.9a2.35 2.35 0 1 0 4.7 0a2.35 2.35 0 1 0 -4.7 0zM784.8 210.5a2.35 2.35 0 1 0 4.7 0a2.35 2.35 0 1 0 -4.7 0zM791.5 190.8a2.35 2.35 0 1 0 4.7 0a2.35 2.35 0 1 0 -4.7 0zM794.3 199.5a2.35 2.35 0 1 0 4.7 0a2.35 2.35 0 1 0 -4.7 0zM790.5 230.9a2.35 2.35 0 1 0 4.7 0a2.35 2.35 0 1 0 -4.7 0zM784.0 199.8a2.35 2.35 0 1 0 4.7 0a2.35 2.35 0 1 0 -4.7 0zM779.0 227.4a2.35 2.35 0 1 0 4.7 0a2.35 2.35 0 1 0 -4.7 0zM784.4 207.8a2.35 2.35 0 1 0 4.7 0a2.35 2.35 0 1 0 -4.7 0zM792.9 195.0a2.35 2.35 0 1 0 4.7 0a2.35 2.35 0 1 0 -4.7 0zM797.0 225.0a2.35 2.35 0 1 0 4.7 0a2.35 2.35 0 1 0 -4.7 0zM795.3 230.5a2.35 2.35 0 1 0 4.7 0a2.35 2.35 0 1 0 -4.7 0zM780.5 211.7a2.35 2.35 0 1 0 4.7 0a2.35 2.35 0 1 0 -4.7 0zM788.5 221.6a2.35 2.35 0 1 0 4.7 0a2.35 2.35 0 1 0 -4.7 0zM783.5 230.4a2.35 2.35 0 1 0 4.7 0a2.35 2.35 0 1 0 -4.7 0zM799.4 211.4a2.35 2.35 0 1 0 4.7 0a2.35 2.35 0 1 0 -4.7 0zM805.3 228.4a2.35 2.35 0 1 0 4.7 0a2.35 2.35 0 1 0 -4.7 0zM805.3 230.1a2.35 2.35 0 1 0 4.7 0a2.35 2.35 0 1 0 -4.7 0zM808.3 218.5a2.35 2.35 0 1 0 4.7 0a2.35 2.35 0 1 0 -4.7 0zM806.7 230.8a2.35 2.35 0 1 0 4.7 0a2.35 2.35 0 1 0 -4.7 0zM809.9 192.9a2.35 2.35 0 1 0 4.7 0a2.35 2.35 0 1 0 -4.7 0zM809.8 191.8a2.35 2.35 0 1 0 4.7 0a2.35 2.35 0 1 0 -4.7 0zM806.3 230.6a2.35 2.35 0 1 0 4.7 0a2.35 2.35 0 1 0 -4.7 0zM806.9 224.5a2.35 2.35 0 1 0 4.7 0a2.35 2.35 0 1 0 -4.7 0zM811.1 228.2a2.35 2.35 0 1 0 4.7 0a2.35 2.35 0 1 0 -4.7 0zM810.2 195.8a2.35 2.35 0 1 0 4.7 0a2.35 2.35 0 1 0 -4.7 0zM811.5 193.7a2.35 2.35 0 1 0 4.7 0a2.35 2.35 0 1 0 -4.7 0zM802.7 229.6a2.35 2.35 0 1 0 4.7 0a2.35 2.35 0 1 0 -4.7 0zM807.6 230.9a2.35 2.35 0 1 0 4.7 0a2.35 2.35 0 1 0 -4.7 0zM801.0 230.6a2.35 2.35 0 1 0 4.7 0a2.35 2.35 0 1 0 -4.7 0zM811.4 225.5a2.35 2.35 0 1 0 4.7 0a2.35 2.35 0 1 0 -4.7 0zM803.7 228.5a2.35 2.35 0 1 0 4.7 0a2.35 2.35 0 1 0 -4.7 0zM807.7 226.1a2.35 2.35 0 1 0 4.7 0a2.35 2.35 0 1 0 -4.7 0zM805.3 230.9a2.35 2.35 0 1 0 4.7 0a2.35 2.35 0 1 0 -4.7 0zM800.9 228.6a2.35 2.35 0 1 0 4.7 0a2.35 2.35 0 1 0 -4.7 0zM799.1 217.9a2.35 2.35 0 1 0 4.7 0a2.35 2.35 0 1 0 -4.7 0zM804.7 205.8a2.35 2.35 0 1 0 4.7 0a2.35 2.35 0 1 0 -4.7 0zM806.0 230.9a2.35 2.35 0 1 0 4.7 0a2.35 2.35 0 1 0 -4.7 0zM799.6 191.7a2.35 2.35 0 1 0 4.7 0a2.35 2.35 0 1 0 -4.7 0zM799.1 201.2a2.35 2.35 0 1 0 4.7 0a2.35 2.35 0 1 0 -4.7 0zM807.1 201.9a2.35 2.35 0 1 0 4.7 0a2.35 2.35 0 1 0 -4.7 0zM809.8 230.2a2.35 2.35 0 1 0 4.7 0a2.35 2.35 0 1 0 -4.7 0zM811.3 223.9a2.35 2.35 0 1 0 4.7 0a2.35 2.35 0 1 0 -4.7 0zM811.8 209.5a2.35 2.35 0 1 0 4.7 0a2.35 2.35 0 1 0 -4.7 0zM828.7 230.6a2.35 2.35 0 1 0 4.7 0a2.35 2.35 0 1 0 -4.7 0zM837.3 214.2a2.35 2.35 0 1 0 4.7 0a2.35 2.35 0 1 0 -4.7 0zM853.8 230.7a2.35 2.35 0 1 0 4.7 0a2.35 2.35 0 1 0 -4.7 0zM828.7 228.0a2.35 2.35 0 1 0 4.7 0a2.35 2.35 0 1 0 -4.7 0zM848.5 195.2a2.35 2.35 0 1 0 4.7 0a2.35 2.35 0 1 0 -4.7 0zM840.0 227.7a2.35 2.35 0 1 0 4.7 0a2.35 2.35 0 1 0 -4.7 0zM855.1 225.7a2.35 2.35 0 1 0 4.7 0a2.35 2.35 0 1 0 -4.7 0zM843.5 214.0a2.35 2.35 0 1 0 4.7 0a2.35 2.35 0 1 0 -4.7 0zM834.6 195.0a2.35 2.35 0 1 0 4.7 0a2.35 2.35 0 1 0 -4.7 0zM850.9 223.1a2.35 2.35 0 1 0 4.7 0a2.35 2.35 0 1 0 -4.7 0zM836.4 230.7a2.35 2.35 0 1 0 4.7 0a2.35 2.35 0 1 0 -4.7 0zM832.6 220.3a2.35 2.35 0 1 0 4.7 0a2.35 2.35 0 1 0 -4.7 0zM855.2 228.9a2.35 2.35 0 1 0 4.7 0a2.35 2.35 0 1 0 -4.7 0zM843.0 195.3a2.35 2.35 0 1 0 4.7 0a2.35 2.35 0 1 0 -4.7 0zM836.0 198.7a2.35 2.35 0 1 0 4.7 0a2.35 2.35 0 1 0 -4.7 0zM832.9 229.4a2.35 2.35 0 1 0 4.7 0a2.35 2.35 0 1 0 -4.7 0zM851.9 214.3a2.35 2.35 0 1 0 4.7 0a2.35 2.35 0 1 0 -4.7 0zM833.7 193.7a2.35 2.35 0 1 0 4.7 0a2.35 2.35 0 1 0 -4.7 0zM829.9 197.8a2.35 2.35 0 1 0 4.7 0a2.35 2.35 0 1 0 -4.7 0zM858.2 230.0a2.35 2.35 0 1 0 4.7 0a2.35 2.35 0 1 0 -4.7 0zM830.0 225.2a2.35 2.35 0 1 0 4.7 0a2.35 2.35 0 1 0 -4.7 0zM859.8 199.1a2.35 2.35 0 1 0 4.7 0a2.35 2.35 0 1 0 -4.7 0zM850.6 223.1a2.35 2.35 0 1 0 4.7 0a2.35 2.35 0 1 0 -4.7 0zM839.5 221.1a2.35 2.35 0 1 0 4.7 0a2.35 2.35 0 1 0 -4.7 0zM838.4 219.6a2.35 2.35 0 1 0 4.7 0a2.35 2.35 0 1 0 -4.7 0zM834.1 230.9a2.35 2.35 0 1 0 4.7 0a2.35 2.35 0 1 0 -4.7 0zM835.9 207.2a2.35 2.35 0 1 0 4.7 0a2.35 2.35 0 1 0 -4.7 0zM838.4 210.9a2.35 2.35 0 1 0 4.7 0a2.35 2.35 0 1 0 -4.7 0zM850.1 214.0a2.35 2.35 0 1 0 4.7 0a2.35 2.35 0 1 0 -4.7 0zM842.7 226.0a2.35 2.35 0 1 0 4.7 0a2.35 2.35 0 1 0 -4.7 0zM854.5 216.5a2.35 2.35 0 1 0 4.7 0a2.35 2.35 0 1 0 -4.7 0zM842.9 210.7a2.35 2.35 0 1 0 4.7 0a2.35 2.35 0 1 0 -4.7 0zM836.5 197.0a2.35 2.35 0 1 0 4.7 0a2.35 2.35 0 1 0 -4.7 0zM844.4 207.7a2.35 2.35 0 1 0 4.7 0a2.35 2.35 0 1 0 -4.7 0zM830.5 220.3a2.35 2.35 0 1 0 4.7 0a2.35 2.35 0 1 0 -4.7 0zM830.7 230.1a2.35 2.35 0 1 0 4.7 0a2.35 2.35 0 1 0 -4.7 0zM849.8 226.1a2.35 2.35 0 1 0 4.7 0a2.35 2.35 0 1 0 -4.7 0zM856.3 228.6a2.35 2.35 0 1 0 4.7 0a2.35 2.35 0 1 0 -4.7 0zM835.0 225.7a2.35 2.35 0 1 0 4.7 0a2.35 2.35 0 1 0 -4.7 0zM827.3 230.8a2.35 2.35 0 1 0 4.7 0a2.35 2.35 0 1 0 -4.7 0zM846.5 217.9a2.35 2.35 0 1 0 4.7 0a2.35 2.35 0 1 0 -4.7 0zM842.4 230.8a2.35 2.35 0 1 0 4.7 0a2.35 2.35 0 1 0 -4.7 0zM847.7 225.6a2.35 2.35 0 1 0 4.7 0a2.35 2.35 0 1 0 -4.7 0zM836.6 189.6a2.35 2.35 0 1 0 4.7 0a2.35 2.35 0 1 0 -4.7 0zM843.9 228.9a2.35 2.35 0 1 0 4.7 0a2.35 2.35 0 1 0 -4.7 0zM855.3 222.1a2.35 2.35 0 1 0 4.7 0a2.35 2.35 0 1 0 -4.7 0zM873.8 222.8a2.35 2.35 0 1 0 4.7 0a2.35 2.35 0 1 0 -4.7 0zM871.6 201.5a2.35 2.35 0 1 0 4.7 0a2.35 2.35 0 1 0 -4.7 0zM860.7 222.3a2.35 2.35 0 1 0 4.7 0a2.35 2.35 0 1 0 -4.7 0zM861.9 209.4a2.35 2.35 0 1 0 4.7 0a2.35 2.35 0 1 0 -4.7 0zM857.0 199.4a2.35 2.35 0 1 0 4.7 0a2.35 2.35 0 1 0 -4.7 0zM856.7 218.6a2.35 2.35 0 1 0 4.7 0a2.35 2.35 0 1 0 -4.7 0zM871.6 222.3a2.35 2.35 0 1 0 4.7 0a2.35 2.35 0 1 0 -4.7 0zM859.3 230.2a2.35 2.35 0 1 0 4.7 0a2.35 2.35 0 1 0 -4.7 0zM856.3 200.1a2.35 2.35 0 1 0 4.7 0a2.35 2.35 0 1 0 -4.7 0zM877.2 201.1a2.35 2.35 0 1 0 4.7 0a2.35 2.35 0 1 0 -4.7 0zM857.6 202.9a2.35 2.35 0 1 0 4.7 0a2.35 2.35 0 1 0 -4.7 0zM866.2 225.2a2.35 2.35 0 1 0 4.7 0a2.35 2.35 0 1 0 -4.7 0zM870.0 212.2a2.35 2.35 0 1 0 4.7 0a2.35 2.35 0 1 0 -4.7 0zM871.9 230.9a2.35 2.35 0 1 0 4.7 0a2.35 2.35 0 1 0 -4.7 0zM868.7 197.9a2.35 2.35 0 1 0 4.7 0a2.35 2.35 0 1 0 -4.7 0zM870.1 215.6a2.35 2.35 0 1 0 4.7 0a2.35 2.35 0 1 0 -4.7 0zM855.8 211.3a2.35 2.35 0 1 0 4.7 0a2.35 2.35 0 1 0 -4.7 0zM859.6 227.0a2.35 2.35 0 1 0 4.7 0a2.35 2.35 0 1 0 -4.7 0zM867.3 230.9a2.35 2.35 0 1 0 4.7 0a2.35 2.35 0 1 0 -4.7 0zM868.7 215.4a2.35 2.35 0 1 0 4.7 0a2.35 2.35 0 1 0 -4.7 0zM862.7 206.7a2.35 2.35 0 1 0 4.7 0a2.35 2.35 0 1 0 -4.7 0zM868.6 222.2a2.35 2.35 0 1 0 4.7 0a2.35 2.35 0 1 0 -4.7 0zM868.1 230.9a2.35 2.35 0 1 0 4.7 0a2.35 2.35 0 1 0 -4.7 0zM866.3 229.7a2.35 2.35 0 1 0 4.7 0a2.35 2.35 0 1 0 -4.7 0zM868.2 217.0a2.35 2.35 0 1 0 4.7 0a2.35 2.35 0 1 0 -4.7 0zM876.7 211.8a2.35 2.35 0 1 0 4.7 0a2.35 2.35 0 1 0 -4.7 0zM871.7 230.5a2.35 2.35 0 1 0 4.7 0a2.35 2.35 0 1 0 -4.7 0zM871.1 198.3a2.35 2.35 0 1 0 4.7 0a2.35 2.35 0 1 0 -4.7 0zM869.2 230.8a2.35 2.35 0 1 0 4.7 0a2.35 2.35 0 1 0 -4.7 0zM875.0 215.9a2.35 2.35 0 1 0 4.7 0a2.35 2.35 0 1 0 -4.7 0zM864.5 229.0a2.35 2.35 0 1 0 4.7 0a2.35 2.35 0 1 0 -4.7 0zM868.9 221.6a2.35 2.35 0 1 0 4.7 0a2.35 2.35 0 1 0 -4.7 0zM857.4 230.9a2.35 2.35 0 1 0 4.7 0a2.35 2.35 0 1 0 -4.7 0zM873.3 225.0a2.35 2.35 0 1 0 4.7 0a2.35 2.35 0 1 0 -4.7 0zM876.1 230.1a2.35 2.35 0 1 0 4.7 0a2.35 2.35 0 1 0 -4.7 0zM859.5 230.5a2.35 2.35 0 1 0 4.7 0a2.35 2.35 0 1 0 -4.7 0zM876.2 230.9a2.35 2.35 0 1 0 4.7 0a2.35 2.35 0 1 0 -4.7 0zM859.0 220.4a2.35 2.35 0 1 0 4.7 0a2.35 2.35 0 1 0 -4.7 0zM894.4 225.7a2.35 2.35 0 1 0 4.7 0a2.35 2.35 0 1 0 -4.7 0zM893.2 230.4a2.35 2.35 0 1 0 4.7 0a2.35 2.35 0 1 0 -4.7 0zM900.9 207.6a2.35 2.35 0 1 0 4.7 0a2.35 2.35 0 1 0 -4.7 0zM894.5 205.8a2.35 2.35 0 1 0 4.7 0a2.35 2.35 0 1 0 -4.7 0zM899.0 227.2a2.35 2.35 0 1 0 4.7 0a2.35 2.35 0 1 0 -4.7 0zM912.3 201.6a2.35 2.35 0 1 0 4.7 0a2.35 2.35 0 1 0 -4.7 0zM895.8 230.2a2.35 2.35 0 1 0 4.7 0a2.35 2.35 0 1 0 -4.7 0zM906.6 198.0a2.35 2.35 0 1 0 4.7 0a2.35 2.35 0 1 0 -4.7 0zM913.6 230.3a2.35 2.35 0 1 0 4.7 0a2.35 2.35 0 1 0 -4.7 0zM897.9 197.2a2.35 2.35 0 1 0 4.7 0a2.35 2.35 0 1 0 -4.7 0zM911.0 222.5a2.35 2.35 0 1 0 4.7 0a2.35 2.35 0 1 0 -4.7 0zM893.6 226.2a2.35 2.35 0 1 0 4.7 0a2.35 2.35 0 1 0 -4.7 0zM911.5 218.3a2.35 2.35 0 1 0 4.7 0a2.35 2.35 0 1 0 -4.7 0zM901.0 205.1a2.35 2.35 0 1 0 4.7 0a2.35 2.35 0 1 0 -4.7 0zM894.0 227.4a2.35 2.35 0 1 0 4.7 0a2.35 2.35 0 1 0 -4.7 0zM907.6 218.9a2.35 2.35 0 1 0 4.7 0a2.35 2.35 0 1 0 -4.7 0zM908.2 207.0a2.35 2.35 0 1 0 4.7 0a2.35 2.35 0 1 0 -4.7 0zM895.9 224.3a2.35 2.35 0 1 0 4.7 0a2.35 2.35 0 1 0 -4.7 0zM909.7 208.5a2.35 2.35 0 1 0 4.7 0a2.35 2.35 0 1 0 -4.7 0zM908.1 230.7a2.35 2.35 0 1 0 4.7 0a2.35 2.35 0 1 0 -4.7 0zM911.7 202.9a2.35 2.35 0 1 0 4.7 0a2.35 2.35 0 1 0 -4.7 0zM906.4 230.0a2.35 2.35 0 1 0 4.7 0a2.35 2.35 0 1 0 -4.7 0zM902.6 230.8a2.35 2.35 0 1 0 4.7 0a2.35 2.35 0 1 0 -4.7 0zM899.4 230.5a2.35 2.35 0 1 0 4.7 0a2.35 2.35 0 1 0 -4.7 0zM912.9 193.8a2.35 2.35 0 1 0 4.7 0a2.35 2.35 0 1 0 -4.7 0zM903.7 230.9a2.35 2.35 0 1 0 4.7 0a2.35 2.35 0 1 0 -4.7 0zM894.5 202.1a2.35 2.35 0 1 0 4.7 0a2.35 2.35 0 1 0 -4.7 0zM905.4 214.9a2.35 2.35 0 1 0 4.7 0a2.35 2.35 0 1 0 -4.7 0zM912.1 230.8a2.35 2.35 0 1 0 4.7 0a2.35 2.35 0 1 0 -4.7 0zM892.9 230.8a2.35 2.35 0 1 0 4.7 0a2.35 2.35 0 1 0 -4.7 0zM909.9 213.7a2.35 2.35 0 1 0 4.7 0a2.35 2.35 0 1 0 -4.7 0zM913.4 228.2a2.35 2.35 0 1 0 4.7 0a2.35 2.35 0 1 0 -4.7 0zM891.7 191.5a2.35 2.35 0 1 0 4.7 0a2.35 2.35 0 1 0 -4.7 0zM896.3 226.1a2.35 2.35 0 1 0 4.7 0a2.35 2.35 0 1 0 -4.7 0zM911.6 230.7a2.35 2.35 0 1 0 4.7 0a2.35 2.35 0 1 0 -4.7 0zM895.2 196.2a2.35 2.35 0 1 0 4.7 0a2.35 2.35 0 1 0 -4.7 0zM895.5 199.3a2.35 2.35 0 1 0 4.7 0a2.35 2.35 0 1 0 -4.7 0zM912.9 223.7a2.35 2.35 0 1 0 4.7 0a2.35 2.35 0 1 0 -4.7 0zM929.1 220.1a2.35 2.35 0 1 0 4.7 0a2.35 2.35 0 1 0 -4.7 0zM925.4 230.1a2.35 2.35 0 1 0 4.7 0a2.35 2.35 0 1 0 -4.7 0zM941.0 228.0a2.35 2.35 0 1 0 4.7 0a2.35 2.35 0 1 0 -4.7 0zM923.6 216.7a2.35 2.35 0 1 0 4.7 0a2.35 2.35 0 1 0 -4.7 0zM927.7 229.5a2.35 2.35 0 1 0 4.7 0a2.35 2.35 0 1 0 -4.7 0zM932.4 230.2a2.35 2.35 0 1 0 4.7 0a2.35 2.35 0 1 0 -4.7 0zM927.7 213.2a2.35 2.35 0 1 0 4.7 0a2.35 2.35 0 1 0 -4.7 0zM925.0 230.8a2.35 2.35 0 1 0 4.7 0a2.35 2.35 0 1 0 -4.7 0zM937.9 203.3a2.35 2.35 0 1 0 4.7 0a2.35 2.35 0 1 0 -4.7 0zM932.5 191.5a2.35 2.35 0 1 0 4.7 0a2.35 2.35 0 1 0 -4.7 0zM934.8 199.2a2.35 2.35 0 1 0 4.7 0a2.35 2.35 0 1 0 -4.7 0zM930.7 191.0a2.35 2.35 0 1 0 4.7 0a2.35 2.35 0 1 0 -4.7 0zM925.9 198.3a2.35 2.35 0 1 0 4.7 0a2.35 2.35 0 1 0 -4.7 0zM940.9 195.8a2.35 2.35 0 1 0 4.7 0a2.35 2.35 0 1 0 -4.7 0zM925.2 223.8a2.35 2.35 0 1 0 4.7 0a2.35 2.35 0 1 0 -4.7 0zM936.7 211.6a2.35 2.35 0 1 0 4.7 0a2.35 2.35 0 1 0 -4.7 0zM938.4 208.4a2.35 2.35 0 1 0 4.7 0a2.35 2.35 0 1 0 -4.7 0zM920.5 214.3a2.35 2.35 0 1 0 4.7 0a2.35 2.35 0 1 0 -4.7 0zM938.9 230.8a2.35 2.35 0 1 0 4.7 0a2.35 2.35 0 1 0 -4.7 0zM934.2 219.7a2.35 2.35 0 1 0 4.7 0a2.35 2.35 0 1 0 -4.7 0zM941.9 203.2a2.35 2.35 0 1 0 4.7 0a2.35 2.35 0 1 0 -4.7 0zM924.2 220.2a2.35 2.35 0 1 0 4.7 0a2.35 2.35 0 1 0 -4.7 0zM928.7 221.6a2.35 2.35 0 1 0 4.7 0a2.35 2.35 0 1 0 -4.7 0zM927.6 208.0a2.35 2.35 0 1 0 4.7 0a2.35 2.35 0 1 0 -4.7 0zM924.7 191.3a2.35 2.35 0 1 0 4.7 0a2.35 2.35 0 1 0 -4.7 0zM934.5 209.2a2.35 2.35 0 1 0 4.7 0a2.35 2.35 0 1 0 -4.7 0zM938.2 205.0a2.35 2.35 0 1 0 4.7 0a2.35 2.35 0 1 0 -4.7 0zM941.6 224.2a2.35 2.35 0 1 0 4.7 0a2.35 2.35 0 1 0 -4.7 0zM932.3 205.6a2.35 2.35 0 1 0 4.7 0a2.35 2.35 0 1 0 -4.7 0zM963.0 230.7a2.35 2.35 0 1 0 4.7 0a2.35 2.35 0 1 0 -4.7 0zM973.5 230.6a2.35 2.35 0 1 0 4.7 0a2.35 2.35 0 1 0 -4.7 0zM955.6 204.8a2.35 2.35 0 1 0 4.7 0a2.35 2.35 0 1 0 -4.7 0zM964.4 230.6a2.35 2.35 0 1 0 4.7 0a2.35 2.35 0 1 0 -4.7 0zM979.3 197.3a2.35 2.35 0 1 0 4.7 0a2.35 2.35 0 1 0 -4.7 0zM958.1 222.9a2.35 2.35 0 1 0 4.7 0a2.35 2.35 0 1 0 -4.7 0zM964.7 219.1a2.35 2.35 0 1 0 4.7 0a2.35 2.35 0 1 0 -4.7 0zM979.5 199.4a2.35 2.35 0 1 0 4.7 0a2.35 2.35 0 1 0 -4.7 0zM966.8 230.1a2.35 2.35 0 1 0 4.7 0a2.35 2.35 0 1 0 -4.7 0zM971.5 230.8a2.35 2.35 0 1 0 4.7 0a2.35 2.35 0 1 0 -4.7 0zM960.8 213.7a2.35 2.35 0 1 0 4.7 0a2.35 2.35 0 1 0 -4.7 0zM978.0 229.6a2.35 2.35 0 1 0 4.7 0a2.35 2.35 0 1 0 -4.7 0zM973.1 228.9a2.35 2.35 0 1 0 4.7 0a2.35 2.35 0 1 0 -4.7 0zM971.9 197.5a2.35 2.35 0 1 0 4.7 0a2.35 2.35 0 1 0 -4.7 0zM963.4 227.5a2.35 2.35 0 1 0 4.7 0a2.35 2.35 0 1 0 -4.7 0zM973.4 230.4a2.35 2.35 0 1 0 4.7 0a2.35 2.35 0 1 0 -4.7 0zM969.1 199.7a2.35 2.35 0 1 0 4.7 0a2.35 2.35 0 1 0 -4.7 0zM963.5 227.0a2.35 2.35 0 1 0 4.7 0a2.35 2.35 0 1 0 -4.7 0zM978.0 213.3a2.35 2.35 0 1 0 4.7 0a2.35 2.35 0 1 0 -4.7 0zM957.2 226.5a2.35 2.35 0 1 0 4.7 0a2.35 2.35 0 1 0 -4.7 0zM979.8 230.1a2.35 2.35 0 1 0 4.7 0a2.35 2.35 0 1 0 -4.7 0zM961.4 230.4a2.35 2.35 0 1 0 4.7 0a2.35 2.35 0 1 0 -4.7 0zM963.0 230.9a2.35 2.35 0 1 0 4.7 0a2.35 2.35 0 1 0 -4.7 0zM971.3 205.8a2.35 2.35 0 1 0 4.7 0a2.35 2.35 0 1 0 -4.7 0zM962.4 208.6a2.35 2.35 0 1 0 4.7 0a2.35 2.35 0 1 0 -4.7 0zM993.7 203.3a2.35 2.35 0 1 0 4.7 0a2.35 2.35 0 1 0 -4.7 0zM994.5 214.1a2.35 2.35 0 1 0 4.7 0a2.35 2.35 0 1 0 -4.7 0zM990.4 225.4a2.35 2.35 0 1 0 4.7 0a2.35 2.35 0 1 0 -4.7 0zM994.4 197.0a2.35 2.35 0 1 0 4.7 0a2.35 2.35 0 1 0 -4.7 0zM999.9 193.4a2.35 2.35 0 1 0 4.7 0a2.35 2.35 0 1 0 -4.7 0zM996.5 211.4a2.35 2.35 0 1 0 4.7 0a2.35 2.35 0 1 0 -4.7 0zM999.2 210.5a2.35 2.35 0 1 0 4.7 0a2.35 2.35 0 1 0 -4.7 0zM1000.8 230.1a2.35 2.35 0 1 0 4.7 0a2.35 2.35 0 1 0 -4.7 0zM999.8 228.7a2.35 2.35 0 1 0 4.7 0a2.35 2.35 0 1 0 -4.7 0zM998.2 197.8a2.35 2.35 0 1 0 4.7 0a2.35 2.35 0 1 0 -4.7 0zM990.1 221.4a2.35 2.35 0 1 0 4.7 0a2.35 2.35 0 1 0 -4.7 0zM983.9 209.4a2.35 2.35 0 1 0 4.7 0a2.35 2.35 0 1 0 -4.7 0zM1001.3 229.7a2.35 2.35 0 1 0 4.7 0a2.35 2.35 0 1 0 -4.7 0zM1001.1 200.3a2.35 2.35 0 1 0 4.7 0a2.35 2.35 0 1 0 -4.7 0zM1000.0 222.5a2.35 2.35 0 1 0 4.7 0a2.35 2.35 0 1 0 -4.7 0zM984.1 222.5a2.35 2.35 0 1 0 4.7 0a2.35 2.35 0 1 0 -4.7 0zM999.5 208.4a2.35 2.35 0 1 0 4.7 0a2.35 2.35 0 1 0 -4.7 0zM988.9 203.0a2.35 2.35 0 1 0 4.7 0a2.35 2.35 0 1 0 -4.7 0zM996.4 225.0a2.35 2.35 0 1 0 4.7 0a2.35 2.35 0 1 0 -4.7 0zM985.2 228.7a2.35 2.35 0 1 0 4.7 0a2.35 2.35 0 1 0 -4.7 0zM987.5 230.9a2.35 2.35 0 1 0 4.7 0a2.35 2.35 0 1 0 -4.7 0zM998.0 186.2a2.35 2.35 0 1 0 4.7 0a2.35 2.35 0 1 0 -4.7 0zM991.8 230.9a2.35 2.35 0 1 0 4.7 0a2.35 2.35 0 1 0 -4.7 0zM993.2 219.2a2.35 2.35 0 1 0 4.7 0a2.35 2.35 0 1 0 -4.7 0zM986.4 214.6a2.35 2.35 0 1 0 4.7 0a2.35 2.35 0 1 0 -4.7 0zM998.8 219.4a2.35 2.35 0 1 0 4.7 0a2.35 2.35 0 1 0 -4.7 0zM984.7 225.6a2.35 2.35 0 1 0 4.7 0a2.35 2.35 0 1 0 -4.7 0zM983.9 198.9a2.35 2.35 0 1 0 4.7 0a2.35 2.35 0 1 0 -4.7 0zM992.0 221.4a2.35 2.35 0 1 0 4.7 0a2.35 2.35 0 1 0 -4.7 0zM992.3 197.4a2.35 2.35 0 1 0 4.7 0a2.35 2.35 0 1 0 -4.7 0zM1001.8 203.0a2.35 2.35 0 1 0 4.7 0a2.35 2.35 0 1 0 -4.7 0zM983.7 223.6a2.35 2.35 0 1 0 4.7 0a2.35 2.35 0 1 0 -4.7 0zM986.0 186.1a2.35 2.35 0 1 0 4.7 0a2.35 2.35 0 1 0 -4.7 0zM989.1 218.6a2.35 2.35 0 1 0 4.7 0a2.35 2.35 0 1 0 -4.7 0zM983.1 216.4a2.35 2.35 0 1 0 4.7 0a2.35 2.35 0 1 0 -4.7 0zM999.0 209.1a2.35 2.35 0 1 0 4.7 0a2.35 2.35 0 1 0 -4.7 0zM1000.9 211.5a2.35 2.35 0 1 0 4.7 0a2.35 2.35 0 1 0 -4.7 0zM993.1 230.8a2.35 2.35 0 1 0 4.7 0a2.35 2.35 0 1 0 -4.7 0zM988.4 221.7a2.35 2.35 0 1 0 4.7 0a2.35 2.35 0 1 0 -4.7 0zM985.0 229.4a2.35 2.35 0 1 0 4.7 0a2.35 2.35 0 1 0 -4.7 0zM983.6 203.4a2.35 2.35 0 1 0 4.7 0a2.35 2.35 0 1 0 -4.7 0zM997.7 230.1a2.35 2.35 0 1 0 4.7 0a2.35 2.35 0 1 0 -4.7 0zM993.0 207.1a2.35 2.35 0 1 0 4.7 0a2.35 2.35 0 1 0 -4.7 0zM998.2 229.2a2.35 2.35 0 1 0 4.7 0a2.35 2.35 0 1 0 -4.7 0zM988.7 223.7a2.35 2.35 0 1 0 4.7 0a2.35 2.35 0 1 0 -4.7 0zM997.7 192.6a2.35 2.35 0 1 0 4.7 0a2.35 2.35 0 1 0 -4.7 0zM999.3 229.5a2.35 2.35 0 1 0 4.7 0a2.35 2.35 0 1 0 -4.7 0zM998.7 210.7a2.35 2.35 0 1 0 4.7 0a2.35 2.35 0 1 0 -4.7 0zM987.0 223.4a2.35 2.35 0 1 0 4.7 0a2.35 2.35 0 1 0 -4.7 0zM992.6 230.6a2.35 2.35 0 1 0 4.7 0a2.35 2.35 0 1 0 -4.7 0zM993.6 213.2a2.35 2.35 0 1 0 4.7 0a2.35 2.35 0 1 0 -4.7 0zM1025.5 226.7a2.35 2.35 0 1 0 4.7 0a2.35 2.35 0 1 0 -4.7 0zM1029.7 228.3a2.35 2.35 0 1 0 4.7 0a2.35 2.35 0 1 0 -4.7 0zM1020.8 190.3a2.35 2.35 0 1 0 4.7 0a2.35 2.35 0 1 0 -4.7 0zM1037.6 230.5a2.35 2.35 0 1 0 4.7 0a2.35 2.35 0 1 0 -4.7 0zM1025.5 223.6a2.35 2.35 0 1 0 4.7 0a2.35 2.35 0 1 0 -4.7 0zM1041.8 222.1a2.35 2.35 0 1 0 4.7 0a2.35 2.35 0 1 0 -4.7 0zM1027.1 189.5a2.35 2.35 0 1 0 4.7 0a2.35 2.35 0 1 0 -4.7 0zM1019.8 205.5a2.35 2.35 0 1 0 4.7 0a2.35 2.35 0 1 0 -4.7 0zM1016.7 215.2a2.35 2.35 0 1 0 4.7 0a2.35 2.35 0 1 0 -4.7 0zM1039.1 216.1a2.35 2.35 0 1 0 4.7 0a2.35 2.35 0 1 0 -4.7 0zM1028.5 229.3a2.35 2.35 0 1 0 4.7 0a2.35 2.35 0 1 0 -4.7 0zM1022.9 201.4a2.35 2.35 0 1 0 4.7 0a2.35 2.35 0 1 0 -4.7 0zM1022.5 220.6a2.35 2.35 0 1 0 4.7 0a2.35 2.35 0 1 0 -4.7 0zM1019.7 215.0a2.35 2.35 0 1 0 4.7 0a2.35 2.35 0 1 0 -4.7 0zM1017.5 210.9a2.35 2.35 0 1 0 4.7 0a2.35 2.35 0 1 0 -4.7 0zM1028.1 217.3a2.35 2.35 0 1 0 4.7 0a2.35 2.35 0 1 0 -4.7 0zM1041.7 208.7a2.35 2.35 0 1 0 4.7 0a2.35 2.35 0 1 0 -4.7 0zM1024.5 217.6a2.35 2.35 0 1 0 4.7 0a2.35 2.35 0 1 0 -4.7 0zM1031.0 192.5a2.35 2.35 0 1 0 4.7 0a2.35 2.35 0 1 0 -4.7 0zM1015.1 214.8a2.35 2.35 0 1 0 4.7 0a2.35 2.35 0 1 0 -4.7 0zM1021.1 229.7a2.35 2.35 0 1 0 4.7 0a2.35 2.35 0 1 0 -4.7 0zM1021.4 189.4a2.35 2.35 0 1 0 4.7 0a2.35 2.35 0 1 0 -4.7 0zM1036.3 205.9a2.35 2.35 0 1 0 4.7 0a2.35 2.35 0 1 0 -4.7 0zM1018.9 210.7a2.35 2.35 0 1 0 4.7 0a2.35 2.35 0 1 0 -4.7 0zM1026.0 199.7a2.35 2.35 0 1 0 4.7 0a2.35 2.35 0 1 0 -4.7 0zM1039.0 230.1a2.35 2.35 0 1 0 4.7 0a2.35 2.35 0 1 0 -4.7 0zM1022.2 215.5a2.35 2.35 0 1 0 4.7 0a2.35 2.35 0 1 0 -4.7 0zM1014.8 195.6a2.35 2.35 0 1 0 4.7 0a2.35 2.35 0 1 0 -4.7 0zM1020.0 195.9a2.35 2.35 0 1 0 4.7 0a2.35 2.35 0 1 0 -4.7 0zM1033.5 201.5a2.35 2.35 0 1 0 4.7 0a2.35 2.35 0 1 0 -4.7 0zM1039.7 230.6a2.35 2.35 0 1 0 4.7 0a2.35 2.35 0 1 0 -4.7 0zM1033.3 225.4a2.35 2.35 0 1 0 4.7 0a2.35 2.35 0 1 0 -4.7 0zM1031.9 191.1a2.35 2.35 0 1 0 4.7 0a2.35 2.35 0 1 0 -4.7 0zM1025.9 229.4a2.35 2.35 0 1 0 4.7 0a2.35 2.35 0 1 0 -4.7 0zM1038.3 227.8a2.35 2.35 0 1 0 4.7 0a2.35 2.35 0 1 0 -4.7 0zM1041.6 221.2a2.35 2.35 0 1 0 4.7 0a2.35 2.35 0 1 0 -4.7 0zM1032.6 203.7a2.35 2.35 0 1 0 4.7 0a2.35 2.35 0 1 0 -4.7 0zM1033.7 189.9a2.35 2.35 0 1 0 4.7 0a2.35 2.35 0 1 0 -4.7 0zM1052.4 194.9a2.35 2.35 0 1 0 4.7 0a2.35 2.35 0 1 0 -4.7 0zM1058.0 212.2a2.35 2.35 0 1 0 4.7 0a2.35 2.35 0 1 0 -4.7 0zM1055.6 220.4a2.35 2.35 0 1 0 4.7 0a2.35 2.35 0 1 0 -4.7 0zM1052.1 230.7a2.35 2.35 0 1 0 4.7 0a2.35 2.35 0 1 0 -4.7 0zM1043.9 205.9a2.35 2.35 0 1 0 4.7 0a2.35 2.35 0 1 0 -4.7 0zM1046.1 229.3a2.35 2.35 0 1 0 4.7 0a2.35 2.35 0 1 0 -4.7 0zM1046.2 213.3a2.35 2.35 0 1 0 4.7 0a2.35 2.35 0 1 0 -4.7 0zM1056.0 229.1a2.35 2.35 0 1 0 4.7 0a2.35 2.35 0 1 0 -4.7 0zM1043.3 222.6a2.35 2.35 0 1 0 4.7 0a2.35 2.35 0 1 0 -4.7 0zM1054.1 230.9a2.35 2.35 0 1 0 4.7 0a2.35 2.35 0 1 0 -4.7 0zM1046.7 230.4a2.35 2.35 0 1 0 4.7 0a2.35 2.35 0 1 0 -4.7 0zM1050.0 208.8a2.35 2.35 0 1 0 4.7 0a2.35 2.35 0 1 0 -4.7 0zM1051.4 204.4a2.35 2.35 0 1 0 4.7 0a2.35 2.35 0 1 0 -4.7 0zM1058.7 208.0a2.35 2.35 0 1 0 4.7 0a2.35 2.35 0 1 0 -4.7 0zM1048.2 189.8a2.35 2.35 0 1 0 4.7 0a2.35 2.35 0 1 0 -4.7 0zM1057.1 212.6a2.35 2.35 0 1 0 4.7 0a2.35 2.35 0 1 0 -4.7 0zM1046.3 230.3a2.35 2.35 0 1 0 4.7 0a2.35 2.35 0 1 0 -4.7 0zM1049.2 227.7a2.35 2.35 0 1 0 4.7 0a2.35 2.35 0 1 0 -4.7 0zM1055.2 218.8a2.35 2.35 0 1 0 4.7 0a2.35 2.35 0 1 0 -4.7 0zM1043.4 230.4a2.35 2.35 0 1 0 4.7 0a2.35 2.35 0 1 0 -4.7 0zM1057.6 205.1a2.35 2.35 0 1 0 4.7 0a2.35 2.35 0 1 0 -4.7 0zM1057.6 214.7a2.35 2.35 0 1 0 4.7 0a2.35 2.35 0 1 0 -4.7 0zM1051.1 230.7a2.35 2.35 0 1 0 4.7 0a2.35 2.35 0 1 0 -4.7 0zM1052.1 212.4a2.35 2.35 0 1 0 4.7 0a2.35 2.35 0 1 0 -4.7 0zM1050.8 229.4a2.35 2.35 0 1 0 4.7 0a2.35 2.35 0 1 0 -4.7 0zM1052.5 223.9a2.35 2.35 0 1 0 4.7 0a2.35 2.35 0 1 0 -4.7 0zM1046.0 190.0a2.35 2.35 0 1 0 4.7 0a2.35 2.35 0 1 0 -4.7 0zM1058.1 221.5a2.35 2.35 0 1 0 4.7 0a2.35 2.35 0 1 0 -4.7 0zM1048.5 230.0a2.35 2.35 0 1 0 4.7 0a2.35 2.35 0 1 0 -4.7 0zM1049.5 225.2a2.35 2.35 0 1 0 4.7 0a2.35 2.35 0 1 0 -4.7 0zM1054.9 226.4a2.35 2.35 0 1 0 4.7 0a2.35 2.35 0 1 0 -4.7 0zM1058.5 219.8a2.35 2.35 0 1 0 4.7 0a2.35 2.35 0 1 0 -4.7 0zM1051.5 230.3a2.35 2.35 0 1 0 4.7 0a2.35 2.35 0 1 0 -4.7 0zM1055.8 220.4a2.35 2.35 0 1 0 4.7 0a2.35 2.35 0 1 0 -4.7 0zM1081.5 223.6a2.35 2.35 0 1 0 4.7 0a2.35 2.35 0 1 0 -4.7 0zM1090.3 227.7a2.35 2.35 0 1 0 4.7 0a2.35 2.35 0 1 0 -4.7 0zM1086.3 230.8a2.35 2.35 0 1 0 4.7 0a2.35 2.35 0 1 0 -4.7 0zM1090.9 218.2a2.35 2.35 0 1 0 4.7 0a2.35 2.35 0 1 0 -4.7 0zM1078.2 223.2a2.35 2.35 0 1 0 4.7 0a2.35 2.35 0 1 0 -4.7 0zM1083.0 200.0a2.35 2.35 0 1 0 4.7 0a2.35 2.35 0 1 0 -4.7 0zM1074.1 220.0a2.35 2.35 0 1 0 4.7 0a2.35 2.35 0 1 0 -4.7 0zM1094.2 191.2a2.35 2.35 0 1 0 4.7 0a2.35 2.35 0 1 0 -4.7 0zM1084.1 229.8a2.35 2.35 0 1 0 4.7 0a2.35 2.35 0 1 0 -4.7 0zM1091.0 230.5a2.35 2.35 0 1 0 4.7 0a2.35 2.35 0 1 0 -4.7 0zM1085.6 210.9a2.35 2.35 0 1 0 4.7 0a2.35 2.35 0 1 0 -4.7 0zM1078.3 209.9a2.35 2.35 0 1 0 4.7 0a2.35 2.35 0 1 0 -4.7 0zM1094.1 207.9a2.35 2.35 0 1 0 4.7 0a2.35 2.35 0 1 0 -4.7 0zM1078.2 200.9a2.35 2.35 0 1 0 4.7 0a2.35 2.35 0 1 0 -4.7 0zM1083.9 199.5a2.35 2.35 0 1 0 4.7 0a2.35 2.35 0 1 0 -4.7 0zM1084.0 214.9a2.35 2.35 0 1 0 4.7 0a2.35 2.35 0 1 0 -4.7 0zM1091.1 225.2a2.35 2.35 0 1 0 4.7 0a2.35 2.35 0 1 0 -4.7 0zM1077.3 226.6a2.35 2.35 0 1 0 4.7 0a2.35 2.35 0 1 0 -4.7 0zM1087.3 230.9a2.35 2.35 0 1 0 4.7 0a2.35 2.35 0 1 0 -4.7 0zM1094.9 215.3a2.35 2.35 0 1 0 4.7 0a2.35 2.35 0 1 0 -4.7 0zM1077.1 230.1a2.35 2.35 0 1 0 4.7 0a2.35 2.35 0 1 0 -4.7 0zM1087.8 224.6a2.35 2.35 0 1 0 4.7 0a2.35 2.35 0 1 0 -4.7 0zM1089.8 228.4a2.35 2.35 0 1 0 4.7 0a2.35 2.35 0 1 0 -4.7 0zM1094.6 210.0a2.35 2.35 0 1 0 4.7 0a2.35 2.35 0 1 0 -4.7 0zM1081.8 218.3a2.35 2.35 0 1 0 4.7 0a2.35 2.35 0 1 0 -4.7 0zM1085.2 219.6a2.35 2.35 0 1 0 4.7 0a2.35 2.35 0 1 0 -4.7 0zM1087.4 208.4a2.35 2.35 0 1 0 4.7 0a2.35 2.35 0 1 0 -4.7 0zM1087.7 228.3a2.35 2.35 0 1 0 4.7 0a2.35 2.35 0 1 0 -4.7 0zM1084.2 230.9a2.35 2.35 0 1 0 4.7 0a2.35 2.35 0 1 0 -4.7 0zM1076.9 227.5a2.35 2.35 0 1 0 4.7 0a2.35 2.35 0 1 0 -4.7 0zM1081.9 204.3a2.35 2.35 0 1 0 4.7 0a2.35 2.35 0 1 0 -4.7 0zM1079.6 196.4a2.35 2.35 0 1 0 4.7 0a2.35 2.35 0 1 0 -4.7 0zM1085.6 191.4a2.35 2.35 0 1 0 4.7 0a2.35 2.35 0 1 0 -4.7 0zM1074.3 204.7a2.35 2.35 0 1 0 4.7 0a2.35 2.35 0 1 0 -4.7 0zM1075.0 221.5a2.35 2.35 0 1 0 4.7 0a2.35 2.35 0 1 0 -4.7 0zM1089.0 220.2a2.35 2.35 0 1 0 4.7 0a2.35 2.35 0 1 0 -4.7 0zM1084.4 220.2a2.35 2.35 0 1 0 4.7 0a2.35 2.35 0 1 0 -4.7 0zM1076.9 197.9a2.35 2.35 0 1 0 4.7 0a2.35 2.35 0 1 0 -4.7 0zM1084.7 218.5a2.35 2.35 0 1 0 4.7 0a2.35 2.35 0 1 0 -4.7 0zM1090.8 211.9a2.35 2.35 0 1 0 4.7 0a2.35 2.35 0 1 0 -4.7 0zM1090.0 221.7a2.35 2.35 0 1 0 4.7 0a2.35 2.35 0 1 0 -4.7 0zM1093.6 198.8a2.35 2.35 0 1 0 4.7 0a2.35 2.35 0 1 0 -4.7 0zM1103.2 223.8a2.35 2.35 0 1 0 4.7 0a2.35 2.35 0 1 0 -4.7 0zM1098.8 219.9a2.35 2.35 0 1 0 4.7 0a2.35 2.35 0 1 0 -4.7 0zM1109.7 230.8a2.35 2.35 0 1 0 4.7 0a2.35 2.35 0 1 0 -4.7 0zM1102.5 206.2a2.35 2.35 0 1 0 4.7 0a2.35 2.35 0 1 0 -4.7 0zM1107.8 226.1a2.35 2.35 0 1 0 4.7 0a2.35 2.35 0 1 0 -4.7 0zM1095.2 230.4a2.35 2.35 0 1 0 4.7 0a2.35 2.35 0 1 0 -4.7 0zM1100.6 198.4a2.35 2.35 0 1 0 4.7 0a2.35 2.35 0 1 0 -4.7 0zM1105.7 198.9a2.35 2.35 0 1 0 4.7 0a2.35 2.35 0 1 0 -4.7 0zM1105.0 225.7a2.35 2.35 0 1 0 4.7 0a2.35 2.35 0 1 0 -4.7 0zM1106.6 222.2a2.35 2.35 0 1 0 4.7 0a2.35 2.35 0 1 0 -4.7 0zM1094.8 190.1a2.35 2.35 0 1 0 4.7 0a2.35 2.35 0 1 0 -4.7 0zM1105.5 230.0a2.35 2.35 0 1 0 4.7 0a2.35 2.35 0 1 0 -4.7 0zM1101.0 226.1a2.35 2.35 0 1 0 4.7 0a2.35 2.35 0 1 0 -4.7 0zM1100.6 199.1a2.35 2.35 0 1 0 4.7 0a2.35 2.35 0 1 0 -4.7 0zM1096.4 195.5a2.35 2.35 0 1 0 4.7 0a2.35 2.35 0 1 0 -4.7 0zM1104.6 199.9a2.35 2.35 0 1 0 4.7 0a2.35 2.35 0 1 0 -4.7 0zM1096.3 217.6a2.35 2.35 0 1 0 4.7 0a2.35 2.35 0 1 0 -4.7 0zM1104.4 220.1a2.35 2.35 0 1 0 4.7 0a2.35 2.35 0 1 0 -4.7 0zM1097.6 221.5a2.35 2.35 0 1 0 4.7 0a2.35 2.35 0 1 0 -4.7 0zM1105.3 197.1a2.35 2.35 0 1 0 4.7 0a2.35 2.35 0 1 0 -4.7 0zM1095.6 229.4a2.35 2.35 0 1 0 4.7 0a2.35 2.35 0 1 0 -4.7 0zM1105.1 196.9a2.35 2.35 0 1 0 4.7 0a2.35 2.35 0 1 0 -4.7 0zM1095.8 218.7a2.35 2.35 0 1 0 4.7 0a2.35 2.35 0 1 0 -4.7 0zM1099.9 223.7a2.35 2.35 0 1 0 4.7 0a2.35 2.35 0 1 0 -4.7 0zM1105.8 222.1a2.35 2.35 0 1 0 4.7 0a2.35 2.35 0 1 0 -4.7 0zM1093.9 194.7a2.35 2.35 0 1 0 4.7 0a2.35 2.35 0 1 0 -4.7 0zM1102.4 230.0a2.35 2.35 0 1 0 4.7 0a2.35 2.35 0 1 0 -4.7 0zM1101.7 229.0a2.35 2.35 0 1 0 4.7 0a2.35 2.35 0 1 0 -4.7 0zM1105.0 221.2a2.35 2.35 0 1 0 4.7 0a2.35 2.35 0 1 0 -4.7 0zM1105.2 222.3a2.35 2.35 0 1 0 4.7 0a2.35 2.35 0 1 0 -4.7 0zM1098.5 207.5a2.35 2.35 0 1 0 4.7 0a2.35 2.35 0 1 0 -4.7 0zM1094.5 204.5a2.35 2.35 0 1 0 4.7 0a2.35 2.35 0 1 0 -4.7 0zM1107.1 220.7a2.35 2.35 0 1 0 4.7 0a2.35 2.35 0 1 0 -4.7 0zM1093.3 229.5a2.35 2.35 0 1 0 4.7 0a2.35 2.35 0 1 0 -4.7 0zM1093.0 224.5a2.35 2.35 0 1 0 4.7 0a2.35 2.35 0 1 0 -4.7 0zM1107.2 230.9a2.35 2.35 0 1 0 4.7 0a2.35 2.35 0 1 0 -4.7 0zM1105.4 221.5a2.35 2.35 0 1 0 4.7 0a2.35 2.35 0 1 0 -4.7 0zM1099.9 215.6a2.35 2.35 0 1 0 4.7 0a2.35 2.35 0 1 0 -4.7 0zM1094.4 221.4a2.35 2.35 0 1 0 4.7 0a2.35 2.35 0 1 0 -4.7 0zM1098.7 226.1a2.35 2.35 0 1 0 4.7 0a2.35 2.35 0 1 0 -4.7 0zM1096.3 225.8a2.35 2.35 0 1 0 4.7 0a2.35 2.35 0 1 0 -4.7 0zM1095.0 201.7a2.35 2.35 0 1 0 4.7 0a2.35 2.35 0 1 0 -4.7 0zM1154.5 213.2a2.35 2.35 0 1 0 4.7 0a2.35 2.35 0 1 0 -4.7 0zM1126.0 210.6a2.35 2.35 0 1 0 4.7 0a2.35 2.35 0 1 0 -4.7 0zM1133.5 230.6a2.35 2.35 0 1 0 4.7 0a2.35 2.35 0 1 0 -4.7 0zM1152.2 230.8a2.35 2.35 0 1 0 4.7 0a2.35 2.35 0 1 0 -4.7 0zM1136.8 230.9a2.35 2.35 0 1 0 4.7 0a2.35 2.35 0 1 0 -4.7 0zM1149.2 191.1a2.35 2.35 0 1 0 4.7 0a2.35 2.35 0 1 0 -4.7 0zM1133.4 230.8a2.35 2.35 0 1 0 4.7 0a2.35 2.35 0 1 0 -4.7 0zM1148.4 218.8a2.35 2.35 0 1 0 4.7 0a2.35 2.35 0 1 0 -4.7 0zM1139.2 214.1a2.35 2.35 0 1 0 4.7 0a2.35 2.35 0 1 0 -4.7 0zM1150.8 209.3a2.35 2.35 0 1 0 4.7 0a2.35 2.35 0 1 0 -4.7 0zM1148.1 211.4a2.35 2.35 0 1 0 4.7 0a2.35 2.35 0 1 0 -4.7 0zM1141.3 189.5a2.35 2.35 0 1 0 4.7 0a2.35 2.35 0 1 0 -4.7 0zM1145.2 192.5a2.35 2.35 0 1 0 4.7 0a2.35 2.35 0 1 0 -4.7 0zM1127.4 206.0a2.35 2.35 0 1 0 4.7 0a2.35 2.35 0 1 0 -4.7 0zM1146.1 230.9a2.35 2.35 0 1 0 4.7 0a2.35 2.35 0 1 0 -4.7 0zM1146.8 226.3a2.35 2.35 0 1 0 4.7 0a2.35 2.35 0 1 0 -4.7 0zM1127.4 219.3a2.35 2.35 0 1 0 4.7 0a2.35 2.35 0 1 0 -4.7 0zM1145.5 224.1a2.35 2.35 0 1 0 4.7 0a2.35 2.35 0 1 0 -4.7 0zM1141.1 192.6a2.35 2.35 0 1 0 4.7 0a2.35 2.35 0 1 0 -4.7 0zM1147.8 227.2a2.35 2.35 0 1 0 4.7 0a2.35 2.35 0 1 0 -4.7 0zM1132.7 217.8a2.35 2.35 0 1 0 4.7 0a2.35 2.35 0 1 0 -4.7 0zM1143.1 198.8a2.35 2.35 0 1 0 4.7 0a2.35 2.35 0 1 0 -4.7 0zM1125.0 230.7a2.35 2.35 0 1 0 4.7 0a2.35 2.35 0 1 0 -4.7 0zM1137.5 226.7a2.35 2.35 0 1 0 4.7 0a2.35 2.35 0 1 0 -4.7 0zM1132.7 228.6a2.35 2.35 0 1 0 4.7 0a2.35 2.35 0 1 0 -4.7 0zM1126.7 216.5a2.35 2.35 0 1 0 4.7 0a2.35 2.35 0 1 0 -4.7 0zM1138.1 203.7a2.35 2.35 0 1 0 4.7 0a2.35 2.35 0 1 0 -4.7 0zM1143.1 230.7a2.35 2.35 0 1 0 4.7 0a2.35 2.35 0 1 0 -4.7 0zM1139.7 230.6a2.35 2.35 0 1 0 4.7 0a2.35 2.35 0 1 0 -4.7 0zM1124.7 211.5a2.35 2.35 0 1 0 4.7 0a2.35 2.35 0 1 0 -4.7 0zM1142.9 192.9a2.35 2.35 0 1 0 4.7 0a2.35 2.35 0 1 0 -4.7 0zM1136.5 215.3a2.35 2.35 0 1 0 4.7 0a2.35 2.35 0 1 0 -4.7 0zM1143.7 230.9a2.35 2.35 0 1 0 4.7 0a2.35 2.35 0 1 0 -4.7 0zM1152.5 211.1a2.35 2.35 0 1 0 4.7 0a2.35 2.35 0 1 0 -4.7 0zM1128.2 226.0a2.35 2.35 0 1 0 4.7 0a2.35 2.35 0 1 0 -4.7 0zM1131.7 224.6a2.35 2.35 0 1 0 4.7 0a2.35 2.35 0 1 0 -4.7 0zM1154.5 228.9a2.35 2.35 0 1 0 4.7 0a2.35 2.35 0 1 0 -4.7 0zM1142.0 205.5a2.35 2.35 0 1 0 4.7 0a2.35 2.35 0 1 0 -4.7 0zM1187.2 230.2a2.35 2.35 0 1 0 4.7 0a2.35 2.35 0 1 0 -4.7 0zM1189.7 227.6a2.35 2.35 0 1 0 4.7 0a2.35 2.35 0 1 0 -4.7 0zM1189.9 221.6a2.35 2.35 0 1 0 4.7 0a2.35 2.35 0 1 0 -4.7 0zM1197.3 206.3a2.35 2.35 0 1 0 4.7 0a2.35 2.35 0 1 0 -4.7 0zM1202.5 215.1a2.35 2.35 0 1 0 4.7 0a2.35 2.35 0 1 0 -4.7 0zM1200.5 213.4a2.35 2.35 0 1 0 4.7 0a2.35 2.35 0 1 0 -4.7 0zM1185.6 217.6a2.35 2.35 0 1 0 4.7 0a2.35 2.35 0 1 0 -4.7 0zM1186.3 219.6a2.35 2.35 0 1 0 4.7 0a2.35 2.35 0 1 0 -4.7 0zM1181.7 229.9a2.35 2.35 0 1 0 4.7 0a2.35 2.35 0 1 0 -4.7 0zM1178.5 227.2a2.35 2.35 0 1 0 4.7 0a2.35 2.35 0 1 0 -4.7 0zM1200.2 228.9a2.35 2.35 0 1 0 4.7 0a2.35 2.35 0 1 0 -4.7 0zM1193.2 227.8a2.35 2.35 0 1 0 4.7 0a2.35 2.35 0 1 0 -4.7 0zM1191.6 230.3a2.35 2.35 0 1 0 4.7 0a2.35 2.35 0 1 0 -4.7 0zM1198.1 198.6a2.35 2.35 0 1 0 4.7 0a2.35 2.35 0 1 0 -4.7 0zM1198.5 230.2a2.35 2.35 0 1 0 4.7 0a2.35 2.35 0 1 0 -4.7 0zM1183.1 209.1a2.35 2.35 0 1 0 4.7 0a2.35 2.35 0 1 0 -4.7 0zM1182.9 225.8a2.35 2.35 0 1 0 4.7 0a2.35 2.35 0 1 0 -4.7 0zM1177.8 205.8a2.35 2.35 0 1 0 4.7 0a2.35 2.35 0 1 0 -4.7 0zM1201.8 218.7a2.35 2.35 0 1 0 4.7 0a2.35 2.35 0 1 0 -4.7 0zM1182.3 230.3a2.35 2.35 0 1 0 4.7 0a2.35 2.35 0 1 0 -4.7 0zM1201.3 221.5a2.35 2.35 0 1 0 4.7 0a2.35 2.35 0 1 0 -4.7 0zM1185.7 226.8a2.35 2.35 0 1 0 4.7 0a2.35 2.35 0 1 0 -4.7 0zM1183.5 210.5a2.35 2.35 0 1 0 4.7 0a2.35 2.35 0 1 0 -4.7 0zM1192.2 203.8a2.35 2.35 0 1 0 4.7 0a2.35 2.35 0 1 0 -4.7 0zM1186.9 183.6a2.35 2.35 0 1 0 4.7 0a2.35 2.35 0 1 0 -4.7 0zM1185.7 228.0a2.35 2.35 0 1 0 4.7 0a2.35 2.35 0 1 0 -4.7 0zM1186.2 205.8a2.35 2.35 0 1 0 4.7 0a2.35 2.35 0 1 0 -4.7 0zM1194.1 194.8a2.35 2.35 0 1 0 4.7 0a2.35 2.35 0 1 0 -4.7 0zM1185.7 216.1a2.35 2.35 0 1 0 4.7 0a2.35 2.35 0 1 0 -4.7 0zM1190.9 230.7a2.35 2.35 0 1 0 4.7 0a2.35 2.35 0 1 0 -4.7 0zM1200.5 193.1a2.35 2.35 0 1 0 4.7 0a2.35 2.35 0 1 0 -4.7 0zM1198.2 221.0a2.35 2.35 0 1 0 4.7 0a2.35 2.35 0 1 0 -4.7 0zM1197.8 213.6a2.35 2.35 0 1 0 4.7 0a2.35 2.35 0 1 0 -4.7 0zM1194.2 184.6a2.35 2.35 0 1 0 4.7 0a2.35 2.35 0 1 0 -4.7 0zM1186.5 226.4a2.35 2.35 0 1 0 4.7 0a2.35 2.35 0 1 0 -4.7 0zM1178.4 222.1a2.35 2.35 0 1 0 4.7 0a2.35 2.35 0 1 0 -4.7 0zM1186.9 221.9a2.35 2.35 0 1 0 4.7 0a2.35 2.35 0 1 0 -4.7 0zM1186.5 187.1a2.35 2.35 0 1 0 4.7 0a2.35 2.35 0 1 0 -4.7 0zM1183.8 187.0a2.35 2.35 0 1 0 4.7 0a2.35 2.35 0 1 0 -4.7 0zM1185.0 224.6a2.35 2.35 0 1 0 4.7 0a2.35 2.35 0 1 0 -4.7 0zM1189.2 229.7a2.35 2.35 0 1 0 4.7 0a2.35 2.35 0 1 0 -4.7 0zM1199.9 223.7a2.35 2.35 0 1 0 4.7 0a2.35 2.35 0 1 0 -4.7 0zM1188.7 219.9a2.35 2.35 0 1 0 4.7 0a2.35 2.35 0 1 0 -4.7 0zM1178.4 210.6a2.35 2.35 0 1 0 4.7 0a2.35 2.35 0 1 0 -4.7 0zM1178.0 209.9a2.35 2.35 0 1 0 4.7 0a2.35 2.35 0 1 0 -4.7 0zM1176.7 187.1a2.35 2.35 0 1 0 4.7 0a2.35 2.35 0 1 0 -4.7 0zM1181.4 230.2a2.35 2.35 0 1 0 4.7 0a2.35 2.35 0 1 0 -4.7 0zM1178.3 205.3a2.35 2.35 0 1 0 4.7 0a2.35 2.35 0 1 0 -4.7 0zM1197.4 230.1a2.35 2.35 0 1 0 4.7 0a2.35 2.35 0 1 0 -4.7 0zM1180.6 229.8a2.35 2.35 0 1 0 4.7 0a2.35 2.35 0 1 0 -4.7 0zM1198.7 214.0a2.35 2.35 0 1 0 4.7 0a2.35 2.35 0 1 0 -4.7 0zM1184.3 227.8a2.35 2.35 0 1 0 4.7 0a2.35 2.35 0 1 0 -4.7 0zM1181.2 227.0a2.35 2.35 0 1 0 4.7 0a2.35 2.35 0 1 0 -4.7 0zM1176.4 225.9a2.35 2.35 0 1 0 4.7 0a2.35 2.35 0 1 0 -4.7 0zM1192.6 229.3a2.35 2.35 0 1 0 4.7 0a2.35 2.35 0 1 0 -4.7 0zM1195.7 229.3a2.35 2.35 0 1 0 4.7 0a2.35 2.35 0 1 0 -4.7 0zM1196.4 226.9a2.35 2.35 0 1 0 4.7 0a2.35 2.35 0 1 0 -4.7 0zM1202.9 223.0a2.35 2.35 0 1 0 4.7 0a2.35 2.35 0 1 0 -4.7 0zM1203.5 184.5a2.35 2.35 0 1 0 4.7 0a2.35 2.35 0 1 0 -4.7 0zM1206.8 215.5a2.35 2.35 0 1 0 4.7 0a2.35 2.35 0 1 0 -4.7 0zM1200.2 193.8a2.35 2.35 0 1 0 4.7 0a2.35 2.35 0 1 0 -4.7 0zM1197.5 214.4a2.35 2.35 0 1 0 4.7 0a2.35 2.35 0 1 0 -4.7 0zM1209.8 230.4a2.35 2.35 0 1 0 4.7 0a2.35 2.35 0 1 0 -4.7 0zM1208.6 213.1a2.35 2.35 0 1 0 4.7 0a2.35 2.35 0 1 0 -4.7 0zM1195.3 219.0a2.35 2.35 0 1 0 4.7 0a2.35 2.35 0 1 0 -4.7 0zM1209.6 198.4a2.35 2.35 0 1 0 4.7 0a2.35 2.35 0 1 0 -4.7 0zM1199.6 219.3a2.35 2.35 0 1 0 4.7 0a2.35 2.35 0 1 0 -4.7 0zM1202.4 230.3a2.35 2.35 0 1 0 4.7 0a2.35 2.35 0 1 0 -4.7 0zM1207.2 208.7a2.35 2.35 0 1 0 4.7 0a2.35 2.35 0 1 0 -4.7 0zM1196.5 195.2a2.35 2.35 0 1 0 4.7 0a2.35 2.35 0 1 0 -4.7 0zM1208.6 201.9a2.35 2.35 0 1 0 4.7 0a2.35 2.35 0 1 0 -4.7 0zM1197.5 223.6a2.35 2.35 0 1 0 4.7 0a2.35 2.35 0 1 0 -4.7 0zM1200.4 200.6a2.35 2.35 0 1 0 4.7 0a2.35 2.35 0 1 0 -4.7 0zM1209.1 230.6a2.35 2.35 0 1 0 4.7 0a2.35 2.35 0 1 0 -4.7 0zM1202.7 209.4a2.35 2.35 0 1 0 4.7 0a2.35 2.35 0 1 0 -4.7 0zM1200.0 220.1a2.35 2.35 0 1 0 4.7 0a2.35 2.35 0 1 0 -4.7 0zM1209.1 203.8a2.35 2.35 0 1 0 4.7 0a2.35 2.35 0 1 0 -4.7 0zM1207.6 186.1a2.35 2.35 0 1 0 4.7 0a2.35 2.35 0 1 0 -4.7 0zM1206.3 230.7a2.35 2.35 0 1 0 4.7 0a2.35 2.35 0 1 0 -4.7 0zM1210.2 218.8a2.35 2.35 0 1 0 4.7 0a2.35 2.35 0 1 0 -4.7 0zM1195.3 222.8a2.35 2.35 0 1 0 4.7 0a2.35 2.35 0 1 0 -4.7 0zM1207.5 190.7a2.35 2.35 0 1 0 4.7 0a2.35 2.35 0 1 0 -4.7 0zM1204.1 230.7a2.35 2.35 0 1 0 4.7 0a2.35 2.35 0 1 0 -4.7 0zM1196.4 191.9a2.35 2.35 0 1 0 4.7 0a2.35 2.35 0 1 0 -4.7 0zM1204.8 198.6a2.35 2.35 0 1 0 4.7 0a2.35 2.35 0 1 0 -4.7 0zM1203.7 202.3a2.35 2.35 0 1 0 4.7 0a2.35 2.35 0 1 0 -4.7 0zM1205.0 206.8a2.35 2.35 0 1 0 4.7 0a2.35 2.35 0 1 0 -4.7 0zM1199.0 220.5a2.35 2.35 0 1 0 4.7 0a2.35 2.35 0 1 0 -4.7 0zM1201.6 214.2a2.35 2.35 0 1 0 4.7 0a2.35 2.35 0 1 0 -4.7 0zM1207.3 230.1a2.35 2.35 0 1 0 4.7 0a2.35 2.35 0 1 0 -4.7 0zM1206.7 229.7a2.35 2.35 0 1 0 4.7 0a2.35 2.35 0 1 0 -4.7 0zM1198.3 221.5a2.35 2.35 0 1 0 4.7 0a2.35 2.35 0 1 0 -4.7 0zM1196.7 206.4a2.35 2.35 0 1 0 4.7 0a2.35 2.35 0 1 0 -4.7 0zM128.0 128.3a2.35 2.35 0 1 0 4.7 0a2.35 2.35 0 1 0 -4.7 0zM143.3 135.1a2.35 2.35 0 1 0 4.7 0a2.35 2.35 0 1 0 -4.7 0zM134.8 152.1a2.35 2.35 0 1 0 4.7 0a2.35 2.35 0 1 0 -4.7 0zM129.7 174.2a2.35 2.35 0 1 0 4.7 0a2.35 2.35 0 1 0 -4.7 0zM134.8 183.6a2.35 2.35 0 1 0 4.7 0a2.35 2.35 0 1 0 -4.7 0zM134.8 188.7a2.35 2.35 0 1 0 4.7 0a2.35 2.35 0 1 0 -4.7 0zM167.1 116.4a2.35 2.35 0 1 0 4.7 0a2.35 2.35 0 1 0 -4.7 0zM190.9 108.7a2.35 2.35 0 1 0 4.7 0a2.35 2.35 0 1 0 -4.7 0zM190.9 123.2a2.35 2.35 0 1 0 4.7 0a2.35 2.35 0 1 0 -4.7 0zM176.5 140.2a2.35 2.35 0 1 0 4.7 0a2.35 2.35 0 1 0 -4.7 0zM190.9 140.2a2.35 2.35 0 1 0 4.7 0a2.35 2.35 0 1 0 -4.7 0zM167.1 145.3a2.35 2.35 0 1 0 4.7 0a2.35 2.35 0 1 0 -4.7 0zM203.7 142.7a2.35 2.35 0 1 0 4.7 0a2.35 2.35 0 1 0 -4.7 0zM203.7 147.8a2.35 2.35 0 1 0 4.7 0a2.35 2.35 0 1 0 -4.7 0zM185.8 156.4a2.35 2.35 0 1 0 4.7 0a2.35 2.35 0 1 0 -4.7 0zM184.1 164.9a2.35 2.35 0 1 0 4.7 0a2.35 2.35 0 1 0 -4.7 0zM161.2 162.3a2.35 2.35 0 1 0 4.7 0a2.35 2.35 0 1 0 -4.7 0zM160.3 165.7a2.35 2.35 0 1 0 4.7 0a2.35 2.35 0 1 0 -4.7 0zM171.4 166.6a2.35 2.35 0 1 0 4.7 0a2.35 2.35 0 1 0 -4.7 0zM162.0 177.6a2.35 2.35 0 1 0 4.7 0a2.35 2.35 0 1 0 -4.7 0zM167.1 179.3a2.35 2.35 0 1 0 4.7 0a2.35 2.35 0 1 0 -4.7 0zM176.5 178.5a2.35 2.35 0 1 0 4.7 0a2.35 2.35 0 1 0 -4.7 0zM161.2 185.3a2.35 2.35 0 1 0 4.7 0a2.35 2.35 0 1 0 -4.7 0zM176.5 186.1a2.35 2.35 0 1 0 4.7 0a2.35 2.35 0 1 0 -4.7 0zM185.8 175.9a2.35 2.35 0 1 0 4.7 0a2.35 2.35 0 1 0 -4.7 0zM192.6 170.0a2.35 2.35 0 1 0 4.7 0a2.35 2.35 0 1 0 -4.7 0zM197.7 171.7a2.35 2.35 0 1 0 4.7 0a2.35 2.35 0 1 0 -4.7 0zM203.7 170.0a2.35 2.35 0 1 0 4.7 0a2.35 2.35 0 1 0 -4.7 0zM207.1 178.5a2.35 2.35 0 1 0 4.7 0a2.35 2.35 0 1 0 -4.7 0zM187.5 184.4a2.35 2.35 0 1 0 4.7 0a2.35 2.35 0 1 0 -4.7 0zM191.8 181.0a2.35 2.35 0 1 0 4.7 0a2.35 2.35 0 1 0 -4.7 0zM202.0 183.6a2.35 2.35 0 1 0 4.7 0a2.35 2.35 0 1 0 -4.7 0zM203.7 187.8a2.35 2.35 0 1 0 4.7 0a2.35 2.35 0 1 0 -4.7 0zM163.7 191.2a2.35 2.35 0 1 0 4.7 0a2.35 2.35 0 1 0 -4.7 0zM190.1 189.5a2.35 2.35 0 1 0 4.7 0a2.35 2.35 0 1 0 -4.7 0zM196.0 192.9a2.35 2.35 0 1 0 4.7 0a2.35 2.35 0 1 0 -4.7 0zM146.7 197.2a2.35 2.35 0 1 0 4.7 0a2.35 2.35 0 1 0 -4.7 0zM134.8 202.3a2.35 2.35 0 1 0 4.7 0a2.35 2.35 0 1 0 -4.7 0zM143.3 204.0a2.35 2.35 0 1 0 4.7 0a2.35 2.35 0 1 0 -4.7 0zM126.3 208.3a2.35 2.35 0 1 0 4.7 0a2.35 2.35 0 1 0 -4.7 0zM134.8 207.4a2.35 2.35 0 1 0 4.7 0a2.35 2.35 0 1 0 -4.7 0zM280.3 88.6a2.35 2.35 0 1 0 4.7 0a2.35 2.35 0 1 0 -4.7 0zM299.0 86.9a2.35 2.35 0 1 0 4.7 0a2.35 2.35 0 1 0 -4.7 0zM319.4 92.9a2.35 2.35 0 1 0 4.7 0a2.35 2.35 0 1 0 -4.7 0zM253.1 96.8a2.35 2.35 0 1 0 4.7 0a2.35 2.35 0 1 0 -4.7 0zM253.1 101.0a2.35 2.35 0 1 0 4.7 0a2.35 2.35 0 1 0 -4.7 0zM253.1 113.0a2.35 2.35 0 1 0 4.7 0a2.35 2.35 0 1 0 -4.7 0zM253.1 115.5a2.35 2.35 0 1 0 4.7 0a2.35 2.35 0 1 0 -4.7 0zM279.4 128.3a2.35 2.35 0 1 0 4.7 0a2.35 2.35 0 1 0 -4.7 0zM276.9 138.5a2.35 2.35 0 1 0 4.7 0a2.35 2.35 0 1 0 -4.7 0zM253.1 140.2a2.35 2.35 0 1 0 4.7 0a2.35 2.35 0 1 0 -4.7 0zM264.1 141.0a2.35 2.35 0 1 0 4.7 0a2.35 2.35 0 1 0 -4.7 0zM242.0 144.4a2.35 2.35 0 1 0 4.7 0a2.35 2.35 0 1 0 -4.7 0zM242.0 148.7a2.35 2.35 0 1 0 4.7 0a2.35 2.35 0 1 0 -4.7 0zM253.1 146.1a2.35 2.35 0 1 0 4.7 0a2.35 2.35 0 1 0 -4.7 0zM253.1 151.3a2.35 2.35 0 1 0 4.7 0a2.35 2.35 0 1 0 -4.7 0zM253.9 155.5a2.35 2.35 0 1 0 4.7 0a2.35 2.35 0 1 0 -4.7 0zM282.8 150.4a2.35 2.35 0 1 0 4.7 0a2.35 2.35 0 1 0 -4.7 0zM289.6 150.4a2.35 2.35 0 1 0 4.7 0a2.35 2.35 0 1 0 -4.7 0zM296.4 146.1a2.35 2.35 0 1 0 4.7 0a2.35 2.35 0 1 0 -4.7 0zM297.3 153.0a2.35 2.35 0 1 0 4.7 0a2.35 2.35 0 1 0 -4.7 0zM253.1 163.2a2.35 2.35 0 1 0 4.7 0a2.35 2.35 0 1 0 -4.7 0zM262.4 164.0a2.35 2.35 0 1 0 4.7 0a2.35 2.35 0 1 0 -4.7 0zM279.4 161.5a2.35 2.35 0 1 0 4.7 0a2.35 2.35 0 1 0 -4.7 0zM253.1 170.8a2.35 2.35 0 1 0 4.7 0a2.35 2.35 0 1 0 -4.7 0zM247.1 174.2a2.35 2.35 0 1 0 4.7 0a2.35 2.35 0 1 0 -4.7 0zM256.5 178.5a2.35 2.35 0 1 0 4.7 0a2.35 2.35 0 1 0 -4.7 0zM284.5 173.4a2.35 2.35 0 1 0 4.7 0a2.35 2.35 0 1 0 -4.7 0zM299.0 175.9a2.35 2.35 0 1 0 4.7 0a2.35 2.35 0 1 0 -4.7 0zM281.1 178.5a2.35 2.35 0 1 0 4.7 0a2.35 2.35 0 1 0 -4.7 0zM242.0 185.3a2.35 2.35 0 1 0 4.7 0a2.35 2.35 0 1 0 -4.7 0zM242.0 189.5a2.35 2.35 0 1 0 4.7 0a2.35 2.35 0 1 0 -4.7 0zM253.1 183.6a2.35 2.35 0 1 0 4.7 0a2.35 2.35 0 1 0 -4.7 0zM253.1 190.4a2.35 2.35 0 1 0 4.7 0a2.35 2.35 0 1 0 -4.7 0zM262.4 185.3a2.35 2.35 0 1 0 4.7 0a2.35 2.35 0 1 0 -4.7 0zM264.1 192.1a2.35 2.35 0 1 0 4.7 0a2.35 2.35 0 1 0 -4.7 0zM298.2 188.7a2.35 2.35 0 1 0 4.7 0a2.35 2.35 0 1 0 -4.7 0zM282.8 185.3a2.35 2.35 0 1 0 4.7 0a2.35 2.35 0 1 0 -4.7 0zM282.8 192.9a2.35 2.35 0 1 0 4.7 0a2.35 2.35 0 1 0 -4.7 0zM292.2 194.6a2.35 2.35 0 1 0 4.7 0a2.35 2.35 0 1 0 -4.7 0zM311.8 192.9a2.35 2.35 0 1 0 4.7 0a2.35 2.35 0 1 0 -4.7 0zM310.1 198.9a2.35 2.35 0 1 0 4.7 0a2.35 2.35 0 1 0 -4.7 0zM235.2 197.2a2.35 2.35 0 1 0 4.7 0a2.35 2.35 0 1 0 -4.7 0zM319.7 92.9a2.35 2.35 0 1 0 4.7 0a2.35 2.35 0 1 0 -4.7 0zM349.5 124.9a2.35 2.35 0 1 0 4.7 0a2.35 2.35 0 1 0 -4.7 0zM332.4 141.9a2.35 2.35 0 1 0 4.7 0a2.35 2.35 0 1 0 -4.7 0zM360.5 150.4a2.35 2.35 0 1 0 4.7 0a2.35 2.35 0 1 0 -4.7 0zM365.6 165.7a2.35 2.35 0 1 0 4.7 0a2.35 2.35 0 1 0 -4.7 0zM343.5 170.0a2.35 2.35 0 1 0 4.7 0a2.35 2.35 0 1 0 -4.7 0zM332.4 175.9a2.35 2.35 0 1 0 4.7 0a2.35 2.35 0 1 0 -4.7 0zM349.5 175.9a2.35 2.35 0 1 0 4.7 0a2.35 2.35 0 1 0 -4.7 0zM353.7 176.8a2.35 2.35 0 1 0 4.7 0a2.35 2.35 0 1 0 -4.7 0zM358.0 181.0a2.35 2.35 0 1 0 4.7 0a2.35 2.35 0 1 0 -4.7 0zM364.8 177.6a2.35 2.35 0 1 0 4.7 0a2.35 2.35 0 1 0 -4.7 0zM369.9 177.6a2.35 2.35 0 1 0 4.7 0a2.35 2.35 0 1 0 -4.7 0zM367.3 183.6a2.35 2.35 0 1 0 4.7 0a2.35 2.35 0 1 0 -4.7 0zM370.7 187.8a2.35 2.35 0 1 0 4.7 0a2.35 2.35 0 1 0 -4.7 0zM380.9 185.3a2.35 2.35 0 1 0 4.7 0a2.35 2.35 0 1 0 -4.7 0zM363.1 187.8a2.35 2.35 0 1 0 4.7 0a2.35 2.35 0 1 0 -4.7 0zM325.6 190.4a2.35 2.35 0 1 0 4.7 0a2.35 2.35 0 1 0 -4.7 0zM332.4 192.1a2.35 2.35 0 1 0 4.7 0a2.35 2.35 0 1 0 -4.7 0zM310.3 193.8a2.35 2.35 0 1 0 4.7 0a2.35 2.35 0 1 0 -4.7 0zM309.5 200.6a2.35 2.35 0 1 0 4.7 0a2.35 2.35 0 1 0 -4.7 0zM455.0 20.2a2.35 2.35 0 1 0 4.7 0a2.35 2.35 0 1 0 -4.7 0zM409.0 86.9a2.35 2.35 0 1 0 4.7 0a2.35 2.35 0 1 0 -4.7 0zM409.0 103.6a2.35 2.35 0 1 0 4.7 0a2.35 2.35 0 1 0 -4.7 0zM409.0 107.9a2.35 2.35 0 1 0 4.7 0a2.35 2.35 0 1 0 -4.7 0zM435.4 92.5a2.35 2.35 0 1 0 4.7 0a2.35 2.35 0 1 0 -4.7 0zM444.8 87.4a2.35 2.35 0 1 0 4.7 0a2.35 2.35 0 1 0 -4.7 0zM444.8 90.8a2.35 2.35 0 1 0 4.7 0a2.35 2.35 0 1 0 -4.7 0zM455.8 108.7a2.35 2.35 0 1 0 4.7 0a2.35 2.35 0 1 0 -4.7 0zM443.9 120.6a2.35 2.35 0 1 0 4.7 0a2.35 2.35 0 1 0 -4.7 0zM443.9 129.1a2.35 2.35 0 1 0 4.7 0a2.35 2.35 0 1 0 -4.7 0zM453.3 126.6a2.35 2.35 0 1 0 4.7 0a2.35 2.35 0 1 0 -4.7 0zM437.1 134.2a2.35 2.35 0 1 0 4.7 0a2.35 2.35 0 1 0 -4.7 0zM409.0 134.2a2.35 2.35 0 1 0 4.7 0a2.35 2.35 0 1 0 -4.7 0zM409.0 141.9a2.35 2.35 0 1 0 4.7 0a2.35 2.35 0 1 0 -4.7 0zM451.6 140.2a2.35 2.35 0 1 0 4.7 0a2.35 2.35 0 1 0 -4.7 0zM455.0 147.0a2.35 2.35 0 1 0 4.7 0a2.35 2.35 0 1 0 -4.7 0zM446.5 151.3a2.35 2.35 0 1 0 4.7 0a2.35 2.35 0 1 0 -4.7 0zM399.7 158.9a2.35 2.35 0 1 0 4.7 0a2.35 2.35 0 1 0 -4.7 0zM409.9 159.8a2.35 2.35 0 1 0 4.7 0a2.35 2.35 0 1 0 -4.7 0zM455.0 159.8a2.35 2.35 0 1 0 4.7 0a2.35 2.35 0 1 0 -4.7 0zM455.8 164.9a2.35 2.35 0 1 0 4.7 0a2.35 2.35 0 1 0 -4.7 0zM409.0 165.7a2.35 2.35 0 1 0 4.7 0a2.35 2.35 0 1 0 -4.7 0zM416.7 169.1a2.35 2.35 0 1 0 4.7 0a2.35 2.35 0 1 0 -4.7 0zM397.1 173.4a2.35 2.35 0 1 0 4.7 0a2.35 2.35 0 1 0 -4.7 0zM400.5 174.2a2.35 2.35 0 1 0 4.7 0a2.35 2.35 0 1 0 -4.7 0zM409.0 175.1a2.35 2.35 0 1 0 4.7 0a2.35 2.35 0 1 0 -4.7 0zM432.0 175.9a2.35 2.35 0 1 0 4.7 0a2.35 2.35 0 1 0 -4.7 0zM443.9 172.5a2.35 2.35 0 1 0 4.7 0a2.35 2.35 0 1 0 -4.7 0zM453.3 174.2a2.35 2.35 0 1 0 4.7 0a2.35 2.35 0 1 0 -4.7 0zM419.2 180.2a2.35 2.35 0 1 0 4.7 0a2.35 2.35 0 1 0 -4.7 0zM421.8 182.7a2.35 2.35 0 1 0 4.7 0a2.35 2.35 0 1 0 -4.7 0zM409.0 183.6a2.35 2.35 0 1 0 4.7 0a2.35 2.35 0 1 0 -4.7 0zM400.5 184.4a2.35 2.35 0 1 0 4.7 0a2.35 2.35 0 1 0 -4.7 0zM401.4 188.7a2.35 2.35 0 1 0 4.7 0a2.35 2.35 0 1 0 -4.7 0zM443.9 180.2a2.35 2.35 0 1 0 4.7 0a2.35 2.35 0 1 0 -4.7 0zM448.2 187.0a2.35 2.35 0 1 0 4.7 0a2.35 2.35 0 1 0 -4.7 0zM409.0 192.9a2.35 2.35 0 1 0 4.7 0a2.35 2.35 0 1 0 -4.7 0zM506.9 73.3a2.35 2.35 0 1 0 4.7 0a2.35 2.35 0 1 0 -4.7 0zM483.0 79.8a2.35 2.35 0 1 0 4.7 0a2.35 2.35 0 1 0 -4.7 0zM508.9 98.2a2.35 2.35 0 1 0 4.7 0a2.35 2.35 0 1 0 -4.7 0zM473.7 127.4a2.35 2.35 0 1 0 4.7 0a2.35 2.35 0 1 0 -4.7 0zM488.2 135.1a2.35 2.35 0 1 0 4.7 0a2.35 2.35 0 1 0 -4.7 0zM483.0 141.0a2.35 2.35 0 1 0 4.7 0a2.35 2.35 0 1 0 -4.7 0zM477.9 145.3a2.35 2.35 0 1 0 4.7 0a2.35 2.35 0 1 0 -4.7 0zM508.9 140.7a2.35 2.35 0 1 0 4.7 0a2.35 2.35 0 1 0 -4.7 0zM502.6 147.8a2.35 2.35 0 1 0 4.7 0a2.35 2.35 0 1 0 -4.7 0zM501.8 162.3a2.35 2.35 0 1 0 4.7 0a2.35 2.35 0 1 0 -4.7 0zM508.9 164.9a2.35 2.35 0 1 0 4.7 0a2.35 2.35 0 1 0 -4.7 0zM471.1 164.0a2.35 2.35 0 1 0 4.7 0a2.35 2.35 0 1 0 -4.7 0zM477.1 161.5a2.35 2.35 0 1 0 4.7 0a2.35 2.35 0 1 0 -4.7 0zM491.6 165.7a2.35 2.35 0 1 0 4.7 0a2.35 2.35 0 1 0 -4.7 0zM487.3 170.0a2.35 2.35 0 1 0 4.7 0a2.35 2.35 0 1 0 -4.7 0zM483.9 173.4a2.35 2.35 0 1 0 4.7 0a2.35 2.35 0 1 0 -4.7 0zM472.8 170.0a2.35 2.35 0 1 0 4.7 0a2.35 2.35 0 1 0 -4.7 0zM471.1 177.6a2.35 2.35 0 1 0 4.7 0a2.35 2.35 0 1 0 -4.7 0zM490.7 175.9a2.35 2.35 0 1 0 4.7 0a2.35 2.35 0 1 0 -4.7 0zM481.3 181.9a2.35 2.35 0 1 0 4.7 0a2.35 2.35 0 1 0 -4.7 0zM524.1 133.4a2.35 2.35 0 1 0 4.7 0a2.35 2.35 0 1 0 -4.7 0zM526.7 170.8a2.35 2.35 0 1 0 4.7 0a2.35 2.35 0 1 0 -4.7 0zM525.8 178.5a2.35 2.35 0 1 0 4.7 0a2.35 2.35 0 1 0 -4.7 0zM602.4 36.9a2.35 2.35 0 1 0 4.7 0a2.35 2.35 0 1 0 -4.7 0zM582.0 81.1a2.35 2.35 0 1 0 4.7 0a2.35 2.35 0 1 0 -4.7 0zM591.4 97.6a2.35 2.35 0 1 0 4.7 0a2.35 2.35 0 1 0 -4.7 0zM582.0 110.1a2.35 2.35 0 1 0 4.7 0a2.35 2.35 0 1 0 -4.7 0zM559.0 108.4a2.35 2.35 0 1 0 4.7 0a2.35 2.35 0 1 0 -4.7 0zM559.9 118.6a2.35 2.35 0 1 0 4.7 0a2.35 2.35 0 1 0 -4.7 0zM553.9 127.4a2.35 2.35 0 1 0 4.7 0a2.35 2.35 0 1 0 -4.7 0zM602.4 137.6a2.35 2.35 0 1 0 4.7 0a2.35 2.35 0 1 0 -4.7 0zM582.0 136.8a2.35 2.35 0 1 0 4.7 0a2.35 2.35 0 1 0 -4.7 0zM582.0 144.4a2.35 2.35 0 1 0 4.7 0a2.35 2.35 0 1 0 -4.7 0zM582.0 151.3a2.35 2.35 0 1 0 4.7 0a2.35 2.35 0 1 0 -4.7 0zM591.4 150.9a2.35 2.35 0 1 0 4.7 0a2.35 2.35 0 1 0 -4.7 0zM582.0 158.1a2.35 2.35 0 1 0 4.7 0a2.35 2.35 0 1 0 -4.7 0zM576.0 170.8a2.35 2.35 0 1 0 4.7 0a2.35 2.35 0 1 0 -4.7 0zM582.0 171.7a2.35 2.35 0 1 0 4.7 0a2.35 2.35 0 1 0 -4.7 0zM560.7 175.9a2.35 2.35 0 1 0 4.7 0a2.35 2.35 0 1 0 -4.7 0zM559.9 182.7a2.35 2.35 0 1 0 4.7 0a2.35 2.35 0 1 0 -4.7 0zM574.3 180.2a2.35 2.35 0 1 0 4.7 0a2.35 2.35 0 1 0 -4.7 0zM591.4 180.2a2.35 2.35 0 1 0 4.7 0a2.35 2.35 0 1 0 -4.7 0zM602.4 185.3a2.35 2.35 0 1 0 4.7 0a2.35 2.35 0 1 0 -4.7 0zM584.5 181.9a2.35 2.35 0 1 0 4.7 0a2.35 2.35 0 1 0 -4.7 0zM594.8 188.7a2.35 2.35 0 1 0 4.7 0a2.35 2.35 0 1 0 -4.7 0zM572.6 188.7a2.35 2.35 0 1 0 4.7 0a2.35 2.35 0 1 0 -4.7 0zM576.0 194.6a2.35 2.35 0 1 0 4.7 0a2.35 2.35 0 1 0 -4.7 0zM621.1 94.8a2.35 2.35 0 1 0 4.7 0a2.35 2.35 0 1 0 -4.7 0zM645.8 108.4a2.35 2.35 0 1 0 4.7 0a2.35 2.35 0 1 0 -4.7 0zM622.0 118.1a2.35 2.35 0 1 0 4.7 0a2.35 2.35 0 1 0 -4.7 0zM627.9 118.6a2.35 2.35 0 1 0 4.7 0a2.35 2.35 0 1 0 -4.7 0zM635.6 150.9a2.35 2.35 0 1 0 4.7 0a2.35 2.35 0 1 0 -4.7 0zM635.6 159.4a2.35 2.35 0 1 0 4.7 0a2.35 2.35 0 1 0 -4.7 0zM625.4 167.4a2.35 2.35 0 1 0 4.7 0a2.35 2.35 0 1 0 -4.7 0zM621.1 172.5a2.35 2.35 0 1 0 4.7 0a2.35 2.35 0 1 0 -4.7 0zM628.8 173.4a2.35 2.35 0 1 0 4.7 0a2.35 2.35 0 1 0 -4.7 0zM637.3 170.8a2.35 2.35 0 1 0 4.7 0a2.35 2.35 0 1 0 -4.7 0zM646.7 180.2a2.35 2.35 0 1 0 4.7 0a2.35 2.35 0 1 0 -4.7 0zM664.5 176.8a2.35 2.35 0 1 0 4.7 0a2.35 2.35 0 1 0 -4.7 0zM664.5 186.1a2.35 2.35 0 1 0 4.7 0a2.35 2.35 0 1 0 -4.7 0zM628.8 183.6a2.35 2.35 0 1 0 4.7 0a2.35 2.35 0 1 0 -4.7 0zM617.7 190.4a2.35 2.35 0 1 0 4.7 0a2.35 2.35 0 1 0 -4.7 0zM629.6 189.5a2.35 2.35 0 1 0 4.7 0a2.35 2.35 0 1 0 -4.7 0zM647.5 186.1a2.35 2.35 0 1 0 4.7 0a2.35 2.35 0 1 0 -4.7 0zM708.2 80.6a2.35 2.35 0 1 0 4.7 0a2.35 2.35 0 1 0 -4.7 0zM709.9 110.4a2.35 2.35 0 1 0 4.7 0a2.35 2.35 0 1 0 -4.7 0zM723.5 123.2a2.35 2.35 0 1 0 4.7 0a2.35 2.35 0 1 0 -4.7 0zM714.1 132.2a2.35 2.35 0 1 0 4.7 0a2.35 2.35 0 1 0 -4.7 0zM731.2 136.3a2.35 2.35 0 1 0 4.7 0a2.35 2.35 0 1 0 -4.7 0zM741.4 139.3a2.35 2.35 0 1 0 4.7 0a2.35 2.35 0 1 0 -4.7 0zM691.2 134.2a2.35 2.35 0 1 0 4.7 0a2.35 2.35 0 1 0 -4.7 0zM697.1 134.6a2.35 2.35 0 1 0 4.7 0a2.35 2.35 0 1 0 -4.7 0zM689.5 141.9a2.35 2.35 0 1 0 4.7 0a2.35 2.35 0 1 0 -4.7 0zM699.7 144.4a2.35 2.35 0 1 0 4.7 0a2.35 2.35 0 1 0 -4.7 0zM704.8 145.3a2.35 2.35 0 1 0 4.7 0a2.35 2.35 0 1 0 -4.7 0zM714.1 141.9a2.35 2.35 0 1 0 4.7 0a2.35 2.35 0 1 0 -4.7 0zM689.5 153.0a2.35 2.35 0 1 0 4.7 0a2.35 2.35 0 1 0 -4.7 0zM698.8 158.1a2.35 2.35 0 1 0 4.7 0a2.35 2.35 0 1 0 -4.7 0zM706.5 151.3a2.35 2.35 0 1 0 4.7 0a2.35 2.35 0 1 0 -4.7 0zM712.4 160.6a2.35 2.35 0 1 0 4.7 0a2.35 2.35 0 1 0 -4.7 0zM734.6 153.8a2.35 2.35 0 1 0 4.7 0a2.35 2.35 0 1 0 -4.7 0zM734.6 159.8a2.35 2.35 0 1 0 4.7 0a2.35 2.35 0 1 0 -4.7 0zM688.6 160.6a2.35 2.35 0 1 0 4.7 0a2.35 2.35 0 1 0 -4.7 0zM690.3 164.9a2.35 2.35 0 1 0 4.7 0a2.35 2.35 0 1 0 -4.7 0zM703.1 170.0a2.35 2.35 0 1 0 4.7 0a2.35 2.35 0 1 0 -4.7 0zM723.5 168.3a2.35 2.35 0 1 0 4.7 0a2.35 2.35 0 1 0 -4.7 0zM692.0 173.4a2.35 2.35 0 1 0 4.7 0a2.35 2.35 0 1 0 -4.7 0zM724.3 175.1a2.35 2.35 0 1 0 4.7 0a2.35 2.35 0 1 0 -4.7 0zM730.3 177.6a2.35 2.35 0 1 0 4.7 0a2.35 2.35 0 1 0 -4.7 0zM737.1 176.8a2.35 2.35 0 1 0 4.7 0a2.35 2.35 0 1 0 -4.7 0zM733.7 181.9a2.35 2.35 0 1 0 4.7 0a2.35 2.35 0 1 0 -4.7 0zM741.4 184.4a2.35 2.35 0 1 0 4.7 0a2.35 2.35 0 1 0 -4.7 0zM695.4 180.2a2.35 2.35 0 1 0 4.7 0a2.35 2.35 0 1 0 -4.7 0zM711.6 180.2a2.35 2.35 0 1 0 4.7 0a2.35 2.35 0 1 0 -4.7 0zM690.3 188.7a2.35 2.35 0 1 0 4.7 0a2.35 2.35 0 1 0 -4.7 0zM699.7 188.7a2.35 2.35 0 1 0 4.7 0a2.35 2.35 0 1 0 -4.7 0zM707.3 188.7a2.35 2.35 0 1 0 4.7 0a2.35 2.35 0 1 0 -4.7 0zM720.9 192.1a2.35 2.35 0 1 0 4.7 0a2.35 2.35 0 1 0 -4.7 0zM779.7 54.6a2.35 2.35 0 1 0 4.7 0a2.35 2.35 0 1 0 -4.7 0zM791.6 64.8a2.35 2.35 0 1 0 4.7 0a2.35 2.35 0 1 0 -4.7 0zM779.7 72.1a2.35 2.35 0 1 0 4.7 0a2.35 2.35 0 1 0 -4.7 0zM786.5 82.3a2.35 2.35 0 1 0 4.7 0a2.35 2.35 0 1 0 -4.7 0zM797.5 84.4a2.35 2.35 0 1 0 4.7 0a2.35 2.35 0 1 0 -4.7 0zM763.5 121.5a2.35 2.35 0 1 0 4.7 0a2.35 2.35 0 1 0 -4.7 0zM765.2 132.5a2.35 2.35 0 1 0 4.7 0a2.35 2.35 0 1 0 -4.7 0zM797.5 137.6a2.35 2.35 0 1 0 4.7 0a2.35 2.35 0 1 0 -4.7 0zM812.8 139.3a2.35 2.35 0 1 0 4.7 0a2.35 2.35 0 1 0 -4.7 0zM797.5 147.0a2.35 2.35 0 1 0 4.7 0a2.35 2.35 0 1 0 -4.7 0zM782.2 149.6a2.35 2.35 0 1 0 4.7 0a2.35 2.35 0 1 0 -4.7 0zM777.1 155.5a2.35 2.35 0 1 0 4.7 0a2.35 2.35 0 1 0 -4.7 0zM778.8 159.8a2.35 2.35 0 1 0 4.7 0a2.35 2.35 0 1 0 -4.7 0zM784.8 167.4a2.35 2.35 0 1 0 4.7 0a2.35 2.35 0 1 0 -4.7 0zM808.6 170.0a2.35 2.35 0 1 0 4.7 0a2.35 2.35 0 1 0 -4.7 0zM778.8 175.1a2.35 2.35 0 1 0 4.7 0a2.35 2.35 0 1 0 -4.7 0zM804.3 175.1a2.35 2.35 0 1 0 4.7 0a2.35 2.35 0 1 0 -4.7 0zM797.5 180.2a2.35 2.35 0 1 0 4.7 0a2.35 2.35 0 1 0 -4.7 0zM807.7 180.2a2.35 2.35 0 1 0 4.7 0a2.35 2.35 0 1 0 -4.7 0zM784.8 183.6a2.35 2.35 0 1 0 4.7 0a2.35 2.35 0 1 0 -4.7 0zM778.8 186.1a2.35 2.35 0 1 0 4.7 0a2.35 2.35 0 1 0 -4.7 0zM790.7 189.5a2.35 2.35 0 1 0 4.7 0a2.35 2.35 0 1 0 -4.7 0zM830.7 110.9a2.35 2.35 0 1 0 4.7 0a2.35 2.35 0 1 0 -4.7 0zM852.0 131.7a2.35 2.35 0 1 0 4.7 0a2.35 2.35 0 1 0 -4.7 0zM835.8 150.4a2.35 2.35 0 1 0 4.7 0a2.35 2.35 0 1 0 -4.7 0zM844.3 160.6a2.35 2.35 0 1 0 4.7 0a2.35 2.35 0 1 0 -4.7 0zM857.9 163.2a2.35 2.35 0 1 0 4.7 0a2.35 2.35 0 1 0 -4.7 0zM837.5 170.0a2.35 2.35 0 1 0 4.7 0a2.35 2.35 0 1 0 -4.7 0zM849.4 178.5a2.35 2.35 0 1 0 4.7 0a2.35 2.35 0 1 0 -4.7 0zM859.6 179.3a2.35 2.35 0 1 0 4.7 0a2.35 2.35 0 1 0 -4.7 0zM855.4 186.1a2.35 2.35 0 1 0 4.7 0a2.35 2.35 0 1 0 -4.7 0zM830.7 187.8a2.35 2.35 0 1 0 4.7 0a2.35 2.35 0 1 0 -4.7 0zM863.0 193.8a2.35 2.35 0 1 0 4.7 0a2.35 2.35 0 1 0 -4.7 0zM939.9 118.1a2.35 2.35 0 1 0 4.7 0a2.35 2.35 0 1 0 -4.7 0zM928.8 137.6a2.35 2.35 0 1 0 4.7 0a2.35 2.35 0 1 0 -4.7 0zM920.3 144.1a2.35 2.35 0 1 0 4.7 0a2.35 2.35 0 1 0 -4.7 0zM906.7 153.0a2.35 2.35 0 1 0 4.7 0a2.35 2.35 0 1 0 -4.7 0zM906.7 158.9a2.35 2.35 0 1 0 4.7 0a2.35 2.35 0 1 0 -4.7 0zM896.5 164.9a2.35 2.35 0 1 0 4.7 0a2.35 2.35 0 1 0 -4.7 0zM898.2 168.3a2.35 2.35 0 1 0 4.7 0a2.35 2.35 0 1 0 -4.7 0zM906.7 178.5a2.35 2.35 0 1 0 4.7 0a2.35 2.35 0 1 0 -4.7 0zM906.7 182.7a2.35 2.35 0 1 0 4.7 0a2.35 2.35 0 1 0 -4.7 0zM906.7 187.0a2.35 2.35 0 1 0 4.7 0a2.35 2.35 0 1 0 -4.7 0zM893.1 187.8a2.35 2.35 0 1 0 4.7 0a2.35 2.35 0 1 0 -4.7 0zM898.2 192.9a2.35 2.35 0 1 0 4.7 0a2.35 2.35 0 1 0 -4.7 0zM908.4 197.2a2.35 2.35 0 1 0 4.7 0a2.35 2.35 0 1 0 -4.7 0zM930.5 191.2a2.35 2.35 0 1 0 4.7 0a2.35 2.35 0 1 0 -4.7 0zM939.9 192.1a2.35 2.35 0 1 0 4.7 0a2.35 2.35 0 1 0 -4.7 0zM942.4 198.1a2.35 2.35 0 1 0 4.7 0a2.35 2.35 0 1 0 -4.7 0zM996.0 91.3a2.35 2.35 0 1 0 4.7 0a2.35 2.35 0 1 0 -4.7 0zM1002.0 110.4a2.35 2.35 0 1 0 4.7 0a2.35 2.35 0 1 0 -4.7 0zM996.0 116.4a2.35 2.35 0 1 0 4.7 0a2.35 2.35 0 1 0 -4.7 0zM1001.1 113.8a2.35 2.35 0 1 0 4.7 0a2.35 2.35 0 1 0 -4.7 0zM1001.1 129.1a2.35 2.35 0 1 0 4.7 0a2.35 2.35 0 1 0 -4.7 0zM963.7 151.6a2.35 2.35 0 1 0 4.7 0a2.35 2.35 0 1 0 -4.7 0zM1001.1 154.7a2.35 2.35 0 1 0 4.7 0a2.35 2.35 0 1 0 -4.7 0zM1001.1 159.8a2.35 2.35 0 1 0 4.7 0a2.35 2.35 0 1 0 -4.7 0zM991.8 164.9a2.35 2.35 0 1 0 4.7 0a2.35 2.35 0 1 0 -4.7 0zM987.5 170.0a2.35 2.35 0 1 0 4.7 0a2.35 2.35 0 1 0 -4.7 0zM963.7 173.0a2.35 2.35 0 1 0 4.7 0a2.35 2.35 0 1 0 -4.7 0zM995.2 171.7a2.35 2.35 0 1 0 4.7 0a2.35 2.35 0 1 0 -4.7 0zM1002.0 173.4a2.35 2.35 0 1 0 4.7 0a2.35 2.35 0 1 0 -4.7 0zM985.8 180.2a2.35 2.35 0 1 0 4.7 0a2.35 2.35 0 1 0 -4.7 0zM990.1 185.3a2.35 2.35 0 1 0 4.7 0a2.35 2.35 0 1 0 -4.7 0zM996.9 182.7a2.35 2.35 0 1 0 4.7 0a2.35 2.35 0 1 0 -4.7 0zM1002.0 184.4a2.35 2.35 0 1 0 4.7 0a2.35 2.35 0 1 0 -4.7 0zM961.1 183.6a2.35 2.35 0 1 0 4.7 0a2.35 2.35 0 1 0 -4.7 0zM1001.1 191.2a2.35 2.35 0 1 0 4.7 0a2.35 2.35 0 1 0 -4.7 0zM981.6 197.2a2.35 2.35 0 1 0 4.7 0a2.35 2.35 0 1 0 -4.7 0zM1015.6 154.7a2.35 2.35 0 1 0 4.7 0a2.35 2.35 0 1 0 -4.7 0zM1020.7 166.6a2.35 2.35 0 1 0 4.7 0a2.35 2.35 0 1 0 -4.7 0zM1016.5 194.6a2.35 2.35 0 1 0 4.7 0a2.35 2.35 0 1 0 -4.7 0zM1037.8 79.8a2.35 2.35 0 1 0 4.7 0a2.35 2.35 0 1 0 -4.7 0zM1037.8 86.2a2.35 2.35 0 1 0 4.7 0a2.35 2.35 0 1 0 -4.7 0zM1037.8 114.2a2.35 2.35 0 1 0 4.7 0a2.35 2.35 0 1 0 -4.7 0zM1037.8 137.3a2.35 2.35 0 1 0 4.7 0a2.35 2.35 0 1 0 -4.7 0zM1032.7 151.6a2.35 2.35 0 1 0 4.7 0a2.35 2.35 0 1 0 -4.7 0zM1048.9 148.7a2.35 2.35 0 1 0 4.7 0a2.35 2.35 0 1 0 -4.7 0zM1060.8 154.7a2.35 2.35 0 1 0 4.7 0a2.35 2.35 0 1 0 -4.7 0zM1037.8 164.9a2.35 2.35 0 1 0 4.7 0a2.35 2.35 0 1 0 -4.7 0zM1048.9 164.9a2.35 2.35 0 1 0 4.7 0a2.35 2.35 0 1 0 -4.7 0zM1059.1 161.5a2.35 2.35 0 1 0 4.7 0a2.35 2.35 0 1 0 -4.7 0zM1060.8 175.1a2.35 2.35 0 1 0 4.7 0a2.35 2.35 0 1 0 -4.7 0zM1048.9 180.2a2.35 2.35 0 1 0 4.7 0a2.35 2.35 0 1 0 -4.7 0zM1060.8 184.4a2.35 2.35 0 1 0 4.7 0a2.35 2.35 0 1 0 -4.7 0zM1032.7 182.7a2.35 2.35 0 1 0 4.7 0a2.35 2.35 0 1 0 -4.7 0zM1032.7 191.2a2.35 2.35 0 1 0 4.7 0a2.35 2.35 0 1 0 -4.7 0zM1037.8 198.1a2.35 2.35 0 1 0 4.7 0a2.35 2.35 0 1 0 -4.7 0zM1094.0 52.5a2.35 2.35 0 1 0 4.7 0a2.35 2.35 0 1 0 -4.7 0zM1111.5 66.5a2.35 2.35 0 1 0 4.7 0a2.35 2.35 0 1 0 -4.7 0zM1094.0 79.8a2.35 2.35 0 1 0 4.7 0a2.35 2.35 0 1 0 -4.7 0zM1102.1 86.2a2.35 2.35 0 1 0 4.7 0a2.35 2.35 0 1 0 -4.7 0zM1071.9 85.4a2.35 2.35 0 1 0 4.7 0a2.35 2.35 0 1 0 -4.7 0zM1072.7 115.5a2.35 2.35 0 1 0 4.7 0a2.35 2.35 0 1 0 -4.7 0zM1109.3 115.5a2.35 2.35 0 1 0 4.7 0a2.35 2.35 0 1 0 -4.7 0zM1102.5 124.9a2.35 2.35 0 1 0 4.7 0a2.35 2.35 0 1 0 -4.7 0zM1076.1 132.5a2.35 2.35 0 1 0 4.7 0a2.35 2.35 0 1 0 -4.7 0zM1072.7 140.2a2.35 2.35 0 1 0 4.7 0a2.35 2.35 0 1 0 -4.7 0zM1077.0 145.3a2.35 2.35 0 1 0 4.7 0a2.35 2.35 0 1 0 -4.7 0zM1104.2 135.9a2.35 2.35 0 1 0 4.7 0a2.35 2.35 0 1 0 -4.7 0zM1111.0 134.2a2.35 2.35 0 1 0 4.7 0a2.35 2.35 0 1 0 -4.7 0zM1111.0 151.3a2.35 2.35 0 1 0 4.7 0a2.35 2.35 0 1 0 -4.7 0zM1084.6 158.1a2.35 2.35 0 1 0 4.7 0a2.35 2.35 0 1 0 -4.7 0zM1094.0 158.1a2.35 2.35 0 1 0 4.7 0a2.35 2.35 0 1 0 -4.7 0zM1101.6 152.1a2.35 2.35 0 1 0 4.7 0a2.35 2.35 0 1 0 -4.7 0zM1100.8 161.5a2.35 2.35 0 1 0 4.7 0a2.35 2.35 0 1 0 -4.7 0zM1072.7 165.7a2.35 2.35 0 1 0 4.7 0a2.35 2.35 0 1 0 -4.7 0zM1090.6 166.6a2.35 2.35 0 1 0 4.7 0a2.35 2.35 0 1 0 -4.7 0zM1077.8 171.7a2.35 2.35 0 1 0 4.7 0a2.35 2.35 0 1 0 -4.7 0zM1112.7 172.5a2.35 2.35 0 1 0 4.7 0a2.35 2.35 0 1 0 -4.7 0zM1072.7 178.5a2.35 2.35 0 1 0 4.7 0a2.35 2.35 0 1 0 -4.7 0zM1089.7 175.9a2.35 2.35 0 1 0 4.7 0a2.35 2.35 0 1 0 -4.7 0zM1101.6 184.4a2.35 2.35 0 1 0 4.7 0a2.35 2.35 0 1 0 -4.7 0zM1109.3 185.3a2.35 2.35 0 1 0 4.7 0a2.35 2.35 0 1 0 -4.7 0zM1110.1 193.8a2.35 2.35 0 1 0 4.7 0a2.35 2.35 0 1 0 -4.7 0zM1086.3 192.9a2.35 2.35 0 1 0 4.7 0a2.35 2.35 0 1 0 -4.7 0zM1139.1 123.2a2.35 2.35 0 1 0 4.7 0a2.35 2.35 0 1 0 -4.7 0zM1141.6 129.1a2.35 2.35 0 1 0 4.7 0a2.35 2.35 0 1 0 -4.7 0zM1162.9 122.3a2.35 2.35 0 1 0 4.7 0a2.35 2.35 0 1 0 -4.7 0zM1141.6 147.0a2.35 2.35 0 1 0 4.7 0a2.35 2.35 0 1 0 -4.7 0zM1139.1 160.6a2.35 2.35 0 1 0 4.7 0a2.35 2.35 0 1 0 -4.7 0zM1161.2 151.3a2.35 2.35 0 1 0 4.7 0a2.35 2.35 0 1 0 -4.7 0zM1161.2 158.9a2.35 2.35 0 1 0 4.7 0a2.35 2.35 0 1 0 -4.7 0zM1143.3 170.8a2.35 2.35 0 1 0 4.7 0a2.35 2.35 0 1 0 -4.7 0zM1139.1 175.1a2.35 2.35 0 1 0 4.7 0a2.35 2.35 0 1 0 -4.7 0zM1151.8 170.8a2.35 2.35 0 1 0 4.7 0a2.35 2.35 0 1 0 -4.7 0zM1151.8 176.8a2.35 2.35 0 1 0 4.7 0a2.35 2.35 0 1 0 -4.7 0zM1151.8 192.9a2.35 2.35 0 1 0 4.7 0a2.35 2.35 0 1 0 -4.7 0zM1159.5 193.8a2.35 2.35 0 1 0 4.7 0a2.35 2.35 0 1 0 -4.7 0zM1128.9 198.9a2.35 2.35 0 1 0 4.7 0a2.35 2.35 0 1 0 -4.7 0zM1208.9 85.4a2.35 2.35 0 1 0 4.7 0a2.35 2.35 0 1 0 -4.7 0zM1196.1 93.0a2.35 2.35 0 1 0 4.7 0a2.35 2.35 0 1 0 -4.7 0zM1199.5 99.9a2.35 2.35 0 1 0 4.7 0a2.35 2.35 0 1 0 -4.7 0zM1198.6 118.6a2.35 2.35 0 1 0 4.7 0a2.35 2.35 0 1 0 -4.7 0zM1197.8 126.6a2.35 2.35 0 1 0 4.7 0a2.35 2.35 0 1 0 -4.7 0zM1208.9 126.6a2.35 2.35 0 1 0 4.7 0a2.35 2.35 0 1 0 -4.7 0zM1209.7 131.7a2.35 2.35 0 1 0 4.7 0a2.35 2.35 0 1 0 -4.7 0zM1188.4 141.0a2.35 2.35 0 1 0 4.7 0a2.35 2.35 0 1 0 -4.7 0zM1196.1 142.7a2.35 2.35 0 1 0 4.7 0a2.35 2.35 0 1 0 -4.7 0zM1173.1 149.6a2.35 2.35 0 1 0 4.7 0a2.35 2.35 0 1 0 -4.7 0zM1180.8 147.0a2.35 2.35 0 1 0 4.7 0a2.35 2.35 0 1 0 -4.7 0zM1187.6 153.0a2.35 2.35 0 1 0 4.7 0a2.35 2.35 0 1 0 -4.7 0zM1198.6 154.7a2.35 2.35 0 1 0 4.7 0a2.35 2.35 0 1 0 -4.7 0zM1196.9 158.1a2.35 2.35 0 1 0 4.7 0a2.35 2.35 0 1 0 -4.7 0zM1173.1 161.5a2.35 2.35 0 1 0 4.7 0a2.35 2.35 0 1 0 -4.7 0zM1182.5 159.8a2.35 2.35 0 1 0 4.7 0a2.35 2.35 0 1 0 -4.7 0zM1172.3 166.6a2.35 2.35 0 1 0 4.7 0a2.35 2.35 0 1 0 -4.7 0zM1188.4 169.1a2.35 2.35 0 1 0 4.7 0a2.35 2.35 0 1 0 -4.7 0zM1208.9 169.1a2.35 2.35 0 1 0 4.7 0a2.35 2.35 0 1 0 -4.7 0zM1202.9 170.8a2.35 2.35 0 1 0 4.7 0a2.35 2.35 0 1 0 -4.7 0zM1177.4 175.1a2.35 2.35 0 1 0 4.7 0a2.35 2.35 0 1 0 -4.7 0zM1196.1 177.6a2.35 2.35 0 1 0 4.7 0a2.35 2.35 0 1 0 -4.7 0zM1201.2 177.6a2.35 2.35 0 1 0 4.7 0a2.35 2.35 0 1 0 -4.7 0zM1188.4 181.9a2.35 2.35 0 1 0 4.7 0a2.35 2.35 0 1 0 -4.7 0zM1195.2 186.1a2.35 2.35 0 1 0 4.7 0a2.35 2.35 0 1 0 -4.7 0zM1207.2 182.7a2.35 2.35 0 1 0 4.7 0a2.35 2.35 0 1 0 -4.7 0zM1205.4 185.3a2.35 2.35 0 1 0 4.7 0a2.35 2.35 0 1 0 -4.7 0z"/>
<text x="2.5" y="370.0" font-size="46" text-anchor="start" fill="#1a1a1a" stroke="#1a1a1a" stroke-width="0.25">B</text>
<line x1="76.4" y1="368.0" x2="76.4" y2="565.0" stroke="#111" stroke-width="2.4"/>
<line x1="75.4" y1="564.0" x2="338.4" y2="564.0" stroke="#111" stroke-width="2.4"/>
<line x1="72.4" y1="558.1" x2="76.4" y2="558.1" stroke="#111" stroke-width="1.8"/>
<text x="73.0" y="564.2" font-size="17" text-anchor="end" fill="#222" stroke="#222" stroke-width="0.25">0</text>
<line x1="72.4" y1="529.0" x2="76.4" y2="529.0" stroke="#111" stroke-width="1.8"/>
<text x="73.0" y="535.1" font-size="17" text-anchor="end" fill="#222" stroke="#222" stroke-width="0.25">10</text>
<line x1="72.4" y1="499.8" x2="76.4" y2="499.8" stroke="#111" stroke-width="1.8"/>
<text x="73.0" y="505.9" font-size="17" text-anchor="end" fill="#222" stroke="#222" stroke-width="0.25">20</text>
<line x1="72.4" y1="470.7" x2="76.4" y2="470.7" stroke="#111" stroke-width="1.8"/>
<text x="73.0" y="476.8" font-size="17" text-anchor="end" fill="#222" stroke="#222" stroke-width="0.25">30</text>
<line x1="72.4" y1="441.5" x2="76.4" y2="441.5" stroke="#111" stroke-width="1.8"/>
<text x="73.0" y="447.6" font-size="17" text-anchor="end" fill="#222" stroke="#222" stroke-width="0.25">40</text>
<line x1="72.4" y1="412.4" x2="76.4" y2="412.4" stroke="#111" stroke-width="1.8"/>
<text x="73.0" y="418.5" font-size="17" text-anchor="end" fill="#222" stroke="#222" stroke-width="0.25">50</text>
<line x1="72.4" y1="383.2" x2="76.4" y2="383.2" stroke="#111" stroke-width="1.8"/>
<text x="73.0" y="389.3" font-size="17" text-anchor="end" fill="#222" stroke="#222" stroke-width="0.25">60</text>
<line x1="89.6" y1="564.0" x2="89.6" y2="567.0" stroke="#111" stroke-width="1.8"/>
<text x="92.8" y="580.8" font-size="17" text-anchor="middle" fill="#222" stroke="#222" stroke-width="0.25">0.34</text>
<line x1="141.6" y1="564.0" x2="141.6" y2="567.0" stroke="#111" stroke-width="1.8"/>
<text x="147.3" y="580.8" font-size="17" text-anchor="middle" fill="#222" stroke="#222" stroke-width="0.25">0.38</text>
<line x1="193.6" y1="564.0" x2="193.6" y2="567.0" stroke="#111" stroke-width="1.8"/>
<text x="199.8" y="580.8" font-size="17" text-anchor="middle" fill="#222" stroke="#222" stroke-width="0.25">0.42</text>
<line x1="245.6" y1="564.0" x2="245.6" y2="567.0" stroke="#111" stroke-width="1.8"/>
<text x="251.5" y="580.8" font-size="17" text-anchor="middle" fill="#222" stroke="#222" stroke-width="0.25">0.46</text>
<line x1="297.6" y1="564.0" x2="297.6" y2="567.0" stroke="#111" stroke-width="1.8"/>
<text x="303.4" y="580.8" font-size="17" text-anchor="middle" fill="#222" stroke="#222" stroke-width="0.25">0.50</text>
<path fill="#d8aeb1" d="M277.5 557.5L277.5 557.5L278.2 557.2L278.8 556.9L279.5 556.4L280.1 556.0L280.8 555.4L281.5 554.7L282.1 553.9L282.8 552.9L283.5 551.8L284.1 550.5L284.8 549.0L285.4 547.3L286.1 545.3L286.8 543.1L287.4 540.6L288.1 537.8L288.8 534.6L289.4 531.1L290.1 527.3L290.8 523.0L291.4 518.4L292.1 513.3L292.7 507.8L293.4 502.0L294.1 495.8L294.7 489.2L295.4 482.3L296.1 475.1L296.7 467.7L297.4 460.2L298.0 452.5L298.7 444.9L299.4 437.3L300.0 429.9L300.7 422.8L301.4 416.1L302.0 409.9L302.7 404.4L303.3 399.7L304.0 396.0L304.7 393.3L305.3 391.9L306.0 392.4L306.6 394.4L307.3 397.7L308.0 402.0L308.6 407.1L309.3 413.0L310.0 419.5L310.6 426.5L311.3 433.8L311.9 441.4L312.6 449.1L313.3 456.9L313.9 464.6L314.6 472.1L315.3 479.5L315.9 486.7L316.6 493.5L317.2 500.0L317.9 506.1L318.6 511.8L319.2 517.1L319.9 522.0L320.6 526.6L321.2 530.7L321.9 534.4L322.6 537.8L323.2 540.8L323.9 543.5L324.5 545.9L325.2 548.0L325.9 549.9L326.5 551.5L327.2 552.9L327.9 554.1L328.5 555.2L329.2 556.1L329.8 556.8L330.5 557.5L330.5 557.5Z"/>
<line x1="305.2" y1="368.0" x2="305.2" y2="558.0" stroke="#9a7680" stroke-width="4.4" stroke-dasharray="1.7 3.6"/>
<line x1="83.7" y1="368.0" x2="83.7" y2="563.0" stroke="#b07e8b" stroke-width="3.6"/>
<text x="191.3" y="605" font-size="23" fill="#222" stroke="#222" stroke-width="0.25">F<tspan font-style="italic">st</tspan></text>
<text x="39.5" y="460.7" font-size="20.6" text-anchor="middle" fill="#111" stroke="#111" stroke-width="0.25" transform="rotate(-90 39.5 460.7)">Density</text>
<text x="356.0" y="370.3" font-size="46" text-anchor="start" fill="#1a1a1a" stroke="#1a1a1a" stroke-width="0.25">C</text>
<line x1="433.3" y1="364.5" x2="433.3" y2="566.8" stroke="#111" stroke-width="2.4"/>
<line x1="432.3" y1="565.8" x2="705.3" y2="565.8" stroke="#111" stroke-width="2.4"/>
<line x1="429.3" y1="563.9" x2="433.3" y2="563.9" stroke="#111" stroke-width="1.8"/>
<text x="427.5" y="570.0" font-size="17" text-anchor="end" fill="#222" stroke="#222" stroke-width="0.25">0</text>
<line x1="429.3" y1="535.8" x2="433.3" y2="535.8" stroke="#111" stroke-width="1.8"/>
<text x="427.5" y="542.0" font-size="17" text-anchor="end" fill="#222" stroke="#222" stroke-width="0.25">50</text>
<line x1="429.3" y1="507.8" x2="433.3" y2="507.8" stroke="#111" stroke-width="1.8"/>
<text x="427.5" y="513.9" font-size="17" text-anchor="end" fill="#222" stroke="#222" stroke-width="0.25">100</text>
<line x1="429.3" y1="479.7" x2="433.3" y2="479.7" stroke="#111" stroke-width="1.8"/>
<text x="427.5" y="485.8" font-size="17" text-anchor="end" fill="#222" stroke="#222" stroke-width="0.25">150</text>
<line x1="429.3" y1="451.7" x2="433.3" y2="451.7" stroke="#111" stroke-width="1.8"/>
<text x="427.5" y="457.8" font-size="17" text-anchor="end" fill="#222" stroke="#222" stroke-width="0.25">200</text>
<line x1="429.3" y1="423.6" x2="433.3" y2="423.6" stroke="#111" stroke-width="1.8"/>
<text x="427.5" y="429.7" font-size="17" text-anchor="end" fill="#222" stroke="#222" stroke-width="0.25">250</text>
<line x1="429.3" y1="395.5" x2="433.3" y2="395.5" stroke="#111" stroke-width="1.8"/>
<text x="427.5" y="401.7" font-size="17" text-anchor="end" fill="#222" stroke="#222" stroke-width="0.25">300</text>
<line x1="429.3" y1="367.5" x2="433.3" y2="367.5" stroke="#111" stroke-width="1.8"/>
<text x="427.5" y="373.6" font-size="17" text-anchor="end" fill="#222" stroke="#222" stroke-width="0.25">350</text>
<line x1="459.6" y1="565.8" x2="459.6" y2="568.8" stroke="#111" stroke-width="1.8"/>
<text x="453.0" y="587.0" font-size="17.4" text-anchor="middle" fill="#222" stroke="#222" stroke-width="0.25">0.180</text>
<line x1="548.5" y1="565.8" x2="548.5" y2="568.8" stroke="#111" stroke-width="1.8"/>
<text x="544.6" y="587.0" font-size="17.4" text-anchor="middle" fill="#222" stroke="#222" stroke-width="0.25">0.190</text>
<line x1="637.0" y1="565.8" x2="637.0" y2="568.8" stroke="#111" stroke-width="1.8"/>
<text x="636.6" y="587.0" font-size="17.4" text-anchor="middle" fill="#222" stroke="#222" stroke-width="0.25">0.200</text>
<path fill="#d7bbc3" d="M635.2 564.3L635.2 564.3L636.0 563.4L636.9 562.4L637.7 561.2L638.6 559.8L639.4 558.3L640.2 556.5L641.1 554.5L641.9 552.3L642.8 549.7L643.6 546.9L644.5 543.8L645.3 540.4L646.1 536.6L647.0 532.4L647.8 527.9L648.7 523.0L649.5 517.7L650.3 512.1L651.2 506.1L652.0 499.8L652.9 493.1L653.7 486.1L654.5 478.9L655.4 471.5L656.2 463.9L657.1 456.2L657.9 448.5L658.8 440.9L659.6 433.4L660.4 426.1L661.3 419.2L662.1 412.7L663.0 406.7L663.8 401.4L664.6 396.9L665.5 393.3L666.3 390.7L667.2 389.4L668.0 389.8L668.9 391.7L669.7 394.7L670.5 398.7L671.4 403.5L672.2 409.0L673.1 415.2L673.9 421.8L674.7 428.8L675.6 436.1L676.4 443.6L677.3 451.2L678.1 458.8L678.9 466.3L679.8 473.8L680.6 481.0L681.5 488.0L682.3 494.8L683.2 501.2L684.0 507.3L684.8 513.1L685.7 518.5L686.5 523.5L687.4 528.2L688.2 532.5L689.0 536.4L689.9 540.0L690.7 543.3L691.6 546.2L692.4 548.9L693.2 551.2L694.1 553.3L694.9 555.2L695.8 556.9L696.6 558.3L697.5 559.6L698.3 560.7L699.1 561.6L700.0 562.5L700.8 563.2L701.7 563.8L702.5 564.3L702.5 564.3Z"/>
<line x1="667.4" y1="367.5" x2="667.4" y2="564.0" stroke="#9a808a" stroke-width="4.4" stroke-dasharray="1.7 3.6"/>
<line x1="447.5" y1="365.0" x2="447.5" y2="565.0" stroke="#b27f8d" stroke-width="3.8"/>
<text x="553" y="609.5" font-size="21.5" fill="#222" stroke="#222" stroke-width="0.25">D<tspan font-style="italic">xy</tspan></text>
<text x="388.5" y="453.7" font-size="20.6" text-anchor="middle" fill="#111" stroke="#111" stroke-width="0.25" transform="rotate(-90 388.5 453.7)">Density</text>
<text x="2.5" y="657.0" font-size="46" text-anchor="start" fill="#1a1a1a" stroke="#1a1a1a" stroke-width="0.25">D</text>
<line x1="76.4" y1="658.0" x2="76.4" y2="855.8" stroke="#111" stroke-width="2.4"/>
<line x1="75.4" y1="854.8" x2="342.0" y2="854.8" stroke="#111" stroke-width="2.4"/>
<line x1="72.4" y1="852.5" x2="76.4" y2="852.5" stroke="#111" stroke-width="1.8"/>
<text x="71.5" y="858.4" font-size="16.4" text-anchor="end" fill="#222" stroke="#222" stroke-width="0.25">0</text>
<line x1="72.4" y1="831.0" x2="76.4" y2="831.0" stroke="#111" stroke-width="1.8"/>
<text x="71.5" y="837.0" font-size="16.4" text-anchor="end" fill="#222" stroke="#222" stroke-width="0.25">200</text>
<line x1="72.4" y1="809.6" x2="76.4" y2="809.6" stroke="#111" stroke-width="1.8"/>
<text x="71.5" y="815.5" font-size="16.4" text-anchor="end" fill="#222" stroke="#222" stroke-width="0.25">400</text>
<line x1="72.4" y1="788.1" x2="76.4" y2="788.1" stroke="#111" stroke-width="1.8"/>
<text x="71.5" y="794.1" font-size="16.4" text-anchor="end" fill="#222" stroke="#222" stroke-width="0.25">600</text>
<line x1="72.4" y1="766.7" x2="76.4" y2="766.7" stroke="#111" stroke-width="1.8"/>
<text x="71.5" y="772.6" font-size="16.4" text-anchor="end" fill="#222" stroke="#222" stroke-width="0.25">800</text>
<line x1="72.4" y1="745.2" x2="76.4" y2="745.2" stroke="#111" stroke-width="1.8"/>
<text x="71.5" y="751.2" font-size="16.4" text-anchor="end" fill="#222" stroke="#222" stroke-width="0.25">1000</text>
<line x1="72.4" y1="723.8" x2="76.4" y2="723.8" stroke="#111" stroke-width="1.8"/>
<text x="71.5" y="729.7" font-size="16.4" text-anchor="end" fill="#222" stroke="#222" stroke-width="0.25">1200</text>
<line x1="72.4" y1="702.4" x2="76.4" y2="702.4" stroke="#111" stroke-width="1.8"/>
<text x="71.5" y="708.3" font-size="16.4" text-anchor="end" fill="#222" stroke="#222" stroke-width="0.25">1400</text>
<line x1="72.4" y1="680.9" x2="76.4" y2="680.9" stroke="#111" stroke-width="1.8"/>
<text x="71.5" y="686.8" font-size="16.4" text-anchor="end" fill="#222" stroke="#222" stroke-width="0.25">1600</text>
<line x1="72.4" y1="659.5" x2="76.4" y2="659.5" stroke="#111" stroke-width="1.8"/>
<text x="71.5" y="665.4" font-size="16.4" text-anchor="end" fill="#222" stroke="#222" stroke-width="0.25">1800</text>
<line x1="105.0" y1="854.8" x2="105.0" y2="857.8" stroke="#111" stroke-width="1.8"/>
<text x="105.0" y="873.8" font-size="17" text-anchor="middle" fill="#222" stroke="#222" stroke-width="0.25">0.019</text>
<line x1="175.0" y1="854.8" x2="175.0" y2="857.8" stroke="#111" stroke-width="1.8"/>
<text x="175.0" y="873.8" font-size="17" text-anchor="middle" fill="#222" stroke="#222" stroke-width="0.25">0.021</text>
<line x1="245.9" y1="854.8" x2="245.9" y2="857.8" stroke="#111" stroke-width="1.8"/>
<text x="245.9" y="873.8" font-size="17" text-anchor="middle" fill="#222" stroke="#222" stroke-width="0.25">0.023</text>
<line x1="316.5" y1="854.8" x2="316.5" y2="857.8" stroke="#111" stroke-width="1.8"/>
<text x="316.5" y="873.8" font-size="17" text-anchor="middle" fill="#222" stroke="#222" stroke-width="0.25">0.025</text>
<path fill="#f3c5c5" d="M85.9 851.5L85.9 851.5L86.6 851.1L87.3 850.7L87.9 850.2L88.6 849.6L89.3 848.8L90.0 847.9L90.7 846.9L91.3 845.7L92.0 844.2L92.7 842.6L93.4 840.6L94.1 838.4L94.7 835.9L95.4 833.0L96.1 829.8L96.8 826.1L97.5 822.1L98.1 817.6L98.8 812.6L99.5 807.2L100.2 801.3L100.9 795.0L101.5 788.2L102.2 781.0L102.9 773.4L103.6 765.5L104.3 757.3L104.9 748.9L105.6 740.5L106.3 732.0L107.0 723.7L107.7 715.6L108.3 707.9L109.0 700.7L109.7 694.2L110.4 688.5L111.1 683.8L111.7 680.4L112.4 678.3L113.1 678.2L113.8 680.0L114.5 683.4L115.1 687.9L115.8 693.4L116.5 699.8L117.2 706.9L117.9 714.6L118.5 722.6L119.2 730.9L119.9 739.4L120.6 747.8L121.3 756.2L121.9 764.4L122.6 772.3L123.3 779.9L124.0 787.2L124.7 794.0L125.3 800.4L126.0 806.3L126.7 811.8L127.4 816.8L128.1 821.3L128.7 825.4L129.4 829.1L130.1 832.4L130.8 835.3L131.5 837.9L132.1 840.1L132.8 842.1L133.5 843.8L134.2 845.2L134.9 846.5L135.5 847.6L136.2 848.5L136.9 849.2L137.6 849.9L138.3 850.4L138.9 850.8L139.6 851.2L140.3 851.5L140.3 851.5Z"/>
<line x1="112.8" y1="658.0" x2="112.8" y2="853.0" stroke="#c99096" stroke-width="4.4" stroke-dasharray="1.7 3.6"/>
<line x1="338.4" y1="658.0" x2="338.4" y2="854.0" stroke="#e2989c" stroke-width="3.4"/>
<text x="212.0" y="655.0" font-size="27" text-anchor="middle" fill="#111" stroke="#111" stroke-width="0.25" font-style="italic" textLength="165" lengthAdjust="spacingAndGlyphs">P. hupehensis</text>
<text x="196.8" y="899.5" font-size="21" text-anchor="middle" fill="#222" stroke="#222" stroke-width="0.25" font-style="italic">&#960;</text>
<text x="20.0" y="765.7" font-size="20.6" text-anchor="middle" fill="#111" stroke="#111" stroke-width="0.25" transform="rotate(-90 20.0 765.7)">Density</text>
<line x1="433.4" y1="656.0" x2="433.4" y2="857.5" stroke="#111" stroke-width="2.4"/>
<line x1="432.4" y1="856.5" x2="705.3" y2="856.5" stroke="#111" stroke-width="2.4"/>
<line x1="429.4" y1="850.9" x2="433.4" y2="850.9" stroke="#111" stroke-width="1.8"/>
<text x="427.4" y="856.8" font-size="16.4" text-anchor="end" fill="#222" stroke="#222" stroke-width="0.25">0</text>
<line x1="429.4" y1="829.4" x2="433.4" y2="829.4" stroke="#111" stroke-width="1.8"/>
<text x="427.4" y="835.3" font-size="16.4" text-anchor="end" fill="#222" stroke="#222" stroke-width="0.25">200</text>
<line x1="429.4" y1="807.9" x2="433.4" y2="807.9" stroke="#111" stroke-width="1.8"/>
<text x="427.4" y="813.8" font-size="16.4" text-anchor="end" fill="#222" stroke="#222" stroke-width="0.25">400</text>
<line x1="429.4" y1="786.4" x2="433.4" y2="786.4" stroke="#111" stroke-width="1.8"/>
<text x="427.4" y="792.3" font-size="16.4" text-anchor="end" fill="#222" stroke="#222" stroke-width="0.25">600</text>
<line x1="429.4" y1="764.9" x2="433.4" y2="764.9" stroke="#111" stroke-width="1.8"/>
<text x="427.4" y="770.8" font-size="16.4" text-anchor="end" fill="#222" stroke="#222" stroke-width="0.25">800</text>
<line x1="429.4" y1="743.5" x2="433.4" y2="743.5" stroke="#111" stroke-width="1.8"/>
<text x="427.4" y="749.4" font-size="16.4" text-anchor="end" fill="#222" stroke="#222" stroke-width="0.25">1000</text>
<line x1="429.4" y1="722.0" x2="433.4" y2="722.0" stroke="#111" stroke-width="1.8"/>
<text x="427.4" y="727.9" font-size="16.4" text-anchor="end" fill="#222" stroke="#222" stroke-width="0.25">1200</text>
<line x1="429.4" y1="700.5" x2="433.4" y2="700.5" stroke="#111" stroke-width="1.8"/>
<text x="427.4" y="706.4" font-size="16.4" text-anchor="end" fill="#222" stroke="#222" stroke-width="0.25">1400</text>
<line x1="429.4" y1="679.0" x2="433.4" y2="679.0" stroke="#111" stroke-width="1.8"/>
<text x="427.4" y="684.9" font-size="16.4" text-anchor="end" fill="#222" stroke="#222" stroke-width="0.25">1600</text>
<line x1="429.4" y1="657.5" x2="433.4" y2="657.5" stroke="#111" stroke-width="1.8"/>
<text x="427.4" y="663.4" font-size="16.4" text-anchor="end" fill="#222" stroke="#222" stroke-width="0.25">1800</text>
<line x1="450.4" y1="856.5" x2="450.4" y2="859.5" stroke="#111" stroke-width="1.8"/>
<text x="450.4" y="877.9" font-size="17" text-anchor="middle" fill="#222" stroke="#222" stroke-width="0.25">0.015</text>
<line x1="509.0" y1="856.5" x2="509.0" y2="859.5" stroke="#111" stroke-width="1.8"/>
<text x="509.0" y="877.9" font-size="17" text-anchor="middle" fill="#222" stroke="#222" stroke-width="0.25">0.017</text>
<line x1="570.4" y1="856.5" x2="570.4" y2="859.5" stroke="#111" stroke-width="1.8"/>
<text x="570.4" y="877.9" font-size="17" text-anchor="middle" fill="#222" stroke="#222" stroke-width="0.25">0.019</text>
<line x1="630.4" y1="856.5" x2="630.4" y2="859.5" stroke="#111" stroke-width="1.8"/>
<text x="630.4" y="877.9" font-size="17" text-anchor="middle" fill="#222" stroke="#222" stroke-width="0.25">0.021</text>
<line x1="687.3" y1="856.5" x2="687.3" y2="859.5" stroke="#111" stroke-width="1.8"/>
<text x="687.3" y="877.9" font-size="17" text-anchor="middle" fill="#222" stroke="#222" stroke-width="0.25">0.023</text>
<path fill="#b5d9c8" d="M435.9 850.8L435.9 850.8L436.5 850.1L437.1 849.3L437.8 848.3L438.4 847.3L439.0 846.0L439.6 844.6L440.3 842.9L440.9 841.0L441.5 838.9L442.1 836.6L442.7 833.9L443.4 830.9L444.0 827.6L444.6 824.0L445.2 820.0L445.9 815.6L446.5 810.8L447.1 805.7L447.7 800.2L448.3 794.3L449.0 788.0L449.6 781.4L450.2 774.5L450.8 767.3L451.5 759.9L452.1 752.3L452.7 744.6L453.3 736.8L454.0 729.0L454.6 721.4L455.2 714.0L455.8 707.0L456.4 700.3L457.1 694.2L457.7 688.8L458.3 684.1L458.9 680.3L459.6 677.6L460.2 676.1L460.8 676.4L461.4 678.3L462.0 681.3L462.7 685.3L463.3 690.2L463.9 695.8L464.5 702.1L465.2 708.8L465.8 716.0L466.4 723.4L467.0 731.0L467.6 738.7L468.3 746.5L468.9 754.1L469.5 761.7L470.1 769.0L470.8 776.1L471.4 782.9L472.0 789.4L472.6 795.5L473.2 801.3L473.9 806.6L474.5 811.7L475.1 816.3L475.7 820.5L476.4 824.4L477.0 827.9L477.6 831.1L478.2 834.0L478.9 836.6L479.5 838.9L480.1 840.9L480.7 842.7L481.3 844.3L482.0 845.7L482.6 846.9L483.2 847.9L483.8 848.8L484.5 849.6L485.1 850.2L485.7 850.8L485.7 850.8Z"/>
<line x1="460.4" y1="658.0" x2="460.4" y2="852.0" stroke="#6e9e88" stroke-width="4.4" stroke-dasharray="1.7 3.6"/>
<line x1="703.2" y1="656.0" x2="703.2" y2="856.0" stroke="#69ad8f" stroke-width="3.4"/>
<text x="565.0" y="652.4" font-size="27" text-anchor="middle" fill="#111" stroke="#111" stroke-width="0.25" font-style="italic" textLength="175.5" lengthAdjust="spacingAndGlyphs">P. macroptera</text>
<text x="575.0" y="897.0" font-size="21" text-anchor="middle" fill="#222" stroke="#222" stroke-width="0.25" font-style="italic">&#960;</text>
<text x="377.0" y="760.2" font-size="20.6" text-anchor="middle" fill="#111" stroke="#111" stroke-width="0.25" transform="rotate(-90 377.0 760.2)">Density</text>
<text x="2.5" y="963.0" font-size="46" text-anchor="start" fill="#1a1a1a" stroke="#1a1a1a" stroke-width="0.25">E</text>
<line x1="76.4" y1="955.0" x2="76.4" y2="1148.7" stroke="#111" stroke-width="2.4"/>
<line x1="75.4" y1="1147.7" x2="337.8" y2="1147.7" stroke="#111" stroke-width="2.4"/>
<line x1="72.4" y1="1143.4" x2="76.4" y2="1143.4" stroke="#111" stroke-width="1.8"/>
<text x="73.0" y="1149.6" font-size="17.3" text-anchor="end" fill="#222" stroke="#222" stroke-width="0.25">0.00</text>
<line x1="72.4" y1="1106.1" x2="76.4" y2="1106.1" stroke="#111" stroke-width="1.8"/>
<text x="73.0" y="1112.3" font-size="17.3" text-anchor="end" fill="#222" stroke="#222" stroke-width="0.25">0.04</text>
<line x1="72.4" y1="1068.7" x2="76.4" y2="1068.7" stroke="#111" stroke-width="1.8"/>
<text x="73.0" y="1074.9" font-size="17.3" text-anchor="end" fill="#222" stroke="#222" stroke-width="0.25">0.08</text>
<line x1="72.4" y1="1031.4" x2="76.4" y2="1031.4" stroke="#111" stroke-width="1.8"/>
<text x="73.0" y="1037.6" font-size="17.3" text-anchor="end" fill="#222" stroke="#222" stroke-width="0.25">0.12</text>
<line x1="72.4" y1="994.0" x2="76.4" y2="994.0" stroke="#111" stroke-width="1.8"/>
<text x="73.0" y="1000.3" font-size="17.3" text-anchor="end" fill="#222" stroke="#222" stroke-width="0.25">0.16</text>
<line x1="72.4" y1="956.7" x2="76.4" y2="956.7" stroke="#111" stroke-width="1.8"/>
<text x="73.0" y="962.9" font-size="17.3" text-anchor="end" fill="#222" stroke="#222" stroke-width="0.25">0.20</text>
<line x1="90.4" y1="1147.7" x2="90.4" y2="1150.7" stroke="#111" stroke-width="1.8"/>
<text x="90.4" y="1166.7" font-size="17" text-anchor="middle" fill="#222" stroke="#222" stroke-width="0.25">110</text>
<line x1="125.4" y1="1147.7" x2="125.4" y2="1150.7" stroke="#111" stroke-width="1.8"/>
<text x="125.4" y="1166.7" font-size="17" text-anchor="middle" fill="#222" stroke="#222" stroke-width="0.25">120</text>
<line x1="160.4" y1="1147.7" x2="160.4" y2="1150.7" stroke="#111" stroke-width="1.8"/>
<text x="160.4" y="1166.7" font-size="17" text-anchor="middle" fill="#222" stroke="#222" stroke-width="0.25">130</text>
<line x1="194.9" y1="1147.7" x2="194.9" y2="1150.7" stroke="#111" stroke-width="1.8"/>
<text x="194.9" y="1166.7" font-size="17" text-anchor="middle" fill="#222" stroke="#222" stroke-width="0.25">140</text>
<line x1="230.5" y1="1147.7" x2="230.5" y2="1150.7" stroke="#111" stroke-width="1.8"/>
<text x="230.5" y="1166.7" font-size="17" text-anchor="middle" fill="#222" stroke="#222" stroke-width="0.25">150</text>
<line x1="267.0" y1="1147.7" x2="267.0" y2="1150.7" stroke="#111" stroke-width="1.8"/>
<text x="267.0" y="1166.7" font-size="17" text-anchor="middle" fill="#222" stroke="#222" stroke-width="0.25">160</text>
<line x1="302.0" y1="1147.7" x2="302.0" y2="1150.7" stroke="#111" stroke-width="1.8"/>
<text x="302.0" y="1166.7" font-size="17" text-anchor="middle" fill="#222" stroke="#222" stroke-width="0.25">170</text>
<line x1="336.0" y1="1147.7" x2="336.0" y2="1150.7" stroke="#111" stroke-width="1.8"/>
<text x="336.0" y="1166.7" font-size="17" text-anchor="middle" fill="#222" stroke="#222" stroke-width="0.25">180</text>
<path fill="#f2bab3" d="M78.8 1143.8L78.8 1143.8L79.4 1142.9L80.1 1141.8L80.7 1140.7L81.3 1139.4L82.0 1138.0L82.6 1136.4L83.3 1134.7L83.9 1132.8L84.5 1130.7L85.2 1128.4L85.8 1125.9L86.5 1123.2L87.1 1120.3L87.7 1117.1L88.4 1113.7L89.0 1110.1L89.6 1106.2L90.3 1102.1L90.9 1097.7L91.5 1093.1L92.2 1088.2L92.8 1083.2L93.5 1077.8L94.1 1072.3L94.7 1066.6L95.4 1060.7L96.0 1054.7L96.7 1048.7L97.3 1042.5L97.9 1036.3L98.6 1030.1L99.2 1024.1L99.8 1018.1L100.5 1012.4L101.1 1006.9L101.8 1001.7L102.4 997.0L103.0 992.7L103.7 989.1L104.3 986.1L104.9 984.0L105.6 983.0L106.2 983.9L106.8 986.0L107.5 989.0L108.1 992.7L108.8 997.0L109.4 1001.9L110.0 1007.1L110.7 1012.8L111.3 1018.7L112.0 1024.8L112.6 1031.0L113.2 1037.3L113.9 1043.7L114.5 1050.1L115.1 1056.3L115.8 1062.5L116.4 1068.6L117.1 1074.4L117.7 1080.1L118.3 1085.6L119.0 1090.9L119.6 1095.9L120.2 1100.7L120.9 1105.2L121.5 1109.5L122.2 1113.5L122.8 1117.2L123.4 1120.7L124.1 1124.0L124.7 1127.0L125.3 1129.8L126.0 1132.4L126.6 1134.8L127.2 1136.9L127.9 1138.9L128.5 1140.7L129.2 1142.3L129.8 1143.8L129.8 1143.8Z"/>
<line x1="105.6" y1="955.0" x2="105.6" y2="1144.0" stroke="#c99096" stroke-width="4.4" stroke-dasharray="1.7 3.6"/>
<line x1="335.5" y1="955.0" x2="335.5" y2="1147.0" stroke="#e2989c" stroke-width="3.4"/>
<text x="210.7" y="953.8" font-size="27" text-anchor="middle" fill="#111" stroke="#111" stroke-width="0.25" font-style="italic" textLength="165" lengthAdjust="spacingAndGlyphs">P. hupehensis</text>
<text x="205.0" y="1194.4" font-size="21.5" text-anchor="middle" fill="#222" stroke="#222" stroke-width="0.25">Rho</text>
<text x="26.0" y="1044.2" font-size="20.6" text-anchor="middle" fill="#111" stroke="#111" stroke-width="0.25" transform="rotate(-90 26.0 1044.2)">Density</text>
<line x1="435.5" y1="948.4" x2="435.5" y2="1150.5" stroke="#111" stroke-width="2.4"/>
<line x1="434.5" y1="1149.5" x2="705.3" y2="1149.5" stroke="#111" stroke-width="2.4"/>
<line x1="431.5" y1="1142.4" x2="435.5" y2="1142.4" stroke="#111" stroke-width="1.8"/>
<text x="431.0" y="1148.5" font-size="17" text-anchor="end" fill="#222" stroke="#222" stroke-width="0.25">0.00</text>
<line x1="431.5" y1="1121.4" x2="435.5" y2="1121.4" stroke="#111" stroke-width="1.8"/>
<text x="431.0" y="1127.5" font-size="17" text-anchor="end" fill="#222" stroke="#222" stroke-width="0.25">0.02</text>
<line x1="431.5" y1="1100.4" x2="435.5" y2="1100.4" stroke="#111" stroke-width="1.8"/>
<text x="431.0" y="1106.5" font-size="17" text-anchor="end" fill="#222" stroke="#222" stroke-width="0.25">0.04</text>
<line x1="431.5" y1="1079.4" x2="435.5" y2="1079.4" stroke="#111" stroke-width="1.8"/>
<text x="431.0" y="1085.5" font-size="17" text-anchor="end" fill="#222" stroke="#222" stroke-width="0.25">0.06</text>
<line x1="431.5" y1="1058.4" x2="435.5" y2="1058.4" stroke="#111" stroke-width="1.8"/>
<text x="431.0" y="1064.6" font-size="17" text-anchor="end" fill="#222" stroke="#222" stroke-width="0.25">0.08</text>
<line x1="431.5" y1="1037.5" x2="435.5" y2="1037.5" stroke="#111" stroke-width="1.8"/>
<text x="431.0" y="1043.6" font-size="17" text-anchor="end" fill="#222" stroke="#222" stroke-width="0.25">0.10</text>
<line x1="431.5" y1="1016.5" x2="435.5" y2="1016.5" stroke="#111" stroke-width="1.8"/>
<text x="431.0" y="1022.6" font-size="17" text-anchor="end" fill="#222" stroke="#222" stroke-width="0.25">0.12</text>
<line x1="431.5" y1="995.5" x2="435.5" y2="995.5" stroke="#111" stroke-width="1.8"/>
<text x="431.0" y="1001.6" font-size="17" text-anchor="end" fill="#222" stroke="#222" stroke-width="0.25">0.14</text>
<line x1="431.5" y1="974.5" x2="435.5" y2="974.5" stroke="#111" stroke-width="1.8"/>
<text x="431.0" y="980.6" font-size="17" text-anchor="end" fill="#222" stroke="#222" stroke-width="0.25">0.16</text>
<line x1="431.5" y1="953.5" x2="435.5" y2="953.5" stroke="#111" stroke-width="1.8"/>
<text x="431.0" y="959.6" font-size="17" text-anchor="end" fill="#222" stroke="#222" stroke-width="0.25">0.18</text>
<line x1="474.4" y1="1149.5" x2="474.4" y2="1152.5" stroke="#111" stroke-width="1.8"/>
<text x="474.4" y="1169.4" font-size="17" text-anchor="middle" fill="#222" stroke="#222" stroke-width="0.25">150</text>
<line x1="513.4" y1="1149.5" x2="513.4" y2="1152.5" stroke="#111" stroke-width="1.8"/>
<text x="513.4" y="1169.4" font-size="17" text-anchor="middle" fill="#222" stroke="#222" stroke-width="0.25">160</text>
<line x1="555.4" y1="1149.5" x2="555.4" y2="1152.5" stroke="#111" stroke-width="1.8"/>
<text x="555.4" y="1169.4" font-size="17" text-anchor="middle" fill="#222" stroke="#222" stroke-width="0.25">170</text>
<line x1="597.4" y1="1149.5" x2="597.4" y2="1152.5" stroke="#111" stroke-width="1.8"/>
<text x="597.4" y="1169.4" font-size="17" text-anchor="middle" fill="#222" stroke="#222" stroke-width="0.25">180</text>
<line x1="639.4" y1="1149.5" x2="639.4" y2="1152.5" stroke="#111" stroke-width="1.8"/>
<text x="639.4" y="1169.4" font-size="17" text-anchor="middle" fill="#222" stroke="#222" stroke-width="0.25">190</text>
<line x1="682.2" y1="1149.5" x2="682.2" y2="1152.5" stroke="#111" stroke-width="1.8"/>
<text x="682.2" y="1169.4" font-size="17" text-anchor="middle" fill="#222" stroke="#222" stroke-width="0.25">200</text>
<path fill="#8fc0a0" d="M442.2 1144.0L442.2 1143.8L448.1 1139.2L453.4 1128.7L456.6 1115.6L459.3 1095.9L461.2 1076.2L462.6 1056.5L463.9 1036.8L465.8 1017.2L468.5 1000.1L471.1 994.9L473.7 987.0L475.7 976.5L476.5 975.0L478.9 987.0L481.6 1004.0L484.2 1023.7L487.5 1043.4L491.4 1069.6L495.4 1095.9L499.3 1119.5L503.2 1135.2L511.1 1143.8L511.1 1144.0Z"/>
<line x1="476.3" y1="948.0" x2="476.3" y2="1144.0" stroke="#5f9278" stroke-width="4.4" stroke-dasharray="1.7 3.6"/>
<line x1="703.0" y1="948.0" x2="703.0" y2="1149.0" stroke="#69ad8f" stroke-width="3.4"/>
<text x="583.0" y="953.5" font-size="27" text-anchor="middle" fill="#111" stroke="#111" stroke-width="0.25" font-style="italic" textLength="175.5" lengthAdjust="spacingAndGlyphs">P. macroptera</text>
<text x="579.5" y="1194.9" font-size="21.5" text-anchor="middle" fill="#222" stroke="#222" stroke-width="0.25">Rho</text>
<text x="383.0" y="1044.1" font-size="20.6" text-anchor="middle" fill="#111" stroke="#111" stroke-width="0.25" transform="rotate(-90 383.0 1044.1)">Density</text>
<text x="2.5" y="1254.0" font-size="45" text-anchor="start" fill="#1a1a1a" stroke="#1a1a1a" stroke-width="0.25">F</text>
<line x1="70.0" y1="1267.0" x2="70.0" y2="1475.0" stroke="#111" stroke-width="2.4"/>
<line x1="69.0" y1="1474.0" x2="348.6" y2="1474.0" stroke="#111" stroke-width="2.4"/>
<line x1="66.0" y1="1469.6" x2="70.0" y2="1469.6" stroke="#111" stroke-width="1.8"/>
<text x="67.0" y="1476.3" font-size="18.5" text-anchor="end" fill="#222" stroke="#222" stroke-width="0.25">0.00</text>
<line x1="66.0" y1="1445.9" x2="70.0" y2="1445.9" stroke="#111" stroke-width="1.8"/>
<text x="67.0" y="1452.6" font-size="18.5" text-anchor="end" fill="#222" stroke="#222" stroke-width="0.25">0.05</text>
<line x1="66.0" y1="1422.2" x2="70.0" y2="1422.2" stroke="#111" stroke-width="1.8"/>
<text x="67.0" y="1428.9" font-size="18.5" text-anchor="end" fill="#222" stroke="#222" stroke-width="0.25">0.10</text>
<line x1="66.0" y1="1398.5" x2="70.0" y2="1398.5" stroke="#111" stroke-width="1.8"/>
<text x="67.0" y="1405.2" font-size="18.5" text-anchor="end" fill="#222" stroke="#222" stroke-width="0.25">0.15</text>
<line x1="66.0" y1="1374.8" x2="70.0" y2="1374.8" stroke="#111" stroke-width="1.8"/>
<text x="67.0" y="1381.5" font-size="18.5" text-anchor="end" fill="#222" stroke="#222" stroke-width="0.25">0.20</text>
<line x1="66.0" y1="1351.1" x2="70.0" y2="1351.1" stroke="#111" stroke-width="1.8"/>
<text x="67.0" y="1357.8" font-size="18.5" text-anchor="end" fill="#222" stroke="#222" stroke-width="0.25">0.25</text>
<line x1="66.0" y1="1327.4" x2="70.0" y2="1327.4" stroke="#111" stroke-width="1.8"/>
<text x="67.0" y="1334.1" font-size="18.5" text-anchor="end" fill="#222" stroke="#222" stroke-width="0.25">0.30</text>
<line x1="66.0" y1="1303.7" x2="70.0" y2="1303.7" stroke="#111" stroke-width="1.8"/>
<text x="67.0" y="1310.4" font-size="18.5" text-anchor="end" fill="#222" stroke="#222" stroke-width="0.25">0.35</text>
<line x1="66.0" y1="1280.0" x2="70.0" y2="1280.0" stroke="#111" stroke-width="1.8"/>
<text x="67.0" y="1286.7" font-size="18.5" text-anchor="end" fill="#222" stroke="#222" stroke-width="0.25">0.40</text>
<line x1="94.8" y1="1474.0" x2="94.8" y2="1477.0" stroke="#111" stroke-width="1.8"/>
<text x="94.8" y="1497.3" font-size="17" text-anchor="middle" fill="#222" stroke="#222" stroke-width="0.25">2</text>
<line x1="148.8" y1="1474.0" x2="148.8" y2="1477.0" stroke="#111" stroke-width="1.8"/>
<text x="148.8" y="1497.3" font-size="17" text-anchor="middle" fill="#222" stroke="#222" stroke-width="0.25">4</text>
<line x1="201.9" y1="1474.0" x2="201.9" y2="1477.0" stroke="#111" stroke-width="1.8"/>
<text x="201.9" y="1497.3" font-size="17" text-anchor="middle" fill="#222" stroke="#222" stroke-width="0.25">6</text>
<line x1="255.3" y1="1474.0" x2="255.3" y2="1477.0" stroke="#111" stroke-width="1.8"/>
<text x="255.3" y="1497.3" font-size="17" text-anchor="middle" fill="#222" stroke="#222" stroke-width="0.25">8</text>
<line x1="308.3" y1="1474.0" x2="308.3" y2="1477.0" stroke="#111" stroke-width="1.8"/>
<text x="308.3" y="1497.3" font-size="17" text-anchor="middle" fill="#222" stroke="#222" stroke-width="0.25">10</text>
<path fill="#ebbfc1" d="M113.8 1470.0L113.8 1469.6L122.0 1466.0L131.3 1458.0L137.0 1446.0L143.0 1428.8L147.0 1410.0L151.7 1385.0L155.0 1365.0L159.0 1341.0L163.0 1320.0L167.7 1303.3L172.0 1292.0L176.5 1287.3L183.0 1286.4L189.6 1286.4L194.0 1294.0L198.4 1306.3L203.0 1320.0L207.0 1332.5L212.0 1350.0L218.8 1373.4L225.0 1395.0L233.4 1420.0L240.0 1435.0L248.0 1446.3L255.0 1455.0L262.5 1461.5L270.0 1463.5L277.0 1463.8L283.0 1464.0L288.8 1465.3L294.0 1467.5L300.5 1469.0L320.0 1468.8L347.0 1468.0L347.0 1470.0Z"/>
<line x1="191.0" y1="1281.5" x2="191.0" y2="1470.0" stroke="#c98a92" stroke-width="4.4" stroke-dasharray="1.7 3.6"/>
<line x1="93.4" y1="1267.0" x2="93.4" y2="1474.0" stroke="#d98a91" stroke-width="3.4"/>
<text x="205.5" y="1256.1" font-size="27" text-anchor="middle" fill="#111" stroke="#111" stroke-width="0.25" font-style="italic" textLength="165" lengthAdjust="spacingAndGlyphs">P. hupehensis</text>
<text x="193.2" y="1529.4" font-size="21.5" text-anchor="middle" fill="#222" stroke="#222" stroke-width="0.25">Deleterious mutation load</text>
<text x="17.5" y="1371.2" font-size="20.6" text-anchor="middle" fill="#111" stroke="#111" stroke-width="0.25" transform="rotate(-90 17.5 1371.2)">Density</text>
<line x1="425.3" y1="1263.0" x2="425.3" y2="1476.5" stroke="#111" stroke-width="2.4"/>
<line x1="424.3" y1="1475.5" x2="712.6" y2="1475.5" stroke="#111" stroke-width="2.4"/>
<line x1="421.3" y1="1471.2" x2="425.3" y2="1471.2" stroke="#111" stroke-width="1.8"/>
<text x="420.0" y="1477.5" font-size="17.4" text-anchor="end" fill="#222" stroke="#222" stroke-width="0.25">0.00</text>
<line x1="421.3" y1="1445.3" x2="425.3" y2="1445.3" stroke="#111" stroke-width="1.8"/>
<line x1="421.3" y1="1419.4" x2="425.3" y2="1419.4" stroke="#111" stroke-width="1.8"/>
<line x1="421.3" y1="1393.5" x2="425.3" y2="1393.5" stroke="#111" stroke-width="1.8"/>
<text x="420.0" y="1399.8" font-size="17.4" text-anchor="end" fill="#222" stroke="#222" stroke-width="0.25">0.15</text>
<line x1="421.3" y1="1367.6" x2="425.3" y2="1367.6" stroke="#111" stroke-width="1.8"/>
<text x="420.0" y="1373.9" font-size="17.4" text-anchor="end" fill="#222" stroke="#222" stroke-width="0.25">0.20</text>
<line x1="421.3" y1="1341.7" x2="425.3" y2="1341.7" stroke="#111" stroke-width="1.8"/>
<text x="420.0" y="1348.0" font-size="17.4" text-anchor="end" fill="#222" stroke="#222" stroke-width="0.25">0.25</text>
<line x1="421.3" y1="1315.8" x2="425.3" y2="1315.8" stroke="#111" stroke-width="1.8"/>
<text x="420.0" y="1322.1" font-size="17.4" text-anchor="end" fill="#222" stroke="#222" stroke-width="0.25">0.30</text>
<line x1="421.3" y1="1289.9" x2="425.3" y2="1289.9" stroke="#111" stroke-width="1.8"/>
<text x="420.0" y="1296.2" font-size="17.4" text-anchor="end" fill="#222" stroke="#222" stroke-width="0.25">0.35</text>
<line x1="421.3" y1="1264.0" x2="425.3" y2="1264.0" stroke="#111" stroke-width="1.8"/>
<text x="420.0" y="1270.3" font-size="17.4" text-anchor="end" fill="#222" stroke="#222" stroke-width="0.25">0.40</text>
<line x1="424.7" y1="1475.5" x2="424.7" y2="1478.5" stroke="#111" stroke-width="1.8"/>
<text x="424.7" y="1496.4" font-size="17" text-anchor="middle" fill="#222" stroke="#222" stroke-width="0.25">1</text>
<line x1="454.0" y1="1475.5" x2="454.0" y2="1478.5" stroke="#111" stroke-width="1.8"/>
<text x="454.0" y="1496.4" font-size="17" text-anchor="middle" fill="#222" stroke="#222" stroke-width="0.25">2</text>
<line x1="482.6" y1="1475.5" x2="482.6" y2="1478.5" stroke="#111" stroke-width="1.8"/>
<text x="482.6" y="1496.4" font-size="17" text-anchor="middle" fill="#222" stroke="#222" stroke-width="0.25">3</text>
<line x1="510.9" y1="1475.5" x2="510.9" y2="1478.5" stroke="#111" stroke-width="1.8"/>
<text x="510.9" y="1496.4" font-size="17" text-anchor="middle" fill="#222" stroke="#222" stroke-width="0.25">4</text>
<line x1="540.2" y1="1475.5" x2="540.2" y2="1478.5" stroke="#111" stroke-width="1.8"/>
<text x="540.2" y="1496.4" font-size="17" text-anchor="middle" fill="#222" stroke="#222" stroke-width="0.25">5</text>
<line x1="568.8" y1="1475.5" x2="568.8" y2="1478.5" stroke="#111" stroke-width="1.8"/>
<text x="568.8" y="1496.4" font-size="17" text-anchor="middle" fill="#222" stroke="#222" stroke-width="0.25">6</text>
<line x1="597.8" y1="1475.5" x2="597.8" y2="1478.5" stroke="#111" stroke-width="1.8"/>
<text x="597.8" y="1496.4" font-size="17" text-anchor="middle" fill="#222" stroke="#222" stroke-width="0.25">7</text>
<line x1="627.3" y1="1475.5" x2="627.3" y2="1478.5" stroke="#111" stroke-width="1.8"/>
<text x="627.3" y="1496.4" font-size="17" text-anchor="middle" fill="#222" stroke="#222" stroke-width="0.25">8</text>
<line x1="656.3" y1="1475.5" x2="656.3" y2="1478.5" stroke="#111" stroke-width="1.8"/>
<text x="656.3" y="1496.4" font-size="17" text-anchor="middle" fill="#222" stroke="#222" stroke-width="0.25">9</text>
<line x1="681.8" y1="1475.5" x2="681.8" y2="1478.5" stroke="#111" stroke-width="1.8"/>
<text x="681.8" y="1496.4" font-size="17" text-anchor="middle" fill="#222" stroke="#222" stroke-width="0.25">10</text>
<line x1="713.6" y1="1475.5" x2="713.6" y2="1478.5" stroke="#111" stroke-width="1.8"/>
<text x="713.6" y="1496.4" font-size="17" text-anchor="middle" fill="#222" stroke="#222" stroke-width="0.25">11</text>
<path fill="#9fcdb9" d="M481.7 1472.0L481.7 1471.2L488.0 1469.0L495.5 1465.6L503.0 1457.0L510.9 1444.0L517.0 1430.0L523.2 1410.2L528.0 1385.0L532.5 1348.6L536.0 1322.0L540.2 1302.4L544.0 1291.0L547.9 1284.0L551.0 1281.5L555.6 1280.8L559.0 1284.0L563.3 1290.0L568.0 1300.0L572.5 1308.5L578.0 1319.0L584.8 1333.2L590.0 1346.0L597.1 1364.0L605.0 1385.0L612.5 1407.1L620.0 1425.0L631.0 1444.0L638.0 1454.0L646.4 1462.5L654.0 1464.0L663.4 1464.0L671.0 1466.0L680.3 1468.7L695.0 1470.5L708.0 1471.2L708.0 1472.0Z"/>
<line x1="567.3" y1="1268.5" x2="567.3" y2="1471.0" stroke="#5f9a80" stroke-width="4.4" stroke-dasharray="1.7 3.6"/>
<line x1="459.5" y1="1263.0" x2="459.5" y2="1475.0" stroke="#5faa8a" stroke-width="3.4"/>
<text x="578.6" y="1256.2" font-size="27" text-anchor="middle" fill="#111" stroke="#111" stroke-width="0.25" font-style="italic" textLength="175.5" lengthAdjust="spacingAndGlyphs">P. macroptera</text>
<text x="571.7" y="1530.3" font-size="21.5" text-anchor="middle" fill="#222" stroke="#222" stroke-width="0.25">Deleterious mutation load</text>
<text x="374.0" y="1370.7" font-size="20.6" text-anchor="middle" fill="#111" stroke="#111" stroke-width="0.25" transform="rotate(-90 374.0 1370.7)">Density</text>
<text x="749.5" y="373.5" font-size="45" text-anchor="start" fill="#1a1a1a" stroke="#1a1a1a" stroke-width="0.25">G</text>
<text x="903.3" y="377.4" font-size="27" text-anchor="middle" fill="#111" stroke="#111" stroke-width="0.25" font-style="italic" textLength="165" lengthAdjust="spacingAndGlyphs">P. hupehensis</text>
<rect x="826.4" y="397.4" width="157.6" height="205.5" fill="none" stroke="#1a1a1a" stroke-width="2.4"/>
<text x="824.3" y="599.3" font-size="16.5" text-anchor="end" fill="#333" stroke="#333" stroke-width="0.25">0.0</text>
<line x1="823.4" y1="593.4" x2="826.4" y2="593.4" stroke="#333" stroke-width="1.5"/>
<text x="824.3" y="529.7" font-size="16.5" text-anchor="end" fill="#333" stroke="#333" stroke-width="0.25">0.2</text>
<line x1="823.4" y1="523.8" x2="826.4" y2="523.8" stroke="#333" stroke-width="1.5"/>
<text x="824.3" y="459.2" font-size="16.5" text-anchor="end" fill="#333" stroke="#333" stroke-width="0.25">0.4</text>
<line x1="823.4" y1="453.3" x2="826.4" y2="453.3" stroke="#333" stroke-width="1.5"/>
<text x="782.0" y="505.4" font-size="20.5" text-anchor="middle" fill="#111" stroke="#111" stroke-width="0.25" transform="rotate(-90 782.0 505.4)">CDS density</text>
<path d="M869.2 416.4V406.9H940.2V416.4" fill="none" stroke="#111" stroke-width="2.2"/>
<text x="904.7" y="421.0" font-size="15" text-anchor="middle" fill="#111" stroke="#111" stroke-width="0.25">**</text>
<line x1="869.2" y1="518.6" x2="869.2" y2="555.0" stroke="#2a2a2a" stroke-width="1.9"/>
<line x1="869.2" y1="581.8" x2="869.2" y2="593.4" stroke="#2a2a2a" stroke-width="1.9"/>
<rect x="842.2" y="555.0" width="54.0" height="26.8" fill="#e8949a" stroke="#2f2f2f" stroke-width="2"/>
<line x1="842.2" y1="569.1" x2="896.2" y2="569.1" stroke="#333" stroke-width="4.5"/>
<circle cx="869.2" cy="508.0" r="1.9" fill="#222"/>
<line x1="940.2" y1="490.0" x2="940.2" y2="544.5" stroke="#2a2a2a" stroke-width="1.9"/>
<line x1="940.2" y1="580.1" x2="940.2" y2="593.4" stroke="#2a2a2a" stroke-width="1.9"/>
<rect x="913.0" y="544.5" width="54.4" height="35.6" fill="#9e9e9e" stroke="#2f2f2f" stroke-width="2"/>
<line x1="913.0" y1="566.0" x2="967.4" y2="566.0" stroke="#333" stroke-width="4.5"/>
<circle cx="940.2" cy="433.2" r="1.9" fill="#222"/>
<circle cx="940.2" cy="437.0" r="1.9" fill="#222"/>
<circle cx="940.2" cy="441.0" r="1.9" fill="#222"/>
<circle cx="940.2" cy="449.0" r="1.9" fill="#222"/>
<circle cx="940.2" cy="457.0" r="1.9" fill="#222"/>
<circle cx="940.2" cy="462.0" r="1.9" fill="#222"/>
<circle cx="940.2" cy="466.0" r="1.9" fill="#222"/>
<circle cx="940.2" cy="470.0" r="1.9" fill="#222"/>
<circle cx="940.2" cy="473.0" r="1.9" fill="#222"/>
<circle cx="940.2" cy="476.0" r="1.9" fill="#222"/>
<circle cx="940.2" cy="479.0" r="1.9" fill="#222"/>
<circle cx="940.2" cy="482.0" r="1.9" fill="#222"/>
<circle cx="940.2" cy="485.0" r="1.9" fill="#222"/>
<circle cx="940.2" cy="488.0" r="1.9" fill="#222"/>
<line x1="869.2" y1="603.0" x2="869.2" y2="606.0" stroke="#333" stroke-width="1.5"/>
<line x1="940.2" y1="603.0" x2="940.2" y2="606.0" stroke="#333" stroke-width="1.5"/>
<text x="1142.6" y="377.3" font-size="27" text-anchor="middle" fill="#111" stroke="#111" stroke-width="0.25" font-style="italic" textLength="175.5" lengthAdjust="spacingAndGlyphs">P. macroptera</text>
<rect x="1064.4" y="395.5" width="158.1" height="205.8" fill="none" stroke="#1a1a1a" stroke-width="2.4"/>
<text x="1061.3" y="597.3" font-size="16.5" text-anchor="end" fill="#333" stroke="#333" stroke-width="0.25">0.0</text>
<line x1="1061.4" y1="591.4" x2="1064.4" y2="591.4" stroke="#333" stroke-width="1.5"/>
<text x="1061.3" y="526.3" font-size="16.5" text-anchor="end" fill="#333" stroke="#333" stroke-width="0.25">0.2</text>
<line x1="1061.4" y1="520.4" x2="1064.4" y2="520.4" stroke="#333" stroke-width="1.5"/>
<text x="1061.3" y="456.3" font-size="16.5" text-anchor="end" fill="#333" stroke="#333" stroke-width="0.25">0.4</text>
<line x1="1061.4" y1="450.4" x2="1064.4" y2="450.4" stroke="#333" stroke-width="1.5"/>
<text x="1021.5" y="502.4" font-size="20.5" text-anchor="middle" fill="#111" stroke="#111" stroke-width="0.25" transform="rotate(-90 1021.5 502.4)">CDS density</text>
<path d="M1107.0 414.4V404.1H1178.0V414.4" fill="none" stroke="#111" stroke-width="2.2"/>
<text x="1142.5" y="419.0" font-size="15" text-anchor="middle" fill="#111" stroke="#111" stroke-width="0.25">*</text>
<line x1="1107.0" y1="507.0" x2="1107.0" y2="549.8" stroke="#2a2a2a" stroke-width="1.9"/>
<line x1="1107.0" y1="580.7" x2="1107.0" y2="591.4" stroke="#2a2a2a" stroke-width="1.9"/>
<rect x="1080.2" y="549.8" width="53.6" height="30.9" fill="#6cb99a" stroke="#2f2f2f" stroke-width="2"/>
<line x1="1080.2" y1="569.8" x2="1133.8" y2="569.8" stroke="#333" stroke-width="4.5"/>
<circle cx="1107.0" cy="505.0" r="1.9" fill="#222"/>
<circle cx="1107.0" cy="479.9" r="1.9" fill="#222"/>
<line x1="1178.0" y1="492.6" x2="1178.0" y2="543.0" stroke="#2a2a2a" stroke-width="1.9"/>
<line x1="1178.0" y1="577.4" x2="1178.0" y2="591.4" stroke="#2a2a2a" stroke-width="1.9"/>
<rect x="1151.0" y="543.0" width="54.0" height="34.4" fill="#9e9e9e" stroke="#2f2f2f" stroke-width="2"/>
<line x1="1151.0" y1="564.3" x2="1205.0" y2="564.3" stroke="#333" stroke-width="4.5"/>
<circle cx="1178.0" cy="431.9" r="1.9" fill="#222"/>
<circle cx="1178.0" cy="436.0" r="1.9" fill="#222"/>
<circle cx="1178.0" cy="440.0" r="1.9" fill="#222"/>
<circle cx="1178.0" cy="448.0" r="1.9" fill="#222"/>
<circle cx="1178.0" cy="455.0" r="1.9" fill="#222"/>
<circle cx="1178.0" cy="460.0" r="1.9" fill="#222"/>
<circle cx="1178.0" cy="464.0" r="1.9" fill="#222"/>
<circle cx="1178.0" cy="468.0" r="1.9" fill="#222"/>
<circle cx="1178.0" cy="471.0" r="1.9" fill="#222"/>
<circle cx="1178.0" cy="474.0" r="1.9" fill="#222"/>
<circle cx="1178.0" cy="477.0" r="1.9" fill="#222"/>
<circle cx="1178.0" cy="480.0" r="1.9" fill="#222"/>
<circle cx="1178.0" cy="483.0" r="1.9" fill="#222"/>
<circle cx="1178.0" cy="486.0" r="1.9" fill="#222"/>
<circle cx="1178.0" cy="489.0" r="1.9" fill="#222"/>
<line x1="1107.0" y1="601.5" x2="1107.0" y2="605.0" stroke="#333" stroke-width="1.5"/>
<line x1="1178.0" y1="601.5" x2="1178.0" y2="605.0" stroke="#333" stroke-width="1.5"/>
<text x="746.0" y="658.0" font-size="46" text-anchor="start" fill="#1a1a1a" stroke="#1a1a1a" stroke-width="0.25">H</text>
<rect x="823.2" y="640.4" width="160.2" height="212.4" fill="none" stroke="#1a1a1a" stroke-width="2.4"/>
<text x="818.4" y="848.4" font-size="17" text-anchor="end" fill="#333" stroke="#333" stroke-width="0.25">0</text>
<line x1="820.2" y1="842.3" x2="823.2" y2="842.3" stroke="#333" stroke-width="1.5"/>
<text x="818.4" y="807.3" font-size="17" text-anchor="end" fill="#333" stroke="#333" stroke-width="0.25">100</text>
<line x1="820.2" y1="801.2" x2="823.2" y2="801.2" stroke="#333" stroke-width="1.5"/>
<text x="818.4" y="767.3" font-size="17" text-anchor="end" fill="#333" stroke="#333" stroke-width="0.25">200</text>
<line x1="820.2" y1="761.2" x2="823.2" y2="761.2" stroke="#333" stroke-width="1.5"/>
<text x="818.4" y="726.8" font-size="17" text-anchor="end" fill="#333" stroke="#333" stroke-width="0.25">300</text>
<line x1="820.2" y1="720.7" x2="823.2" y2="720.7" stroke="#333" stroke-width="1.5"/>
<text x="818.4" y="686.1" font-size="17" text-anchor="end" fill="#333" stroke="#333" stroke-width="0.25">400</text>
<line x1="820.2" y1="680.0" x2="823.2" y2="680.0" stroke="#333" stroke-width="1.5"/>
<text x="783.0" y="752.7" font-size="20" text-anchor="middle" fill="#111" stroke="#111" stroke-width="0.25" transform="rotate(-90 783.0 752.7)">Rho</text>
<path d="M866.8 659.0V650.0H939.1V659.0" fill="none" stroke="#111" stroke-width="2.2"/>
<text x="903.0" y="0.0" font-size="15" text-anchor="middle" fill="#111" stroke="#111" stroke-width="0.25"></text>
<text x="904.5" y="666.0" font-size="16" text-anchor="middle" fill="#111" stroke="#111" stroke-width="0.25">NS.</text>
<line x1="866.8" y1="663.2" x2="866.8" y2="741.8" stroke="#2a2a2a" stroke-width="1.9"/>
<line x1="866.8" y1="806.5" x2="866.8" y2="841.7" stroke="#2a2a2a" stroke-width="1.9"/>
<rect x="839.7" y="741.8" width="54.2" height="64.7" fill="#e8949a" stroke="#2f2f2f" stroke-width="2"/>
<line x1="839.7" y1="775.3" x2="893.9" y2="775.3" stroke="#333" stroke-width="4.5"/>
<line x1="939.1" y1="663.2" x2="939.1" y2="733.8" stroke="#2a2a2a" stroke-width="1.9"/>
<line x1="939.1" y1="806.5" x2="939.1" y2="841.7" stroke="#2a2a2a" stroke-width="1.9"/>
<rect x="911.5" y="733.8" width="55.2" height="72.7" fill="#9e9e9e" stroke="#2f2f2f" stroke-width="2"/>
<line x1="911.5" y1="771.0" x2="966.7" y2="771.0" stroke="#333" stroke-width="4.5"/>
<line x1="866.8" y1="853.0" x2="866.8" y2="857.0" stroke="#333" stroke-width="1.5"/>
<line x1="939.1" y1="853.0" x2="939.1" y2="857.0" stroke="#333" stroke-width="1.5"/>
<rect x="1062.3" y="639.6" width="157.5" height="208.9" fill="none" stroke="#1a1a1a" stroke-width="2.4"/>
<text x="1057.2" y="844.7" font-size="17" text-anchor="end" fill="#333" stroke="#333" stroke-width="0.25">0</text>
<line x1="1059.3" y1="838.6" x2="1062.3" y2="838.6" stroke="#333" stroke-width="1.5"/>
<text x="1057.2" y="804.8" font-size="17" text-anchor="end" fill="#333" stroke="#333" stroke-width="0.25">100</text>
<line x1="1059.3" y1="798.7" x2="1062.3" y2="798.7" stroke="#333" stroke-width="1.5"/>
<text x="1057.2" y="764.4" font-size="17" text-anchor="end" fill="#333" stroke="#333" stroke-width="0.25">200</text>
<line x1="1059.3" y1="758.3" x2="1062.3" y2="758.3" stroke="#333" stroke-width="1.5"/>
<text x="1057.2" y="724.5" font-size="17" text-anchor="end" fill="#333" stroke="#333" stroke-width="0.25">300</text>
<line x1="1059.3" y1="718.4" x2="1062.3" y2="718.4" stroke="#333" stroke-width="1.5"/>
<text x="1057.2" y="684.4" font-size="17" text-anchor="end" fill="#333" stroke="#333" stroke-width="0.25">400</text>
<line x1="1059.3" y1="678.3" x2="1062.3" y2="678.3" stroke="#333" stroke-width="1.5"/>
<text x="1024.0" y="752.3" font-size="20" text-anchor="middle" fill="#111" stroke="#111" stroke-width="0.25" transform="rotate(-90 1024.0 752.3)">Rho</text>
<path d="M1105.6 658.0V648.8H1177.2V658.0" fill="none" stroke="#111" stroke-width="2.2"/>
<text x="1141.4" y="0.0" font-size="15" text-anchor="middle" fill="#111" stroke="#111" stroke-width="0.25"></text>
<text x="1142.2" y="665.0" font-size="16" text-anchor="middle" fill="#111" stroke="#111" stroke-width="0.25">NS.</text>
<line x1="1105.6" y1="691.0" x2="1105.6" y2="738.8" stroke="#2a2a2a" stroke-width="1.9"/>
<line x1="1105.6" y1="781.0" x2="1105.6" y2="838.2" stroke="#2a2a2a" stroke-width="1.9"/>
<rect x="1078.4" y="738.8" width="54.4" height="42.2" fill="#6cb99a" stroke="#2f2f2f" stroke-width="2"/>
<line x1="1078.4" y1="759.4" x2="1132.8" y2="759.4" stroke="#333" stroke-width="4.5"/>
<circle cx="1105.6" cy="669.4" r="1.9" fill="#222"/>
<circle cx="1105.6" cy="657.0" r="1.9" fill="#222"/>
<line x1="1177.2" y1="648.8" x2="1177.2" y2="730.5" stroke="#2a2a2a" stroke-width="1.9"/>
<line x1="1177.2" y1="782.6" x2="1177.2" y2="838.0" stroke="#2a2a2a" stroke-width="1.9"/>
<rect x="1150.2" y="730.5" width="54.0" height="52.1" fill="#9e9e9e" stroke="#2f2f2f" stroke-width="2"/>
<line x1="1150.2" y1="756.9" x2="1204.2" y2="756.9" stroke="#333" stroke-width="4.5"/>
<line x1="1105.6" y1="849.0" x2="1105.6" y2="853.0" stroke="#333" stroke-width="1.5"/>
<line x1="1177.2" y1="849.0" x2="1177.2" y2="853.0" stroke="#333" stroke-width="1.5"/>
<rect x="759.4" y="867.4" width="4.4" height="30.1" fill="#111"/>
<rect x="823.2" y="887.4" width="160.8" height="216.6" fill="none" stroke="#1a1a1a" stroke-width="2.4"/>
<text x="817.5" y="1100.0" font-size="17" text-anchor="end" fill="#333" stroke="#333" stroke-width="0.25">0.0</text>
<line x1="820.2" y1="1093.9" x2="823.2" y2="1093.9" stroke="#333" stroke-width="1.5"/>
<text x="817.5" y="1053.2" font-size="17" text-anchor="end" fill="#333" stroke="#333" stroke-width="0.25">0.025</text>
<line x1="820.2" y1="1047.1" x2="823.2" y2="1047.1" stroke="#333" stroke-width="1.5"/>
<text x="817.5" y="1006.2" font-size="17" text-anchor="end" fill="#333" stroke="#333" stroke-width="0.25">0.05</text>
<line x1="820.2" y1="1000.1" x2="823.2" y2="1000.1" stroke="#333" stroke-width="1.5"/>
<text x="817.5" y="958.8" font-size="17" text-anchor="end" fill="#333" stroke="#333" stroke-width="0.25">0.075</text>
<line x1="820.2" y1="952.7" x2="823.2" y2="952.7" stroke="#333" stroke-width="1.5"/>
<text x="817.5" y="911.4" font-size="17" text-anchor="end" fill="#333" stroke="#333" stroke-width="0.25">0.1</text>
<line x1="820.2" y1="905.3" x2="823.2" y2="905.3" stroke="#333" stroke-width="1.5"/>
<text x="772.5" y="999.6" font-size="19" text-anchor="middle" fill="#111" stroke="#111" stroke-width="0.25" font-style="italic" transform="rotate(-90 772.5 999.6)">&#960;</text>
<path d="M866.8 906.0V897.5H939.7V906.0" fill="none" stroke="#111" stroke-width="2.2"/>
<text x="903.2" y="911.0" font-size="15" text-anchor="middle" fill="#111" stroke="#111" stroke-width="0.25">***</text>
<line x1="866.8" y1="1002.9" x2="866.8" y2="1041.6" stroke="#2a2a2a" stroke-width="1.9"/>
<line x1="866.8" y1="1072.4" x2="866.8" y2="1090.7" stroke="#2a2a2a" stroke-width="1.9"/>
<rect x="839.2" y="1041.6" width="55.2" height="30.8" fill="#f8766d" stroke="#2f2f2f" stroke-width="2"/>
<line x1="839.2" y1="1057.6" x2="894.4" y2="1057.6" stroke="#333" stroke-width="4.5"/>
<circle cx="866.8" cy="975.5" r="1.9" fill="#222"/>
<circle cx="866.8" cy="985.8" r="1.9" fill="#222"/>
<circle cx="866.8" cy="996.5" r="1.9" fill="#222"/>
<line x1="939.7" y1="977.0" x2="939.7" y2="1027.9" stroke="#2a2a2a" stroke-width="1.9"/>
<line x1="939.7" y1="1064.0" x2="939.7" y2="1092.8" stroke="#2a2a2a" stroke-width="1.9"/>
<rect x="911.7" y="1027.9" width="56.0" height="36.1" fill="#00bcc4" stroke="#2f2f2f" stroke-width="2"/>
<line x1="911.7" y1="1046.5" x2="967.7" y2="1046.5" stroke="#333" stroke-width="4.5"/>
<circle cx="939.7" cy="939.0" r="1.9" fill="#222"/>
<circle cx="939.7" cy="950.6" r="1.9" fill="#222"/>
<circle cx="939.7" cy="955.0" r="1.9" fill="#222"/>
<circle cx="939.7" cy="959.0" r="1.9" fill="#222"/>
<circle cx="939.7" cy="963.0" r="1.9" fill="#222"/>
<circle cx="939.7" cy="967.0" r="1.9" fill="#222"/>
<circle cx="939.7" cy="970.6" r="1.9" fill="#222"/>
<line x1="866.8" y1="1104.0" x2="866.8" y2="1108.0" stroke="#333" stroke-width="1.5"/>
<line x1="939.7" y1="1104.0" x2="939.7" y2="1108.0" stroke="#333" stroke-width="1.5"/>
<text x="852.2" y="1126.5" font-size="17" text-anchor="middle" fill="#222" stroke="#222" stroke-width="0.25">Adaptive</text>
<text x="936.8" y="1126.5" font-size="17" text-anchor="middle" fill="#222" stroke="#222" stroke-width="0.25">Non-adaptive</text>
<rect x="1062.3" y="887.2" width="158.1" height="216.7" fill="none" stroke="#1a1a1a" stroke-width="2.4"/>
<text x="1057.2" y="1099.7" font-size="17" text-anchor="end" fill="#333" stroke="#333" stroke-width="0.25">0.0</text>
<line x1="1059.3" y1="1093.6" x2="1062.3" y2="1093.6" stroke="#333" stroke-width="1.5"/>
<text x="1057.2" y="1052.4" font-size="17" text-anchor="end" fill="#333" stroke="#333" stroke-width="0.25">0.025</text>
<line x1="1059.3" y1="1046.3" x2="1062.3" y2="1046.3" stroke="#333" stroke-width="1.5"/>
<text x="1057.2" y="1005.1" font-size="17" text-anchor="end" fill="#333" stroke="#333" stroke-width="0.25">0.05</text>
<line x1="1059.3" y1="999.0" x2="1062.3" y2="999.0" stroke="#333" stroke-width="1.5"/>
<text x="1057.2" y="957.7" font-size="17" text-anchor="end" fill="#333" stroke="#333" stroke-width="0.25">0.075</text>
<line x1="1059.3" y1="951.6" x2="1062.3" y2="951.6" stroke="#333" stroke-width="1.5"/>
<text x="1057.2" y="910.4" font-size="17" text-anchor="end" fill="#333" stroke="#333" stroke-width="0.25">0.1</text>
<line x1="1059.3" y1="904.3" x2="1062.3" y2="904.3" stroke="#333" stroke-width="1.5"/>
<text x="1012.0" y="1000.5" font-size="19" text-anchor="middle" fill="#111" stroke="#111" stroke-width="0.25" font-style="italic" transform="rotate(-90 1012.0 1000.5)">&#960;</text>
<path d="M1105.6 905.3V897.0H1177.2V905.3" fill="none" stroke="#111" stroke-width="2.2"/>
<text x="1141.4" y="911.0" font-size="15" text-anchor="middle" fill="#111" stroke="#111" stroke-width="0.25">***</text>
<line x1="1105.6" y1="1001.6" x2="1105.6" y2="1044.2" stroke="#2a2a2a" stroke-width="1.9"/>
<line x1="1105.6" y1="1073.5" x2="1105.6" y2="1091.6" stroke="#2a2a2a" stroke-width="1.9"/>
<rect x="1078.4" y="1044.2" width="54.4" height="29.3" fill="#6cb99a" stroke="#2f2f2f" stroke-width="2"/>
<line x1="1078.4" y1="1061.7" x2="1132.8" y2="1061.7" stroke="#333" stroke-width="4.5"/>
<circle cx="1105.6" cy="986.6" r="1.9" fill="#222"/>
<circle cx="1105.6" cy="991.0" r="1.9" fill="#222"/>
<circle cx="1105.6" cy="996.9" r="1.9" fill="#222"/>
<line x1="1177.2" y1="978.4" x2="1177.2" y2="1031.5" stroke="#2a2a2a" stroke-width="1.9"/>
<line x1="1177.2" y1="1069.6" x2="1177.2" y2="1092.6" stroke="#2a2a2a" stroke-width="1.9"/>
<rect x="1150.2" y="1031.5" width="54.0" height="38.1" fill="#9e9e9e" stroke="#2f2f2f" stroke-width="2"/>
<line x1="1150.2" y1="1052.9" x2="1204.2" y2="1052.9" stroke="#333" stroke-width="4.5"/>
<circle cx="1177.2" cy="942.3" r="1.9" fill="#222"/>
<circle cx="1177.2" cy="952.0" r="1.9" fill="#222"/>
<circle cx="1177.2" cy="955.0" r="1.9" fill="#222"/>
<circle cx="1177.2" cy="958.0" r="1.9" fill="#222"/>
<circle cx="1177.2" cy="962.0" r="1.9" fill="#222"/>
<circle cx="1177.2" cy="966.0" r="1.9" fill="#222"/>
<circle cx="1177.2" cy="970.0" r="1.9" fill="#222"/>
<circle cx="1177.2" cy="974.0" r="1.9" fill="#222"/>
<circle cx="1177.2" cy="978.0" r="1.9" fill="#222"/>
<line x1="1105.6" y1="1104.0" x2="1105.6" y2="1108.0" stroke="#333" stroke-width="1.5"/>
<line x1="1177.2" y1="1104.0" x2="1177.2" y2="1108.0" stroke="#333" stroke-width="1.5"/>
<text x="1092.2" y="1124.5" font-size="17" text-anchor="middle" fill="#222" stroke="#222" stroke-width="0.25">Adaptive</text>
<text x="1176.5" y="1124.5" font-size="17" text-anchor="middle" fill="#222" stroke="#222" stroke-width="0.25">Non-adaptive</text>
<text x="746.0" y="1197.0" font-size="43" text-anchor="start" fill="#1a1a1a" stroke="#1a1a1a" stroke-width="0.25">J</text>
<rect x="971.0" y="1172.8" width="254.2" height="302.2" fill="none" stroke="#4a4a4a" stroke-width="1.5"/>
<rect x="982.2" y="1181.2" width="195.3" height="32.0" fill="#f061e2"/>
<text x="963.4" y="1201.0" font-size="17.4" text-anchor="end" fill="#262626" stroke="#262626" stroke-width="0.15">response to water</text>
<line x1="967.5" y1="1197.2" x2="970.5" y2="1197.2" stroke="#333" stroke-width="1.5"/>
<rect x="982.2" y="1222.9" width="106.1" height="33.2" fill="#619cff"/>
<text x="963.4" y="1243.3" font-size="17.4" text-anchor="end" fill="#262626" stroke="#262626" stroke-width="0.15">response to UV&#8722;B</text>
<line x1="967.5" y1="1239.5" x2="970.5" y2="1239.5" stroke="#333" stroke-width="1.5"/>
<rect x="982.2" y="1265.3" width="231.4" height="32.8" fill="#00bec4"/>
<text x="963.4" y="1285.5" font-size="17.4" text-anchor="end" fill="#262626" stroke="#262626" stroke-width="0.15">response to cold</text>
<line x1="967.5" y1="1281.7" x2="970.5" y2="1281.7" stroke="#333" stroke-width="1.5"/>
<rect x="982.2" y="1307.3" width="88.5" height="32.9" fill="#00bec4"/>
<text x="963.4" y="1327.5" font-size="17.4" text-anchor="end" fill="#262626" stroke="#262626" stroke-width="0.15">response to heat</text>
<line x1="967.5" y1="1323.8" x2="970.5" y2="1323.8" stroke="#333" stroke-width="1.5"/>
<rect x="982.2" y="1349.4" width="88.5" height="32.8" fill="#00ba38"/>
<text x="963.4" y="1369.6" font-size="17.4" text-anchor="end" fill="#262626" stroke="#262626" stroke-width="0.15">response to hypoxia</text>
<line x1="967.5" y1="1365.8" x2="970.5" y2="1365.8" stroke="#333" stroke-width="1.5"/>
<rect x="982.2" y="1391.4" width="34.8" height="34.0" fill="#b79f00"/>
<text x="963.4" y="1412.2" font-size="17.4" text-anchor="end" fill="#262626" stroke="#262626" stroke-width="0.15">response to light intensity</text>
<line x1="967.5" y1="1408.4" x2="970.5" y2="1408.4" stroke="#333" stroke-width="1.5"/>
<rect x="982.2" y="1433.4" width="52.8" height="33.6" fill="#f8766d"/>
<text x="963.4" y="1454.0" font-size="17.4" text-anchor="end" fill="#262626" stroke="#262626" stroke-width="0.15">photoperiodism, flowering</text>
<line x1="967.5" y1="1450.2" x2="970.5" y2="1450.2" stroke="#333" stroke-width="1.5"/>
<line x1="980.2" y1="1475.0" x2="980.2" y2="1479.0" stroke="#333" stroke-width="1.2"/>
<text x="980.2" y="1494.3" font-size="15" text-anchor="middle" fill="#555" style='font-family:"Liberation Serif",serif'>0</text>
<line x1="1070.7" y1="1475.0" x2="1070.7" y2="1479.0" stroke="#333" stroke-width="1.2"/>
<text x="1070.7" y="1494.3" font-size="15" text-anchor="middle" fill="#555" style='font-family:"Liberation Serif",serif'>5</text>
<line x1="1161.5" y1="1475.0" x2="1161.5" y2="1479.0" stroke="#333" stroke-width="1.2"/>
<text x="1161.5" y="1494.3" font-size="15" text-anchor="middle" fill="#555" style='font-family:"Liberation Serif",serif'>10</text>
<text x="1113.5" y="1524.3" font-size="21.7" text-anchor="middle" fill="#111" stroke="#111" stroke-width="0.25">Gene number</text>
<text x="789.0" y="1315.0" font-size="21.9" text-anchor="middle" fill="#111" stroke="#111" stroke-width="0.25" transform="rotate(-90 789.0 1315.0)">GO term</text>
</svg></body></html>
